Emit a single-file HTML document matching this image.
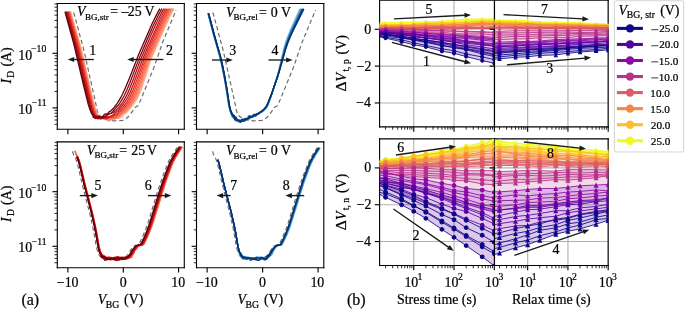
<!DOCTYPE html>
<html><head><meta charset="utf-8"><title>figure</title>
<style>
html,body{margin:0;padding:0;background:#fff;width:685px;height:310px;overflow:hidden}
.wrap{position:relative;width:685px;height:310px}
svg{display:block;position:absolute;left:0;top:0}
svg.o{font-family:"Liberation Serif",serif;fill:#000;will-change:transform}
svg.o text{stroke:#000;stroke-width:0.22px}
</style></head><body><div class="wrap">

<svg class="g" width="685" height="310" viewBox="0 0 493.2 223.2" version="1.1">
<defs>
<style type="text/css">*{stroke-linejoin: round; stroke-linecap: butt}</style>
</defs>
<g id="figure_1">
<g id="patch_1">
<path d="M 0 223.2 
L 493.2 223.2 
L 493.2 0 
L 0 0 
z
" style="fill: #ffffff"/>
</g>
<g id="axes_1">
<g id="patch_2">
<path d="M 41.25 93.09 
L 132.69 93.09 
L 132.69 2.52 
L 41.25 2.52 
z
" style="fill: #ffffff"/>
</g>
<g id="matplotlib.axis_1">
<g id="xtick_1">
<g id="line2d_1">
<defs>
<path id="m1cd49489bd" d="M 0 0 
L 0 3.5 
" style="stroke: #000000; stroke-width: 0.8"/>
</defs>
<g>
<use href="#m1cd49489bd" x="48.88" y="93.09" style="stroke: #000000; stroke-width: 0.8"/>
</g>
</g>
</g>
<g id="xtick_2">
<g id="line2d_2">
<g>
<use href="#m1cd49489bd" x="88.77" y="93.09" style="stroke: #000000; stroke-width: 0.8"/>
</g>
</g>
</g>
<g id="xtick_3">
<g id="line2d_3">
<g>
<use href="#m1cd49489bd" x="128.59" y="93.09" style="stroke: #000000; stroke-width: 0.8"/>
</g>
</g>
</g>
</g>
<g id="matplotlib.axis_2">
<g id="ytick_1">
<g id="line2d_4">
<defs>
<path id="m6b28ea1482" d="M 0 0 
L -3.5 0 
" style="stroke: #000000; stroke-width: 0.8"/>
</defs>
<g>
<use href="#m6b28ea1482" x="41.25" y="38.37" style="stroke: #000000; stroke-width: 0.8"/>
</g>
</g>
</g>
<g id="ytick_2">
<g id="line2d_5">
<g>
<use href="#m6b28ea1482" x="41.25" y="77.68" style="stroke: #000000; stroke-width: 0.8"/>
</g>
</g>
</g>
<g id="ytick_3">
<g id="line2d_6">
<defs>
<path id="m0d16899ba4" d="M 0 0 
L -2 0 
" style="stroke: #000000; stroke-width: 0.6"/>
</defs>
<g>
<use href="#m0d16899ba4" x="41.25" y="26.54" style="stroke: #000000; stroke-width: 0.6"/>
</g>
</g>
</g>
<g id="ytick_4">
<g id="line2d_7">
<g>
<use href="#m0d16899ba4" x="41.25" y="19.61" style="stroke: #000000; stroke-width: 0.6"/>
</g>
</g>
</g>
<g id="ytick_5">
<g id="line2d_8">
<g>
<use href="#m0d16899ba4" x="41.25" y="14.70" style="stroke: #000000; stroke-width: 0.6"/>
</g>
</g>
</g>
<g id="ytick_6">
<g id="line2d_9">
<g>
<use href="#m0d16899ba4" x="41.25" y="10.89" style="stroke: #000000; stroke-width: 0.6"/>
</g>
</g>
</g>
<g id="ytick_7">
<g id="line2d_10">
<g>
<use href="#m0d16899ba4" x="41.25" y="7.78" style="stroke: #000000; stroke-width: 0.6"/>
</g>
</g>
</g>
<g id="ytick_8">
<g id="line2d_11">
<g>
<use href="#m0d16899ba4" x="41.25" y="5.15" style="stroke: #000000; stroke-width: 0.6"/>
</g>
</g>
</g>
<g id="ytick_9">
<g id="line2d_12">
<g>
<use href="#m0d16899ba4" x="41.25" y="2.87" style="stroke: #000000; stroke-width: 0.6"/>
</g>
</g>
</g>
<g id="ytick_10">
<g id="line2d_13">
<g>
<use href="#m0d16899ba4" x="41.25" y="65.85" style="stroke: #000000; stroke-width: 0.6"/>
</g>
</g>
</g>
<g id="ytick_11">
<g id="line2d_14">
<g>
<use href="#m0d16899ba4" x="41.25" y="58.93" style="stroke: #000000; stroke-width: 0.6"/>
</g>
</g>
</g>
<g id="ytick_12">
<g id="line2d_15">
<g>
<use href="#m0d16899ba4" x="41.25" y="54.01" style="stroke: #000000; stroke-width: 0.6"/>
</g>
</g>
</g>
<g id="ytick_13">
<g id="line2d_16">
<g>
<use href="#m0d16899ba4" x="41.25" y="50.21" style="stroke: #000000; stroke-width: 0.6"/>
</g>
</g>
</g>
<g id="ytick_14">
<g id="line2d_17">
<g>
<use href="#m0d16899ba4" x="41.25" y="47.09" style="stroke: #000000; stroke-width: 0.6"/>
</g>
</g>
</g>
<g id="ytick_15">
<g id="line2d_18">
<g>
<use href="#m0d16899ba4" x="41.25" y="44.46" style="stroke: #000000; stroke-width: 0.6"/>
</g>
</g>
</g>
<g id="ytick_16">
<g id="line2d_19">
<g>
<use href="#m0d16899ba4" x="41.25" y="42.18" style="stroke: #000000; stroke-width: 0.6"/>
</g>
</g>
</g>
<g id="ytick_17">
<g id="line2d_20">
<g>
<use href="#m0d16899ba4" x="41.25" y="40.17" style="stroke: #000000; stroke-width: 0.6"/>
</g>
</g>
</g>
<g id="ytick_18">
<g id="line2d_21">
<g>
<use href="#m0d16899ba4" x="41.25" y="89.52" style="stroke: #000000; stroke-width: 0.6"/>
</g>
</g>
</g>
<g id="ytick_19">
<g id="line2d_22">
<g>
<use href="#m0d16899ba4" x="41.25" y="86.40" style="stroke: #000000; stroke-width: 0.6"/>
</g>
</g>
</g>
<g id="ytick_20">
<g id="line2d_23">
<g>
<use href="#m0d16899ba4" x="41.25" y="83.77" style="stroke: #000000; stroke-width: 0.6"/>
</g>
</g>
</g>
<g id="ytick_21">
<g id="line2d_24">
<g>
<use href="#m0d16899ba4" x="41.25" y="81.49" style="stroke: #000000; stroke-width: 0.6"/>
</g>
</g>
</g>
<g id="ytick_22">
<g id="line2d_25">
<g>
<use href="#m0d16899ba4" x="41.25" y="79.48" style="stroke: #000000; stroke-width: 0.6"/>
</g>
</g>
</g>
</g>
<g id="line2d_26">
<path d="M 53.06 9 
L 54.18 13.05 
L 57.64 26.01 
L 59.63 33.10 
L 61.39 40.53 
L 69.22 75.79 
L 69.89 79.48 
L 70.46 81.39 
L 70.90 82.28 
L 71.58 83.13 
L 72.58 84.02 
L 73.88 84.87 
L 75.58 85.67 
L 77.83 86.44 
L 79.37 86.75 
L 82.52 86.97 
L 85.45 86.92 
L 88.28 86.67 
L 89.26 86.26 
L 91.06 85.13 
L 92.29 84.11 
L 93.35 82.96 
L 94.57 81.24 
L 97.13 77.48 
L 97.70 77.03 
L 99.09 76.38 
L 99.53 75.76 
L 100.59 73.54 
L 101.84 70.65 
L 109.80 51.16 
L 111.27 47.50 
L 113.13 42.02 
L 117.06 30.58 
L 119.75 24.00 
L 126.79 7.27 
L 126.79 7.27 
" clip-path="url(#pe8991cb6fa)" style="fill: none; stroke-dasharray: 3.06,2.04; stroke-dashoffset: 0; stroke: #6b6b6b; stroke-width: 0.85"/>
</g>
<g id="patch_3">
<path d="M 41.25 93.09 
L 41.25 2.52 
" style="fill: none; stroke: #000000; stroke-width: 0.8; stroke-linejoin: miter; stroke-linecap: square"/>
</g>
<g id="patch_4">
<path d="M 132.69 93.09 
L 132.69 2.52 
" style="fill: none; stroke: #000000; stroke-width: 0.8; stroke-linejoin: miter; stroke-linecap: square"/>
</g>
<g id="patch_5">
<path d="M 41.25 93.09 
L 132.69 93.09 
" style="fill: none; stroke: #000000; stroke-width: 0.8; stroke-linejoin: miter; stroke-linecap: square"/>
</g>
<g id="patch_6">
<path d="M 41.25 2.52 
L 132.69 2.52 
" style="fill: none; stroke: #000000; stroke-width: 0.8; stroke-linejoin: miter; stroke-linecap: square"/>
</g>
<g id="line2d_27">
<path d="M 50.90 8.85 
L 54.89 22.79 
L 57.87 32.98 
L 59.32 39.02 
L 66.30 69.58 
L 68.22 77.14 
L 69.01 79.73 
L 69.37 80.45 
L 69.47 80.91 
L 69.76 81.47 
L 70.47 82.13 
L 70.65 82.82 
L 70.92 83.29 
L 72.61 84.37 
L 72.47 84.64 
L 74.75 85.56 
L 75.16 85.98 
L 76.89 86.23 
L 76.51 86.21 
L 77.14 85.95 
L 79.09 84.58 
L 79.50 84.58 
L 81.00 84.37 
L 81.67 84.72 
L 82.29 84.61 
L 83.60 84.05 
L 84.27 84.24 
L 84.51 84.76 
L 85.35 85.21 
L 87.34 84.35 
L 88.44 84.19 
L 88.11 83.13 
L 89.11 82.23 
L 89.98 81.99 
L 90.72 81.33 
L 91.07 80.76 
L 91.77 80.36 
L 92.07 79.74 
L 94.06 77.60 
L 95.87 75.39 
L 97.55 73.04 
L 98.88 70.82 
L 100.11 68.31 
L 101.46 64.95 
L 103.50 59.02 
L 105.18 53.85 
L 107.97 44.95 
L 109.46 41.10 
L 111.96 35.40 
L 115.24 27.78 
L 119.16 18.76 
L 122.80 11.03 
L 124.99 6.62 
L 124.99 6.62 
" clip-path="url(#pe8991cb6fa)" style="fill: none; stroke: #fcc4ad; stroke-width: 0.95; stroke-linecap: square"/>
</g>
<g id="line2d_28">
<path d="M 50.85 8.85 
L 54.84 22.79 
L 57.82 32.97 
L 59.26 39.01 
L 66.25 69.55 
L 68.35 77.85 
L 68.75 79.15 
L 69.37 80.36 
L 69.34 80.90 
L 70.38 82.65 
L 71.05 82.66 
L 70.45 83.23 
L 71.40 83.99 
L 72.51 84.43 
L 72.29 84.71 
L 73.10 84.53 
L 75.20 84.67 
L 75.30 84.89 
L 76.55 85.63 
L 76.91 85.71 
L 78.26 84.22 
L 78.43 83.79 
L 79.35 85.64 
L 79.37 86.45 
L 80.44 85.15 
L 81.26 84.47 
L 82.28 84.84 
L 82.83 84.71 
L 83.07 84.42 
L 84.13 84.79 
L 84.90 84.85 
L 86.46 83.75 
L 86.68 83.12 
L 88.36 82.52 
L 88.73 82.11 
L 89.71 81.48 
L 90.46 81.28 
L 91.65 80.27 
L 91.95 79.69 
L 93.14 78.52 
L 95.28 75.97 
L 97.43 73.00 
L 98.76 70.78 
L 99.99 68.27 
L 101.33 64.91 
L 103.38 58.99 
L 105.06 53.82 
L 107.86 44.93 
L 109.35 41.08 
L 111.85 35.38 
L 115.12 27.77 
L 119.04 18.75 
L 122.68 11.03 
L 124.87 6.62 
L 124.87 6.62 
" clip-path="url(#pe8991cb6fa)" style="fill: none; stroke: #fcbba1; stroke-width: 0.95; stroke-linecap: square"/>
</g>
<g id="line2d_29">
<path d="M 50.74 8.85 
L 54.94 23.51 
L 57.49 32.19 
L 58.96 38.22 
L 66.98 72.98 
L 68.62 79.10 
L 68.94 79.93 
L 69.03 80.63 
L 69.46 81.10 
L 69.33 81.93 
L 69.56 82.60 
L 70.29 82.74 
L 70.79 83.26 
L 71.53 83.19 
L 71.26 83.52 
L 73.40 84.60 
L 74.58 84.82 
L 74.54 85.69 
L 75.55 85.92 
L 75.73 85.16 
L 76.57 84.81 
L 77.25 84.95 
L 78.50 85.40 
L 78.34 85.83 
L 79.18 85.69 
L 80.52 84.98 
L 81.79 84.55 
L 81.75 84.31 
L 82.50 84.06 
L 83.00 84.26 
L 84.06 84.89 
L 84.58 85.44 
L 85.75 85.08 
L 85.70 84.41 
L 85.97 83.81 
L 86.80 83.94 
L 87.35 83.72 
L 87.73 83.31 
L 88.96 82.36 
L 89.44 81.65 
L 89.49 81.32 
L 90.51 80.98 
L 91.81 79.52 
L 94.19 76.89 
L 96.71 73.56 
L 98.22 71.14 
L 99.37 68.87 
L 100.76 65.55 
L 102.58 60.39 
L 105.00 53.01 
L 107.32 45.61 
L 108.78 41.75 
L 111.26 36.05 
L 114.64 28.22 
L 118.75 18.73 
L 122.40 11.02 
L 124.58 6.62 
L 124.58 6.62 
" clip-path="url(#pe8991cb6fa)" style="fill: none; stroke: #fcad90; stroke-width: 0.95; stroke-linecap: square"/>
</g>
<g id="line2d_30">
<path d="M 50.57 8.85 
L 54.75 23.49 
L 57.29 32.15 
L 58.76 38.17 
L 66.58 72.11 
L 68.31 78.84 
L 68.60 79.54 
L 69.06 80.35 
L 69.05 80.91 
L 69.33 82.01 
L 69.54 83.27 
L 70.22 83.94 
L 70.57 83.66 
L 70.70 83.14 
L 71.76 83.14 
L 72.36 84.13 
L 73.32 84.08 
L 74.94 85.12 
L 75.18 85.49 
L 76.11 84.03 
L 78.23 85.21 
L 78.30 86.19 
L 79.61 86.39 
L 80.19 85.94 
L 81.28 85.51 
L 81.59 85.92 
L 82.05 86.18 
L 83.41 85.39 
L 84.32 84.48 
L 84.81 83.78 
L 85.77 84.37 
L 86.49 83.90 
L 87.00 82.91 
L 88.02 82.59 
L 89.10 81.24 
L 89.88 81.14 
L 90.60 80.68 
L 90.88 80.10 
L 91.36 79.36 
L 92.80 77.93 
L 94.60 75.75 
L 96.28 73.42 
L 97.77 71.00 
L 98.91 68.73 
L 100.30 65.41 
L 102.13 60.26 
L 104.56 52.90 
L 106.90 45.52 
L 108.37 41.68 
L 110.84 35.99 
L 114.21 28.17 
L 118.32 18.70 
L 121.96 11.01 
L 124.15 6.62 
L 124.15 6.62 
" clip-path="url(#pe8991cb6fa)" style="fill: none; stroke: #fc9b7c; stroke-width: 0.95; stroke-linecap: square"/>
</g>
<g id="line2d_31">
<path d="M 50.34 8.85 
L 54.73 24.19 
L 57.04 32.10 
L 58.49 38.10 
L 66.31 71.96 
L 68.30 79.44 
L 68.83 80.16 
L 68.81 80.56 
L 69.09 81.35 
L 69.68 82.27 
L 69.00 82.86 
L 70.17 83.32 
L 70.81 83.95 
L 72.02 84.47 
L 71.84 85.11 
L 73.36 84.92 
L 74.19 84.57 
L 73.72 84.41 
L 74.78 84.83 
L 75.81 85.36 
L 76.64 85.58 
L 77.17 85.83 
L 78.08 86.98 
L 78.80 86.96 
L 78.95 86.03 
L 80.22 85.74 
L 80.27 86.24 
L 80.73 86.02 
L 81.36 85.27 
L 83.18 85.11 
L 83.46 85.23 
L 84.94 84.91 
L 84.20 84.58 
L 85.29 83.79 
L 86.18 82.75 
L 86.69 81.80 
L 87.27 81.55 
L 87.80 81.83 
L 88.28 81.72 
L 88.45 81.35 
L 90.09 80.38 
L 90.37 79.88 
L 92.76 77.18 
L 94.83 74.52 
L 96.42 72.14 
L 97.77 69.69 
L 98.94 67.14 
L 100.42 63.28 
L 103.37 54.74 
L 106.79 44.21 
L 108.32 40.40 
L 117.75 18.67 
L 121.39 10.99 
L 123.58 6.62 
L 123.58 6.62 
" clip-path="url(#pe8991cb6fa)" style="fill: none; stroke: #fc8767; stroke-width: 0.95; stroke-linecap: square"/>
</g>
<g id="line2d_32">
<path d="M 50.07 8.85 
L 54.58 24.64 
L 56.72 32.04 
L 58.17 38.02 
L 65.97 71.77 
L 68.01 79.31 
L 68.28 79.97 
L 68.25 80.39 
L 68.41 81.35 
L 70.48 83.51 
L 70.73 83.33 
L 71.36 83.44 
L 71.57 83.87 
L 73.20 84.78 
L 73.11 85.25 
L 74.28 85.19 
L 74.93 85.66 
L 75.48 85.73 
L 76.51 85.13 
L 76.74 84.80 
L 77.29 84.75 
L 77.88 84.20 
L 78.85 84.25 
L 80.43 84.82 
L 80.15 84.99 
L 81.51 84.70 
L 82.12 84.77 
L 82.56 85.04 
L 83.31 84.96 
L 83.37 84.66 
L 85.37 84.16 
L 85.35 83.90 
L 86.16 83.18 
L 86.44 82.60 
L 87.26 81.94 
L 87.64 81.27 
L 88.41 80.99 
L 89.23 80.17 
L 89.81 79.76 
L 90.79 78.49 
L 92.11 76.97 
L 93.85 74.72 
L 95.45 72.35 
L 96.71 70.14 
L 97.91 67.62 
L 99.43 63.80 
L 102.43 55.30 
L 106.40 43.37 
L 108.27 38.87 
L 114.88 23.55 
L 117.92 16.76 
L 121.61 9.14 
L 122.89 6.62 
L 122.89 6.62 
" clip-path="url(#pe8991cb6fa)" style="fill: none; stroke: #fb7353; stroke-width: 0.95; stroke-linecap: square"/>
</g>
<g id="line2d_33">
<path d="M 49.74 8.85 
L 54.45 25.32 
L 56.54 32.70 
L 58.14 39.41 
L 63.34 62.09 
L 66.47 75.02 
L 67.14 77.50 
L 68.09 79.85 
L 68.49 80.35 
L 68.50 81.07 
L 68.94 82.00 
L 70.47 84.76 
L 71.00 84.54 
L 72.34 84.27 
L 72.62 84.33 
L 73.73 84.43 
L 74.21 84.79 
L 74.70 84.88 
L 76.35 85.71 
L 76.47 86.15 
L 77.17 85.43 
L 79.01 84.04 
L 80.37 83.67 
L 80.11 84.33 
L 79.81 84.65 
L 82.10 84.74 
L 81.79 84.61 
L 82.91 84.46 
L 83.41 84.19 
L 83.94 83.32 
L 84.64 82.95 
L 85.72 82.76 
L 85.80 82.57 
L 86.46 81.93 
L 87.33 81.44 
L 87.39 81.03 
L 87.89 80.39 
L 89.08 79.36 
L 90.04 78.22 
L 92.14 75.71 
L 93.80 73.39 
L 95.27 70.98 
L 96.74 68.05 
L 98.12 64.75 
L 100.51 58.23 
L 102.24 53.14 
L 104.89 45.13 
L 106.39 41.33 
L 109.46 34.30 
L 113.46 24.88 
L 116.57 17.87 
L 120.11 10.50 
L 122.07 6.62 
L 122.07 6.62 
" clip-path="url(#pe8991cb6fa)" style="fill: none; stroke: #f75c41; stroke-width: 0.95; stroke-linecap: square"/>
</g>
<g id="line2d_34">
<path d="M 49.37 8.85 
L 54.62 27.22 
L 56.24 33.11 
L 57.98 40.54 
L 61.85 57.42 
L 66.16 75.25 
L 67.49 79.91 
L 67.96 80.61 
L 68.28 81.39 
L 68.37 82.61 
L 69.09 82.80 
L 69.31 83.13 
L 70.34 83.57 
L 71.64 83.86 
L 71.78 84.65 
L 72.35 85.08 
L 73.53 85.27 
L 74.00 84.83 
L 75.66 84.16 
L 75.68 83.64 
L 78.85 84.12 
L 78.75 84.00 
L 79.88 84.18 
L 80.37 84.02 
L 80.75 84.29 
L 81.48 84.14 
L 81.87 83.51 
L 82.31 83.11 
L 83.63 83.38 
L 84.01 83.20 
L 85.26 81.74 
L 85.42 81.19 
L 86.67 80.54 
L 88.18 79.02 
L 91.25 75.41 
L 92.87 73.08 
L 94.31 70.68 
L 95.77 67.75 
L 97.14 64.45 
L 99.82 57.26 
L 101.78 51.47 
L 104.00 44.96 
L 105.79 40.48 
L 114.78 19.67 
L 118.04 12.76 
L 121.14 6.62 
L 121.14 6.62 
" clip-path="url(#pe8991cb6fa)" style="fill: none; stroke: #f14130; stroke-width: 0.95; stroke-linecap: square"/>
</g>
<g id="line2d_35">
<path d="M 48.96 8.85 
L 56.59 36.45 
L 65.65 74.95 
L 66.66 78.35 
L 67.22 80.34 
L 67.60 80.75 
L 67.75 81.20 
L 67.92 82.21 
L 69.04 82.97 
L 70.12 83.45 
L 70.72 83.93 
L 71.75 85.29 
L 72.34 85.79 
L 73.68 85.17 
L 73.51 85.03 
L 73.70 85.08 
L 75.22 84.82 
L 76.26 84.79 
L 76.22 85.37 
L 76.80 85.45 
L 77.40 85.03 
L 78.86 84.70 
L 78.81 84.28 
L 80.18 83.92 
L 80.30 83.44 
L 81.53 82.79 
L 82.50 82.76 
L 83.27 82.43 
L 84.88 81.26 
L 85.60 80.15 
L 86.33 79.71 
L 88.20 77.63 
L 90.25 75.07 
L 91.83 72.74 
L 93.24 70.33 
L 94.68 67.41 
L 96.33 63.41 
L 99.44 55.08 
L 103.73 42.88 
L 106.11 37.29 
L 110.71 26.57 
L 114.06 18.90 
L 117.22 12.27 
L 120.09 6.62 
L 120.09 6.62 
" clip-path="url(#pe8991cb6fa)" style="fill: none; stroke: #de2b25; stroke-width: 0.95; stroke-linecap: square"/>
</g>
<g id="line2d_36">
<path d="M 48.50 8.85 
L 55.89 35.59 
L 58.44 46.90 
L 61.86 61.39 
L 65.29 75.35 
L 66.28 78.80 
L 66.54 79.22 
L 67.19 81.38 
L 67.74 82.45 
L 67.60 82.88 
L 68.24 82.89 
L 68.38 83.08 
L 69.78 83.82 
L 71.50 84.39 
L 71.95 85.13 
L 72.64 84.68 
L 74.12 84.56 
L 74.56 83.87 
L 75.24 83.96 
L 76.22 84.68 
L 77.91 84.50 
L 78.59 84.58 
L 78.32 84.20 
L 80.81 83.42 
L 81.18 83.40 
L 81.22 82.88 
L 82.21 82.28 
L 82.49 81.65 
L 84.28 80.09 
L 84.81 79.94 
L 89.13 74.70 
L 90.67 72.35 
L 92.39 69.29 
L 93.78 66.34 
L 95.60 61.88 
L 98.69 53.60 
L 102.16 43.86 
L 104.19 38.97 
L 114.84 14.73 
L 118.24 7.96 
L 118.94 6.62 
L 118.94 6.62 
" clip-path="url(#pe8991cb6fa)" style="fill: none; stroke: #c9181d; stroke-width: 0.95; stroke-linecap: square"/>
</g>
<g id="line2d_37">
<path d="M 48.00 8.85 
L 55.13 34.72 
L 57.24 44.01 
L 59.86 55.25 
L 64.68 74.99 
L 65.85 78.85 
L 66.33 80.16 
L 66.62 80.76 
L 66.94 81.81 
L 67.38 82.79 
L 67.83 82.91 
L 67.55 82.88 
L 67.83 83.20 
L 70.27 85.15 
L 70.31 85.57 
L 72.11 85.23 
L 72.44 84.31 
L 72.45 83.85 
L 73.21 84.50 
L 74.31 84.84 
L 74.81 84.83 
L 75.71 84.60 
L 76.43 83.74 
L 76.96 82.87 
L 78.10 82.49 
L 78.04 82.14 
L 80.05 81.58 
L 82.16 80.87 
L 82.34 80.36 
L 83.21 79.78 
L 83.53 79.43 
L 84.63 78.40 
L 86.72 75.93 
L 88.33 73.65 
L 90.16 70.63 
L 91.63 67.76 
L 93.25 64.08 
L 96.31 56.36 
L 98.76 49.51 
L 100.95 43.63 
L 103.28 38.09 
L 109.70 23.09 
L 112.49 16.93 
L 115.71 10.41 
L 117.68 6.62 
L 117.68 6.62 
" clip-path="url(#pe8991cb6fa)" style="fill: none; stroke: #b11218; stroke-width: 0.95; stroke-linecap: square"/>
</g>
<g id="line2d_38">
<path d="M 47.45 8.85 
L 54.03 32.64 
L 55.74 39.93 
L 59.22 54.99 
L 64.22 75.34 
L 65.41 79.12 
L 65.92 80.40 
L 66.15 81.48 
L 66.72 82.51 
L 67.30 82.41 
L 67.70 82.97 
L 67.95 84.62 
L 68.37 85.35 
L 69.94 84.61 
L 69.99 84.29 
L 70.88 84.55 
L 71.79 84.17 
L 72.22 84.42 
L 73.29 84.84 
L 74.07 84.95 
L 74.92 84.70 
L 74.74 84.27 
L 75.68 83.82 
L 76.52 82.93 
L 77.44 82.15 
L 77.02 82.05 
L 78.36 82.23 
L 80.51 81.00 
L 81.00 80.65 
L 82.01 79.40 
L 85.85 74.87 
L 87.63 72.13 
L 89.33 69.09 
L 91.04 65.50 
L 93.36 59.95 
L 95.80 53.68 
L 99.83 42.94 
L 103.07 35.37 
L 108.04 23.67 
L 110.81 17.53 
L 114.11 10.82 
L 116.31 6.62 
L 116.31 6.62 
" clip-path="url(#pe8991cb6fa)" style="fill: none; stroke: #900a12; stroke-width: 0.95; stroke-linecap: square"/>
</g>
<g id="line2d_39">
<path d="M 46.87 8.85 
L 52.87 30.59 
L 54.45 37.09 
L 59.93 60.49 
L 63.64 75.40 
L 64.70 78.73 
L 65.82 81.55 
L 66.08 81.66 
L 66.35 82.32 
L 67.41 84.36 
L 67.11 84.50 
L 68.14 84.28 
L 68.92 84.29 
L 69.31 84.99 
L 69.56 85.02 
L 70.70 83.97 
L 71.54 83.71 
L 73.40 84.94 
L 73.35 84.83 
L 74.51 83.02 
L 75.25 82.55 
L 75.61 82.06 
L 75.97 82.13 
L 77.07 82.20 
L 77.57 81.76 
L 78.47 80.58 
L 79.69 80.07 
L 80.12 79.50 
L 82.03 77.55 
L 83.70 75.42 
L 85.10 73.35 
L 86.88 70.35 
L 88.37 67.52 
L 90.32 63.22 
L 93.63 55.19 
L 99.77 39.50 
L 109.66 16.78 
L 112.86 10.35 
L 114.84 6.62 
L 114.84 6.62 
" clip-path="url(#pe8991cb6fa)" style="fill: none; stroke: #67000d; stroke-width: 0.95; stroke-linecap: square"/>
</g>
</g>
<g id="axes_2">
<g id="patch_7">
<path d="M 141.48 93.09 
L 233.13 93.09 
L 233.13 2.52 
L 141.48 2.52 
z
" style="fill: #ffffff"/>
</g>
<g id="matplotlib.axis_3">
<g id="xtick_4">
<g id="line2d_40">
<g>
<use href="#m1cd49489bd" x="149.13" y="93.09" style="stroke: #000000; stroke-width: 0.8"/>
</g>
</g>
</g>
<g id="xtick_5">
<g id="line2d_41">
<g>
<use href="#m1cd49489bd" x="189.11" y="93.09" style="stroke: #000000; stroke-width: 0.8"/>
</g>
</g>
</g>
<g id="xtick_6">
<g id="line2d_42">
<g>
<use href="#m1cd49489bd" x="229.02" y="93.09" style="stroke: #000000; stroke-width: 0.8"/>
</g>
</g>
</g>
</g>
<g id="matplotlib.axis_4">
<g id="ytick_23">
<g id="line2d_43">
<g>
<use href="#m6b28ea1482" x="141.48" y="38.37" style="stroke: #000000; stroke-width: 0.8"/>
</g>
</g>
</g>
<g id="ytick_24">
<g id="line2d_44">
<g>
<use href="#m6b28ea1482" x="141.48" y="77.68" style="stroke: #000000; stroke-width: 0.8"/>
</g>
</g>
</g>
<g id="ytick_25">
<g id="line2d_45">
<g>
<use href="#m0d16899ba4" x="141.48" y="26.54" style="stroke: #000000; stroke-width: 0.6"/>
</g>
</g>
</g>
<g id="ytick_26">
<g id="line2d_46">
<g>
<use href="#m0d16899ba4" x="141.48" y="19.61" style="stroke: #000000; stroke-width: 0.6"/>
</g>
</g>
</g>
<g id="ytick_27">
<g id="line2d_47">
<g>
<use href="#m0d16899ba4" x="141.48" y="14.70" style="stroke: #000000; stroke-width: 0.6"/>
</g>
</g>
</g>
<g id="ytick_28">
<g id="line2d_48">
<g>
<use href="#m0d16899ba4" x="141.48" y="10.89" style="stroke: #000000; stroke-width: 0.6"/>
</g>
</g>
</g>
<g id="ytick_29">
<g id="line2d_49">
<g>
<use href="#m0d16899ba4" x="141.48" y="7.78" style="stroke: #000000; stroke-width: 0.6"/>
</g>
</g>
</g>
<g id="ytick_30">
<g id="line2d_50">
<g>
<use href="#m0d16899ba4" x="141.48" y="5.15" style="stroke: #000000; stroke-width: 0.6"/>
</g>
</g>
</g>
<g id="ytick_31">
<g id="line2d_51">
<g>
<use href="#m0d16899ba4" x="141.48" y="2.87" style="stroke: #000000; stroke-width: 0.6"/>
</g>
</g>
</g>
<g id="ytick_32">
<g id="line2d_52">
<g>
<use href="#m0d16899ba4" x="141.48" y="65.85" style="stroke: #000000; stroke-width: 0.6"/>
</g>
</g>
</g>
<g id="ytick_33">
<g id="line2d_53">
<g>
<use href="#m0d16899ba4" x="141.48" y="58.93" style="stroke: #000000; stroke-width: 0.6"/>
</g>
</g>
</g>
<g id="ytick_34">
<g id="line2d_54">
<g>
<use href="#m0d16899ba4" x="141.48" y="54.01" style="stroke: #000000; stroke-width: 0.6"/>
</g>
</g>
</g>
<g id="ytick_35">
<g id="line2d_55">
<g>
<use href="#m0d16899ba4" x="141.48" y="50.21" style="stroke: #000000; stroke-width: 0.6"/>
</g>
</g>
</g>
<g id="ytick_36">
<g id="line2d_56">
<g>
<use href="#m0d16899ba4" x="141.48" y="47.09" style="stroke: #000000; stroke-width: 0.6"/>
</g>
</g>
</g>
<g id="ytick_37">
<g id="line2d_57">
<g>
<use href="#m0d16899ba4" x="141.48" y="44.46" style="stroke: #000000; stroke-width: 0.6"/>
</g>
</g>
</g>
<g id="ytick_38">
<g id="line2d_58">
<g>
<use href="#m0d16899ba4" x="141.48" y="42.18" style="stroke: #000000; stroke-width: 0.6"/>
</g>
</g>
</g>
<g id="ytick_39">
<g id="line2d_59">
<g>
<use href="#m0d16899ba4" x="141.48" y="40.17" style="stroke: #000000; stroke-width: 0.6"/>
</g>
</g>
</g>
<g id="ytick_40">
<g id="line2d_60">
<g>
<use href="#m0d16899ba4" x="141.48" y="89.52" style="stroke: #000000; stroke-width: 0.6"/>
</g>
</g>
</g>
<g id="ytick_41">
<g id="line2d_61">
<g>
<use href="#m0d16899ba4" x="141.48" y="86.40" style="stroke: #000000; stroke-width: 0.6"/>
</g>
</g>
</g>
<g id="ytick_42">
<g id="line2d_62">
<g>
<use href="#m0d16899ba4" x="141.48" y="83.77" style="stroke: #000000; stroke-width: 0.6"/>
</g>
</g>
</g>
<g id="ytick_43">
<g id="line2d_63">
<g>
<use href="#m0d16899ba4" x="141.48" y="81.49" style="stroke: #000000; stroke-width: 0.6"/>
</g>
</g>
</g>
<g id="ytick_44">
<g id="line2d_64">
<g>
<use href="#m0d16899ba4" x="141.48" y="79.48" style="stroke: #000000; stroke-width: 0.6"/>
</g>
</g>
</g>
</g>
<g id="line2d_65">
<path d="M 153.31 9 
L 154.43 13.05 
L 157.90 26.01 
L 159.90 33.10 
L 161.66 40.53 
L 169.51 75.79 
L 170.18 79.48 
L 170.75 81.39 
L 171.19 82.28 
L 171.88 83.13 
L 172.87 84.02 
L 174.18 84.87 
L 175.89 85.67 
L 178.14 86.44 
L 179.69 86.75 
L 182.84 86.97 
L 185.78 86.92 
L 188.61 86.67 
L 189.59 86.26 
L 191.41 85.13 
L 192.63 84.11 
L 193.70 82.96 
L 194.92 81.24 
L 197.48 77.48 
L 198.05 77.03 
L 199.45 76.38 
L 199.89 75.76 
L 200.95 73.54 
L 202.21 70.65 
L 210.19 51.16 
L 211.66 47.50 
L 213.53 42.02 
L 217.47 30.58 
L 220.16 24.00 
L 227.21 7.27 
L 227.21 7.27 
" clip-path="url(#pd95a757dce)" style="fill: none; stroke-dasharray: 3.06,2.04; stroke-dashoffset: 0; stroke: #6b6b6b; stroke-width: 0.85"/>
</g>
<g id="patch_8">
<path d="M 141.48 93.09 
L 141.48 2.52 
" style="fill: none; stroke: #000000; stroke-width: 0.8; stroke-linejoin: miter; stroke-linecap: square"/>
</g>
<g id="patch_9">
<path d="M 233.13 93.09 
L 233.13 2.52 
" style="fill: none; stroke: #000000; stroke-width: 0.8; stroke-linejoin: miter; stroke-linecap: square"/>
</g>
<g id="patch_10">
<path d="M 141.48 93.09 
L 233.13 93.09 
" style="fill: none; stroke: #000000; stroke-width: 0.8; stroke-linejoin: miter; stroke-linecap: square"/>
</g>
<g id="patch_11">
<path d="M 141.48 2.52 
L 233.13 2.52 
" style="fill: none; stroke: #000000; stroke-width: 0.8; stroke-linejoin: miter; stroke-linecap: square"/>
</g>
<g id="line2d_66">
<path d="M 149.77 10.08 
L 153.82 25.40 
L 156.06 33.27 
L 158.29 41.15 
L 159.56 46.62 
L 161.17 54.64 
L 162.74 63.47 
L 164.63 75.92 
L 165.42 79.02 
L 165.69 79.66 
L 165.79 80.42 
L 166.58 81.16 
L 166.60 81.69 
L 166.87 82.62 
L 167.60 83.55 
L 168.71 84.29 
L 169.65 85.76 
L 170.09 85.66 
L 170.92 86.25 
L 171.19 87.34 
L 172.21 87.56 
L 172.36 87.05 
L 172.81 86.70 
L 174.29 86.50 
L 174.29 86.67 
L 175.44 86.51 
L 176.34 85.95 
L 176.07 86.12 
L 177.68 86.22 
L 178.69 85.61 
L 178.68 85.04 
L 180.17 84.58 
L 179.77 83.86 
L 180.21 83.80 
L 181.41 83.96 
L 181.96 83.84 
L 183.68 83.09 
L 184.35 82.90 
L 184.85 82.55 
L 185.96 82.03 
L 186.13 81.68 
L 187.49 81.05 
L 188.22 80.82 
L 188.73 80.49 
L 191.90 77.45 
L 192.86 75.77 
L 193.62 73.87 
L 195.85 67.41 
L 199.61 55.13 
L 200.75 50.48 
L 204.31 35.23 
L 205.41 31.36 
L 206.95 26.84 
L 208.72 22.42 
L 215.61 6.84 
L 215.61 6.84 
" clip-path="url(#pd95a757dce)" style="fill: none; stroke: #a6cee4; stroke-linecap: square"/>
</g>
<g id="line2d_67">
<path d="M 149.86 10.08 
L 153.90 25.40 
L 156.14 33.27 
L 158.37 41.15 
L 159.65 46.62 
L 161.26 54.64 
L 162.82 63.47 
L 164.72 75.93 
L 165.37 78.61 
L 165.71 79.67 
L 166.14 80.08 
L 166.46 80.83 
L 166.59 81.76 
L 166.99 82.99 
L 167.06 83.91 
L 166.90 83.90 
L 167.99 84.13 
L 169.99 86.46 
L 171.42 86.96 
L 171.56 86.62 
L 172.25 86.59 
L 172.70 87.06 
L 173.50 87.08 
L 175.06 86.40 
L 175.21 86.92 
L 176.22 87.17 
L 176.58 86.87 
L 177.53 86.52 
L 178.34 85.69 
L 178.70 84.23 
L 179.56 83.50 
L 180.60 83.63 
L 180.85 83.39 
L 182.10 83.25 
L 183.71 82.33 
L 184.37 81.94 
L 184.54 82.14 
L 185.45 82.23 
L 187.00 81.57 
L 187.40 81.17 
L 189.85 79.43 
L 190.86 78.49 
L 192.06 77.07 
L 192.97 75.31 
L 194.25 71.94 
L 195.58 68.13 
L 199.66 55.13 
L 200.84 50.48 
L 204.51 35.23 
L 205.64 31.36 
L 207.22 26.84 
L 209.02 22.42 
L 216.03 6.84 
L 216.03 6.84 
" clip-path="url(#pd95a757dce)" style="fill: none; stroke: #82bbdb; stroke-linecap: square"/>
</g>
<g id="line2d_68">
<path d="M 149.94 10.08 
L 153.98 25.40 
L 156.23 33.27 
L 158.46 41.15 
L 159.73 46.62 
L 161.34 54.64 
L 162.90 63.47 
L 164.79 75.93 
L 165.75 79.83 
L 166.53 81.56 
L 166.34 82.19 
L 167.14 82.96 
L 167.01 83.55 
L 167.84 84.30 
L 168.02 85.25 
L 168.91 85.27 
L 168.78 85.01 
L 169.44 85.75 
L 170.10 86.27 
L 170.61 86.48 
L 171.31 86.25 
L 172.68 86.32 
L 173.53 86.43 
L 173.98 86.35 
L 175.60 86.73 
L 176.42 86.01 
L 176.51 85.43 
L 177.78 85.52 
L 178.63 85.27 
L 179.18 84.63 
L 180.60 84.02 
L 180.39 83.58 
L 182.28 83.67 
L 183.32 82.84 
L 184.82 82.96 
L 185.91 82.40 
L 186.64 81.63 
L 187.95 80.88 
L 189.83 79.39 
L 191.69 77.47 
L 192.32 76.45 
L 193.17 74.60 
L 195.29 68.85 
L 199.36 56.34 
L 200.62 51.71 
L 205.49 32.57 
L 206.78 28.74 
L 208.52 24.27 
L 210.19 20.60 
L 213.40 13.76 
L 216.45 6.84 
L 216.45 6.84 
" clip-path="url(#pd95a757dce)" style="fill: none; stroke: #5fa6d1; stroke-linecap: square"/>
</g>
<g id="line2d_69">
<path d="M 150.02 10.08 
L 154.06 25.40 
L 156.31 33.27 
L 158.54 41.15 
L 159.81 46.62 
L 161.42 54.64 
L 162.98 63.47 
L 164.88 75.92 
L 165.78 79.78 
L 167.22 82.45 
L 167.14 82.80 
L 167.48 82.75 
L 168.16 83.10 
L 169.14 85.82 
L 169.16 86.71 
L 170.19 87.16 
L 171.18 87.43 
L 172.06 87.07 
L 171.79 87.08 
L 173.38 87.59 
L 173.29 88.24 
L 173.67 87.86 
L 175.31 86.78 
L 175.05 86.63 
L 175.77 86.65 
L 177.15 86.40 
L 178.15 85.50 
L 178.61 85.57 
L 179.09 85.80 
L 180.11 85.34 
L 180.09 84.57 
L 181.13 84.01 
L 182.97 83.59 
L 183.84 83.61 
L 184.37 83.29 
L 184.53 82.58 
L 185.87 81.55 
L 186.68 81.50 
L 187.40 81.01 
L 187.82 80.55 
L 188.43 80.49 
L 189.01 80.06 
L 191.85 77.07 
L 192.78 75.31 
L 194.38 71.24 
L 195.73 67.41 
L 199.76 55.13 
L 201.01 50.48 
L 204.92 35.23 
L 206.11 31.36 
L 207.76 26.84 
L 209.63 22.42 
L 216.87 6.84 
L 216.87 6.84 
" clip-path="url(#pd95a757dce)" style="fill: none; stroke: #4191c6; stroke-linecap: square"/>
</g>
<g id="line2d_70">
<path d="M 150.10 10.08 
L 154.15 25.40 
L 156.39 33.27 
L 158.62 41.15 
L 159.89 46.62 
L 161.50 54.64 
L 163.07 63.47 
L 164.96 75.92 
L 165.72 79.04 
L 166.21 80.69 
L 166.86 81.20 
L 166.70 81.71 
L 167.10 83.01 
L 167.77 83.75 
L 168.30 83.99 
L 168.31 84.72 
L 168.96 85.49 
L 168.67 85.54 
L 169.36 85.68 
L 170.47 86.28 
L 171.32 87.22 
L 171.72 87.47 
L 172.43 87.49 
L 173.44 86.76 
L 174.09 86.64 
L 175.03 87.22 
L 175.99 87.15 
L 176.69 86.68 
L 177.91 86.20 
L 179.04 85.21 
L 179.16 84.39 
L 180.30 84.03 
L 179.82 84.30 
L 180.71 84.13 
L 181.53 83.86 
L 182.40 83.41 
L 183.76 82.97 
L 184.35 82.82 
L 184.76 82.41 
L 185.31 82.09 
L 186.16 81.75 
L 186.58 81.42 
L 187.17 80.72 
L 187.75 80.34 
L 188.27 80.27 
L 188.90 80.01 
L 190.50 78.56 
L 191.46 77.45 
L 192.12 76.44 
L 192.99 74.60 
L 195.19 68.85 
L 199.44 56.34 
L 200.78 51.71 
L 205.94 32.57 
L 207.29 28.74 
L 209.09 24.27 
L 210.82 20.60 
L 214.14 13.76 
L 217.29 6.84 
L 217.29 6.84 
" clip-path="url(#pd95a757dce)" style="fill: none; stroke: #2979b9; stroke-linecap: square"/>
</g>
<g id="line2d_71">
<path d="M 150.19 10.08 
L 154.23 25.40 
L 156.47 33.27 
L 158.70 41.15 
L 159.98 46.62 
L 161.59 54.64 
L 163.15 63.47 
L 165.03 75.93 
L 165.65 78.64 
L 166.08 79.78 
L 166.26 80.41 
L 166.91 81.09 
L 166.75 81.60 
L 167.27 82.22 
L 167.79 82.52 
L 167.60 82.94 
L 168.88 84.48 
L 169.10 84.49 
L 170.01 84.77 
L 170.36 85.50 
L 170.90 86.29 
L 173.33 86.93 
L 174.40 86.93 
L 175.02 86.40 
L 175.08 85.88 
L 176.80 85.36 
L 178.28 85.57 
L 177.96 85.44 
L 179.14 84.32 
L 178.80 83.66 
L 179.87 83.49 
L 180.20 83.79 
L 181.73 84.33 
L 184.44 83.16 
L 184.40 82.83 
L 184.88 82.24 
L 186.58 81.39 
L 187.87 80.73 
L 188.11 80.31 
L 190.04 78.96 
L 191.65 77.07 
L 192.59 75.31 
L 193.96 71.94 
L 195.40 68.13 
L 199.87 55.13 
L 201.19 50.48 
L 205.33 35.23 
L 206.57 31.36 
L 208.29 26.84 
L 210.23 22.42 
L 217.71 6.84 
L 217.71 6.84 
" clip-path="url(#pd95a757dce)" style="fill: none; stroke: #1460a8; stroke-linecap: square"/>
</g>
<g id="line2d_72">
<path d="M 150.27 10.08 
L 154.31 25.40 
L 156.56 33.27 
L 158.79 41.15 
L 160.06 46.62 
L 161.67 54.64 
L 163.23 63.47 
L 165.12 75.93 
L 165.85 79.10 
L 167.36 83.00 
L 167.69 83.79 
L 167.62 84.02 
L 168.33 84.45 
L 169.42 84.61 
L 169.55 84.24 
L 170.07 84.43 
L 169.94 85.31 
L 171.37 86.38 
L 172.60 87.96 
L 173.92 87.42 
L 174.05 87.20 
L 175.06 87.39 
L 175.77 87.09 
L 176.57 85.78 
L 177.21 85.41 
L 176.87 85.22 
L 178.49 85.39 
L 179.52 84.81 
L 179.75 83.85 
L 181.27 84.13 
L 180.98 84.12 
L 182.22 83.33 
L 182.58 82.42 
L 183.45 82.34 
L 184.41 82.97 
L 185.04 82.35 
L 186.30 81.39 
L 186.90 80.98 
L 188.04 80.46 
L 189.91 78.77 
L 190.31 78.56 
L 191.53 77.06 
L 192.27 75.78 
L 193.41 73.14 
L 195.61 67.41 
L 199.92 55.13 
L 201.27 50.48 
L 205.53 35.23 
L 206.80 31.36 
L 208.56 26.84 
L 210.53 22.42 
L 218.13 6.84 
L 218.13 6.84 
" clip-path="url(#pd95a757dce)" style="fill: none; stroke: #08488e; stroke-linecap: square"/>
</g>
<g id="line2d_73">
<path d="M 150.35 10.08 
L 154.39 25.40 
L 156.64 33.27 
L 158.87 41.15 
L 160.14 46.62 
L 161.75 54.64 
L 163.31 63.47 
L 165.20 75.93 
L 166.12 79.76 
L 166.44 80.60 
L 166.54 81.41 
L 167.45 82.45 
L 167.67 83.19 
L 168.61 83.17 
L 168.66 83.74 
L 169.49 84.86 
L 168.95 85.66 
L 169.46 86.14 
L 170.17 86.46 
L 171.43 86.46 
L 171.24 86.51 
L 173.02 87.54 
L 173.90 86.86 
L 174.10 86.08 
L 174.90 85.97 
L 175.86 86.42 
L 175.66 86.32 
L 177.14 86.10 
L 179.89 84.35 
L 180.33 84.15 
L 181.06 84.21 
L 181.74 84.15 
L 181.69 83.69 
L 182.76 83.01 
L 183.29 82.91 
L 184.43 83.03 
L 184.58 82.72 
L 185.15 82.03 
L 185.59 81.77 
L 186.26 81.78 
L 187.46 80.65 
L 188.56 80.05 
L 190.16 78.51 
L 191.16 77.44 
L 192.17 75.78 
L 193.03 73.87 
L 195.57 67.41 
L 199.97 55.13 
L 201.36 50.48 
L 205.73 35.23 
L 207.04 31.36 
L 208.83 26.84 
L 210.83 22.42 
L 218.55 6.84 
L 218.55 6.84 
" clip-path="url(#pd95a757dce)" style="fill: none; stroke: #08306b; stroke-linecap: square"/>
</g>
</g>
<g id="axes_3">
<g id="patch_12">
<path d="M 41.25 192.74 
L 132.69 192.74 
L 132.69 102.16 
L 41.25 102.16 
z
" style="fill: #ffffff"/>
</g>
<g id="matplotlib.axis_5">
<g id="xtick_7">
<g id="line2d_74">
<g>
<use href="#m1cd49489bd" x="48.88" y="192.74" style="stroke: #000000; stroke-width: 0.8"/>
</g>
</g>
</g>
<g id="xtick_8">
<g id="line2d_75">
<g>
<use href="#m1cd49489bd" x="88.77" y="192.74" style="stroke: #000000; stroke-width: 0.8"/>
</g>
</g>
</g>
<g id="xtick_9">
<g id="line2d_76">
<g>
<use href="#m1cd49489bd" x="128.59" y="192.74" style="stroke: #000000; stroke-width: 0.8"/>
</g>
</g>
</g>
</g>
<g id="matplotlib.axis_6">
<g id="ytick_45">
<g id="line2d_77">
<g>
<use href="#m6b28ea1482" x="41.25" y="138.02" style="stroke: #000000; stroke-width: 0.8"/>
</g>
</g>
</g>
<g id="ytick_46">
<g id="line2d_78">
<g>
<use href="#m6b28ea1482" x="41.25" y="177.33" style="stroke: #000000; stroke-width: 0.8"/>
</g>
</g>
</g>
<g id="ytick_47">
<g id="line2d_79">
<g>
<use href="#m0d16899ba4" x="41.25" y="126.18" style="stroke: #000000; stroke-width: 0.6"/>
</g>
</g>
</g>
<g id="ytick_48">
<g id="line2d_80">
<g>
<use href="#m0d16899ba4" x="41.25" y="119.26" style="stroke: #000000; stroke-width: 0.6"/>
</g>
</g>
</g>
<g id="ytick_49">
<g id="line2d_81">
<g>
<use href="#m0d16899ba4" x="41.25" y="114.35" style="stroke: #000000; stroke-width: 0.6"/>
</g>
</g>
</g>
<g id="ytick_50">
<g id="line2d_82">
<g>
<use href="#m0d16899ba4" x="41.25" y="110.54" style="stroke: #000000; stroke-width: 0.6"/>
</g>
</g>
</g>
<g id="ytick_51">
<g id="line2d_83">
<g>
<use href="#m0d16899ba4" x="41.25" y="107.43" style="stroke: #000000; stroke-width: 0.6"/>
</g>
</g>
</g>
<g id="ytick_52">
<g id="line2d_84">
<g>
<use href="#m0d16899ba4" x="41.25" y="104.80" style="stroke: #000000; stroke-width: 0.6"/>
</g>
</g>
</g>
<g id="ytick_53">
<g id="line2d_85">
<g>
<use href="#m0d16899ba4" x="41.25" y="102.52" style="stroke: #000000; stroke-width: 0.6"/>
</g>
</g>
</g>
<g id="ytick_54">
<g id="line2d_86">
<g>
<use href="#m0d16899ba4" x="41.25" y="165.50" style="stroke: #000000; stroke-width: 0.6"/>
</g>
</g>
</g>
<g id="ytick_55">
<g id="line2d_87">
<g>
<use href="#m0d16899ba4" x="41.25" y="158.57" style="stroke: #000000; stroke-width: 0.6"/>
</g>
</g>
</g>
<g id="ytick_56">
<g id="line2d_88">
<g>
<use href="#m0d16899ba4" x="41.25" y="153.66" style="stroke: #000000; stroke-width: 0.6"/>
</g>
</g>
</g>
<g id="ytick_57">
<g id="line2d_89">
<g>
<use href="#m0d16899ba4" x="41.25" y="149.85" style="stroke: #000000; stroke-width: 0.6"/>
</g>
</g>
</g>
<g id="ytick_58">
<g id="line2d_90">
<g>
<use href="#m0d16899ba4" x="41.25" y="146.74" style="stroke: #000000; stroke-width: 0.6"/>
</g>
</g>
</g>
<g id="ytick_59">
<g id="line2d_91">
<g>
<use href="#m0d16899ba4" x="41.25" y="144.11" style="stroke: #000000; stroke-width: 0.6"/>
</g>
</g>
</g>
<g id="ytick_60">
<g id="line2d_92">
<g>
<use href="#m0d16899ba4" x="41.25" y="141.83" style="stroke: #000000; stroke-width: 0.6"/>
</g>
</g>
</g>
<g id="ytick_61">
<g id="line2d_93">
<g>
<use href="#m0d16899ba4" x="41.25" y="139.82" style="stroke: #000000; stroke-width: 0.6"/>
</g>
</g>
</g>
<g id="ytick_62">
<g id="line2d_94">
<g>
<use href="#m0d16899ba4" x="41.25" y="189.17" style="stroke: #000000; stroke-width: 0.6"/>
</g>
</g>
</g>
<g id="ytick_63">
<g id="line2d_95">
<g>
<use href="#m0d16899ba4" x="41.25" y="186.05" style="stroke: #000000; stroke-width: 0.6"/>
</g>
</g>
</g>
<g id="ytick_64">
<g id="line2d_96">
<g>
<use href="#m0d16899ba4" x="41.25" y="183.42" style="stroke: #000000; stroke-width: 0.6"/>
</g>
</g>
</g>
<g id="ytick_65">
<g id="line2d_97">
<g>
<use href="#m0d16899ba4" x="41.25" y="181.14" style="stroke: #000000; stroke-width: 0.6"/>
</g>
</g>
</g>
<g id="ytick_66">
<g id="line2d_98">
<g>
<use href="#m0d16899ba4" x="41.25" y="179.13" style="stroke: #000000; stroke-width: 0.6"/>
</g>
</g>
</g>
</g>
<g id="line2d_99">
<path d="M 52.2 109.00 
L 52.65 110.54 
L 53.20 111.74 
L 54.38 113.83 
L 55.40 116.80 
L 56.38 120.38 
L 57.68 126.14 
L 59.08 132.14 
L 64.96 155.09 
L 67.02 164.45 
L 67.89 169.17 
L 69.39 177.85 
L 70.12 180.66 
L 70.78 182.45 
L 71.53 183.81 
L 72.43 184.91 
L 73.06 185.40 
L 73.73 185.65 
L 75.33 185.97 
L 76.94 186.06 
L 83.88 186.10 
L 88.11 185.93 
L 89.13 185.58 
L 90.32 184.89 
L 91.14 184.27 
L 92.03 183.25 
L 93.08 181.71 
L 94.78 178.97 
L 95.77 177.69 
L 96.58 177.08 
L 97.57 176.62 
L 98.65 176.41 
L 99.61 176.20 
L 100.11 175.75 
L 100.67 174.78 
L 104.65 165.87 
L 106.26 161.37 
L 108.08 155.51 
L 112.35 141.50 
L 115.20 132.63 
L 117.62 125.86 
L 120.87 117.41 
L 122.17 114.79 
L 124.16 111.32 
L 126.03 108.41 
L 127.51 106.2 
L 127.51 106.2 
" clip-path="url(#p8d911469cf)" style="fill: none; stroke-dasharray: 3.06,2.04; stroke-dashoffset: 0; stroke: #6b6b6b; stroke-width: 0.85"/>
</g>
<g id="patch_13">
<path d="M 41.25 192.74 
L 41.25 102.16 
" style="fill: none; stroke: #000000; stroke-width: 0.8; stroke-linejoin: miter; stroke-linecap: square"/>
</g>
<g id="patch_14">
<path d="M 132.69 192.74 
L 132.69 102.16 
" style="fill: none; stroke: #000000; stroke-width: 0.8; stroke-linejoin: miter; stroke-linecap: square"/>
</g>
<g id="patch_15">
<path d="M 41.25 192.74 
L 132.69 192.74 
" style="fill: none; stroke: #000000; stroke-width: 0.8; stroke-linejoin: miter; stroke-linecap: square"/>
</g>
<g id="patch_16">
<path d="M 41.25 102.16 
L 132.69 102.16 
" style="fill: none; stroke: #000000; stroke-width: 0.8; stroke-linejoin: miter; stroke-linecap: square"/>
</g>
<g id="line2d_100">
<path d="M 54.21 109.00 
L 54.57 110.29 
L 55.09 111.51 
L 56.19 113.35 
L 56.93 115.30 
L 58.00 118.83 
L 59.18 123.77 
L 61.10 132.14 
L 66.86 154.57 
L 69.00 164.19 
L 69.92 169.17 
L 71.41 177.91 
L 72.45 181.27 
L 72.36 181.98 
L 72.81 182.73 
L 73.19 182.82 
L 73.58 183.21 
L 74.55 184.89 
L 76.01 185.49 
L 75.24 185.65 
L 76.33 185.67 
L 78.84 185.82 
L 79.70 185.37 
L 80.23 185.25 
L 81.35 185.59 
L 81.47 186.50 
L 82.59 187.32 
L 83.69 187.59 
L 84.28 186.94 
L 85.02 186.68 
L 85.69 186.95 
L 86.81 187.09 
L 86.48 186.98 
L 88.03 187.02 
L 89.02 186.87 
L 89.68 186.47 
L 91.31 186.04 
L 91.97 185.92 
L 93.63 185.45 
L 93.81 184.66 
L 94.48 183.87 
L 94.98 183.61 
L 96.10 182.60 
L 96.69 181.71 
L 96.75 181.02 
L 97.96 179.51 
L 99.33 177.71 
L 100.40 176.96 
L 101.15 176.63 
L 103.20 176.21 
L 103.70 175.76 
L 104.39 174.51 
L 105.71 171.75 
L 107.25 168.34 
L 108.99 163.88 
L 110.59 159.09 
L 119.67 130.11 
L 123.36 120.11 
L 124.80 116.69 
L 126.02 114.32 
L 128.31 110.42 
L 131.11 106.2 
L 131.11 106.2 
" clip-path="url(#p8d911469cf)" style="fill: none; stroke: #fc8a6a; stroke-width: 0.95; stroke-linecap: square"/>
</g>
<g id="line2d_101">
<path d="M 54.15 109.00 
L 54.51 110.29 
L 55.03 111.51 
L 56.13 113.35 
L 56.87 115.30 
L 57.94 118.83 
L 59.12 123.77 
L 61.04 132.14 
L 66.80 154.57 
L 68.93 164.19 
L 69.86 169.17 
L 71.20 177.05 
L 72.13 181.30 
L 72.77 182.65 
L 72.80 183.02 
L 73.64 183.76 
L 73.67 184.52 
L 74.87 185.70 
L 75.87 186.06 
L 76.80 185.79 
L 78.10 185.97 
L 79.46 186.62 
L 79.50 187.00 
L 79.83 186.61 
L 81.77 185.75 
L 81.30 185.86 
L 82.72 186.39 
L 83.00 185.86 
L 84.19 185.56 
L 84.78 186.24 
L 85.90 186.23 
L 86.71 185.50 
L 86.74 185.76 
L 87.60 186.23 
L 88.73 185.93 
L 89.89 185.47 
L 90.55 185.90 
L 91.67 185.84 
L 92.22 185.39 
L 93.65 184.82 
L 94.09 184.50 
L 95.42 183.81 
L 95.44 183.16 
L 95.94 182.95 
L 96.67 181.92 
L 96.67 180.92 
L 97.34 179.98 
L 98.37 178.77 
L 99.17 177.66 
L 100.24 176.95 
L 101.00 176.62 
L 103.05 176.20 
L 103.55 175.75 
L 104.23 174.51 
L 105.55 171.75 
L 107.09 168.34 
L 108.83 163.88 
L 110.43 159.09 
L 119.51 130.11 
L 123.20 120.11 
L 124.64 116.69 
L 125.86 114.32 
L 128.15 110.42 
L 130.95 106.2 
L 130.95 106.2 
" clip-path="url(#p8d911469cf)" style="fill: none; stroke: #fb7a5a; stroke-width: 0.95; stroke-linecap: square"/>
</g>
<g id="line2d_102">
<path d="M 54.09 109.00 
L 54.45 110.29 
L 54.97 111.51 
L 56.07 113.35 
L 56.81 115.30 
L 57.88 118.83 
L 59.06 123.77 
L 60.98 132.14 
L 66.74 154.57 
L 68.87 164.19 
L 69.80 169.17 
L 71.13 177.07 
L 71.86 180.40 
L 72.19 181.07 
L 72.77 181.64 
L 72.64 182.31 
L 72.84 183.02 
L 73.53 183.66 
L 74.26 184.09 
L 74.37 184.72 
L 75.47 185.46 
L 75.99 185.09 
L 76.50 185.03 
L 77.23 185.46 
L 78.68 185.88 
L 78.60 186.54 
L 80.65 186.70 
L 80.81 186.14 
L 81.57 185.66 
L 82.83 185.98 
L 82.73 186.59 
L 83.43 186.95 
L 85.36 186.84 
L 86.67 186.50 
L 87.29 185.80 
L 88.10 185.27 
L 88.41 185.40 
L 88.68 185.28 
L 90.32 185.47 
L 90.96 185.79 
L 91.82 185.48 
L 92.71 184.50 
L 93.26 184.30 
L 94.14 184.69 
L 94.37 185.17 
L 95.02 185.26 
L 95.20 184.45 
L 96.19 181.47 
L 98.99 177.71 
L 100.06 176.94 
L 100.82 176.60 
L 102.88 176.20 
L 103.38 175.75 
L 104.07 174.51 
L 105.39 171.75 
L 106.93 168.34 
L 108.67 163.88 
L 110.27 159.09 
L 119.35 130.11 
L 123.03 120.11 
L 124.48 116.69 
L 125.70 114.32 
L 127.99 110.42 
L 130.78 106.2 
L 130.78 106.2 
" clip-path="url(#p8d911469cf)" style="fill: none; stroke: #fb694a; stroke-width: 0.95; stroke-linecap: square"/>
</g>
<g id="line2d_103">
<path d="M 56.01 113.35 
L 56.67 115.05 
L 57.75 118.57 
L 58.71 122.46 
L 61.26 133.43 
L 66.19 152.50 
L 68.48 162.63 
L 69.57 168.12 
L 71.26 177.84 
L 71.80 179.76 
L 71.83 180.71 
L 72.13 181.11 
L 72.52 181.82 
L 72.56 183.00 
L 73.17 183.60 
L 73.49 183.69 
L 74.01 184.39 
L 74.71 185.13 
L 75.38 185.45 
L 74.97 185.84 
L 75.92 186.56 
L 77.16 186.34 
L 77.44 185.34 
L 79.04 185.10 
L 79.57 185.56 
L 79.48 185.89 
L 80.35 186.04 
L 81.03 186.01 
L 82.15 185.40 
L 82.68 184.93 
L 83.24 185.37 
L 83.91 185.51 
L 85.51 185.16 
L 85.56 185.00 
L 86.95 185.63 
L 88.31 185.95 
L 89.85 185.36 
L 90.92 185.36 
L 91.67 186.16 
L 92.01 186.19 
L 93.33 185.33 
L 94.42 184.06 
L 94.13 183.44 
L 95.55 183.08 
L 95.84 182.64 
L 95.92 182.07 
L 96.36 181.33 
L 96.62 180.53 
L 99.25 177.34 
L 99.91 176.93 
L 101.18 176.48 
L 102.71 176.20 
L 103.06 175.94 
L 103.77 174.79 
L 105.68 170.79 
L 107.37 166.86 
L 109.03 162.37 
L 110.73 157.05 
L 116.49 138.19 
L 118.92 130.87 
L 122.49 121.11 
L 124.09 117.17 
L 125.41 114.56 
L 127.41 111.09 
L 129.73 107.52 
L 130.62 106.2 
L 130.62 106.2 
" clip-path="url(#p8d911469cf)" style="fill: none; stroke: #f6583e; stroke-width: 0.95; stroke-linecap: square"/>
</g>
<g id="line2d_104">
<path d="M 55.95 113.35 
L 56.61 115.05 
L 57.69 118.57 
L 58.65 122.46 
L 61.20 133.43 
L 66.13 152.50 
L 68.42 162.63 
L 69.51 168.12 
L 71.32 178.65 
L 71.79 179.84 
L 71.76 180.56 
L 72.25 181.09 
L 72.41 182.14 
L 72.99 183.29 
L 73.08 183.14 
L 73.31 183.43 
L 73.86 183.68 
L 74.71 183.76 
L 75.70 184.71 
L 76.30 185.92 
L 77.01 186.44 
L 77.98 186.15 
L 77.68 185.97 
L 78.73 185.31 
L 79.29 185.60 
L 80.54 186.10 
L 80.80 186.67 
L 81.74 186.53 
L 83.26 186.56 
L 83.71 186.84 
L 84.76 186.68 
L 84.92 185.98 
L 85.35 185.68 
L 87.15 185.39 
L 88.86 186.74 
L 89.65 186.70 
L 91.96 186.18 
L 92.34 185.23 
L 93.37 184.51 
L 93.45 185.26 
L 93.88 185.25 
L 94.09 184.07 
L 94.92 182.62 
L 95.66 182.34 
L 95.96 182.39 
L 96.71 181.01 
L 96.88 180.37 
L 97.48 179.57 
L 97.70 179.03 
L 98.16 178.33 
L 99.07 177.39 
L 99.74 176.95 
L 101.01 176.48 
L 102.55 176.19 
L 102.89 175.92 
L 103.61 174.79 
L 105.29 171.27 
L 106.90 167.60 
L 108.69 162.88 
L 110.17 158.32 
L 117.80 133.64 
L 120.20 126.86 
L 123.71 117.65 
L 124.86 115.26 
L 126.96 111.55 
L 128.82 108.63 
L 130.45 106.2 
L 130.45 106.2 
" clip-path="url(#p8d911469cf)" style="fill: none; stroke: #f14432; stroke-width: 0.95; stroke-linecap: square"/>
</g>
<g id="line2d_105">
<path d="M 55.89 113.35 
L 56.55 115.05 
L 57.63 118.57 
L 58.59 122.46 
L 61.14 133.43 
L 66.07 152.50 
L 68.36 162.63 
L 69.44 168.12 
L 71.12 177.83 
L 71.56 179.28 
L 71.59 179.94 
L 71.85 181.13 
L 71.75 181.97 
L 72.49 182.48 
L 73.09 182.38 
L 72.95 182.58 
L 73.53 183.61 
L 73.58 184.40 
L 74.38 184.43 
L 74.69 185.16 
L 75.57 185.67 
L 75.66 185.91 
L 76.72 186.45 
L 77.16 187.14 
L 78.47 186.56 
L 78.23 185.41 
L 80.27 185.71 
L 81.17 186.11 
L 81.16 186.37 
L 81.27 186.18 
L 83.39 185.99 
L 83.38 185.53 
L 84.03 185.85 
L 85.56 186.89 
L 86.94 186.41 
L 87.32 185.80 
L 87.94 185.54 
L 88.93 185.32 
L 89.43 185.07 
L 89.77 185.49 
L 91.04 185.93 
L 91.06 185.66 
L 92.73 185.45 
L 93.40 185.00 
L 94.15 184.33 
L 93.77 184.10 
L 94.64 183.40 
L 95.64 182.20 
L 96.13 181.68 
L 96.87 180.06 
L 98.52 177.68 
L 98.91 177.35 
L 99.57 176.94 
L 100.85 176.48 
L 102.37 176.19 
L 102.72 175.93 
L 103.43 174.79 
L 105.11 171.27 
L 106.73 167.60 
L 108.52 162.88 
L 110.00 158.32 
L 117.62 133.64 
L 120.02 126.86 
L 123.53 117.65 
L 124.68 115.26 
L 126.79 111.55 
L 128.65 108.63 
L 130.27 106.2 
L 130.27 106.2 
" clip-path="url(#p8d911469cf)" style="fill: none; stroke: #e83429; stroke-width: 0.95; stroke-linecap: square"/>
</g>
<g id="line2d_106">
<path d="M 55.83 113.35 
L 56.49 115.05 
L 57.57 118.57 
L 58.53 122.46 
L 61.08 133.43 
L 66.01 152.50 
L 68.30 162.63 
L 69.38 168.12 
L 71.29 179.30 
L 71.99 180.43 
L 71.84 181.09 
L 72.42 182.05 
L 72.58 183.76 
L 72.89 184.03 
L 73.80 184.44 
L 74.61 185.67 
L 74.98 185.36 
L 76.80 185.52 
L 77.89 185.34 
L 78.69 185.80 
L 79.15 186.60 
L 80.46 186.56 
L 81.90 185.58 
L 82.92 185.70 
L 82.39 185.49 
L 83.97 185.65 
L 84.83 186.60 
L 85.85 187.12 
L 86.01 186.76 
L 86.87 186.27 
L 88.22 186.21 
L 88.53 186.04 
L 89.42 185.93 
L 91.71 185.92 
L 91.92 185.78 
L 93.57 185.56 
L 93.25 185.24 
L 93.78 184.25 
L 93.64 183.95 
L 94.79 183.84 
L 94.88 183.36 
L 95.45 182.62 
L 95.59 181.42 
L 96.54 180.21 
L 97.09 179.61 
L 97.83 178.26 
L 98.73 177.33 
L 99.39 176.93 
L 100.66 176.49 
L 102.20 176.20 
L 102.54 175.93 
L 103.25 174.78 
L 104.94 171.27 
L 106.55 167.60 
L 108.34 162.88 
L 109.82 158.32 
L 117.44 133.64 
L 119.84 126.86 
L 123.35 117.65 
L 124.51 115.26 
L 126.61 111.55 
L 128.47 108.63 
L 130.10 106.2 
L 130.10 106.2 
" clip-path="url(#p8d911469cf)" style="fill: none; stroke: #d92523; stroke-width: 0.95; stroke-linecap: square"/>
</g>
<g id="line2d_107">
<path d="M 55.77 113.35 
L 56.43 115.05 
L 57.51 118.57 
L 58.47 122.46 
L 61.02 133.43 
L 65.95 152.50 
L 68.24 162.63 
L 69.32 168.12 
L 71.01 177.86 
L 71.42 179.95 
L 71.82 180.65 
L 71.82 181.20 
L 72.93 183.21 
L 72.49 183.49 
L 73.75 183.84 
L 73.48 184.40 
L 74.05 184.97 
L 75.00 185.59 
L 75.67 186.33 
L 75.93 186.27 
L 76.81 185.50 
L 77.00 185.53 
L 79.77 187.07 
L 79.80 186.91 
L 81.37 186.54 
L 81.90 186.91 
L 82.92 187.02 
L 82.32 186.48 
L 84.50 185.44 
L 85.35 185.66 
L 86.15 186.05 
L 86.65 186.11 
L 89.24 185.46 
L 89.56 185.55 
L 90.89 186.24 
L 91.74 185.21 
L 92.53 185.03 
L 93.15 184.65 
L 93.36 183.25 
L 93.68 182.98 
L 94.14 183.31 
L 94.85 182.79 
L 95.95 181.13 
L 96.03 180.46 
L 96.28 180.01 
L 97.16 179.04 
L 98.15 177.66 
L 99.21 176.93 
L 100.48 176.49 
L 102.01 176.20 
L 102.36 175.93 
L 103.07 174.79 
L 104.75 171.27 
L 106.36 167.60 
L 108.15 162.88 
L 109.63 158.32 
L 117.26 133.64 
L 119.66 126.86 
L 123.17 117.65 
L 124.32 115.26 
L 126.43 111.55 
L 128.28 108.63 
L 129.91 106.2 
L 129.91 106.2 
" clip-path="url(#p8d911469cf)" style="fill: none; stroke: #ca181d; stroke-width: 0.95; stroke-linecap: square"/>
</g>
<g id="line2d_108">
<path d="M 55.71 113.35 
L 56.37 115.05 
L 57.45 118.57 
L 58.41 122.46 
L 60.96 133.43 
L 65.89 152.50 
L 68.18 162.63 
L 69.26 168.12 
L 70.94 177.85 
L 71.91 181.73 
L 72.49 182.37 
L 72.56 182.79 
L 73.12 184.12 
L 73.12 185.45 
L 73.68 185.42 
L 74.87 185.03 
L 75.46 185.63 
L 75.77 186.38 
L 76.51 185.87 
L 76.71 185.89 
L 78.12 186.75 
L 79.37 186.85 
L 79.19 185.86 
L 80.84 185.54 
L 81.05 185.65 
L 81.22 186.10 
L 82.37 186.61 
L 83.09 186.74 
L 83.23 186.35 
L 84.39 186.31 
L 85.11 186.58 
L 86.27 186.52 
L 87.06 185.50 
L 87.65 185.09 
L 88.42 185.75 
L 89.18 186.68 
L 91.12 185.46 
L 91.99 185.37 
L 92.38 184.86 
L 92.99 184.58 
L 93.27 183.94 
L 94.07 183.38 
L 94.44 182.50 
L 94.81 181.93 
L 95.17 181.75 
L 95.65 181.15 
L 96.22 180.10 
L 96.77 179.47 
L 96.97 178.92 
L 97.95 177.70 
L 99.01 176.92 
L 100.29 176.48 
L 101.82 176.19 
L 102.16 175.93 
L 102.88 174.78 
L 104.21 171.99 
L 105.66 168.84 
L 107.42 164.37 
L 109.04 159.59 
L 113.08 146.34 
L 117.32 132.88 
L 119.65 126.36 
L 122.97 117.65 
L 124.13 115.26 
L 126.23 111.55 
L 128.09 108.63 
L 129.72 106.2 
L 129.72 106.2 
" clip-path="url(#p8d911469cf)" style="fill: none; stroke: #bc141a; stroke-width: 0.95; stroke-linecap: square"/>
</g>
<g id="line2d_109">
<path d="M 55.65 113.35 
L 56.31 115.05 
L 57.39 118.57 
L 58.35 122.46 
L 60.90 133.43 
L 65.83 152.50 
L 68.12 162.63 
L 69.20 168.12 
L 70.85 177.84 
L 71.09 178.57 
L 71.17 179.36 
L 71.44 179.94 
L 71.61 180.74 
L 71.50 181.34 
L 72.71 183.22 
L 72.83 183.62 
L 72.75 184.11 
L 72.99 184.70 
L 73.34 184.87 
L 75.16 186.23 
L 76.01 186.39 
L 76.35 185.89 
L 77.61 185.65 
L 77.58 185.62 
L 79.25 185.86 
L 78.71 186.08 
L 80.72 186.33 
L 82.56 185.93 
L 83.05 185.92 
L 84.23 185.19 
L 85.54 185.37 
L 88.23 186.70 
L 89.74 186.73 
L 90.33 186.17 
L 90.64 185.35 
L 91.60 184.74 
L 92.44 184.92 
L 92.48 185.19 
L 94.21 182.88 
L 94.27 182.02 
L 95.37 181.36 
L 96.48 179.55 
L 97.28 178.31 
L 98.15 177.37 
L 98.81 176.94 
L 100.08 176.48 
L 101.62 176.20 
L 101.96 175.93 
L 102.67 174.78 
L 104.36 171.27 
L 105.97 167.60 
L 107.76 162.88 
L 109.24 158.32 
L 116.86 133.64 
L 119.26 126.86 
L 122.77 117.65 
L 123.92 115.26 
L 126.03 111.55 
L 127.89 108.63 
L 129.51 106.2 
L 129.51 106.2 
" clip-path="url(#p8d911469cf)" style="fill: none; stroke: #ac1117; stroke-width: 0.95; stroke-linecap: square"/>
</g>
<g id="line2d_110">
<path d="M 55.59 113.35 
L 56.25 115.05 
L 57.33 118.57 
L 58.29 122.46 
L 60.84 133.43 
L 65.77 152.50 
L 68.06 162.63 
L 69.14 168.12 
L 70.82 177.83 
L 71.21 179.43 
L 71.24 180.01 
L 71.63 181.61 
L 72.37 182.74 
L 72.77 184.19 
L 73.46 185.24 
L 74.45 184.86 
L 74.78 184.51 
L 74.62 184.51 
L 75.27 184.79 
L 76.73 185.65 
L 76.81 186.49 
L 77.73 186.83 
L 78.33 186.39 
L 79.92 186.30 
L 80.14 186.47 
L 80.85 186.87 
L 81.56 186.53 
L 82.07 186.05 
L 84.28 184.95 
L 85.49 185.18 
L 85.72 185.63 
L 86.70 185.63 
L 87.45 185.37 
L 88.35 185.70 
L 88.68 186.33 
L 89.46 186.65 
L 90.19 186.49 
L 90.82 186.13 
L 92.01 185.74 
L 91.92 185.35 
L 92.21 184.82 
L 93.35 184.05 
L 93.23 183.87 
L 94.40 183.15 
L 94.36 182.23 
L 97.55 177.75 
L 97.94 177.38 
L 98.60 176.94 
L 99.86 176.48 
L 101.40 176.20 
L 101.74 175.94 
L 102.46 174.79 
L 104.14 171.27 
L 105.75 167.60 
L 107.54 162.88 
L 109.02 158.32 
L 116.65 133.64 
L 119.04 126.86 
L 122.55 117.65 
L 123.71 115.26 
L 125.81 111.55 
L 127.67 108.63 
L 129.30 106.2 
L 129.30 106.2 
" clip-path="url(#p8d911469cf)" style="fill: none; stroke: #980c13; stroke-width: 0.95; stroke-linecap: square"/>
</g>
<g id="line2d_111">
<path d="M 55.53 113.35 
L 56.19 115.05 
L 57.27 118.57 
L 58.23 122.46 
L 60.78 133.43 
L 65.71 152.50 
L 68.00 162.63 
L 69.08 168.12 
L 70.77 177.82 
L 71.57 181.50 
L 72.59 182.90 
L 72.69 184.31 
L 73.99 184.85 
L 73.50 185.34 
L 74.73 186.31 
L 75.54 187.40 
L 76.56 187.03 
L 77.15 185.83 
L 77.48 185.88 
L 78.30 186.75 
L 79.42 186.46 
L 80.21 185.97 
L 80.42 186.04 
L 82.76 186.12 
L 83.54 186.08 
L 84.37 185.68 
L 86.26 186.34 
L 87.03 185.82 
L 87.68 185.56 
L 88.15 185.85 
L 89.03 186.14 
L 91.10 185.63 
L 91.72 185.03 
L 92.43 184.97 
L 93.41 184.55 
L 93.29 183.72 
L 93.87 182.92 
L 94.02 182.35 
L 94.86 180.78 
L 96.07 179.33 
L 97.33 177.74 
L 97.70 177.38 
L 98.35 176.95 
L 99.63 176.48 
L 101.15 176.19 
L 101.50 175.93 
L 102.22 174.78 
L 103.90 171.27 
L 105.51 167.60 
L 107.30 162.88 
L 108.78 158.32 
L 116.40 133.64 
L 118.80 126.86 
L 122.31 117.65 
L 123.47 115.26 
L 125.57 111.55 
L 127.43 108.63 
L 129.06 106.2 
L 129.06 106.2 
" clip-path="url(#p8d911469cf)" style="fill: none; stroke: #7e0610; stroke-width: 0.95; stroke-linecap: square"/>
</g>
<g id="line2d_112">
<path d="M 55.47 113.35 
L 56.13 115.05 
L 57.21 118.57 
L 58.17 122.46 
L 60.72 133.43 
L 65.65 152.50 
L 67.94 162.63 
L 69.02 168.12 
L 70.85 178.59 
L 71.54 181.13 
L 71.96 181.64 
L 72.07 182.04 
L 72.44 182.74 
L 72.95 184.07 
L 73.63 184.56 
L 73.05 184.56 
L 74.56 185.18 
L 74.25 185.34 
L 75.77 185.28 
L 77.22 186.20 
L 77.76 186.57 
L 78.13 186.62 
L 79.58 186.14 
L 81.03 186.46 
L 81.36 186.29 
L 82.25 186.14 
L 82.47 186.27 
L 82.87 186.94 
L 84.17 187.47 
L 84.72 187.22 
L 86.03 186.75 
L 86.95 186.07 
L 87.16 186.31 
L 87.96 186.28 
L 88.38 185.87 
L 91.01 186.02 
L 91.17 185.41 
L 92.64 184.15 
L 92.54 184.09 
L 93.58 183.12 
L 93.81 182.33 
L 94.44 182.03 
L 94.62 181.35 
L 95.32 180.13 
L 96.98 177.72 
L 98.04 176.96 
L 99.31 176.48 
L 100.84 176.19 
L 101.18 175.93 
L 101.89 174.78 
L 103.80 170.79 
L 105.48 166.86 
L 107.15 162.37 
L 108.84 157.05 
L 114.60 138.19 
L 117.03 130.87 
L 120.60 121.11 
L 122.20 117.17 
L 123.52 114.56 
L 125.52 111.09 
L 127.84 107.52 
L 128.73 106.2 
L 128.73 106.2 
" clip-path="url(#p8d911469cf)" style="fill: none; stroke: #67000d; stroke-width: 0.95; stroke-linecap: square"/>
</g>
</g>
<g id="axes_4">
<g id="patch_17">
<path d="M 141.48 192.74 
L 233.13 192.74 
L 233.13 102.16 
L 141.48 102.16 
z
" style="fill: #ffffff"/>
</g>
<g id="matplotlib.axis_7">
<g id="xtick_10">
<g id="line2d_113">
<g>
<use href="#m1cd49489bd" x="149.13" y="192.74" style="stroke: #000000; stroke-width: 0.8"/>
</g>
</g>
</g>
<g id="xtick_11">
<g id="line2d_114">
<g>
<use href="#m1cd49489bd" x="189.11" y="192.74" style="stroke: #000000; stroke-width: 0.8"/>
</g>
</g>
</g>
<g id="xtick_12">
<g id="line2d_115">
<g>
<use href="#m1cd49489bd" x="229.02" y="192.74" style="stroke: #000000; stroke-width: 0.8"/>
</g>
</g>
</g>
</g>
<g id="matplotlib.axis_8">
<g id="ytick_67">
<g id="line2d_116">
<g>
<use href="#m6b28ea1482" x="141.48" y="138.02" style="stroke: #000000; stroke-width: 0.8"/>
</g>
</g>
</g>
<g id="ytick_68">
<g id="line2d_117">
<g>
<use href="#m6b28ea1482" x="141.48" y="177.33" style="stroke: #000000; stroke-width: 0.8"/>
</g>
</g>
</g>
<g id="ytick_69">
<g id="line2d_118">
<g>
<use href="#m0d16899ba4" x="141.48" y="126.18" style="stroke: #000000; stroke-width: 0.6"/>
</g>
</g>
</g>
<g id="ytick_70">
<g id="line2d_119">
<g>
<use href="#m0d16899ba4" x="141.48" y="119.26" style="stroke: #000000; stroke-width: 0.6"/>
</g>
</g>
</g>
<g id="ytick_71">
<g id="line2d_120">
<g>
<use href="#m0d16899ba4" x="141.48" y="114.35" style="stroke: #000000; stroke-width: 0.6"/>
</g>
</g>
</g>
<g id="ytick_72">
<g id="line2d_121">
<g>
<use href="#m0d16899ba4" x="141.48" y="110.54" style="stroke: #000000; stroke-width: 0.6"/>
</g>
</g>
</g>
<g id="ytick_73">
<g id="line2d_122">
<g>
<use href="#m0d16899ba4" x="141.48" y="107.43" style="stroke: #000000; stroke-width: 0.6"/>
</g>
</g>
</g>
<g id="ytick_74">
<g id="line2d_123">
<g>
<use href="#m0d16899ba4" x="141.48" y="104.80" style="stroke: #000000; stroke-width: 0.6"/>
</g>
</g>
</g>
<g id="ytick_75">
<g id="line2d_124">
<g>
<use href="#m0d16899ba4" x="141.48" y="102.52" style="stroke: #000000; stroke-width: 0.6"/>
</g>
</g>
</g>
<g id="ytick_76">
<g id="line2d_125">
<g>
<use href="#m0d16899ba4" x="141.48" y="165.50" style="stroke: #000000; stroke-width: 0.6"/>
</g>
</g>
</g>
<g id="ytick_77">
<g id="line2d_126">
<g>
<use href="#m0d16899ba4" x="141.48" y="158.57" style="stroke: #000000; stroke-width: 0.6"/>
</g>
</g>
</g>
<g id="ytick_78">
<g id="line2d_127">
<g>
<use href="#m0d16899ba4" x="141.48" y="153.66" style="stroke: #000000; stroke-width: 0.6"/>
</g>
</g>
</g>
<g id="ytick_79">
<g id="line2d_128">
<g>
<use href="#m0d16899ba4" x="141.48" y="149.85" style="stroke: #000000; stroke-width: 0.6"/>
</g>
</g>
</g>
<g id="ytick_80">
<g id="line2d_129">
<g>
<use href="#m0d16899ba4" x="141.48" y="146.74" style="stroke: #000000; stroke-width: 0.6"/>
</g>
</g>
</g>
<g id="ytick_81">
<g id="line2d_130">
<g>
<use href="#m0d16899ba4" x="141.48" y="144.11" style="stroke: #000000; stroke-width: 0.6"/>
</g>
</g>
</g>
<g id="ytick_82">
<g id="line2d_131">
<g>
<use href="#m0d16899ba4" x="141.48" y="141.83" style="stroke: #000000; stroke-width: 0.6"/>
</g>
</g>
</g>
<g id="ytick_83">
<g id="line2d_132">
<g>
<use href="#m0d16899ba4" x="141.48" y="139.82" style="stroke: #000000; stroke-width: 0.6"/>
</g>
</g>
</g>
<g id="ytick_84">
<g id="line2d_133">
<g>
<use href="#m0d16899ba4" x="141.48" y="189.17" style="stroke: #000000; stroke-width: 0.6"/>
</g>
</g>
</g>
<g id="ytick_85">
<g id="line2d_134">
<g>
<use href="#m0d16899ba4" x="141.48" y="186.05" style="stroke: #000000; stroke-width: 0.6"/>
</g>
</g>
</g>
<g id="ytick_86">
<g id="line2d_135">
<g>
<use href="#m0d16899ba4" x="141.48" y="183.42" style="stroke: #000000; stroke-width: 0.6"/>
</g>
</g>
</g>
<g id="ytick_87">
<g id="line2d_136">
<g>
<use href="#m0d16899ba4" x="141.48" y="181.14" style="stroke: #000000; stroke-width: 0.6"/>
</g>
</g>
</g>
<g id="ytick_88">
<g id="line2d_137">
<g>
<use href="#m0d16899ba4" x="141.48" y="179.13" style="stroke: #000000; stroke-width: 0.6"/>
</g>
</g>
</g>
</g>
<g id="line2d_138">
<path d="M 153.02 109.00 
L 153.47 110.54 
L 154.03 111.74 
L 155.22 113.83 
L 156.24 116.80 
L 157.22 120.38 
L 158.52 126.14 
L 159.92 132.14 
L 165.82 155.09 
L 167.89 164.45 
L 168.76 169.17 
L 170.26 177.85 
L 170.99 180.66 
L 171.65 182.45 
L 172.41 183.81 
L 173.30 184.91 
L 173.94 185.40 
L 174.61 185.65 
L 176.21 185.97 
L 177.82 186.06 
L 184.79 186.10 
L 189.02 185.93 
L 190.04 185.58 
L 191.24 184.89 
L 192.06 184.27 
L 192.95 183.25 
L 194.01 181.71 
L 195.71 178.97 
L 196.70 177.69 
L 197.51 177.08 
L 198.50 176.62 
L 199.59 176.41 
L 200.55 176.20 
L 201.05 175.75 
L 201.61 174.78 
L 205.60 165.87 
L 207.22 161.37 
L 208.96 155.77 
L 213.48 140.99 
L 216.17 132.63 
L 218.61 125.86 
L 221.86 117.41 
L 223.16 114.79 
L 225.15 111.32 
L 227.03 108.41 
L 228.51 106.2 
L 228.51 106.2 
" clip-path="url(#pe34b453fc7)" style="fill: none; stroke-dasharray: 3.06,2.04; stroke-dashoffset: 0; stroke: #6b6b6b; stroke-width: 0.85"/>
</g>
<g id="patch_18">
<path d="M 141.48 192.74 
L 141.48 102.16 
" style="fill: none; stroke: #000000; stroke-width: 0.8; stroke-linejoin: miter; stroke-linecap: square"/>
</g>
<g id="patch_19">
<path d="M 233.13 192.74 
L 233.13 102.16 
" style="fill: none; stroke: #000000; stroke-width: 0.8; stroke-linejoin: miter; stroke-linecap: square"/>
</g>
<g id="patch_20">
<path d="M 141.48 192.74 
L 233.13 192.74 
" style="fill: none; stroke: #000000; stroke-width: 0.8; stroke-linejoin: miter; stroke-linecap: square"/>
</g>
<g id="patch_21">
<path d="M 141.48 102.16 
L 233.13 102.16 
" style="fill: none; stroke: #000000; stroke-width: 0.8; stroke-linejoin: miter; stroke-linecap: square"/>
</g>
<g id="line2d_139">
<path d="M 156.99 115.54 
L 157.91 118.57 
L 159.04 123.25 
L 161.28 132.91 
L 166.61 153.53 
L 168.83 163.41 
L 169.88 168.91 
L 171.41 177.85 
L 171.95 180.49 
L 172.28 181.12 
L 172.52 181.88 
L 172.73 183.12 
L 173.11 183.81 
L 173.50 184.02 
L 173.74 184.40 
L 174.55 185.43 
L 174.52 186.50 
L 175.79 185.87 
L 175.98 185.38 
L 176.95 186.24 
L 178.47 186.34 
L 179.81 186.15 
L 179.40 186.06 
L 180.38 186.38 
L 180.76 186.97 
L 181.90 186.61 
L 182.26 185.96 
L 183.57 186.00 
L 184.35 186.64 
L 184.72 186.49 
L 185.93 186.17 
L 186.38 186.29 
L 187.23 186.32 
L 186.92 186.13 
L 188.27 186.60 
L 189.14 187.10 
L 190.50 186.87 
L 191.20 186.59 
L 191.41 186.17 
L 192.11 185.30 
L 192.52 185.01 
L 193.44 185.13 
L 193.91 184.80 
L 194.37 184.02 
L 195.34 183.19 
L 194.97 182.56 
L 196.15 182.01 
L 197.26 180.07 
L 197.98 178.98 
L 198.81 177.84 
L 199.36 177.34 
L 200.54 176.73 
L 201.88 176.41 
L 202.66 176.28 
L 203.20 175.93 
L 203.50 175.54 
L 204.16 174.23 
L 205.49 171.51 
L 207.12 167.85 
L 208.84 163.38 
L 210.34 158.83 
L 219.01 131.12 
L 222.30 122.11 
L 224.06 117.65 
L 225.22 115.26 
L 227.33 111.55 
L 229.19 108.63 
L 230.38 106.86 
L 230.38 106.86 
" clip-path="url(#pe34b453fc7)" style="fill: none; stroke: #a6cee4; stroke-linecap: square"/>
</g>
<g id="line2d_140">
<path d="M 156.99 115.54 
L 157.91 118.57 
L 159.04 123.25 
L 161.28 132.91 
L 166.43 152.76 
L 168.72 162.89 
L 169.79 168.38 
L 171.54 178.44 
L 171.71 179.24 
L 171.91 179.64 
L 172.77 182.77 
L 172.91 183.32 
L 173.81 183.54 
L 173.59 184.15 
L 173.93 184.78 
L 174.89 185.50 
L 174.94 185.95 
L 176.11 186.22 
L 176.45 185.70 
L 177.43 185.73 
L 178.93 185.39 
L 179.46 185.75 
L 180.30 186.55 
L 181.54 185.69 
L 182.50 185.41 
L 183.61 185.79 
L 183.62 186.42 
L 184.99 186.28 
L 186.15 186.49 
L 186.74 186.41 
L 187.61 185.64 
L 188.35 185.36 
L 189.38 185.71 
L 190.04 186.29 
L 190.55 185.97 
L 193.00 185.48 
L 193.77 185.15 
L 193.45 184.85 
L 194.84 183.67 
L 195.67 183.63 
L 195.96 183.04 
L 195.82 182.05 
L 196.29 181.03 
L 197.77 178.94 
L 198.62 177.91 
L 199.18 177.37 
L 200.35 176.70 
L 201.70 176.40 
L 202.48 176.28 
L 203.02 175.94 
L 203.32 175.54 
L 203.98 174.23 
L 205.30 171.51 
L 206.93 167.85 
L 208.65 163.38 
L 210.15 158.83 
L 218.82 131.12 
L 222.12 122.11 
L 223.88 117.65 
L 225.03 115.26 
L 227.14 111.55 
L 229.00 108.63 
L 230.19 106.86 
L 230.19 106.86 
" clip-path="url(#pe34b453fc7)" style="fill: none; stroke: #82bbdb; stroke-linecap: square"/>
</g>
<g id="line2d_141">
<path d="M 156.99 115.54 
L 157.91 118.57 
L 159.04 123.25 
L 161.28 132.91 
L 166.43 152.76 
L 168.72 162.89 
L 169.79 168.38 
L 171.41 177.89 
L 172.64 181.90 
L 172.61 182.53 
L 173.12 182.90 
L 173.77 183.55 
L 173.92 184.32 
L 174.30 184.67 
L 175.14 185.20 
L 176.03 186.25 
L 176.79 185.85 
L 177.94 185.57 
L 178.15 186.01 
L 179.76 186.69 
L 180.84 186.29 
L 180.76 186.05 
L 182.42 186.19 
L 182.31 186.08 
L 183.60 185.45 
L 184.00 185.43 
L 184.25 185.93 
L 185.72 186.13 
L 188.25 185.49 
L 188.46 185.67 
L 188.83 186.15 
L 189.43 186.26 
L 191.92 186.11 
L 192.21 185.55 
L 193.62 183.88 
L 193.98 183.84 
L 194.12 183.46 
L 195.06 182.97 
L 195.34 182.45 
L 196.14 182.25 
L 196.29 181.63 
L 196.93 180.31 
L 198.44 177.92 
L 199.02 177.37 
L 200.18 176.72 
L 201.51 176.42 
L 202.29 176.28 
L 202.83 175.93 
L 203.14 175.54 
L 203.79 174.23 
L 205.12 171.51 
L 206.75 167.85 
L 208.46 163.38 
L 209.97 158.83 
L 218.63 131.12 
L 221.93 122.11 
L 223.69 117.65 
L 224.85 115.26 
L 226.96 111.55 
L 228.82 108.63 
L 230.01 106.86 
L 230.01 106.86 
" clip-path="url(#pe34b453fc7)" style="fill: none; stroke: #5fa6d1; stroke-linecap: square"/>
</g>
<g id="line2d_142">
<path d="M 156.99 115.54 
L 157.91 118.57 
L 159.04 123.25 
L 161.28 132.91 
L 166.43 152.76 
L 168.72 162.89 
L 169.79 168.38 
L 171.52 178.38 
L 172.32 181.96 
L 172.62 182.20 
L 173.10 182.26 
L 173.69 182.66 
L 174.24 183.95 
L 174.03 185.51 
L 175.11 186.50 
L 175.39 185.97 
L 176.23 185.59 
L 175.87 185.02 
L 177.29 184.92 
L 178.14 185.32 
L 178.60 185.69 
L 181.58 185.74 
L 181.89 186.21 
L 183.51 186.51 
L 183.17 186.22 
L 184.98 185.09 
L 186.31 185.12 
L 186.66 185.72 
L 188.42 186.52 
L 188.61 186.05 
L 189.47 185.81 
L 189.96 186.29 
L 191.23 186.71 
L 191.43 186.12 
L 192.66 185.36 
L 193.51 183.98 
L 193.25 183.30 
L 194.73 182.78 
L 194.73 182.88 
L 195.60 182.72 
L 195.58 182.25 
L 196.12 181.38 
L 196.39 180.47 
L 197.12 179.37 
L 197.95 178.35 
L 198.25 177.89 
L 198.81 177.36 
L 200.00 176.72 
L 201.34 176.40 
L 202.11 176.27 
L 202.64 175.93 
L 202.95 175.54 
L 203.61 174.23 
L 204.93 171.51 
L 206.56 167.85 
L 208.28 163.38 
L 209.78 158.83 
L 218.45 131.12 
L 221.74 122.11 
L 223.51 117.65 
L 224.66 115.26 
L 226.77 111.55 
L 228.63 108.63 
L 229.82 106.86 
L 229.82 106.86 
" clip-path="url(#pe34b453fc7)" style="fill: none; stroke: #4191c6; stroke-linecap: square"/>
</g>
<g id="line2d_143">
<path d="M 156.99 115.54 
L 157.91 118.57 
L 159.04 123.25 
L 161.28 132.91 
L 166.43 152.76 
L 168.72 162.89 
L 169.79 168.38 
L 171.51 178.41 
L 172.30 181.64 
L 172.74 182.23 
L 172.96 182.73 
L 172.83 183.19 
L 173.78 183.48 
L 174.45 183.88 
L 174.51 185.36 
L 175.46 186.21 
L 175.66 186.04 
L 176.72 185.53 
L 178.18 186.04 
L 179.06 185.96 
L 179.83 186.77 
L 180.18 187.61 
L 181.16 187.20 
L 181.52 186.24 
L 182.34 185.98 
L 183.51 186.10 
L 183.26 186.82 
L 184.28 187.09 
L 185.53 186.71 
L 186.51 185.71 
L 187.29 185.28 
L 188.56 185.46 
L 188.61 186.06 
L 189.99 186.70 
L 190.07 186.35 
L 190.12 185.29 
L 191.96 184.96 
L 191.92 185.23 
L 193.02 184.42 
L 192.91 183.94 
L 193.68 183.90 
L 194.62 183.43 
L 194.68 182.71 
L 195.53 182.09 
L 195.14 181.81 
L 196.28 180.55 
L 196.40 180.10 
L 198.67 177.38 
L 199.81 176.71 
L 201.15 176.40 
L 201.92 176.27 
L 202.46 175.93 
L 202.77 175.53 
L 203.42 174.23 
L 204.75 171.51 
L 206.38 167.85 
L 208.09 163.38 
L 209.60 158.83 
L 218.26 131.12 
L 221.56 122.11 
L 223.32 117.65 
L 224.48 115.26 
L 226.59 111.55 
L 228.45 108.63 
L 229.64 106.86 
L 229.64 106.86 
" clip-path="url(#pe34b453fc7)" style="fill: none; stroke: #2979b9; stroke-linecap: square"/>
</g>
<g id="line2d_144">
<path d="M 156.99 115.54 
L 157.91 118.57 
L 159.04 123.25 
L 161.28 132.91 
L 166.43 152.76 
L 168.71 162.89 
L 169.79 168.38 
L 171.42 177.92 
L 171.61 178.43 
L 171.75 179.20 
L 172.23 180.27 
L 172.40 180.90 
L 172.36 181.64 
L 172.62 182.40 
L 172.56 182.65 
L 173.91 183.60 
L 173.76 184.31 
L 173.97 184.19 
L 175.27 184.77 
L 175.92 184.62 
L 176.18 185.39 
L 177.03 186.14 
L 177.80 185.95 
L 178.83 185.55 
L 179.75 185.81 
L 179.56 186.23 
L 181.42 186.65 
L 180.99 186.86 
L 182.62 186.56 
L 183.25 186.31 
L 183.01 186.69 
L 184.73 186.79 
L 185.09 186.15 
L 186.04 185.69 
L 187.37 185.36 
L 188.18 185.98 
L 189.35 185.63 
L 189.43 185.45 
L 191.13 186.14 
L 192.46 186.26 
L 192.13 185.77 
L 193.36 185.19 
L 193.62 184.34 
L 194.72 183.77 
L 194.69 183.20 
L 195.16 182.19 
L 194.90 181.49 
L 195.80 180.91 
L 196.31 179.93 
L 196.89 179.49 
L 197.00 179.08 
L 197.90 177.89 
L 198.45 177.38 
L 199.63 176.73 
L 200.96 176.41 
L 201.74 176.29 
L 202.27 175.94 
L 202.58 175.53 
L 203.24 174.23 
L 204.56 171.51 
L 206.19 167.85 
L 207.91 163.38 
L 209.41 158.83 
L 218.08 131.12 
L 221.37 122.11 
L 223.13 117.65 
L 224.29 115.26 
L 226.40 111.55 
L 228.26 108.63 
L 229.45 106.86 
L 229.45 106.86 
" clip-path="url(#pe34b453fc7)" style="fill: none; stroke: #1460a8; stroke-linecap: square"/>
</g>
<g id="line2d_145">
<path d="M 156.99 115.54 
L 157.91 118.57 
L 159.04 123.25 
L 161.28 132.91 
L 166.42 152.76 
L 168.71 162.89 
L 169.78 168.38 
L 171.41 177.85 
L 171.79 179.18 
L 171.78 179.75 
L 171.93 180.63 
L 173.32 182.82 
L 173.34 183.69 
L 173.57 184.09 
L 174.30 184.20 
L 174.87 184.99 
L 175.57 185.43 
L 175.83 184.88 
L 176.06 185.43 
L 177.00 186.61 
L 177.78 186.78 
L 178.15 185.96 
L 180.11 185.87 
L 180.13 185.98 
L 181.22 185.85 
L 181.96 186.47 
L 183.87 186.70 
L 183.11 186.00 
L 184.76 185.43 
L 184.40 185.29 
L 185.38 185.70 
L 187.03 186.04 
L 186.85 185.89 
L 188.55 185.26 
L 188.05 185.30 
L 189.12 185.77 
L 189.78 186.42 
L 190.75 186.67 
L 191.69 185.74 
L 191.96 184.55 
L 192.51 184.20 
L 192.88 184.40 
L 194.51 184.01 
L 194.17 183.14 
L 194.17 182.26 
L 194.84 181.61 
L 194.77 181.66 
L 195.66 181.40 
L 195.75 180.71 
L 197.74 177.88 
L 198.28 177.35 
L 199.44 176.72 
L 200.79 176.42 
L 201.56 176.29 
L 202.09 175.94 
L 202.40 175.54 
L 203.06 174.23 
L 204.38 171.51 
L 206.01 167.85 
L 207.72 163.38 
L 209.23 158.83 
L 217.89 131.12 
L 221.19 122.11 
L 222.95 117.65 
L 224.10 115.26 
L 226.21 111.55 
L 228.08 108.63 
L 229.26 106.86 
L 229.26 106.86 
" clip-path="url(#pe34b453fc7)" style="fill: none; stroke: #08488e; stroke-linecap: square"/>
</g>
<g id="line2d_146">
<path d="M 156.99 115.54 
L 157.91 118.57 
L 159.04 123.25 
L 161.28 132.91 
L 166.42 152.76 
L 168.71 162.89 
L 169.78 168.38 
L 171.24 177.06 
L 172.31 181.21 
L 172.28 181.67 
L 172.59 182.07 
L 173.31 182.49 
L 173.22 183.60 
L 174.11 184.75 
L 174.48 185.44 
L 175.40 185.73 
L 175.29 185.65 
L 176.21 185.62 
L 176.15 185.74 
L 176.94 185.72 
L 178.87 185.31 
L 179.29 186.00 
L 180.39 186.15 
L 181.19 185.89 
L 182.12 186.79 
L 183.49 186.11 
L 183.42 186.03 
L 184.82 187.13 
L 186.13 187.48 
L 186.89 187.33 
L 187.64 186.24 
L 188.52 185.64 
L 189.36 186.10 
L 190.45 186.55 
L 190.90 187.19 
L 192.02 186.28 
L 192.77 184.99 
L 193.18 183.79 
L 194.22 183.00 
L 194.64 182.08 
L 195.32 181.93 
L 195.63 180.64 
L 196.11 180.18 
L 196.64 178.86 
L 197.59 177.82 
L 198.11 177.36 
L 199.26 176.72 
L 200.60 176.40 
L 201.37 176.27 
L 201.91 175.94 
L 202.21 175.54 
L 202.87 174.23 
L 204.19 171.51 
L 205.82 167.85 
L 207.54 163.38 
L 209.04 158.83 
L 217.71 131.12 
L 221.00 122.11 
L 222.76 117.65 
L 223.92 115.26 
L 226.03 111.55 
L 227.89 108.63 
L 229.08 106.86 
L 229.08 106.86 
" clip-path="url(#pe34b453fc7)" style="fill: none; stroke: #08306b; stroke-linecap: square"/>
</g>
</g>
<g id="axes_5">
<g id="patch_22">
<path d="M 273.31 91.36 
L 356.04 91.36 
L 356.04 0.21 
L 273.31 0.21 
z
" style="fill: #ffffff"/>
</g>
<g id="matplotlib.axis_9">
<g id="xtick_13">
<g id="line2d_147">
<path d="M 297.90 91.36 
L 297.90 0.21 
" clip-path="url(#pfaf67ad1b8)" style="fill: none; stroke: #b0b0b0; stroke-width: 0.8; stroke-linecap: square"/>
</g>
<g id="line2d_148">
<g>
<use href="#m1cd49489bd" x="297.90" y="91.36" style="stroke: #000000; stroke-width: 0.8"/>
</g>
</g>
</g>
<g id="xtick_14">
<g id="line2d_149">
<path d="M 326.90 91.36 
L 326.90 0.21 
" clip-path="url(#pfaf67ad1b8)" style="fill: none; stroke: #b0b0b0; stroke-width: 0.8; stroke-linecap: square"/>
</g>
<g id="line2d_150">
<g>
<use href="#m1cd49489bd" x="326.90" y="91.36" style="stroke: #000000; stroke-width: 0.8"/>
</g>
</g>
</g>
<g id="xtick_15">
<g id="line2d_151">
<path d="M 355.91 91.36 
L 355.91 0.21 
" clip-path="url(#pfaf67ad1b8)" style="fill: none; stroke: #b0b0b0; stroke-width: 0.8; stroke-linecap: square"/>
</g>
<g id="line2d_152">
<g>
<use href="#m1cd49489bd" x="355.91" y="91.36" style="stroke: #000000; stroke-width: 0.8"/>
</g>
</g>
</g>
<g id="xtick_16">
<g id="line2d_153">
<defs>
<path id="mf07962e97d" d="M 0 0 
L 0 2 
" style="stroke: #000000; stroke-width: 0.6"/>
</defs>
<g>
<use href="#mf07962e97d" x="277.62" y="91.36" style="stroke: #000000; stroke-width: 0.6"/>
</g>
</g>
</g>
<g id="xtick_17">
<g id="line2d_154">
<g>
<use href="#mf07962e97d" x="282.73" y="91.36" style="stroke: #000000; stroke-width: 0.6"/>
</g>
</g>
</g>
<g id="xtick_18">
<g id="line2d_155">
<g>
<use href="#mf07962e97d" x="286.35" y="91.36" style="stroke: #000000; stroke-width: 0.6"/>
</g>
</g>
</g>
<g id="xtick_19">
<g id="line2d_156">
<g>
<use href="#mf07962e97d" x="289.16" y="91.36" style="stroke: #000000; stroke-width: 0.6"/>
</g>
</g>
</g>
<g id="xtick_20">
<g id="line2d_157">
<g>
<use href="#mf07962e97d" x="291.46" y="91.36" style="stroke: #000000; stroke-width: 0.6"/>
</g>
</g>
</g>
<g id="xtick_21">
<g id="line2d_158">
<g>
<use href="#mf07962e97d" x="293.40" y="91.36" style="stroke: #000000; stroke-width: 0.6"/>
</g>
</g>
</g>
<g id="xtick_22">
<g id="line2d_159">
<g>
<use href="#mf07962e97d" x="295.09" y="91.36" style="stroke: #000000; stroke-width: 0.6"/>
</g>
</g>
</g>
<g id="xtick_23">
<g id="line2d_160">
<g>
<use href="#mf07962e97d" x="296.57" y="91.36" style="stroke: #000000; stroke-width: 0.6"/>
</g>
</g>
</g>
<g id="xtick_24">
<g id="line2d_161">
<g>
<use href="#mf07962e97d" x="306.63" y="91.36" style="stroke: #000000; stroke-width: 0.6"/>
</g>
</g>
</g>
<g id="xtick_25">
<g id="line2d_162">
<g>
<use href="#mf07962e97d" x="311.74" y="91.36" style="stroke: #000000; stroke-width: 0.6"/>
</g>
</g>
</g>
<g id="xtick_26">
<g id="line2d_163">
<g>
<use href="#mf07962e97d" x="315.36" y="91.36" style="stroke: #000000; stroke-width: 0.6"/>
</g>
</g>
</g>
<g id="xtick_27">
<g id="line2d_164">
<g>
<use href="#mf07962e97d" x="318.17" y="91.36" style="stroke: #000000; stroke-width: 0.6"/>
</g>
</g>
</g>
<g id="xtick_28">
<g id="line2d_165">
<g>
<use href="#mf07962e97d" x="320.47" y="91.36" style="stroke: #000000; stroke-width: 0.6"/>
</g>
</g>
</g>
<g id="xtick_29">
<g id="line2d_166">
<g>
<use href="#mf07962e97d" x="322.41" y="91.36" style="stroke: #000000; stroke-width: 0.6"/>
</g>
</g>
</g>
<g id="xtick_30">
<g id="line2d_167">
<g>
<use href="#mf07962e97d" x="324.09" y="91.36" style="stroke: #000000; stroke-width: 0.6"/>
</g>
</g>
</g>
<g id="xtick_31">
<g id="line2d_168">
<g>
<use href="#mf07962e97d" x="325.58" y="91.36" style="stroke: #000000; stroke-width: 0.6"/>
</g>
</g>
</g>
<g id="xtick_32">
<g id="line2d_169">
<g>
<use href="#mf07962e97d" x="335.63" y="91.36" style="stroke: #000000; stroke-width: 0.6"/>
</g>
</g>
</g>
<g id="xtick_33">
<g id="line2d_170">
<g>
<use href="#mf07962e97d" x="340.74" y="91.36" style="stroke: #000000; stroke-width: 0.6"/>
</g>
</g>
</g>
<g id="xtick_34">
<g id="line2d_171">
<g>
<use href="#mf07962e97d" x="344.37" y="91.36" style="stroke: #000000; stroke-width: 0.6"/>
</g>
</g>
</g>
<g id="xtick_35">
<g id="line2d_172">
<g>
<use href="#mf07962e97d" x="347.18" y="91.36" style="stroke: #000000; stroke-width: 0.6"/>
</g>
</g>
</g>
<g id="xtick_36">
<g id="line2d_173">
<g>
<use href="#mf07962e97d" x="349.47" y="91.36" style="stroke: #000000; stroke-width: 0.6"/>
</g>
</g>
</g>
<g id="xtick_37">
<g id="line2d_174">
<g>
<use href="#mf07962e97d" x="351.42" y="91.36" style="stroke: #000000; stroke-width: 0.6"/>
</g>
</g>
</g>
<g id="xtick_38">
<g id="line2d_175">
<g>
<use href="#mf07962e97d" x="353.10" y="91.36" style="stroke: #000000; stroke-width: 0.6"/>
</g>
</g>
</g>
<g id="xtick_39">
<g id="line2d_176">
<g>
<use href="#mf07962e97d" x="354.58" y="91.36" style="stroke: #000000; stroke-width: 0.6"/>
</g>
</g>
</g>
</g>
<g id="matplotlib.axis_10">
<g id="ytick_89">
<g id="line2d_177">
<path d="M 273.31 21.09 
L 356.04 21.09 
" clip-path="url(#pfaf67ad1b8)" style="fill: none; stroke: #b0b0b0; stroke-width: 0.8; stroke-linecap: square"/>
</g>
<g id="line2d_178">
<g>
<use href="#m6b28ea1482" x="273.31" y="21.09" style="stroke: #000000; stroke-width: 0.8"/>
</g>
</g>
</g>
<g id="ytick_90">
<g id="line2d_179">
<path d="M 273.31 47.61 
L 356.04 47.61 
" clip-path="url(#pfaf67ad1b8)" style="fill: none; stroke: #b0b0b0; stroke-width: 0.8; stroke-linecap: square"/>
</g>
<g id="line2d_180">
<g>
<use href="#m6b28ea1482" x="273.31" y="47.61" style="stroke: #000000; stroke-width: 0.8"/>
</g>
</g>
</g>
<g id="ytick_91">
<g id="line2d_181">
<path d="M 273.31 74.13 
L 356.04 74.13 
" clip-path="url(#pfaf67ad1b8)" style="fill: none; stroke: #b0b0b0; stroke-width: 0.8; stroke-linecap: square"/>
</g>
<g id="line2d_182">
<g>
<use href="#m6b28ea1482" x="273.31" y="74.13" style="stroke: #000000; stroke-width: 0.8"/>
</g>
</g>
</g>
</g>
<g id="FillBetweenPolyCollection_1">
<defs>
<path id="mb87192df9e" d="M 268.89 -206.21 
L 268.89 -204.50 
L 277.62 -204.96 
L 289.16 -205.08 
L 297.90 -205.52 
L 306.63 -205.61 
L 318.17 -206.33 
L 326.90 -206.69 
L 335.63 -207.03 
L 347.18 -207.43 
L 355.91 -207.98 
L 355.91 -209.54 
L 355.91 -209.54 
L 347.18 -209.38 
L 335.63 -209.07 
L 326.90 -208.47 
L 318.17 -207.77 
L 306.63 -207.31 
L 297.90 -207.10 
L 289.16 -207.00 
L 277.62 -206.56 
L 268.89 -206.21 
z
"/>
</defs>
<g clip-path="url(#pfaf67ad1b8)">
<use href="#mb87192df9e" x="0" y="223.2" style="fill: #f0f921; fill-opacity: 0.3"/>
</g>
</g>
<g id="FillBetweenPolyCollection_2">
<defs>
<path id="m417dbbe789" d="M 268.89 -205.27 
L 268.89 -203.87 
L 277.62 -204.12 
L 289.16 -204.41 
L 297.90 -204.72 
L 306.63 -205.12 
L 318.17 -205.37 
L 326.90 -205.74 
L 335.63 -206.35 
L 347.18 -206.46 
L 355.91 -206.33 
L 355.91 -207.84 
L 355.91 -207.84 
L 347.18 -207.76 
L 335.63 -206.97 
L 326.90 -206.66 
L 318.17 -206.45 
L 306.63 -206.29 
L 297.90 -205.55 
L 289.16 -205.31 
L 277.62 -205.02 
L 268.89 -205.27 
z
"/>
</defs>
<g clip-path="url(#pfaf67ad1b8)">
<use href="#m417dbbe789" x="0" y="223.2" style="fill: #febd2a; fill-opacity: 0.3"/>
</g>
</g>
<g id="FillBetweenPolyCollection_3">
<defs>
<path id="ma6624d6a04" d="M 268.89 -204.46 
L 268.89 -203.41 
L 277.62 -203.23 
L 289.16 -203.86 
L 297.90 -204.17 
L 306.63 -203.64 
L 318.17 -204.31 
L 326.90 -204.57 
L 335.63 -205.01 
L 347.18 -205.16 
L 355.91 -205.38 
L 355.91 -206.18 
L 355.91 -206.18 
L 347.18 -206.37 
L 335.63 -205.59 
L 326.90 -205.34 
L 318.17 -204.81 
L 306.63 -204.86 
L 297.90 -204.90 
L 289.16 -204.21 
L 277.62 -204.44 
L 268.89 -204.46 
z
"/>
</defs>
<g clip-path="url(#pfaf67ad1b8)">
<use href="#ma6624d6a04" x="0" y="223.2" style="fill: #f48849; fill-opacity: 0.3"/>
</g>
</g>
<g id="FillBetweenPolyCollection_4">
<defs>
<path id="m960e889187" d="M 268.89 -202.80 
L 268.89 -201.98 
L 277.62 -202.49 
L 289.16 -202.38 
L 297.90 -202.51 
L 306.63 -202.42 
L 318.17 -202.29 
L 326.90 -202.49 
L 335.63 -202.84 
L 347.18 -202.84 
L 355.91 -202.72 
L 355.91 -203.97 
L 355.91 -203.97 
L 347.18 -203.39 
L 335.63 -203.89 
L 326.90 -203.50 
L 318.17 -203.67 
L 306.63 -203.50 
L 297.90 -203.10 
L 289.16 -203.58 
L 277.62 -202.88 
L 268.89 -202.80 
z
"/>
</defs>
<g clip-path="url(#pfaf67ad1b8)">
<use href="#m960e889187" x="0" y="223.2" style="fill: #db5c68; fill-opacity: 0.3"/>
</g>
</g>
<g id="FillBetweenPolyCollection_5">
<defs>
<path id="m499b45cfdd" d="M 268.89 -202.66 
L 268.89 -201.25 
L 277.62 -201.14 
L 289.16 -200.08 
L 297.90 -199.75 
L 306.63 -199.15 
L 318.17 -198.40 
L 326.90 -197.67 
L 335.63 -196.64 
L 347.18 -196.04 
L 355.91 -195.39 
L 355.91 -199.92 
L 355.91 -199.92 
L 347.18 -200.38 
L 335.63 -200.68 
L 326.90 -200.82 
L 318.17 -201.07 
L 306.63 -201.50 
L 297.90 -202.09 
L 289.16 -202.00 
L 277.62 -202.51 
L 268.89 -202.66 
z
"/>
</defs>
<g clip-path="url(#pfaf67ad1b8)">
<use href="#m499b45cfdd" x="0" y="223.2" style="fill: #b83289; fill-opacity: 0.3"/>
</g>
</g>
<g id="FillBetweenPolyCollection_6">
<defs>
<path id="m11e4902b8d" d="M 268.89 -201.45 
L 268.89 -200.37 
L 277.62 -199.46 
L 289.16 -198.42 
L 297.90 -196.81 
L 306.63 -195.86 
L 318.17 -194.82 
L 326.90 -193.50 
L 335.63 -192.90 
L 347.18 -191.24 
L 355.91 -190.18 
L 355.91 -195.17 
L 355.91 -195.17 
L 347.18 -196.27 
L 335.63 -197.16 
L 326.90 -197.61 
L 318.17 -198.24 
L 306.63 -199.24 
L 297.90 -200.01 
L 289.16 -200.59 
L 277.62 -201.18 
L 268.89 -201.45 
z
"/>
</defs>
<g clip-path="url(#pfaf67ad1b8)">
<use href="#m11e4902b8d" x="0" y="223.2" style="fill: #8f0da4; fill-opacity: 0.3"/>
</g>
</g>
<g id="FillBetweenPolyCollection_7">
<defs>
<path id="m9b04cf933c" d="M 268.89 -200.67 
L 268.89 -198.88 
L 277.62 -198.17 
L 289.16 -196.54 
L 297.90 -195.07 
L 306.63 -193.33 
L 318.17 -191.83 
L 326.90 -189.86 
L 335.63 -188.19 
L 347.18 -186.10 
L 355.91 -183.98 
L 355.91 -191.72 
L 355.91 -191.72 
L 347.18 -192.46 
L 335.63 -193.74 
L 326.90 -195.28 
L 318.17 -196.24 
L 306.63 -197.59 
L 297.90 -198.47 
L 289.16 -199.18 
L 277.62 -200.10 
L 268.89 -200.67 
z
"/>
</defs>
<g clip-path="url(#pfaf67ad1b8)">
<use href="#m9b04cf933c" x="0" y="223.2" style="fill: #7a02a8; fill-opacity: 0.22"/>
</g>
</g>
<g id="FillBetweenPolyCollection_8">
<defs>
<path id="mcee6c8f557" d="M 268.89 -199.92 
L 268.89 -197.51 
L 277.62 -195.75 
L 289.16 -193.09 
L 297.90 -190.97 
L 306.63 -189.46 
L 318.17 -186.34 
L 326.90 -184.82 
L 335.63 -182.50 
L 347.18 -179.56 
L 355.91 -177.66 
L 355.91 -186.09 
L 355.91 -186.09 
L 347.18 -187.49 
L 335.63 -189.50 
L 326.90 -191.09 
L 318.17 -192.81 
L 306.63 -194.37 
L 297.90 -195.57 
L 289.16 -197.24 
L 277.62 -198.47 
L 268.89 -199.92 
z
"/>
</defs>
<g clip-path="url(#pfaf67ad1b8)">
<use href="#mcee6c8f557" x="0" y="223.2" style="fill: #6a00a8; fill-opacity: 0.22"/>
</g>
</g>
<g id="FillBetweenPolyCollection_9">
<defs>
<path id="m14722d5c4f" d="M 268.89 -199.92 
L 268.89 -198.88 
L 277.62 -198.17 
L 289.16 -196.54 
L 297.90 -195.07 
L 306.63 -193.33 
L 318.17 -191.83 
L 326.90 -189.86 
L 335.63 -188.19 
L 347.18 -186.10 
L 355.91 -183.98 
L 355.91 -186.09 
L 355.91 -186.09 
L 347.18 -187.49 
L 335.63 -189.50 
L 326.90 -191.09 
L 318.17 -192.81 
L 306.63 -194.37 
L 297.90 -195.57 
L 289.16 -197.24 
L 277.62 -198.47 
L 268.89 -199.92 
z
"/>
</defs>
<g clip-path="url(#pfaf67ad1b8)">
<use href="#m14722d5c4f" x="0" y="223.2" style="fill: #7a02a8; fill-opacity: 0.18"/>
</g>
</g>
<g id="FillBetweenPolyCollection_10">
<defs>
<path id="m90f3c7c5ed" d="M 268.89 -200.67 
L 268.89 -200.37 
L 277.62 -199.46 
L 289.16 -198.42 
L 297.90 -196.81 
L 306.63 -195.86 
L 318.17 -194.82 
L 326.90 -193.50 
L 335.63 -192.90 
L 347.18 -191.24 
L 355.91 -190.18 
L 355.91 -191.72 
L 355.91 -191.72 
L 347.18 -192.46 
L 335.63 -193.74 
L 326.90 -195.28 
L 318.17 -196.24 
L 306.63 -197.59 
L 297.90 -198.47 
L 289.16 -199.18 
L 277.62 -200.10 
L 268.89 -200.67 
z
"/>
</defs>
<g clip-path="url(#pfaf67ad1b8)">
<use href="#m90f3c7c5ed" x="0" y="223.2" style="fill: #8f0da4; fill-opacity: 0.18"/>
</g>
</g>
<g id="FillBetweenPolyCollection_11">
<defs>
<path id="m864b78022b" d="M 268.89 -201.45 
L 268.89 -201.25 
L 277.62 -201.14 
L 289.16 -200.08 
L 297.90 -199.75 
L 306.63 -199.15 
L 318.17 -198.24 
L 326.90 -197.61 
L 335.63 -196.64 
L 347.18 -196.04 
L 355.91 -195.17 
L 355.91 -195.39 
L 355.91 -195.39 
L 347.18 -196.27 
L 335.63 -197.16 
L 326.90 -197.67 
L 318.17 -198.40 
L 306.63 -199.24 
L 297.90 -200.01 
L 289.16 -200.59 
L 277.62 -201.18 
L 268.89 -201.45 
z
"/>
</defs>
<g clip-path="url(#pfaf67ad1b8)">
<use href="#m864b78022b" x="0" y="223.2" style="fill: #b83289; fill-opacity: 0.18"/>
</g>
</g>
<g id="FillBetweenPolyCollection_12">
<defs>
<path id="m8441cb2123" d="M 268.89 -203.41 
L 268.89 -202.80 
L 277.62 -202.88 
L 289.16 -203.58 
L 297.90 -203.10 
L 306.63 -203.50 
L 318.17 -203.67 
L 326.90 -203.50 
L 335.63 -203.89 
L 347.18 -203.39 
L 355.91 -203.97 
L 355.91 -205.38 
L 355.91 -205.38 
L 347.18 -205.16 
L 335.63 -205.01 
L 326.90 -204.57 
L 318.17 -204.31 
L 306.63 -203.64 
L 297.90 -204.17 
L 289.16 -203.86 
L 277.62 -203.23 
L 268.89 -203.41 
z
"/>
</defs>
<g clip-path="url(#pfaf67ad1b8)">
<use href="#m8441cb2123" x="0" y="223.2" style="fill: #f48849; fill-opacity: 0.18"/>
</g>
</g>
<g id="FillBetweenPolyCollection_13">
<defs>
<path id="m50deb95ff1" d="M 268.89 -204.46 
L 268.89 -203.87 
L 277.62 -204.12 
L 289.16 -204.21 
L 297.90 -204.72 
L 306.63 -204.86 
L 318.17 -204.81 
L 326.90 -205.34 
L 335.63 -205.59 
L 347.18 -206.37 
L 355.91 -206.18 
L 355.91 -206.33 
L 355.91 -206.33 
L 347.18 -206.46 
L 335.63 -206.35 
L 326.90 -205.74 
L 318.17 -205.37 
L 306.63 -205.12 
L 297.90 -204.90 
L 289.16 -204.41 
L 277.62 -204.44 
L 268.89 -204.46 
z
"/>
</defs>
<g clip-path="url(#pfaf67ad1b8)">
<use href="#m50deb95ff1" x="0" y="223.2" style="fill: #febd2a; fill-opacity: 0.18"/>
</g>
</g>
<g id="FillBetweenPolyCollection_14">
<defs>
<path id="m4488d7a7bb" d="M 268.89 -205.27 
L 268.89 -204.50 
L 277.62 -204.96 
L 289.16 -205.08 
L 297.90 -205.52 
L 306.63 -205.61 
L 318.17 -206.33 
L 326.90 -206.66 
L 335.63 -206.97 
L 347.18 -207.43 
L 355.91 -207.84 
L 355.91 -207.98 
L 355.91 -207.98 
L 347.18 -207.76 
L 335.63 -207.03 
L 326.90 -206.69 
L 318.17 -206.45 
L 306.63 -206.29 
L 297.90 -205.55 
L 289.16 -205.31 
L 277.62 -205.02 
L 268.89 -205.27 
z
"/>
</defs>
<g clip-path="url(#pfaf67ad1b8)">
<use href="#m4488d7a7bb" x="0" y="223.2" style="fill: #f0f921; fill-opacity: 0.18"/>
</g>
</g>
<g id="patch_23">
<path d="M 273.31 91.36 
L 273.31 0.21 
" style="fill: none; stroke: #000000; stroke-width: 0.8; stroke-linejoin: miter; stroke-linecap: square"/>
</g>
<g id="patch_24">
<path d="M 356.04 91.36 
L 356.04 0.21 
" style="fill: none; stroke: #000000; stroke-width: 0.8; stroke-linejoin: miter; stroke-linecap: square"/>
</g>
<g id="patch_25">
<path d="M 273.31 91.36 
L 356.04 91.36 
" style="fill: none; stroke: #000000; stroke-width: 0.8; stroke-linejoin: miter; stroke-linecap: square"/>
</g>
<g id="patch_26">
<path d="M 273.31 0.21 
L 356.04 0.21 
" style="fill: none; stroke: #000000; stroke-width: 0.8; stroke-linejoin: miter; stroke-linecap: square"/>
</g>
<g id="line2d_183">
<path d="M 268.89 16.98 
L 277.62 16.63 
L 289.16 16.19 
L 297.90 16.09 
L 306.63 15.88 
L 318.17 15.42 
L 326.90 14.72 
L 335.63 14.12 
L 347.18 13.81 
L 355.91 13.65 
" clip-path="url(#pfaf67ad1b8)" style="fill: none; stroke: #f0f921; stroke-width: 1.1; stroke-linecap: square"/>
<defs>
<path id="m09f60b9ddb" d="M 0 1.3 
C 0.34 1.3 0.67 1.16 0.91 0.91 
C 1.16 0.67 1.3 0.34 1.3 0 
C 1.3 -0.34 1.16 -0.67 0.91 -0.91 
C 0.67 -1.16 0.34 -1.3 0 -1.3 
C -0.34 -1.3 -0.67 -1.16 -0.91 -0.91 
C -1.16 -0.67 -1.3 -0.34 -1.3 0 
C -1.3 0.34 -1.16 0.67 -0.91 0.91 
C -0.67 1.16 -0.34 1.3 0 1.3 
z
"/>
</defs>
<g clip-path="url(#pfaf67ad1b8)">
<use href="#m09f60b9ddb" x="268.89" y="16.98" style="fill: #f0f921"/>
<use href="#m09f60b9ddb" x="277.62" y="16.63" style="fill: #f0f921"/>
<use href="#m09f60b9ddb" x="289.16" y="16.19" style="fill: #f0f921"/>
<use href="#m09f60b9ddb" x="297.90" y="16.09" style="fill: #f0f921"/>
<use href="#m09f60b9ddb" x="306.63" y="15.88" style="fill: #f0f921"/>
<use href="#m09f60b9ddb" x="318.17" y="15.42" style="fill: #f0f921"/>
<use href="#m09f60b9ddb" x="326.90" y="14.72" style="fill: #f0f921"/>
<use href="#m09f60b9ddb" x="335.63" y="14.12" style="fill: #f0f921"/>
<use href="#m09f60b9ddb" x="347.18" y="13.81" style="fill: #f0f921"/>
<use href="#m09f60b9ddb" x="355.91" y="13.65" style="fill: #f0f921"/>
</g>
</g>
<g id="line2d_184">
<path d="M 268.89 17.59 
L 277.62 17.79 
L 289.16 17.20 
L 297.90 17.12 
L 306.63 16.67 
L 318.17 16.15 
L 326.90 15.78 
L 335.63 15.10 
L 347.18 14.62 
L 355.91 14.25 
" clip-path="url(#pfaf67ad1b8)" style="fill: none; stroke: #f0f921; stroke-width: 1.1; stroke-linecap: square"/>
<g clip-path="url(#pfaf67ad1b8)">
<use href="#m09f60b9ddb" x="268.89" y="17.59" style="fill: #f0f921"/>
<use href="#m09f60b9ddb" x="277.62" y="17.79" style="fill: #f0f921"/>
<use href="#m09f60b9ddb" x="289.16" y="17.20" style="fill: #f0f921"/>
<use href="#m09f60b9ddb" x="297.90" y="17.12" style="fill: #f0f921"/>
<use href="#m09f60b9ddb" x="306.63" y="16.67" style="fill: #f0f921"/>
<use href="#m09f60b9ddb" x="318.17" y="16.15" style="fill: #f0f921"/>
<use href="#m09f60b9ddb" x="326.90" y="15.78" style="fill: #f0f921"/>
<use href="#m09f60b9ddb" x="335.63" y="15.10" style="fill: #f0f921"/>
<use href="#m09f60b9ddb" x="347.18" y="14.62" style="fill: #f0f921"/>
<use href="#m09f60b9ddb" x="355.91" y="14.25" style="fill: #f0f921"/>
</g>
</g>
<g id="line2d_185">
<path d="M 268.89 18.69 
L 277.62 18.23 
L 289.16 18.11 
L 297.90 17.67 
L 306.63 17.58 
L 318.17 16.86 
L 326.90 16.50 
L 335.63 16.16 
L 347.18 15.76 
L 355.91 15.21 
" clip-path="url(#pfaf67ad1b8)" style="fill: none; stroke: #f0f921; stroke-width: 1.1; stroke-linecap: square"/>
<g clip-path="url(#pfaf67ad1b8)">
<use href="#m09f60b9ddb" x="268.89" y="18.69" style="fill: #f0f921"/>
<use href="#m09f60b9ddb" x="277.62" y="18.23" style="fill: #f0f921"/>
<use href="#m09f60b9ddb" x="289.16" y="18.11" style="fill: #f0f921"/>
<use href="#m09f60b9ddb" x="297.90" y="17.67" style="fill: #f0f921"/>
<use href="#m09f60b9ddb" x="306.63" y="17.58" style="fill: #f0f921"/>
<use href="#m09f60b9ddb" x="318.17" y="16.86" style="fill: #f0f921"/>
<use href="#m09f60b9ddb" x="326.90" y="16.50" style="fill: #f0f921"/>
<use href="#m09f60b9ddb" x="335.63" y="16.16" style="fill: #f0f921"/>
<use href="#m09f60b9ddb" x="347.18" y="15.76" style="fill: #f0f921"/>
<use href="#m09f60b9ddb" x="355.91" y="15.21" style="fill: #f0f921"/>
</g>
</g>
<g id="line2d_186">
<path d="M 268.89 17.92 
L 277.62 18.17 
L 289.16 17.88 
L 297.90 17.64 
L 306.63 16.90 
L 318.17 16.74 
L 326.90 16.53 
L 335.63 16.22 
L 347.18 15.43 
L 355.91 15.35 
" clip-path="url(#pfaf67ad1b8)" style="fill: none; stroke: #febd2a; stroke-width: 1.1; stroke-linecap: square"/>
<defs>
<path id="mfde521a9cc" d="M 0 1.3 
C 0.34 1.3 0.67 1.16 0.91 0.91 
C 1.16 0.67 1.3 0.34 1.3 0 
C 1.3 -0.34 1.16 -0.67 0.91 -0.91 
C 0.67 -1.16 0.34 -1.3 0 -1.3 
C -0.34 -1.3 -0.67 -1.16 -0.91 -0.91 
C -1.16 -0.67 -1.3 -0.34 -1.3 0 
C -1.3 0.34 -1.16 0.67 -0.91 0.91 
C -0.67 1.16 -0.34 1.3 0 1.3 
z
"/>
</defs>
<g clip-path="url(#pfaf67ad1b8)">
<use href="#mfde521a9cc" x="268.89" y="17.92" style="fill: #febd2a"/>
<use href="#mfde521a9cc" x="277.62" y="18.17" style="fill: #febd2a"/>
<use href="#mfde521a9cc" x="289.16" y="17.88" style="fill: #febd2a"/>
<use href="#mfde521a9cc" x="297.90" y="17.64" style="fill: #febd2a"/>
<use href="#mfde521a9cc" x="306.63" y="16.90" style="fill: #febd2a"/>
<use href="#mfde521a9cc" x="318.17" y="16.74" style="fill: #febd2a"/>
<use href="#mfde521a9cc" x="326.90" y="16.53" style="fill: #febd2a"/>
<use href="#mfde521a9cc" x="335.63" y="16.22" style="fill: #febd2a"/>
<use href="#mfde521a9cc" x="347.18" y="15.43" style="fill: #febd2a"/>
<use href="#mfde521a9cc" x="355.91" y="15.35" style="fill: #febd2a"/>
</g>
</g>
<g id="line2d_187">
<path d="M 268.89 18.83 
L 277.62 18.51 
L 289.16 18.22 
L 297.90 18.06 
L 306.63 17.71 
L 318.17 17.02 
L 326.90 17.05 
L 335.63 16.84 
L 347.18 16.46 
L 355.91 15.75 
" clip-path="url(#pfaf67ad1b8)" style="fill: none; stroke: #febd2a; stroke-width: 1.1; stroke-linecap: square"/>
<g clip-path="url(#pfaf67ad1b8)">
<use href="#mfde521a9cc" x="268.89" y="18.83" style="fill: #febd2a"/>
<use href="#mfde521a9cc" x="277.62" y="18.51" style="fill: #febd2a"/>
<use href="#mfde521a9cc" x="289.16" y="18.22" style="fill: #febd2a"/>
<use href="#mfde521a9cc" x="297.90" y="18.06" style="fill: #febd2a"/>
<use href="#mfde521a9cc" x="306.63" y="17.71" style="fill: #febd2a"/>
<use href="#mfde521a9cc" x="318.17" y="17.02" style="fill: #febd2a"/>
<use href="#mfde521a9cc" x="326.90" y="17.05" style="fill: #febd2a"/>
<use href="#mfde521a9cc" x="335.63" y="16.84" style="fill: #febd2a"/>
<use href="#mfde521a9cc" x="347.18" y="16.46" style="fill: #febd2a"/>
<use href="#mfde521a9cc" x="355.91" y="15.75" style="fill: #febd2a"/>
</g>
</g>
<g id="line2d_188">
<path d="M 268.89 19.32 
L 277.62 19.07 
L 289.16 18.78 
L 297.90 18.47 
L 306.63 18.07 
L 318.17 17.82 
L 326.90 17.45 
L 335.63 16.81 
L 347.18 16.73 
L 355.91 16.86 
" clip-path="url(#pfaf67ad1b8)" style="fill: none; stroke: #febd2a; stroke-width: 1.1; stroke-linecap: square"/>
<g clip-path="url(#pfaf67ad1b8)">
<use href="#mfde521a9cc" x="268.89" y="19.32" style="fill: #febd2a"/>
<use href="#mfde521a9cc" x="277.62" y="19.07" style="fill: #febd2a"/>
<use href="#mfde521a9cc" x="289.16" y="18.78" style="fill: #febd2a"/>
<use href="#mfde521a9cc" x="297.90" y="18.47" style="fill: #febd2a"/>
<use href="#mfde521a9cc" x="306.63" y="18.07" style="fill: #febd2a"/>
<use href="#mfde521a9cc" x="318.17" y="17.82" style="fill: #febd2a"/>
<use href="#mfde521a9cc" x="326.90" y="17.45" style="fill: #febd2a"/>
<use href="#mfde521a9cc" x="335.63" y="16.81" style="fill: #febd2a"/>
<use href="#mfde521a9cc" x="347.18" y="16.73" style="fill: #febd2a"/>
<use href="#mfde521a9cc" x="355.91" y="16.86" style="fill: #febd2a"/>
</g>
</g>
<g id="line2d_189">
<path d="M 268.89 18.73 
L 277.62 18.75 
L 289.16 18.98 
L 297.90 18.29 
L 306.63 18.33 
L 318.17 18.38 
L 326.90 17.85 
L 335.63 17.60 
L 347.18 16.82 
L 355.91 17.01 
" clip-path="url(#pfaf67ad1b8)" style="fill: none; stroke: #f48849; stroke-width: 1.1; stroke-linecap: square"/>
<defs>
<path id="m12d9535417" d="M 0 1.3 
C 0.34 1.3 0.67 1.16 0.91 0.91 
C 1.16 0.67 1.3 0.34 1.3 0 
C 1.3 -0.34 1.16 -0.67 0.91 -0.91 
C 0.67 -1.16 0.34 -1.3 0 -1.3 
C -0.34 -1.3 -0.67 -1.16 -0.91 -0.91 
C -1.16 -0.67 -1.3 -0.34 -1.3 0 
C -1.3 0.34 -1.16 0.67 -0.91 0.91 
C -0.67 1.16 -0.34 1.3 0 1.3 
z
"/>
</defs>
<g clip-path="url(#pfaf67ad1b8)">
<use href="#m12d9535417" x="268.89" y="18.73" style="fill: #f48849"/>
<use href="#m12d9535417" x="277.62" y="18.75" style="fill: #f48849"/>
<use href="#m12d9535417" x="289.16" y="18.98" style="fill: #f48849"/>
<use href="#m12d9535417" x="297.90" y="18.29" style="fill: #f48849"/>
<use href="#m12d9535417" x="306.63" y="18.33" style="fill: #f48849"/>
<use href="#m12d9535417" x="318.17" y="18.38" style="fill: #f48849"/>
<use href="#m12d9535417" x="326.90" y="17.85" style="fill: #f48849"/>
<use href="#m12d9535417" x="335.63" y="17.60" style="fill: #f48849"/>
<use href="#m12d9535417" x="347.18" y="16.82" style="fill: #f48849"/>
<use href="#m12d9535417" x="355.91" y="17.01" style="fill: #f48849"/>
</g>
</g>
<g id="line2d_190">
<path d="M 268.89 19.60 
L 277.62 19.55 
L 289.16 19.11 
L 297.90 18.74 
L 306.63 18.61 
L 318.17 18.62 
L 326.90 18.42 
L 335.63 17.93 
L 347.18 17.76 
L 355.91 17.48 
" clip-path="url(#pfaf67ad1b8)" style="fill: none; stroke: #f48849; stroke-width: 1.1; stroke-linecap: square"/>
<g clip-path="url(#pfaf67ad1b8)">
<use href="#m12d9535417" x="268.89" y="19.60" style="fill: #f48849"/>
<use href="#m12d9535417" x="277.62" y="19.55" style="fill: #f48849"/>
<use href="#m12d9535417" x="289.16" y="19.11" style="fill: #f48849"/>
<use href="#m12d9535417" x="297.90" y="18.74" style="fill: #f48849"/>
<use href="#m12d9535417" x="306.63" y="18.61" style="fill: #f48849"/>
<use href="#m12d9535417" x="318.17" y="18.62" style="fill: #f48849"/>
<use href="#m12d9535417" x="326.90" y="18.42" style="fill: #f48849"/>
<use href="#m12d9535417" x="335.63" y="17.93" style="fill: #f48849"/>
<use href="#m12d9535417" x="347.18" y="17.76" style="fill: #f48849"/>
<use href="#m12d9535417" x="355.91" y="17.48" style="fill: #f48849"/>
</g>
</g>
<g id="line2d_191">
<path d="M 268.89 19.78 
L 277.62 19.96 
L 289.16 19.33 
L 297.90 19.02 
L 306.63 19.55 
L 318.17 18.88 
L 326.90 18.62 
L 335.63 18.18 
L 347.18 18.03 
L 355.91 17.81 
" clip-path="url(#pfaf67ad1b8)" style="fill: none; stroke: #f48849; stroke-width: 1.1; stroke-linecap: square"/>
<g clip-path="url(#pfaf67ad1b8)">
<use href="#m12d9535417" x="268.89" y="19.78" style="fill: #f48849"/>
<use href="#m12d9535417" x="277.62" y="19.96" style="fill: #f48849"/>
<use href="#m12d9535417" x="289.16" y="19.33" style="fill: #f48849"/>
<use href="#m12d9535417" x="297.90" y="19.02" style="fill: #f48849"/>
<use href="#m12d9535417" x="306.63" y="19.55" style="fill: #f48849"/>
<use href="#m12d9535417" x="318.17" y="18.88" style="fill: #f48849"/>
<use href="#m12d9535417" x="326.90" y="18.62" style="fill: #f48849"/>
<use href="#m12d9535417" x="335.63" y="18.18" style="fill: #f48849"/>
<use href="#m12d9535417" x="347.18" y="18.03" style="fill: #f48849"/>
<use href="#m12d9535417" x="355.91" y="17.81" style="fill: #f48849"/>
</g>
</g>
<g id="line2d_192">
<path d="M 268.89 20.39 
L 277.62 20.31 
L 289.16 19.61 
L 297.90 20.09 
L 306.63 19.69 
L 318.17 19.52 
L 326.90 19.69 
L 335.63 19.30 
L 347.18 19.80 
L 355.91 19.22 
" clip-path="url(#pfaf67ad1b8)" style="fill: none; stroke: #db5c68; stroke-width: 1.1; stroke-linecap: square"/>
<defs>
<path id="m81fced1c84" d="M 0 1.3 
C 0.34 1.3 0.67 1.16 0.91 0.91 
C 1.16 0.67 1.3 0.34 1.3 0 
C 1.3 -0.34 1.16 -0.67 0.91 -0.91 
C 0.67 -1.16 0.34 -1.3 0 -1.3 
C -0.34 -1.3 -0.67 -1.16 -0.91 -0.91 
C -1.16 -0.67 -1.3 -0.34 -1.3 0 
C -1.3 0.34 -1.16 0.67 -0.91 0.91 
C -0.67 1.16 -0.34 1.3 0 1.3 
z
"/>
</defs>
<g clip-path="url(#pfaf67ad1b8)">
<use href="#m81fced1c84" x="268.89" y="20.39" style="fill: #db5c68"/>
<use href="#m81fced1c84" x="277.62" y="20.31" style="fill: #db5c68"/>
<use href="#m81fced1c84" x="289.16" y="19.61" style="fill: #db5c68"/>
<use href="#m81fced1c84" x="297.90" y="20.09" style="fill: #db5c68"/>
<use href="#m81fced1c84" x="306.63" y="19.69" style="fill: #db5c68"/>
<use href="#m81fced1c84" x="318.17" y="19.52" style="fill: #db5c68"/>
<use href="#m81fced1c84" x="326.90" y="19.69" style="fill: #db5c68"/>
<use href="#m81fced1c84" x="335.63" y="19.30" style="fill: #db5c68"/>
<use href="#m81fced1c84" x="347.18" y="19.80" style="fill: #db5c68"/>
<use href="#m81fced1c84" x="355.91" y="19.22" style="fill: #db5c68"/>
</g>
</g>
<g id="line2d_193">
<path d="M 268.89 20.93 
L 277.62 20.42 
L 289.16 20.59 
L 297.90 20.67 
L 306.63 20.44 
L 318.17 20.36 
L 326.90 20.01 
L 335.63 19.97 
L 347.18 19.99 
L 355.91 19.97 
" clip-path="url(#pfaf67ad1b8)" style="fill: none; stroke: #db5c68; stroke-width: 1.1; stroke-linecap: square"/>
<g clip-path="url(#pfaf67ad1b8)">
<use href="#m81fced1c84" x="268.89" y="20.93" style="fill: #db5c68"/>
<use href="#m81fced1c84" x="277.62" y="20.42" style="fill: #db5c68"/>
<use href="#m81fced1c84" x="289.16" y="20.59" style="fill: #db5c68"/>
<use href="#m81fced1c84" x="297.90" y="20.67" style="fill: #db5c68"/>
<use href="#m81fced1c84" x="306.63" y="20.44" style="fill: #db5c68"/>
<use href="#m81fced1c84" x="318.17" y="20.36" style="fill: #db5c68"/>
<use href="#m81fced1c84" x="326.90" y="20.01" style="fill: #db5c68"/>
<use href="#m81fced1c84" x="335.63" y="19.97" style="fill: #db5c68"/>
<use href="#m81fced1c84" x="347.18" y="19.99" style="fill: #db5c68"/>
<use href="#m81fced1c84" x="355.91" y="19.97" style="fill: #db5c68"/>
</g>
</g>
<g id="line2d_194">
<path d="M 268.89 21.21 
L 277.62 20.70 
L 289.16 20.81 
L 297.90 20.68 
L 306.63 20.77 
L 318.17 20.90 
L 326.90 20.70 
L 335.63 20.35 
L 347.18 20.35 
L 355.91 20.47 
" clip-path="url(#pfaf67ad1b8)" style="fill: none; stroke: #db5c68; stroke-width: 1.1; stroke-linecap: square"/>
<g clip-path="url(#pfaf67ad1b8)">
<use href="#m81fced1c84" x="268.89" y="21.21" style="fill: #db5c68"/>
<use href="#m81fced1c84" x="277.62" y="20.70" style="fill: #db5c68"/>
<use href="#m81fced1c84" x="289.16" y="20.81" style="fill: #db5c68"/>
<use href="#m81fced1c84" x="297.90" y="20.68" style="fill: #db5c68"/>
<use href="#m81fced1c84" x="306.63" y="20.77" style="fill: #db5c68"/>
<use href="#m81fced1c84" x="318.17" y="20.90" style="fill: #db5c68"/>
<use href="#m81fced1c84" x="326.90" y="20.70" style="fill: #db5c68"/>
<use href="#m81fced1c84" x="335.63" y="20.35" style="fill: #db5c68"/>
<use href="#m81fced1c84" x="347.18" y="20.35" style="fill: #db5c68"/>
<use href="#m81fced1c84" x="355.91" y="20.47" style="fill: #db5c68"/>
</g>
</g>
<g id="line2d_195">
<path d="M 268.89 20.53 
L 277.62 20.68 
L 289.16 21.19 
L 297.90 21.10 
L 306.63 21.69 
L 318.17 22.12 
L 326.90 22.41 
L 335.63 22.51 
L 347.18 22.81 
L 355.91 23.40 
" clip-path="url(#pfaf67ad1b8)" style="fill: none; stroke: #b83289; stroke-width: 0.62; stroke-linecap: square"/>
<defs>
<path id="ma9c938e10a" d="M 0 1.5 
C 0.39 1.5 0.77 1.34 1.06 1.06 
C 1.34 0.77 1.5 0.39 1.5 0 
C 1.5 -0.39 1.34 -0.77 1.06 -1.06 
C 0.77 -1.34 0.39 -1.5 0 -1.5 
C -0.39 -1.5 -0.77 -1.34 -1.06 -1.06 
C -1.34 -0.77 -1.5 -0.39 -1.5 0 
C -1.5 0.39 -1.34 0.77 -1.06 1.06 
C -0.77 1.34 -0.39 1.5 0 1.5 
z
"/>
</defs>
<g clip-path="url(#pfaf67ad1b8)">
<use href="#ma9c938e10a" x="268.89" y="20.53" style="fill: #b83289"/>
<use href="#ma9c938e10a" x="277.62" y="20.68" style="fill: #b83289"/>
<use href="#ma9c938e10a" x="289.16" y="21.19" style="fill: #b83289"/>
<use href="#ma9c938e10a" x="297.90" y="21.10" style="fill: #b83289"/>
<use href="#ma9c938e10a" x="306.63" y="21.69" style="fill: #b83289"/>
<use href="#ma9c938e10a" x="318.17" y="22.12" style="fill: #b83289"/>
<use href="#ma9c938e10a" x="326.90" y="22.41" style="fill: #b83289"/>
<use href="#ma9c938e10a" x="335.63" y="22.51" style="fill: #b83289"/>
<use href="#ma9c938e10a" x="347.18" y="22.81" style="fill: #b83289"/>
<use href="#ma9c938e10a" x="355.91" y="23.40" style="fill: #b83289"/>
</g>
</g>
<g id="line2d_196">
<path d="M 268.89 21.18 
L 277.62 20.89 
L 289.16 21.36 
L 297.90 21.73 
L 306.63 21.98 
L 318.17 22.14 
L 326.90 22.37 
L 335.63 22.91 
L 347.18 23.14 
L 355.91 23.27 
" clip-path="url(#pfaf67ad1b8)" style="fill: none; stroke: #b83289; stroke-width: 0.62; stroke-linecap: square"/>
<g clip-path="url(#pfaf67ad1b8)">
<use href="#ma9c938e10a" x="268.89" y="21.18" style="fill: #b83289"/>
<use href="#ma9c938e10a" x="277.62" y="20.89" style="fill: #b83289"/>
<use href="#ma9c938e10a" x="289.16" y="21.36" style="fill: #b83289"/>
<use href="#ma9c938e10a" x="297.90" y="21.73" style="fill: #b83289"/>
<use href="#ma9c938e10a" x="306.63" y="21.98" style="fill: #b83289"/>
<use href="#ma9c938e10a" x="318.17" y="22.14" style="fill: #b83289"/>
<use href="#ma9c938e10a" x="326.90" y="22.37" style="fill: #b83289"/>
<use href="#ma9c938e10a" x="335.63" y="22.91" style="fill: #b83289"/>
<use href="#ma9c938e10a" x="347.18" y="23.14" style="fill: #b83289"/>
<use href="#ma9c938e10a" x="355.91" y="23.27" style="fill: #b83289"/>
</g>
</g>
<g id="line2d_197">
<path d="M 268.89 21.48 
L 277.62 21.83 
L 289.16 22.08 
L 297.90 22.47 
L 306.63 22.99 
L 318.17 23.19 
L 326.90 24.26 
L 335.63 24.47 
L 347.18 24.43 
L 355.91 25.12 
" clip-path="url(#pfaf67ad1b8)" style="fill: none; stroke: #b83289; stroke-width: 0.62; stroke-linecap: square"/>
<g clip-path="url(#pfaf67ad1b8)">
<use href="#ma9c938e10a" x="268.89" y="21.48" style="fill: #b83289"/>
<use href="#ma9c938e10a" x="277.62" y="21.83" style="fill: #b83289"/>
<use href="#ma9c938e10a" x="289.16" y="22.08" style="fill: #b83289"/>
<use href="#ma9c938e10a" x="297.90" y="22.47" style="fill: #b83289"/>
<use href="#ma9c938e10a" x="306.63" y="22.99" style="fill: #b83289"/>
<use href="#ma9c938e10a" x="318.17" y="23.19" style="fill: #b83289"/>
<use href="#ma9c938e10a" x="326.90" y="24.26" style="fill: #b83289"/>
<use href="#ma9c938e10a" x="335.63" y="24.47" style="fill: #b83289"/>
<use href="#ma9c938e10a" x="347.18" y="24.43" style="fill: #b83289"/>
<use href="#ma9c938e10a" x="355.91" y="25.12" style="fill: #b83289"/>
</g>
</g>
<g id="line2d_198">
<path d="M 268.89 21.30 
L 277.62 21.88 
L 289.16 22.45 
L 297.90 23.17 
L 306.63 23.44 
L 318.17 24.29 
L 326.90 24.86 
L 335.63 25.45 
L 347.18 26.13 
L 355.91 26.82 
" clip-path="url(#pfaf67ad1b8)" style="fill: none; stroke: #b83289; stroke-width: 0.62; stroke-linecap: square"/>
<g clip-path="url(#pfaf67ad1b8)">
<use href="#ma9c938e10a" x="268.89" y="21.30" style="fill: #b83289"/>
<use href="#ma9c938e10a" x="277.62" y="21.88" style="fill: #b83289"/>
<use href="#ma9c938e10a" x="289.16" y="22.45" style="fill: #b83289"/>
<use href="#ma9c938e10a" x="297.90" y="23.17" style="fill: #b83289"/>
<use href="#ma9c938e10a" x="306.63" y="23.44" style="fill: #b83289"/>
<use href="#ma9c938e10a" x="318.17" y="24.29" style="fill: #b83289"/>
<use href="#ma9c938e10a" x="326.90" y="24.86" style="fill: #b83289"/>
<use href="#ma9c938e10a" x="335.63" y="25.45" style="fill: #b83289"/>
<use href="#ma9c938e10a" x="347.18" y="26.13" style="fill: #b83289"/>
<use href="#ma9c938e10a" x="355.91" y="26.82" style="fill: #b83289"/>
</g>
</g>
<g id="line2d_199">
<path d="M 268.89 21.94 
L 277.62 22.05 
L 289.16 23.11 
L 297.90 23.44 
L 306.63 24.04 
L 318.17 24.79 
L 326.90 25.52 
L 335.63 26.55 
L 347.18 27.15 
L 355.91 27.80 
" clip-path="url(#pfaf67ad1b8)" style="fill: none; stroke: #b83289; stroke-width: 0.62; stroke-linecap: square"/>
<g clip-path="url(#pfaf67ad1b8)">
<use href="#ma9c938e10a" x="268.89" y="21.94" style="fill: #b83289"/>
<use href="#ma9c938e10a" x="277.62" y="22.05" style="fill: #b83289"/>
<use href="#ma9c938e10a" x="289.16" y="23.11" style="fill: #b83289"/>
<use href="#ma9c938e10a" x="297.90" y="23.44" style="fill: #b83289"/>
<use href="#ma9c938e10a" x="306.63" y="24.04" style="fill: #b83289"/>
<use href="#ma9c938e10a" x="318.17" y="24.79" style="fill: #b83289"/>
<use href="#ma9c938e10a" x="326.90" y="25.52" style="fill: #b83289"/>
<use href="#ma9c938e10a" x="335.63" y="26.55" style="fill: #b83289"/>
<use href="#ma9c938e10a" x="347.18" y="27.15" style="fill: #b83289"/>
<use href="#ma9c938e10a" x="355.91" y="27.80" style="fill: #b83289"/>
</g>
</g>
<g id="line2d_200">
<path d="M 268.89 21.74 
L 277.62 22.01 
L 289.16 22.60 
L 297.90 23.18 
L 306.63 23.95 
L 318.17 24.95 
L 326.90 25.58 
L 335.63 26.03 
L 347.18 26.92 
L 355.91 28.02 
" clip-path="url(#pfaf67ad1b8)" style="fill: none; stroke: #8b0aa5; stroke-width: 0.62; stroke-linecap: square"/>
<defs>
<path id="mf1cc35d53a" d="M 0 1.5 
C 0.39 1.5 0.77 1.34 1.06 1.06 
C 1.34 0.77 1.5 0.39 1.5 0 
C 1.5 -0.39 1.34 -0.77 1.06 -1.06 
C 0.77 -1.34 0.39 -1.5 0 -1.5 
C -0.39 -1.5 -0.77 -1.34 -1.06 -1.06 
C -1.34 -0.77 -1.5 -0.39 -1.5 0 
C -1.5 0.39 -1.34 0.77 -1.06 1.06 
C -0.77 1.34 -0.39 1.5 0 1.5 
z
"/>
</defs>
<g clip-path="url(#pfaf67ad1b8)">
<use href="#mf1cc35d53a" x="268.89" y="21.74" style="fill: #8b0aa5"/>
<use href="#mf1cc35d53a" x="277.62" y="22.01" style="fill: #8b0aa5"/>
<use href="#mf1cc35d53a" x="289.16" y="22.60" style="fill: #8b0aa5"/>
<use href="#mf1cc35d53a" x="297.90" y="23.18" style="fill: #8b0aa5"/>
<use href="#mf1cc35d53a" x="306.63" y="23.95" style="fill: #8b0aa5"/>
<use href="#mf1cc35d53a" x="318.17" y="24.95" style="fill: #8b0aa5"/>
<use href="#mf1cc35d53a" x="326.90" y="25.58" style="fill: #8b0aa5"/>
<use href="#mf1cc35d53a" x="335.63" y="26.03" style="fill: #8b0aa5"/>
<use href="#mf1cc35d53a" x="347.18" y="26.92" style="fill: #8b0aa5"/>
<use href="#mf1cc35d53a" x="355.91" y="28.02" style="fill: #8b0aa5"/>
</g>
</g>
<g id="line2d_201">
<path d="M 268.89 21.77 
L 277.62 22.41 
L 289.16 23.67 
L 297.90 24.16 
L 306.63 24.89 
L 318.17 25.68 
L 326.90 26.77 
L 335.63 26.90 
L 347.18 28.05 
L 355.91 28.76 
" clip-path="url(#pfaf67ad1b8)" style="fill: none; stroke: #8b0aa5; stroke-width: 0.62; stroke-linecap: square"/>
<g clip-path="url(#pfaf67ad1b8)">
<use href="#mf1cc35d53a" x="268.89" y="21.77" style="fill: #8b0aa5"/>
<use href="#mf1cc35d53a" x="277.62" y="22.41" style="fill: #8b0aa5"/>
<use href="#mf1cc35d53a" x="289.16" y="23.67" style="fill: #8b0aa5"/>
<use href="#mf1cc35d53a" x="297.90" y="24.16" style="fill: #8b0aa5"/>
<use href="#mf1cc35d53a" x="306.63" y="24.89" style="fill: #8b0aa5"/>
<use href="#mf1cc35d53a" x="318.17" y="25.68" style="fill: #8b0aa5"/>
<use href="#mf1cc35d53a" x="326.90" y="26.77" style="fill: #8b0aa5"/>
<use href="#mf1cc35d53a" x="335.63" y="26.90" style="fill: #8b0aa5"/>
<use href="#mf1cc35d53a" x="347.18" y="28.05" style="fill: #8b0aa5"/>
<use href="#mf1cc35d53a" x="355.91" y="28.76" style="fill: #8b0aa5"/>
</g>
</g>
<g id="line2d_202">
<path d="M 268.89 22.07 
L 277.62 23.26 
L 289.16 23.72 
L 297.90 24.36 
L 306.63 25.39 
L 318.17 26.13 
L 326.90 27.16 
L 335.63 27.67 
L 347.18 28.92 
L 355.91 29.83 
" clip-path="url(#pfaf67ad1b8)" style="fill: none; stroke: #8b0aa5; stroke-width: 0.62; stroke-linecap: square"/>
<g clip-path="url(#pfaf67ad1b8)">
<use href="#mf1cc35d53a" x="268.89" y="22.07" style="fill: #8b0aa5"/>
<use href="#mf1cc35d53a" x="277.62" y="23.26" style="fill: #8b0aa5"/>
<use href="#mf1cc35d53a" x="289.16" y="23.72" style="fill: #8b0aa5"/>
<use href="#mf1cc35d53a" x="297.90" y="24.36" style="fill: #8b0aa5"/>
<use href="#mf1cc35d53a" x="306.63" y="25.39" style="fill: #8b0aa5"/>
<use href="#mf1cc35d53a" x="318.17" y="26.13" style="fill: #8b0aa5"/>
<use href="#mf1cc35d53a" x="326.90" y="27.16" style="fill: #8b0aa5"/>
<use href="#mf1cc35d53a" x="335.63" y="27.67" style="fill: #8b0aa5"/>
<use href="#mf1cc35d53a" x="347.18" y="28.92" style="fill: #8b0aa5"/>
<use href="#mf1cc35d53a" x="355.91" y="29.83" style="fill: #8b0aa5"/>
</g>
</g>
<g id="line2d_203">
<path d="M 268.89 22.39 
L 277.62 23.58 
L 289.16 24.45 
L 297.90 25.07 
L 306.63 26.04 
L 318.17 27.61 
L 326.90 28.54 
L 335.63 30.03 
L 347.18 31.32 
L 355.91 32.78 
" clip-path="url(#pfaf67ad1b8)" style="fill: none; stroke: #8b0aa5; stroke-width: 0.62; stroke-linecap: square"/>
<g clip-path="url(#pfaf67ad1b8)">
<use href="#mf1cc35d53a" x="268.89" y="22.39" style="fill: #8b0aa5"/>
<use href="#mf1cc35d53a" x="277.62" y="23.58" style="fill: #8b0aa5"/>
<use href="#mf1cc35d53a" x="289.16" y="24.45" style="fill: #8b0aa5"/>
<use href="#mf1cc35d53a" x="297.90" y="25.07" style="fill: #8b0aa5"/>
<use href="#mf1cc35d53a" x="306.63" y="26.04" style="fill: #8b0aa5"/>
<use href="#mf1cc35d53a" x="318.17" y="27.61" style="fill: #8b0aa5"/>
<use href="#mf1cc35d53a" x="326.90" y="28.54" style="fill: #8b0aa5"/>
<use href="#mf1cc35d53a" x="335.63" y="30.03" style="fill: #8b0aa5"/>
<use href="#mf1cc35d53a" x="347.18" y="31.32" style="fill: #8b0aa5"/>
<use href="#mf1cc35d53a" x="355.91" y="32.78" style="fill: #8b0aa5"/>
</g>
</g>
<g id="line2d_204">
<path d="M 268.89 22.82 
L 277.62 23.73 
L 289.16 24.77 
L 297.90 26.38 
L 306.63 27.33 
L 318.17 28.37 
L 326.90 29.69 
L 335.63 30.29 
L 347.18 31.95 
L 355.91 33.01 
" clip-path="url(#pfaf67ad1b8)" style="fill: none; stroke: #8b0aa5; stroke-width: 0.62; stroke-linecap: square"/>
<g clip-path="url(#pfaf67ad1b8)">
<use href="#mf1cc35d53a" x="268.89" y="22.82" style="fill: #8b0aa5"/>
<use href="#mf1cc35d53a" x="277.62" y="23.73" style="fill: #8b0aa5"/>
<use href="#mf1cc35d53a" x="289.16" y="24.77" style="fill: #8b0aa5"/>
<use href="#mf1cc35d53a" x="297.90" y="26.38" style="fill: #8b0aa5"/>
<use href="#mf1cc35d53a" x="306.63" y="27.33" style="fill: #8b0aa5"/>
<use href="#mf1cc35d53a" x="318.17" y="28.37" style="fill: #8b0aa5"/>
<use href="#mf1cc35d53a" x="326.90" y="29.69" style="fill: #8b0aa5"/>
<use href="#mf1cc35d53a" x="335.63" y="30.29" style="fill: #8b0aa5"/>
<use href="#mf1cc35d53a" x="347.18" y="31.95" style="fill: #8b0aa5"/>
<use href="#mf1cc35d53a" x="355.91" y="33.01" style="fill: #8b0aa5"/>
</g>
</g>
<g id="line2d_205">
<path d="M 268.89 22.52 
L 277.62 23.09 
L 289.16 24.01 
L 297.90 24.72 
L 306.63 25.60 
L 318.17 26.95 
L 326.90 27.91 
L 335.63 29.45 
L 347.18 30.73 
L 355.91 31.47 
" clip-path="url(#pfaf67ad1b8)" style="fill: none; stroke: #5302a3; stroke-width: 0.62; stroke-linecap: square"/>
<defs>
<path id="m836690668c" d="M 0 1.5 
C 0.39 1.5 0.77 1.34 1.06 1.06 
C 1.34 0.77 1.5 0.39 1.5 0 
C 1.5 -0.39 1.34 -0.77 1.06 -1.06 
C 0.77 -1.34 0.39 -1.5 0 -1.5 
C -0.39 -1.5 -0.77 -1.34 -1.06 -1.06 
C -1.34 -0.77 -1.5 -0.39 -1.5 0 
C -1.5 0.39 -1.34 0.77 -1.06 1.06 
C -0.77 1.34 -0.39 1.5 0 1.5 
z
"/>
</defs>
<g clip-path="url(#pfaf67ad1b8)">
<use href="#m836690668c" x="268.89" y="22.52" style="fill: #5302a3"/>
<use href="#m836690668c" x="277.62" y="23.09" style="fill: #5302a3"/>
<use href="#m836690668c" x="289.16" y="24.01" style="fill: #5302a3"/>
<use href="#m836690668c" x="297.90" y="24.72" style="fill: #5302a3"/>
<use href="#m836690668c" x="306.63" y="25.60" style="fill: #5302a3"/>
<use href="#m836690668c" x="318.17" y="26.95" style="fill: #5302a3"/>
<use href="#m836690668c" x="326.90" y="27.91" style="fill: #5302a3"/>
<use href="#m836690668c" x="335.63" y="29.45" style="fill: #5302a3"/>
<use href="#m836690668c" x="347.18" y="30.73" style="fill: #5302a3"/>
<use href="#m836690668c" x="355.91" y="31.47" style="fill: #5302a3"/>
</g>
</g>
<g id="line2d_206">
<path d="M 268.89 22.79 
L 277.62 23.95 
L 289.16 24.99 
L 297.90 26.21 
L 306.63 27.47 
L 318.17 28.97 
L 326.90 30.35 
L 335.63 31.05 
L 347.18 32.38 
L 355.91 33.36 
" clip-path="url(#pfaf67ad1b8)" style="fill: none; stroke: #5302a3; stroke-width: 0.62; stroke-linecap: square"/>
<g clip-path="url(#pfaf67ad1b8)">
<use href="#m836690668c" x="268.89" y="22.79" style="fill: #5302a3"/>
<use href="#m836690668c" x="277.62" y="23.95" style="fill: #5302a3"/>
<use href="#m836690668c" x="289.16" y="24.99" style="fill: #5302a3"/>
<use href="#m836690668c" x="297.90" y="26.21" style="fill: #5302a3"/>
<use href="#m836690668c" x="306.63" y="27.47" style="fill: #5302a3"/>
<use href="#m836690668c" x="318.17" y="28.97" style="fill: #5302a3"/>
<use href="#m836690668c" x="326.90" y="30.35" style="fill: #5302a3"/>
<use href="#m836690668c" x="335.63" y="31.05" style="fill: #5302a3"/>
<use href="#m836690668c" x="347.18" y="32.38" style="fill: #5302a3"/>
<use href="#m836690668c" x="355.91" y="33.36" style="fill: #5302a3"/>
</g>
</g>
<g id="line2d_207">
<path d="M 268.89 23.63 
L 277.62 23.83 
L 289.16 24.69 
L 297.90 26.18 
L 306.63 27.16 
L 318.17 28.90 
L 326.90 30.41 
L 335.63 32.25 
L 347.18 33.85 
L 355.91 35.25 
" clip-path="url(#pfaf67ad1b8)" style="fill: none; stroke: #5302a3; stroke-width: 0.62; stroke-linecap: square"/>
<g clip-path="url(#pfaf67ad1b8)">
<use href="#m836690668c" x="268.89" y="23.63" style="fill: #5302a3"/>
<use href="#m836690668c" x="277.62" y="23.83" style="fill: #5302a3"/>
<use href="#m836690668c" x="289.16" y="24.69" style="fill: #5302a3"/>
<use href="#m836690668c" x="297.90" y="26.18" style="fill: #5302a3"/>
<use href="#m836690668c" x="306.63" y="27.16" style="fill: #5302a3"/>
<use href="#m836690668c" x="318.17" y="28.90" style="fill: #5302a3"/>
<use href="#m836690668c" x="326.90" y="30.41" style="fill: #5302a3"/>
<use href="#m836690668c" x="335.63" y="32.25" style="fill: #5302a3"/>
<use href="#m836690668c" x="347.18" y="33.85" style="fill: #5302a3"/>
<use href="#m836690668c" x="355.91" y="35.25" style="fill: #5302a3"/>
</g>
</g>
<g id="line2d_208">
<path d="M 268.89 23.95 
L 277.62 24.32 
L 289.16 26.17 
L 297.90 27.56 
L 306.63 28.93 
L 318.17 30.74 
L 326.90 31.95 
L 335.63 33.31 
L 347.18 35.05 
L 355.91 36.33 
" clip-path="url(#pfaf67ad1b8)" style="fill: none; stroke: #5302a3; stroke-width: 0.62; stroke-linecap: square"/>
<g clip-path="url(#pfaf67ad1b8)">
<use href="#m836690668c" x="268.89" y="23.95" style="fill: #5302a3"/>
<use href="#m836690668c" x="277.62" y="24.32" style="fill: #5302a3"/>
<use href="#m836690668c" x="289.16" y="26.17" style="fill: #5302a3"/>
<use href="#m836690668c" x="297.90" y="27.56" style="fill: #5302a3"/>
<use href="#m836690668c" x="306.63" y="28.93" style="fill: #5302a3"/>
<use href="#m836690668c" x="318.17" y="30.74" style="fill: #5302a3"/>
<use href="#m836690668c" x="326.90" y="31.95" style="fill: #5302a3"/>
<use href="#m836690668c" x="335.63" y="33.31" style="fill: #5302a3"/>
<use href="#m836690668c" x="347.18" y="35.05" style="fill: #5302a3"/>
<use href="#m836690668c" x="355.91" y="36.33" style="fill: #5302a3"/>
</g>
</g>
<g id="line2d_209">
<path d="M 268.89 24.31 
L 277.62 25.02 
L 289.16 26.65 
L 297.90 28.12 
L 306.63 29.86 
L 318.17 31.36 
L 326.90 33.33 
L 335.63 35.00 
L 347.18 37.09 
L 355.91 39.21 
" clip-path="url(#pfaf67ad1b8)" style="fill: none; stroke: #5302a3; stroke-width: 0.62; stroke-linecap: square"/>
<g clip-path="url(#pfaf67ad1b8)">
<use href="#m836690668c" x="268.89" y="24.31" style="fill: #5302a3"/>
<use href="#m836690668c" x="277.62" y="25.02" style="fill: #5302a3"/>
<use href="#m836690668c" x="289.16" y="26.65" style="fill: #5302a3"/>
<use href="#m836690668c" x="297.90" y="28.12" style="fill: #5302a3"/>
<use href="#m836690668c" x="306.63" y="29.86" style="fill: #5302a3"/>
<use href="#m836690668c" x="318.17" y="31.36" style="fill: #5302a3"/>
<use href="#m836690668c" x="326.90" y="33.33" style="fill: #5302a3"/>
<use href="#m836690668c" x="335.63" y="35.00" style="fill: #5302a3"/>
<use href="#m836690668c" x="347.18" y="37.09" style="fill: #5302a3"/>
<use href="#m836690668c" x="355.91" y="39.21" style="fill: #5302a3"/>
</g>
</g>
<g id="line2d_210">
<path d="M 268.89 23.27 
L 277.62 24.72 
L 289.16 25.95 
L 297.90 27.62 
L 306.63 28.82 
L 318.17 30.38 
L 326.90 32.10 
L 335.63 33.69 
L 347.18 35.70 
L 355.91 37.10 
" clip-path="url(#pfaf67ad1b8)" style="fill: none; stroke: #0d0887; stroke-width: 0.62; stroke-linecap: square"/>
<defs>
<path id="m62e73f8e8c" d="M 0 1.5 
C 0.39 1.5 0.77 1.34 1.06 1.06 
C 1.34 0.77 1.5 0.39 1.5 0 
C 1.5 -0.39 1.34 -0.77 1.06 -1.06 
C 0.77 -1.34 0.39 -1.5 0 -1.5 
C -0.39 -1.5 -0.77 -1.34 -1.06 -1.06 
C -1.34 -0.77 -1.5 -0.39 -1.5 0 
C -1.5 0.39 -1.34 0.77 -1.06 1.06 
C -0.77 1.34 -0.39 1.5 0 1.5 
z
"/>
</defs>
<g clip-path="url(#pfaf67ad1b8)">
<use href="#m62e73f8e8c" x="268.89" y="23.27" style="fill: #0d0887"/>
<use href="#m62e73f8e8c" x="277.62" y="24.72" style="fill: #0d0887"/>
<use href="#m62e73f8e8c" x="289.16" y="25.95" style="fill: #0d0887"/>
<use href="#m62e73f8e8c" x="297.90" y="27.62" style="fill: #0d0887"/>
<use href="#m62e73f8e8c" x="306.63" y="28.82" style="fill: #0d0887"/>
<use href="#m62e73f8e8c" x="318.17" y="30.38" style="fill: #0d0887"/>
<use href="#m62e73f8e8c" x="326.90" y="32.10" style="fill: #0d0887"/>
<use href="#m62e73f8e8c" x="335.63" y="33.69" style="fill: #0d0887"/>
<use href="#m62e73f8e8c" x="347.18" y="35.70" style="fill: #0d0887"/>
<use href="#m62e73f8e8c" x="355.91" y="37.10" style="fill: #0d0887"/>
</g>
</g>
<g id="line2d_211">
<path d="M 268.89 23.57 
L 277.62 24.83 
L 289.16 27.08 
L 297.90 28.96 
L 306.63 30.52 
L 318.17 32.89 
L 326.90 34.22 
L 335.63 35.33 
L 347.18 37.77 
L 355.91 39.51 
" clip-path="url(#pfaf67ad1b8)" style="fill: none; stroke: #0d0887; stroke-width: 0.62; stroke-linecap: square"/>
<g clip-path="url(#pfaf67ad1b8)">
<use href="#m62e73f8e8c" x="268.89" y="23.57" style="fill: #0d0887"/>
<use href="#m62e73f8e8c" x="277.62" y="24.83" style="fill: #0d0887"/>
<use href="#m62e73f8e8c" x="289.16" y="27.08" style="fill: #0d0887"/>
<use href="#m62e73f8e8c" x="297.90" y="28.96" style="fill: #0d0887"/>
<use href="#m62e73f8e8c" x="306.63" y="30.52" style="fill: #0d0887"/>
<use href="#m62e73f8e8c" x="318.17" y="32.89" style="fill: #0d0887"/>
<use href="#m62e73f8e8c" x="326.90" y="34.22" style="fill: #0d0887"/>
<use href="#m62e73f8e8c" x="335.63" y="35.33" style="fill: #0d0887"/>
<use href="#m62e73f8e8c" x="347.18" y="37.77" style="fill: #0d0887"/>
<use href="#m62e73f8e8c" x="355.91" y="39.51" style="fill: #0d0887"/>
</g>
</g>
<g id="line2d_212">
<path d="M 268.89 24.99 
L 277.62 26.00 
L 289.16 27.45 
L 297.90 28.55 
L 306.63 29.90 
L 318.17 32.52 
L 326.90 34.28 
L 335.63 35.78 
L 347.18 38.85 
L 355.91 40.67 
" clip-path="url(#pfaf67ad1b8)" style="fill: none; stroke: #0d0887; stroke-width: 0.62; stroke-linecap: square"/>
<g clip-path="url(#pfaf67ad1b8)">
<use href="#m62e73f8e8c" x="268.89" y="24.99" style="fill: #0d0887"/>
<use href="#m62e73f8e8c" x="277.62" y="26.00" style="fill: #0d0887"/>
<use href="#m62e73f8e8c" x="289.16" y="27.45" style="fill: #0d0887"/>
<use href="#m62e73f8e8c" x="297.90" y="28.55" style="fill: #0d0887"/>
<use href="#m62e73f8e8c" x="306.63" y="29.90" style="fill: #0d0887"/>
<use href="#m62e73f8e8c" x="318.17" y="32.52" style="fill: #0d0887"/>
<use href="#m62e73f8e8c" x="326.90" y="34.28" style="fill: #0d0887"/>
<use href="#m62e73f8e8c" x="335.63" y="35.78" style="fill: #0d0887"/>
<use href="#m62e73f8e8c" x="347.18" y="38.85" style="fill: #0d0887"/>
<use href="#m62e73f8e8c" x="355.91" y="40.67" style="fill: #0d0887"/>
</g>
</g>
<g id="line2d_213">
<path d="M 268.89 25.18 
L 277.62 26.87 
L 289.16 28.74 
L 297.90 30.78 
L 306.63 32.69 
L 318.17 35.18 
L 326.90 36.50 
L 335.63 38.89 
L 347.18 40.99 
L 355.91 42.89 
" clip-path="url(#pfaf67ad1b8)" style="fill: none; stroke: #0d0887; stroke-width: 0.62; stroke-linecap: square"/>
<g clip-path="url(#pfaf67ad1b8)">
<use href="#m62e73f8e8c" x="268.89" y="25.18" style="fill: #0d0887"/>
<use href="#m62e73f8e8c" x="277.62" y="26.87" style="fill: #0d0887"/>
<use href="#m62e73f8e8c" x="289.16" y="28.74" style="fill: #0d0887"/>
<use href="#m62e73f8e8c" x="297.90" y="30.78" style="fill: #0d0887"/>
<use href="#m62e73f8e8c" x="306.63" y="32.69" style="fill: #0d0887"/>
<use href="#m62e73f8e8c" x="318.17" y="35.18" style="fill: #0d0887"/>
<use href="#m62e73f8e8c" x="326.90" y="36.50" style="fill: #0d0887"/>
<use href="#m62e73f8e8c" x="335.63" y="38.89" style="fill: #0d0887"/>
<use href="#m62e73f8e8c" x="347.18" y="40.99" style="fill: #0d0887"/>
<use href="#m62e73f8e8c" x="355.91" y="42.89" style="fill: #0d0887"/>
</g>
</g>
<g id="line2d_214">
<path d="M 268.89 25.68 
L 277.62 27.44 
L 289.16 30.10 
L 297.90 32.22 
L 306.63 33.73 
L 318.17 36.85 
L 326.90 38.37 
L 335.63 40.69 
L 347.18 43.63 
L 355.91 45.53 
" clip-path="url(#pfaf67ad1b8)" style="fill: none; stroke: #0d0887; stroke-width: 0.62; stroke-linecap: square"/>
<g clip-path="url(#pfaf67ad1b8)">
<use href="#m62e73f8e8c" x="268.89" y="25.68" style="fill: #0d0887"/>
<use href="#m62e73f8e8c" x="277.62" y="27.44" style="fill: #0d0887"/>
<use href="#m62e73f8e8c" x="289.16" y="30.10" style="fill: #0d0887"/>
<use href="#m62e73f8e8c" x="297.90" y="32.22" style="fill: #0d0887"/>
<use href="#m62e73f8e8c" x="306.63" y="33.73" style="fill: #0d0887"/>
<use href="#m62e73f8e8c" x="318.17" y="36.85" style="fill: #0d0887"/>
<use href="#m62e73f8e8c" x="326.90" y="38.37" style="fill: #0d0887"/>
<use href="#m62e73f8e8c" x="335.63" y="40.69" style="fill: #0d0887"/>
<use href="#m62e73f8e8c" x="347.18" y="43.63" style="fill: #0d0887"/>
<use href="#m62e73f8e8c" x="355.91" y="45.53" style="fill: #0d0887"/>
</g>
</g>
</g>
<g id="axes_6">
<g id="patch_27">
<path d="M 356.04 91.36 
L 437.90 91.36 
L 437.90 0.21 
L 356.04 0.21 
z
" style="fill: #ffffff"/>
</g>
<g id="matplotlib.axis_11">
<g id="xtick_40">
<g id="line2d_215">
<path d="M 379.92 91.36 
L 379.92 0.21 
" clip-path="url(#pa3b7ebcfa6)" style="fill: none; stroke: #b0b0b0; stroke-width: 0.8; stroke-linecap: square"/>
</g>
<g id="line2d_216">
<g>
<use href="#m1cd49489bd" x="379.92" y="91.36" style="stroke: #000000; stroke-width: 0.8"/>
</g>
</g>
</g>
<g id="xtick_41">
<g id="line2d_217">
<path d="M 408.91 91.36 
L 408.91 0.21 
" clip-path="url(#pa3b7ebcfa6)" style="fill: none; stroke: #b0b0b0; stroke-width: 0.8; stroke-linecap: square"/>
</g>
<g id="line2d_218">
<g>
<use href="#m1cd49489bd" x="408.91" y="91.36" style="stroke: #000000; stroke-width: 0.8"/>
</g>
</g>
</g>
<g id="xtick_42">
<g id="line2d_219">
<path d="M 437.90 91.36 
L 437.90 0.21 
" clip-path="url(#pa3b7ebcfa6)" style="fill: none; stroke: #b0b0b0; stroke-width: 0.8; stroke-linecap: square"/>
</g>
<g id="line2d_220">
<g>
<use href="#m1cd49489bd" x="437.90" y="91.36" style="stroke: #000000; stroke-width: 0.8"/>
</g>
</g>
</g>
<g id="xtick_43">
<g id="line2d_221">
<g>
<use href="#mf07962e97d" x="359.66" y="91.36" style="stroke: #000000; stroke-width: 0.6"/>
</g>
</g>
</g>
<g id="xtick_44">
<g id="line2d_222">
<g>
<use href="#mf07962e97d" x="364.76" y="91.36" style="stroke: #000000; stroke-width: 0.6"/>
</g>
</g>
</g>
<g id="xtick_45">
<g id="line2d_223">
<g>
<use href="#mf07962e97d" x="368.38" y="91.36" style="stroke: #000000; stroke-width: 0.6"/>
</g>
</g>
</g>
<g id="xtick_46">
<g id="line2d_224">
<g>
<use href="#mf07962e97d" x="371.19" y="91.36" style="stroke: #000000; stroke-width: 0.6"/>
</g>
</g>
</g>
<g id="xtick_47">
<g id="line2d_225">
<g>
<use href="#mf07962e97d" x="373.49" y="91.36" style="stroke: #000000; stroke-width: 0.6"/>
</g>
</g>
</g>
<g id="xtick_48">
<g id="line2d_226">
<g>
<use href="#mf07962e97d" x="375.43" y="91.36" style="stroke: #000000; stroke-width: 0.6"/>
</g>
</g>
</g>
<g id="xtick_49">
<g id="line2d_227">
<g>
<use href="#mf07962e97d" x="377.11" y="91.36" style="stroke: #000000; stroke-width: 0.6"/>
</g>
</g>
</g>
<g id="xtick_50">
<g id="line2d_228">
<g>
<use href="#mf07962e97d" x="378.59" y="91.36" style="stroke: #000000; stroke-width: 0.6"/>
</g>
</g>
</g>
<g id="xtick_51">
<g id="line2d_229">
<g>
<use href="#mf07962e97d" x="388.65" y="91.36" style="stroke: #000000; stroke-width: 0.6"/>
</g>
</g>
</g>
<g id="xtick_52">
<g id="line2d_230">
<g>
<use href="#mf07962e97d" x="393.75" y="91.36" style="stroke: #000000; stroke-width: 0.6"/>
</g>
</g>
</g>
<g id="xtick_53">
<g id="line2d_231">
<g>
<use href="#mf07962e97d" x="397.37" y="91.36" style="stroke: #000000; stroke-width: 0.6"/>
</g>
</g>
</g>
<g id="xtick_54">
<g id="line2d_232">
<g>
<use href="#mf07962e97d" x="400.18" y="91.36" style="stroke: #000000; stroke-width: 0.6"/>
</g>
</g>
</g>
<g id="xtick_55">
<g id="line2d_233">
<g>
<use href="#mf07962e97d" x="402.48" y="91.36" style="stroke: #000000; stroke-width: 0.6"/>
</g>
</g>
</g>
<g id="xtick_56">
<g id="line2d_234">
<g>
<use href="#mf07962e97d" x="404.42" y="91.36" style="stroke: #000000; stroke-width: 0.6"/>
</g>
</g>
</g>
<g id="xtick_57">
<g id="line2d_235">
<g>
<use href="#mf07962e97d" x="406.10" y="91.36" style="stroke: #000000; stroke-width: 0.6"/>
</g>
</g>
</g>
<g id="xtick_58">
<g id="line2d_236">
<g>
<use href="#mf07962e97d" x="407.58" y="91.36" style="stroke: #000000; stroke-width: 0.6"/>
</g>
</g>
</g>
<g id="xtick_59">
<g id="line2d_237">
<g>
<use href="#mf07962e97d" x="417.64" y="91.36" style="stroke: #000000; stroke-width: 0.6"/>
</g>
</g>
</g>
<g id="xtick_60">
<g id="line2d_238">
<g>
<use href="#mf07962e97d" x="422.74" y="91.36" style="stroke: #000000; stroke-width: 0.6"/>
</g>
</g>
</g>
<g id="xtick_61">
<g id="line2d_239">
<g>
<use href="#mf07962e97d" x="426.36" y="91.36" style="stroke: #000000; stroke-width: 0.6"/>
</g>
</g>
</g>
<g id="xtick_62">
<g id="line2d_240">
<g>
<use href="#mf07962e97d" x="429.17" y="91.36" style="stroke: #000000; stroke-width: 0.6"/>
</g>
</g>
</g>
<g id="xtick_63">
<g id="line2d_241">
<g>
<use href="#mf07962e97d" x="431.47" y="91.36" style="stroke: #000000; stroke-width: 0.6"/>
</g>
</g>
</g>
<g id="xtick_64">
<g id="line2d_242">
<g>
<use href="#mf07962e97d" x="433.41" y="91.36" style="stroke: #000000; stroke-width: 0.6"/>
</g>
</g>
</g>
<g id="xtick_65">
<g id="line2d_243">
<g>
<use href="#mf07962e97d" x="435.09" y="91.36" style="stroke: #000000; stroke-width: 0.6"/>
</g>
</g>
</g>
<g id="xtick_66">
<g id="line2d_244">
<g>
<use href="#mf07962e97d" x="436.57" y="91.36" style="stroke: #000000; stroke-width: 0.6"/>
</g>
</g>
</g>
</g>
<g id="matplotlib.axis_12">
<g id="ytick_92">
<g id="line2d_245">
<path d="M 356.04 21.09 
L 437.90 21.09 
" clip-path="url(#pa3b7ebcfa6)" style="fill: none; stroke: #b0b0b0; stroke-width: 0.8; stroke-linecap: square"/>
</g>
<g id="line2d_246">
<g>
<use href="#m6b28ea1482" x="356.04" y="21.09" style="stroke: #000000; stroke-width: 0.8"/>
</g>
</g>
</g>
<g id="ytick_93">
<g id="line2d_247">
<path d="M 356.04 47.61 
L 437.90 47.61 
" clip-path="url(#pa3b7ebcfa6)" style="fill: none; stroke: #b0b0b0; stroke-width: 0.8; stroke-linecap: square"/>
</g>
<g id="line2d_248">
<g>
<use href="#m6b28ea1482" x="356.04" y="47.61" style="stroke: #000000; stroke-width: 0.8"/>
</g>
</g>
</g>
<g id="ytick_94">
<g id="line2d_249">
<path d="M 356.04 74.13 
L 437.90 74.13 
" clip-path="url(#pa3b7ebcfa6)" style="fill: none; stroke: #b0b0b0; stroke-width: 0.8; stroke-linecap: square"/>
</g>
<g id="line2d_250">
<g>
<use href="#m6b28ea1482" x="356.04" y="74.13" style="stroke: #000000; stroke-width: 0.8"/>
</g>
</g>
</g>
</g>
<g id="FillBetweenPolyCollection_15">
<defs>
<path id="m61ba633276" d="M 350.93 -209.14 
L 350.93 -207.29 
L 359.66 -207.12 
L 371.19 -207.04 
L 379.92 -206.43 
L 388.65 -206.28 
L 400.18 -205.89 
L 408.91 -205.75 
L 417.64 -205.29 
L 429.17 -204.98 
L 437.90 -204.80 
L 437.90 -205.43 
L 437.90 -205.43 
L 429.17 -206.13 
L 417.64 -206.54 
L 408.91 -206.66 
L 400.18 -207.21 
L 388.65 -207.19 
L 379.92 -208.05 
L 371.19 -208.48 
L 359.66 -208.51 
L 350.93 -209.14 
z
"/>
</defs>
<g clip-path="url(#pa3b7ebcfa6)">
<use href="#m61ba633276" x="0" y="223.2" style="fill: #f0f921; fill-opacity: 0.3"/>
</g>
</g>
<g id="FillBetweenPolyCollection_16">
<defs>
<path id="md2181edea4" d="M 350.93 -207.52 
L 350.93 -206.42 
L 359.66 -206.44 
L 371.19 -205.87 
L 379.92 -205.56 
L 388.65 -205.46 
L 400.18 -204.87 
L 408.91 -204.79 
L 417.64 -204.82 
L 429.17 -204.53 
L 437.90 -204.53 
L 437.90 -205.10 
L 437.90 -205.10 
L 429.17 -205.20 
L 417.64 -205.81 
L 408.91 -205.86 
L 400.18 -205.91 
L 388.65 -206.33 
L 379.92 -206.60 
L 371.19 -207.00 
L 359.66 -207.58 
L 350.93 -207.52 
z
"/>
</defs>
<g clip-path="url(#pa3b7ebcfa6)">
<use href="#md2181edea4" x="0" y="223.2" style="fill: #febd2a; fill-opacity: 0.3"/>
</g>
</g>
<g id="FillBetweenPolyCollection_17">
<defs>
<path id="m2633bb0deb" d="M 350.93 -206.73 
L 350.93 -205.34 
L 359.66 -205.17 
L 371.19 -204.62 
L 379.92 -204.55 
L 388.65 -204.78 
L 400.18 -204.56 
L 408.91 -204.23 
L 417.64 -203.97 
L 429.17 -203.93 
L 437.90 -203.53 
L 437.90 -204.43 
L 437.90 -204.43 
L 429.17 -204.73 
L 417.64 -204.86 
L 408.91 -204.96 
L 400.18 -205.10 
L 388.65 -205.19 
L 379.92 -206.12 
L 371.19 -205.60 
L 359.66 -205.97 
L 350.93 -206.73 
z
"/>
</defs>
<g clip-path="url(#pa3b7ebcfa6)">
<use href="#m2633bb0deb" x="0" y="223.2" style="fill: #f48849; fill-opacity: 0.3"/>
</g>
</g>
<g id="FillBetweenPolyCollection_18">
<defs>
<path id="m2d21114d17" d="M 350.93 -203.68 
L 350.93 -203.02 
L 359.66 -203.05 
L 371.19 -202.90 
L 379.92 -202.82 
L 388.65 -202.59 
L 400.18 -202.99 
L 408.91 -202.67 
L 417.64 -202.64 
L 429.17 -202.57 
L 437.90 -202.03 
L 437.90 -203.11 
L 437.90 -203.11 
L 429.17 -203.27 
L 417.64 -203.48 
L 408.91 -203.48 
L 400.18 -203.56 
L 388.65 -203.53 
L 379.92 -203.60 
L 371.19 -203.54 
L 359.66 -203.62 
L 350.93 -203.68 
z
"/>
</defs>
<g clip-path="url(#pa3b7ebcfa6)">
<use href="#m2d21114d17" x="0" y="223.2" style="fill: #db5c68; fill-opacity: 0.3"/>
</g>
</g>
<g id="FillBetweenPolyCollection_19">
<defs>
<path id="m63394a685a" d="M 350.93 -200.73 
L 350.93 -194.56 
L 359.66 -194.67 
L 371.19 -195.19 
L 379.92 -195.19 
L 388.65 -196.02 
L 400.18 -196.02 
L 408.91 -196.09 
L 417.64 -197.07 
L 429.17 -197.33 
L 437.90 -197.56 
L 437.90 -201.42 
L 437.90 -201.42 
L 429.17 -201.31 
L 417.64 -201.26 
L 408.91 -201.19 
L 400.18 -201.07 
L 388.65 -201.07 
L 379.92 -201.15 
L 371.19 -201.15 
L 359.66 -200.70 
L 350.93 -200.73 
z
"/>
</defs>
<g clip-path="url(#pa3b7ebcfa6)">
<use href="#m63394a685a" x="0" y="223.2" style="fill: #b83289; fill-opacity: 0.3"/>
</g>
</g>
<g id="FillBetweenPolyCollection_20">
<defs>
<path id="m4e2c7def93" d="M 350.93 -192.66 
L 350.93 -188.68 
L 359.66 -189.17 
L 371.19 -190.53 
L 379.92 -190.55 
L 388.65 -191.03 
L 400.18 -191.47 
L 408.91 -191.87 
L 417.64 -192.09 
L 429.17 -193.09 
L 437.90 -193.53 
L 437.90 -195.95 
L 437.90 -195.95 
L 429.17 -195.79 
L 417.64 -195.24 
L 408.91 -194.92 
L 400.18 -194.68 
L 388.65 -193.72 
L 379.92 -193.23 
L 371.19 -193.26 
L 359.66 -192.92 
L 350.93 -192.66 
z
"/>
</defs>
<g clip-path="url(#pa3b7ebcfa6)">
<use href="#m4e2c7def93" x="0" y="223.2" style="fill: #8f0da4; fill-opacity: 0.3"/>
</g>
</g>
<g id="FillBetweenPolyCollection_21">
<defs>
<path id="m5348c1ad89" d="M 350.93 -189.14 
L 350.93 -185.23 
L 359.66 -185.38 
L 371.19 -186.32 
L 379.92 -187.65 
L 388.65 -187.62 
L 400.18 -187.91 
L 408.91 -188.71 
L 417.64 -189.62 
L 429.17 -190.14 
L 437.90 -190.65 
L 437.90 -193.52 
L 437.90 -193.52 
L 429.17 -192.82 
L 417.64 -192.66 
L 408.91 -192.04 
L 400.18 -191.68 
L 388.65 -191.06 
L 379.92 -190.82 
L 371.19 -190.00 
L 359.66 -189.70 
L 350.93 -189.14 
z
"/>
</defs>
<g clip-path="url(#pa3b7ebcfa6)">
<use href="#m5348c1ad89" x="0" y="223.2" style="fill: #7a02a8; fill-opacity: 0.22"/>
</g>
</g>
<g id="FillBetweenPolyCollection_22">
<defs>
<path id="m0db8d67db9" d="M 350.93 -185.52 
L 350.93 -180.11 
L 359.66 -180.82 
L 371.19 -181.93 
L 379.92 -182.32 
L 388.65 -183.31 
L 400.18 -183.68 
L 408.91 -184.86 
L 417.64 -185.72 
L 429.17 -186.59 
L 437.90 -187.26 
L 437.90 -190.50 
L 437.90 -190.50 
L 429.17 -190.22 
L 417.64 -189.61 
L 408.91 -188.79 
L 400.18 -188.27 
L 388.65 -187.79 
L 379.92 -187.39 
L 371.19 -186.86 
L 359.66 -185.98 
L 350.93 -185.52 
z
"/>
</defs>
<g clip-path="url(#pa3b7ebcfa6)">
<use href="#m0db8d67db9" x="0" y="223.2" style="fill: #6a00a8; fill-opacity: 0.22"/>
</g>
</g>
<g id="FillBetweenPolyCollection_23">
<defs>
<path id="meac403ff72" d="M 350.93 -185.52 
L 350.93 -185.23 
L 359.66 -185.38 
L 371.19 -186.32 
L 379.92 -187.39 
L 388.65 -187.62 
L 400.18 -187.91 
L 408.91 -188.71 
L 417.64 -189.61 
L 429.17 -190.14 
L 437.90 -190.50 
L 437.90 -190.65 
L 437.90 -190.65 
L 429.17 -190.22 
L 417.64 -189.62 
L 408.91 -188.79 
L 400.18 -188.27 
L 388.65 -187.79 
L 379.92 -187.65 
L 371.19 -186.86 
L 359.66 -185.98 
L 350.93 -185.52 
z
"/>
</defs>
<g clip-path="url(#pa3b7ebcfa6)">
<use href="#meac403ff72" x="0" y="223.2" style="fill: #7a02a8; fill-opacity: 0.18"/>
</g>
</g>
<g id="FillBetweenPolyCollection_24">
<defs>
<path id="m271afa83fe" d="M 350.93 -189.14 
L 350.93 -188.68 
L 359.66 -189.17 
L 371.19 -190.00 
L 379.92 -190.55 
L 388.65 -191.03 
L 400.18 -191.47 
L 408.91 -191.87 
L 417.64 -192.09 
L 429.17 -192.82 
L 437.90 -193.52 
L 437.90 -193.53 
L 437.90 -193.53 
L 429.17 -193.09 
L 417.64 -192.66 
L 408.91 -192.04 
L 400.18 -191.68 
L 388.65 -191.06 
L 379.92 -190.82 
L 371.19 -190.53 
L 359.66 -189.70 
L 350.93 -189.14 
z
"/>
</defs>
<g clip-path="url(#pa3b7ebcfa6)">
<use href="#m271afa83fe" x="0" y="223.2" style="fill: #8f0da4; fill-opacity: 0.18"/>
</g>
</g>
<g id="FillBetweenPolyCollection_25">
<defs>
<path id="m14a521274d" d="M 350.93 -194.56 
L 350.93 -192.66 
L 359.66 -192.92 
L 371.19 -193.26 
L 379.92 -193.23 
L 388.65 -193.72 
L 400.18 -194.68 
L 408.91 -194.92 
L 417.64 -195.24 
L 429.17 -195.79 
L 437.90 -195.95 
L 437.90 -197.56 
L 437.90 -197.56 
L 429.17 -197.33 
L 417.64 -197.07 
L 408.91 -196.09 
L 400.18 -196.02 
L 388.65 -196.02 
L 379.92 -195.19 
L 371.19 -195.19 
L 359.66 -194.67 
L 350.93 -194.56 
z
"/>
</defs>
<g clip-path="url(#pa3b7ebcfa6)">
<use href="#m14a521274d" x="0" y="223.2" style="fill: #b83289; fill-opacity: 0.18"/>
</g>
</g>
<g id="FillBetweenPolyCollection_26">
<defs>
<path id="mf3ada78530" d="M 350.93 -205.34 
L 350.93 -203.68 
L 359.66 -203.62 
L 371.19 -203.54 
L 379.92 -203.60 
L 388.65 -203.53 
L 400.18 -203.56 
L 408.91 -203.48 
L 417.64 -203.48 
L 429.17 -203.27 
L 437.90 -203.11 
L 437.90 -203.53 
L 437.90 -203.53 
L 429.17 -203.93 
L 417.64 -203.97 
L 408.91 -204.23 
L 400.18 -204.56 
L 388.65 -204.78 
L 379.92 -204.55 
L 371.19 -204.62 
L 359.66 -205.17 
L 350.93 -205.34 
z
"/>
</defs>
<g clip-path="url(#pa3b7ebcfa6)">
<use href="#mf3ada78530" x="0" y="223.2" style="fill: #f48849; fill-opacity: 0.18"/>
</g>
</g>
<g id="FillBetweenPolyCollection_27">
<defs>
<path id="me872d9d4ab" d="M 350.93 -206.73 
L 350.93 -206.42 
L 359.66 -205.97 
L 371.19 -205.60 
L 379.92 -205.56 
L 388.65 -205.19 
L 400.18 -204.87 
L 408.91 -204.79 
L 417.64 -204.82 
L 429.17 -204.53 
L 437.90 -204.43 
L 437.90 -204.53 
L 437.90 -204.53 
L 429.17 -204.73 
L 417.64 -204.86 
L 408.91 -204.96 
L 400.18 -205.10 
L 388.65 -205.46 
L 379.92 -206.12 
L 371.19 -205.87 
L 359.66 -206.44 
L 350.93 -206.73 
z
"/>
</defs>
<g clip-path="url(#pa3b7ebcfa6)">
<use href="#me872d9d4ab" x="0" y="223.2" style="fill: #febd2a; fill-opacity: 0.18"/>
</g>
</g>
<g id="FillBetweenPolyCollection_28">
<defs>
<path id="m8622b95fe1" d="M 350.93 -207.52 
L 350.93 -207.29 
L 359.66 -207.12 
L 371.19 -207.00 
L 379.92 -206.43 
L 388.65 -206.28 
L 400.18 -205.89 
L 408.91 -205.75 
L 417.64 -205.29 
L 429.17 -204.98 
L 437.90 -204.80 
L 437.90 -205.10 
L 437.90 -205.10 
L 429.17 -205.20 
L 417.64 -205.81 
L 408.91 -205.86 
L 400.18 -205.91 
L 388.65 -206.33 
L 379.92 -206.60 
L 371.19 -207.04 
L 359.66 -207.58 
L 350.93 -207.52 
z
"/>
</defs>
<g clip-path="url(#pa3b7ebcfa6)">
<use href="#m8622b95fe1" x="0" y="223.2" style="fill: #f0f921; fill-opacity: 0.18"/>
</g>
</g>
<g id="patch_28">
<path d="M 356.04 91.36 
L 356.04 0.21 
" style="fill: none; stroke: #000000; stroke-width: 0.8; stroke-linejoin: miter; stroke-linecap: square"/>
</g>
<g id="patch_29">
<path d="M 437.90 91.36 
L 437.90 0.21 
" style="fill: none; stroke: #000000; stroke-width: 0.8; stroke-linejoin: miter; stroke-linecap: square"/>
</g>
<g id="patch_30">
<path d="M 356.04 91.36 
L 437.90 91.36 
" style="fill: none; stroke: #000000; stroke-width: 0.8; stroke-linejoin: miter; stroke-linecap: square"/>
</g>
<g id="patch_31">
<path d="M 356.04 0.21 
L 437.90 0.21 
" style="fill: none; stroke: #000000; stroke-width: 0.8; stroke-linejoin: miter; stroke-linecap: square"/>
</g>
<g id="line2d_251">
<path d="M 350.93 14.05 
L 359.66 14.68 
L 371.19 14.71 
L 379.92 15.14 
L 388.65 16.00 
L 400.18 15.98 
L 408.91 16.57 
L 417.64 16.65 
L 429.17 17.06 
L 437.90 17.78 
" clip-path="url(#pa3b7ebcfa6)" style="fill: none; stroke: #f0f921; stroke-width: 1.1; stroke-linecap: square"/>
<defs>
<path id="m9a4430bc4e" d="M 0 -1.41 
L -1.41 1.41 
L 1.41 1.41 
z
"/>
</defs>
<g clip-path="url(#pa3b7ebcfa6)">
<use href="#m9a4430bc4e" x="350.93" y="14.05" style="fill: #f0f921"/>
<use href="#m9a4430bc4e" x="359.66" y="14.68" style="fill: #f0f921"/>
<use href="#m9a4430bc4e" x="371.19" y="14.71" style="fill: #f0f921"/>
<use href="#m9a4430bc4e" x="379.92" y="15.14" style="fill: #f0f921"/>
<use href="#m9a4430bc4e" x="388.65" y="16.00" style="fill: #f0f921"/>
<use href="#m9a4430bc4e" x="400.18" y="15.98" style="fill: #f0f921"/>
<use href="#m9a4430bc4e" x="408.91" y="16.57" style="fill: #f0f921"/>
<use href="#m9a4430bc4e" x="417.64" y="16.65" style="fill: #f0f921"/>
<use href="#m9a4430bc4e" x="429.17" y="17.06" style="fill: #f0f921"/>
<use href="#m9a4430bc4e" x="437.90" y="17.78" style="fill: #f0f921"/>
</g>
</g>
<g id="line2d_252">
<path d="M 350.93 14.85 
L 359.66 15.49 
L 371.19 15.42 
L 379.92 16.05 
L 388.65 16.18 
L 400.18 16.68 
L 408.91 16.53 
L 417.64 17.02 
L 429.17 17.08 
L 437.90 17.76 
" clip-path="url(#pa3b7ebcfa6)" style="fill: none; stroke: #f0f921; stroke-width: 1.1; stroke-linecap: square"/>
<g clip-path="url(#pa3b7ebcfa6)">
<use href="#m9a4430bc4e" x="350.93" y="14.85" style="fill: #f0f921"/>
<use href="#m9a4430bc4e" x="359.66" y="15.49" style="fill: #f0f921"/>
<use href="#m9a4430bc4e" x="371.19" y="15.42" style="fill: #f0f921"/>
<use href="#m9a4430bc4e" x="379.92" y="16.05" style="fill: #f0f921"/>
<use href="#m9a4430bc4e" x="388.65" y="16.18" style="fill: #f0f921"/>
<use href="#m9a4430bc4e" x="400.18" y="16.68" style="fill: #f0f921"/>
<use href="#m9a4430bc4e" x="408.91" y="16.53" style="fill: #f0f921"/>
<use href="#m9a4430bc4e" x="417.64" y="17.02" style="fill: #f0f921"/>
<use href="#m9a4430bc4e" x="429.17" y="17.08" style="fill: #f0f921"/>
<use href="#m9a4430bc4e" x="437.90" y="17.76" style="fill: #f0f921"/>
</g>
</g>
<g id="line2d_253">
<path d="M 350.93 15.90 
L 359.66 16.07 
L 371.19 16.15 
L 379.92 16.76 
L 388.65 16.91 
L 400.18 17.30 
L 408.91 17.44 
L 417.64 17.90 
L 429.17 18.21 
L 437.90 18.39 
" clip-path="url(#pa3b7ebcfa6)" style="fill: none; stroke: #f0f921; stroke-width: 1.1; stroke-linecap: square"/>
<g clip-path="url(#pa3b7ebcfa6)">
<use href="#m9a4430bc4e" x="350.93" y="15.90" style="fill: #f0f921"/>
<use href="#m9a4430bc4e" x="359.66" y="16.07" style="fill: #f0f921"/>
<use href="#m9a4430bc4e" x="371.19" y="16.15" style="fill: #f0f921"/>
<use href="#m9a4430bc4e" x="379.92" y="16.76" style="fill: #f0f921"/>
<use href="#m9a4430bc4e" x="388.65" y="16.91" style="fill: #f0f921"/>
<use href="#m9a4430bc4e" x="400.18" y="17.30" style="fill: #f0f921"/>
<use href="#m9a4430bc4e" x="408.91" y="17.44" style="fill: #f0f921"/>
<use href="#m9a4430bc4e" x="417.64" y="17.90" style="fill: #f0f921"/>
<use href="#m9a4430bc4e" x="429.17" y="18.21" style="fill: #f0f921"/>
<use href="#m9a4430bc4e" x="437.90" y="18.39" style="fill: #f0f921"/>
</g>
</g>
<g id="line2d_254">
<path d="M 350.93 15.67 
L 359.66 15.61 
L 371.19 16.19 
L 379.92 16.59 
L 388.65 16.86 
L 400.18 17.28 
L 408.91 17.33 
L 417.64 17.38 
L 429.17 17.99 
L 437.90 18.09 
" clip-path="url(#pa3b7ebcfa6)" style="fill: none; stroke: #febd2a; stroke-width: 1.1; stroke-linecap: square"/>
<defs>
<path id="m93c398f66a" d="M 0 -1.41 
L -1.41 1.41 
L 1.41 1.41 
z
"/>
</defs>
<g clip-path="url(#pa3b7ebcfa6)">
<use href="#m93c398f66a" x="350.93" y="15.67" style="fill: #febd2a"/>
<use href="#m93c398f66a" x="359.66" y="15.61" style="fill: #febd2a"/>
<use href="#m93c398f66a" x="371.19" y="16.19" style="fill: #febd2a"/>
<use href="#m93c398f66a" x="379.92" y="16.59" style="fill: #febd2a"/>
<use href="#m93c398f66a" x="388.65" y="16.86" style="fill: #febd2a"/>
<use href="#m93c398f66a" x="400.18" y="17.28" style="fill: #febd2a"/>
<use href="#m93c398f66a" x="408.91" y="17.33" style="fill: #febd2a"/>
<use href="#m93c398f66a" x="417.64" y="17.38" style="fill: #febd2a"/>
<use href="#m93c398f66a" x="429.17" y="17.99" style="fill: #febd2a"/>
<use href="#m93c398f66a" x="437.90" y="18.09" style="fill: #febd2a"/>
</g>
</g>
<g id="line2d_255">
<path d="M 350.93 16.13 
L 359.66 16.51 
L 371.19 17.02 
L 379.92 17.26 
L 388.65 17.31 
L 400.18 17.54 
L 408.91 17.97 
L 417.64 18.09 
L 429.17 18.27 
L 437.90 18.59 
" clip-path="url(#pa3b7ebcfa6)" style="fill: none; stroke: #febd2a; stroke-width: 1.1; stroke-linecap: square"/>
<g clip-path="url(#pa3b7ebcfa6)">
<use href="#m93c398f66a" x="350.93" y="16.13" style="fill: #febd2a"/>
<use href="#m93c398f66a" x="359.66" y="16.51" style="fill: #febd2a"/>
<use href="#m93c398f66a" x="371.19" y="17.02" style="fill: #febd2a"/>
<use href="#m93c398f66a" x="379.92" y="17.26" style="fill: #febd2a"/>
<use href="#m93c398f66a" x="388.65" y="17.31" style="fill: #febd2a"/>
<use href="#m93c398f66a" x="400.18" y="17.54" style="fill: #febd2a"/>
<use href="#m93c398f66a" x="408.91" y="17.97" style="fill: #febd2a"/>
<use href="#m93c398f66a" x="417.64" y="18.09" style="fill: #febd2a"/>
<use href="#m93c398f66a" x="429.17" y="18.27" style="fill: #febd2a"/>
<use href="#m93c398f66a" x="437.90" y="18.59" style="fill: #febd2a"/>
</g>
</g>
<g id="line2d_256">
<path d="M 350.93 16.77 
L 359.66 16.75 
L 371.19 17.32 
L 379.92 17.63 
L 388.65 17.73 
L 400.18 18.32 
L 408.91 18.40 
L 417.64 18.37 
L 429.17 18.66 
L 437.90 18.66 
" clip-path="url(#pa3b7ebcfa6)" style="fill: none; stroke: #febd2a; stroke-width: 1.1; stroke-linecap: square"/>
<g clip-path="url(#pa3b7ebcfa6)">
<use href="#m93c398f66a" x="350.93" y="16.77" style="fill: #febd2a"/>
<use href="#m93c398f66a" x="359.66" y="16.75" style="fill: #febd2a"/>
<use href="#m93c398f66a" x="371.19" y="17.32" style="fill: #febd2a"/>
<use href="#m93c398f66a" x="379.92" y="17.63" style="fill: #febd2a"/>
<use href="#m93c398f66a" x="388.65" y="17.73" style="fill: #febd2a"/>
<use href="#m93c398f66a" x="400.18" y="18.32" style="fill: #febd2a"/>
<use href="#m93c398f66a" x="408.91" y="18.40" style="fill: #febd2a"/>
<use href="#m93c398f66a" x="417.64" y="18.37" style="fill: #febd2a"/>
<use href="#m93c398f66a" x="429.17" y="18.66" style="fill: #febd2a"/>
<use href="#m93c398f66a" x="437.90" y="18.66" style="fill: #febd2a"/>
</g>
</g>
<g id="line2d_257">
<path d="M 350.93 16.46 
L 359.66 17.22 
L 371.19 17.59 
L 379.92 17.07 
L 388.65 18.00 
L 400.18 18.17 
L 408.91 18.23 
L 417.64 18.33 
L 429.17 18.46 
L 437.90 18.76 
" clip-path="url(#pa3b7ebcfa6)" style="fill: none; stroke: #f48849; stroke-width: 1.1; stroke-linecap: square"/>
<defs>
<path id="m35a33adb44" d="M 0 -1.41 
L -1.41 1.41 
L 1.41 1.41 
z
"/>
</defs>
<g clip-path="url(#pa3b7ebcfa6)">
<use href="#m35a33adb44" x="350.93" y="16.46" style="fill: #f48849"/>
<use href="#m35a33adb44" x="359.66" y="17.22" style="fill: #f48849"/>
<use href="#m35a33adb44" x="371.19" y="17.59" style="fill: #f48849"/>
<use href="#m35a33adb44" x="379.92" y="17.07" style="fill: #f48849"/>
<use href="#m35a33adb44" x="388.65" y="18.00" style="fill: #f48849"/>
<use href="#m35a33adb44" x="400.18" y="18.17" style="fill: #f48849"/>
<use href="#m35a33adb44" x="408.91" y="18.23" style="fill: #f48849"/>
<use href="#m35a33adb44" x="417.64" y="18.33" style="fill: #f48849"/>
<use href="#m35a33adb44" x="429.17" y="18.46" style="fill: #f48849"/>
<use href="#m35a33adb44" x="437.90" y="18.76" style="fill: #f48849"/>
</g>
</g>
<g id="line2d_258">
<path d="M 350.93 17.47 
L 359.66 17.27 
L 371.19 17.83 
L 379.92 18.25 
L 388.65 18.36 
L 400.18 18.09 
L 408.91 18.66 
L 417.64 19.16 
L 429.17 19.11 
L 437.90 19.18 
" clip-path="url(#pa3b7ebcfa6)" style="fill: none; stroke: #f48849; stroke-width: 1.1; stroke-linecap: square"/>
<g clip-path="url(#pa3b7ebcfa6)">
<use href="#m35a33adb44" x="350.93" y="17.47" style="fill: #f48849"/>
<use href="#m35a33adb44" x="359.66" y="17.27" style="fill: #f48849"/>
<use href="#m35a33adb44" x="371.19" y="17.83" style="fill: #f48849"/>
<use href="#m35a33adb44" x="379.92" y="18.25" style="fill: #f48849"/>
<use href="#m35a33adb44" x="388.65" y="18.36" style="fill: #f48849"/>
<use href="#m35a33adb44" x="400.18" y="18.09" style="fill: #f48849"/>
<use href="#m35a33adb44" x="408.91" y="18.66" style="fill: #f48849"/>
<use href="#m35a33adb44" x="417.64" y="19.16" style="fill: #f48849"/>
<use href="#m35a33adb44" x="429.17" y="19.11" style="fill: #f48849"/>
<use href="#m35a33adb44" x="437.90" y="19.18" style="fill: #f48849"/>
</g>
</g>
<g id="line2d_259">
<path d="M 350.93 17.85 
L 359.66 18.02 
L 371.19 18.57 
L 379.92 18.64 
L 388.65 18.41 
L 400.18 18.63 
L 408.91 18.96 
L 417.64 19.22 
L 429.17 19.26 
L 437.90 19.66 
" clip-path="url(#pa3b7ebcfa6)" style="fill: none; stroke: #f48849; stroke-width: 1.1; stroke-linecap: square"/>
<g clip-path="url(#pa3b7ebcfa6)">
<use href="#m35a33adb44" x="350.93" y="17.85" style="fill: #f48849"/>
<use href="#m35a33adb44" x="359.66" y="18.02" style="fill: #f48849"/>
<use href="#m35a33adb44" x="371.19" y="18.57" style="fill: #f48849"/>
<use href="#m35a33adb44" x="379.92" y="18.64" style="fill: #f48849"/>
<use href="#m35a33adb44" x="388.65" y="18.41" style="fill: #f48849"/>
<use href="#m35a33adb44" x="400.18" y="18.63" style="fill: #f48849"/>
<use href="#m35a33adb44" x="408.91" y="18.96" style="fill: #f48849"/>
<use href="#m35a33adb44" x="417.64" y="19.22" style="fill: #f48849"/>
<use href="#m35a33adb44" x="429.17" y="19.26" style="fill: #f48849"/>
<use href="#m35a33adb44" x="437.90" y="19.66" style="fill: #f48849"/>
</g>
</g>
<g id="line2d_260">
<path d="M 350.93 19.51 
L 359.66 19.57 
L 371.19 19.65 
L 379.92 19.59 
L 388.65 19.66 
L 400.18 19.63 
L 408.91 19.71 
L 417.64 19.71 
L 429.17 19.92 
L 437.90 20.23 
" clip-path="url(#pa3b7ebcfa6)" style="fill: none; stroke: #db5c68; stroke-width: 1.1; stroke-linecap: square"/>
<defs>
<path id="ma0578512ba" d="M 0 -1.41 
L -1.41 1.41 
L 1.41 1.41 
z
"/>
</defs>
<g clip-path="url(#pa3b7ebcfa6)">
<use href="#ma0578512ba" x="350.93" y="19.51" style="fill: #db5c68"/>
<use href="#ma0578512ba" x="359.66" y="19.57" style="fill: #db5c68"/>
<use href="#ma0578512ba" x="371.19" y="19.65" style="fill: #db5c68"/>
<use href="#ma0578512ba" x="379.92" y="19.59" style="fill: #db5c68"/>
<use href="#ma0578512ba" x="388.65" y="19.66" style="fill: #db5c68"/>
<use href="#ma0578512ba" x="400.18" y="19.63" style="fill: #db5c68"/>
<use href="#ma0578512ba" x="408.91" y="19.71" style="fill: #db5c68"/>
<use href="#ma0578512ba" x="417.64" y="19.71" style="fill: #db5c68"/>
<use href="#ma0578512ba" x="429.17" y="19.92" style="fill: #db5c68"/>
<use href="#ma0578512ba" x="437.90" y="20.23" style="fill: #db5c68"/>
</g>
</g>
<g id="line2d_261">
<path d="M 350.93 19.84 
L 359.66 19.72 
L 371.19 19.68 
L 379.92 20.14 
L 388.65 20.39 
L 400.18 19.89 
L 408.91 20.19 
L 417.64 20.13 
L 429.17 20.62 
L 437.90 20.08 
" clip-path="url(#pa3b7ebcfa6)" style="fill: none; stroke: #db5c68; stroke-width: 1.1; stroke-linecap: square"/>
<g clip-path="url(#pa3b7ebcfa6)">
<use href="#ma0578512ba" x="350.93" y="19.84" style="fill: #db5c68"/>
<use href="#ma0578512ba" x="359.66" y="19.72" style="fill: #db5c68"/>
<use href="#ma0578512ba" x="371.19" y="19.68" style="fill: #db5c68"/>
<use href="#ma0578512ba" x="379.92" y="20.14" style="fill: #db5c68"/>
<use href="#ma0578512ba" x="388.65" y="20.39" style="fill: #db5c68"/>
<use href="#ma0578512ba" x="400.18" y="19.89" style="fill: #db5c68"/>
<use href="#ma0578512ba" x="408.91" y="20.19" style="fill: #db5c68"/>
<use href="#ma0578512ba" x="417.64" y="20.13" style="fill: #db5c68"/>
<use href="#ma0578512ba" x="429.17" y="20.62" style="fill: #db5c68"/>
<use href="#ma0578512ba" x="437.90" y="20.08" style="fill: #db5c68"/>
</g>
</g>
<g id="line2d_262">
<path d="M 350.93 20.17 
L 359.66 20.14 
L 371.19 20.29 
L 379.92 20.37 
L 388.65 20.60 
L 400.18 20.20 
L 408.91 20.52 
L 417.64 20.55 
L 429.17 20.62 
L 437.90 21.16 
" clip-path="url(#pa3b7ebcfa6)" style="fill: none; stroke: #db5c68; stroke-width: 1.1; stroke-linecap: square"/>
<g clip-path="url(#pa3b7ebcfa6)">
<use href="#ma0578512ba" x="350.93" y="20.17" style="fill: #db5c68"/>
<use href="#ma0578512ba" x="359.66" y="20.14" style="fill: #db5c68"/>
<use href="#ma0578512ba" x="371.19" y="20.29" style="fill: #db5c68"/>
<use href="#ma0578512ba" x="379.92" y="20.37" style="fill: #db5c68"/>
<use href="#ma0578512ba" x="388.65" y="20.60" style="fill: #db5c68"/>
<use href="#ma0578512ba" x="400.18" y="20.20" style="fill: #db5c68"/>
<use href="#ma0578512ba" x="408.91" y="20.52" style="fill: #db5c68"/>
<use href="#ma0578512ba" x="417.64" y="20.55" style="fill: #db5c68"/>
<use href="#ma0578512ba" x="429.17" y="20.62" style="fill: #db5c68"/>
<use href="#ma0578512ba" x="437.90" y="21.16" style="fill: #db5c68"/>
</g>
</g>
<g id="line2d_263">
<path d="M 350.93 22.46 
L 359.66 22.49 
L 371.19 22.04 
L 379.92 22.04 
L 388.65 22.12 
L 400.18 22.12 
L 408.91 22.00 
L 417.64 21.93 
L 429.17 21.88 
L 437.90 21.77 
" clip-path="url(#pa3b7ebcfa6)" style="fill: none; stroke: #b83289; stroke-width: 0.62; stroke-linecap: square"/>
<defs>
<path id="mbf10bc3045" d="M 0 -1.62 
L -1.62 1.62 
L 1.62 1.62 
z
"/>
</defs>
<g clip-path="url(#pa3b7ebcfa6)">
<use href="#mbf10bc3045" x="350.93" y="22.46" style="fill: #b83289"/>
<use href="#mbf10bc3045" x="359.66" y="22.49" style="fill: #b83289"/>
<use href="#mbf10bc3045" x="371.19" y="22.04" style="fill: #b83289"/>
<use href="#mbf10bc3045" x="379.92" y="22.04" style="fill: #b83289"/>
<use href="#mbf10bc3045" x="388.65" y="22.12" style="fill: #b83289"/>
<use href="#mbf10bc3045" x="400.18" y="22.12" style="fill: #b83289"/>
<use href="#mbf10bc3045" x="408.91" y="22.00" style="fill: #b83289"/>
<use href="#mbf10bc3045" x="417.64" y="21.93" style="fill: #b83289"/>
<use href="#mbf10bc3045" x="429.17" y="21.88" style="fill: #b83289"/>
<use href="#mbf10bc3045" x="437.90" y="21.77" style="fill: #b83289"/>
</g>
</g>
<g id="line2d_264">
<path d="M 350.93 23.71 
L 359.66 23.64 
L 371.19 23.71 
L 379.92 23.58 
L 388.65 23.25 
L 400.18 23.21 
L 408.91 23.06 
L 417.64 23.41 
L 429.17 23.28 
L 437.90 22.54 
" clip-path="url(#pa3b7ebcfa6)" style="fill: none; stroke: #b83289; stroke-width: 0.62; stroke-linecap: square"/>
<g clip-path="url(#pa3b7ebcfa6)">
<use href="#mbf10bc3045" x="350.93" y="23.71" style="fill: #b83289"/>
<use href="#mbf10bc3045" x="359.66" y="23.64" style="fill: #b83289"/>
<use href="#mbf10bc3045" x="371.19" y="23.71" style="fill: #b83289"/>
<use href="#mbf10bc3045" x="379.92" y="23.58" style="fill: #b83289"/>
<use href="#mbf10bc3045" x="388.65" y="23.25" style="fill: #b83289"/>
<use href="#mbf10bc3045" x="400.18" y="23.21" style="fill: #b83289"/>
<use href="#mbf10bc3045" x="408.91" y="23.06" style="fill: #b83289"/>
<use href="#mbf10bc3045" x="417.64" y="23.41" style="fill: #b83289"/>
<use href="#mbf10bc3045" x="429.17" y="23.28" style="fill: #b83289"/>
<use href="#mbf10bc3045" x="437.90" y="22.54" style="fill: #b83289"/>
</g>
</g>
<g id="line2d_265">
<path d="M 350.93 25.31 
L 359.66 25.23 
L 371.19 25.02 
L 379.92 25.14 
L 388.65 24.53 
L 400.18 24.62 
L 408.91 24.24 
L 417.64 24.15 
L 429.17 23.94 
L 437.90 23.67 
" clip-path="url(#pa3b7ebcfa6)" style="fill: none; stroke: #b83289; stroke-width: 0.62; stroke-linecap: square"/>
<g clip-path="url(#pa3b7ebcfa6)">
<use href="#mbf10bc3045" x="350.93" y="25.31" style="fill: #b83289"/>
<use href="#mbf10bc3045" x="359.66" y="25.23" style="fill: #b83289"/>
<use href="#mbf10bc3045" x="371.19" y="25.02" style="fill: #b83289"/>
<use href="#mbf10bc3045" x="379.92" y="25.14" style="fill: #b83289"/>
<use href="#mbf10bc3045" x="388.65" y="24.53" style="fill: #b83289"/>
<use href="#mbf10bc3045" x="400.18" y="24.62" style="fill: #b83289"/>
<use href="#mbf10bc3045" x="408.91" y="24.24" style="fill: #b83289"/>
<use href="#mbf10bc3045" x="417.64" y="24.15" style="fill: #b83289"/>
<use href="#mbf10bc3045" x="429.17" y="23.94" style="fill: #b83289"/>
<use href="#mbf10bc3045" x="437.90" y="23.67" style="fill: #b83289"/>
</g>
</g>
<g id="line2d_266">
<path d="M 350.93 27.21 
L 359.66 26.90 
L 371.19 26.21 
L 379.92 26.38 
L 388.65 25.83 
L 400.18 25.56 
L 408.91 25.32 
L 417.64 25.05 
L 429.17 25.05 
L 437.90 24.51 
" clip-path="url(#pa3b7ebcfa6)" style="fill: none; stroke: #b83289; stroke-width: 0.62; stroke-linecap: square"/>
<g clip-path="url(#pa3b7ebcfa6)">
<use href="#mbf10bc3045" x="350.93" y="27.21" style="fill: #b83289"/>
<use href="#mbf10bc3045" x="359.66" y="26.90" style="fill: #b83289"/>
<use href="#mbf10bc3045" x="371.19" y="26.21" style="fill: #b83289"/>
<use href="#mbf10bc3045" x="379.92" y="26.38" style="fill: #b83289"/>
<use href="#mbf10bc3045" x="388.65" y="25.83" style="fill: #b83289"/>
<use href="#mbf10bc3045" x="400.18" y="25.56" style="fill: #b83289"/>
<use href="#mbf10bc3045" x="408.91" y="25.32" style="fill: #b83289"/>
<use href="#mbf10bc3045" x="417.64" y="25.05" style="fill: #b83289"/>
<use href="#mbf10bc3045" x="429.17" y="25.05" style="fill: #b83289"/>
<use href="#mbf10bc3045" x="437.90" y="24.51" style="fill: #b83289"/>
</g>
</g>
<g id="line2d_267">
<path d="M 350.93 28.63 
L 359.66 28.52 
L 371.19 28.00 
L 379.92 28.00 
L 388.65 27.17 
L 400.18 27.17 
L 408.91 27.10 
L 417.64 26.12 
L 429.17 25.86 
L 437.90 25.63 
" clip-path="url(#pa3b7ebcfa6)" style="fill: none; stroke: #b83289; stroke-width: 0.62; stroke-linecap: square"/>
<g clip-path="url(#pa3b7ebcfa6)">
<use href="#mbf10bc3045" x="350.93" y="28.63" style="fill: #b83289"/>
<use href="#mbf10bc3045" x="359.66" y="28.52" style="fill: #b83289"/>
<use href="#mbf10bc3045" x="371.19" y="28.00" style="fill: #b83289"/>
<use href="#mbf10bc3045" x="379.92" y="28.00" style="fill: #b83289"/>
<use href="#mbf10bc3045" x="388.65" y="27.17" style="fill: #b83289"/>
<use href="#mbf10bc3045" x="400.18" y="27.17" style="fill: #b83289"/>
<use href="#mbf10bc3045" x="408.91" y="27.10" style="fill: #b83289"/>
<use href="#mbf10bc3045" x="417.64" y="26.12" style="fill: #b83289"/>
<use href="#mbf10bc3045" x="429.17" y="25.86" style="fill: #b83289"/>
<use href="#mbf10bc3045" x="437.90" y="25.63" style="fill: #b83289"/>
</g>
</g>
<g id="line2d_268">
<path d="M 350.93 30.53 
L 359.66 30.27 
L 371.19 29.93 
L 379.92 29.96 
L 388.65 29.47 
L 400.18 28.51 
L 408.91 28.27 
L 417.64 27.95 
L 429.17 27.40 
L 437.90 27.24 
" clip-path="url(#pa3b7ebcfa6)" style="fill: none; stroke: #8b0aa5; stroke-width: 0.62; stroke-linecap: square"/>
<defs>
<path id="m8c522c5093" d="M 0 -1.62 
L -1.62 1.62 
L 1.62 1.62 
z
"/>
</defs>
<g clip-path="url(#pa3b7ebcfa6)">
<use href="#m8c522c5093" x="350.93" y="30.53" style="fill: #8b0aa5"/>
<use href="#m8c522c5093" x="359.66" y="30.27" style="fill: #8b0aa5"/>
<use href="#m8c522c5093" x="371.19" y="29.93" style="fill: #8b0aa5"/>
<use href="#m8c522c5093" x="379.92" y="29.96" style="fill: #8b0aa5"/>
<use href="#m8c522c5093" x="388.65" y="29.47" style="fill: #8b0aa5"/>
<use href="#m8c522c5093" x="400.18" y="28.51" style="fill: #8b0aa5"/>
<use href="#m8c522c5093" x="408.91" y="28.27" style="fill: #8b0aa5"/>
<use href="#m8c522c5093" x="417.64" y="27.95" style="fill: #8b0aa5"/>
<use href="#m8c522c5093" x="429.17" y="27.40" style="fill: #8b0aa5"/>
<use href="#m8c522c5093" x="437.90" y="27.24" style="fill: #8b0aa5"/>
</g>
</g>
<g id="line2d_269">
<path d="M 350.93 31.43 
L 359.66 31.34 
L 371.19 30.83 
L 379.92 30.34 
L 388.65 30.12 
L 400.18 29.42 
L 408.91 29.06 
L 417.64 28.68 
L 429.17 27.95 
L 437.90 28.09 
" clip-path="url(#pa3b7ebcfa6)" style="fill: none; stroke: #8b0aa5; stroke-width: 0.62; stroke-linecap: square"/>
<g clip-path="url(#pa3b7ebcfa6)">
<use href="#m8c522c5093" x="350.93" y="31.43" style="fill: #8b0aa5"/>
<use href="#m8c522c5093" x="359.66" y="31.34" style="fill: #8b0aa5"/>
<use href="#m8c522c5093" x="371.19" y="30.83" style="fill: #8b0aa5"/>
<use href="#m8c522c5093" x="379.92" y="30.34" style="fill: #8b0aa5"/>
<use href="#m8c522c5093" x="388.65" y="30.12" style="fill: #8b0aa5"/>
<use href="#m8c522c5093" x="400.18" y="29.42" style="fill: #8b0aa5"/>
<use href="#m8c522c5093" x="408.91" y="29.06" style="fill: #8b0aa5"/>
<use href="#m8c522c5093" x="417.64" y="28.68" style="fill: #8b0aa5"/>
<use href="#m8c522c5093" x="429.17" y="27.95" style="fill: #8b0aa5"/>
<use href="#m8c522c5093" x="437.90" y="28.09" style="fill: #8b0aa5"/>
</g>
</g>
<g id="line2d_270">
<path d="M 350.93 32.23 
L 359.66 31.63 
L 371.19 31.36 
L 379.92 30.92 
L 388.65 30.82 
L 400.18 29.90 
L 408.91 29.46 
L 417.64 29.34 
L 429.17 28.70 
L 437.90 28.07 
" clip-path="url(#pa3b7ebcfa6)" style="fill: none; stroke: #8b0aa5; stroke-width: 0.62; stroke-linecap: square"/>
<g clip-path="url(#pa3b7ebcfa6)">
<use href="#m8c522c5093" x="350.93" y="32.23" style="fill: #8b0aa5"/>
<use href="#m8c522c5093" x="359.66" y="31.63" style="fill: #8b0aa5"/>
<use href="#m8c522c5093" x="371.19" y="31.36" style="fill: #8b0aa5"/>
<use href="#m8c522c5093" x="379.92" y="30.92" style="fill: #8b0aa5"/>
<use href="#m8c522c5093" x="388.65" y="30.82" style="fill: #8b0aa5"/>
<use href="#m8c522c5093" x="400.18" y="29.90" style="fill: #8b0aa5"/>
<use href="#m8c522c5093" x="408.91" y="29.46" style="fill: #8b0aa5"/>
<use href="#m8c522c5093" x="417.64" y="29.34" style="fill: #8b0aa5"/>
<use href="#m8c522c5093" x="429.17" y="28.70" style="fill: #8b0aa5"/>
<use href="#m8c522c5093" x="437.90" y="28.07" style="fill: #8b0aa5"/>
</g>
</g>
<g id="line2d_271">
<path d="M 350.93 33.23 
L 359.66 32.81 
L 371.19 32.38 
L 379.92 31.88 
L 388.65 31.43 
L 400.18 31.16 
L 408.91 30.45 
L 417.64 30.16 
L 429.17 29.73 
L 437.90 29.07 
" clip-path="url(#pa3b7ebcfa6)" style="fill: none; stroke: #8b0aa5; stroke-width: 0.62; stroke-linecap: square"/>
<g clip-path="url(#pa3b7ebcfa6)">
<use href="#m8c522c5093" x="350.93" y="33.23" style="fill: #8b0aa5"/>
<use href="#m8c522c5093" x="359.66" y="32.81" style="fill: #8b0aa5"/>
<use href="#m8c522c5093" x="371.19" y="32.38" style="fill: #8b0aa5"/>
<use href="#m8c522c5093" x="379.92" y="31.88" style="fill: #8b0aa5"/>
<use href="#m8c522c5093" x="388.65" y="31.43" style="fill: #8b0aa5"/>
<use href="#m8c522c5093" x="400.18" y="31.16" style="fill: #8b0aa5"/>
<use href="#m8c522c5093" x="408.91" y="30.45" style="fill: #8b0aa5"/>
<use href="#m8c522c5093" x="417.64" y="30.16" style="fill: #8b0aa5"/>
<use href="#m8c522c5093" x="429.17" y="29.73" style="fill: #8b0aa5"/>
<use href="#m8c522c5093" x="437.90" y="29.07" style="fill: #8b0aa5"/>
</g>
</g>
<g id="line2d_272">
<path d="M 350.93 34.51 
L 359.66 34.02 
L 371.19 32.66 
L 379.92 32.64 
L 388.65 32.16 
L 400.18 31.72 
L 408.91 31.32 
L 417.64 31.10 
L 429.17 30.10 
L 437.90 29.66 
" clip-path="url(#pa3b7ebcfa6)" style="fill: none; stroke: #8b0aa5; stroke-width: 0.62; stroke-linecap: square"/>
<g clip-path="url(#pa3b7ebcfa6)">
<use href="#m8c522c5093" x="350.93" y="34.51" style="fill: #8b0aa5"/>
<use href="#m8c522c5093" x="359.66" y="34.02" style="fill: #8b0aa5"/>
<use href="#m8c522c5093" x="371.19" y="32.66" style="fill: #8b0aa5"/>
<use href="#m8c522c5093" x="379.92" y="32.64" style="fill: #8b0aa5"/>
<use href="#m8c522c5093" x="388.65" y="32.16" style="fill: #8b0aa5"/>
<use href="#m8c522c5093" x="400.18" y="31.72" style="fill: #8b0aa5"/>
<use href="#m8c522c5093" x="408.91" y="31.32" style="fill: #8b0aa5"/>
<use href="#m8c522c5093" x="417.64" y="31.10" style="fill: #8b0aa5"/>
<use href="#m8c522c5093" x="429.17" y="30.10" style="fill: #8b0aa5"/>
<use href="#m8c522c5093" x="437.90" y="29.66" style="fill: #8b0aa5"/>
</g>
</g>
<g id="line2d_273">
<path d="M 350.93 34.05 
L 359.66 33.49 
L 371.19 33.19 
L 379.92 32.37 
L 388.65 32.13 
L 400.18 31.51 
L 408.91 31.15 
L 417.64 30.53 
L 429.17 30.37 
L 437.90 29.67 
" clip-path="url(#pa3b7ebcfa6)" style="fill: none; stroke: #5302a3; stroke-width: 0.62; stroke-linecap: square"/>
<defs>
<path id="m47375b20a5" d="M 0 -1.62 
L -1.62 1.62 
L 1.62 1.62 
z
"/>
</defs>
<g clip-path="url(#pa3b7ebcfa6)">
<use href="#m47375b20a5" x="350.93" y="34.05" style="fill: #5302a3"/>
<use href="#m47375b20a5" x="359.66" y="33.49" style="fill: #5302a3"/>
<use href="#m47375b20a5" x="371.19" y="33.19" style="fill: #5302a3"/>
<use href="#m47375b20a5" x="379.92" y="32.37" style="fill: #5302a3"/>
<use href="#m47375b20a5" x="388.65" y="32.13" style="fill: #5302a3"/>
<use href="#m47375b20a5" x="400.18" y="31.51" style="fill: #5302a3"/>
<use href="#m47375b20a5" x="408.91" y="31.15" style="fill: #5302a3"/>
<use href="#m47375b20a5" x="417.64" y="30.53" style="fill: #5302a3"/>
<use href="#m47375b20a5" x="429.17" y="30.37" style="fill: #5302a3"/>
<use href="#m47375b20a5" x="437.90" y="29.67" style="fill: #5302a3"/>
</g>
</g>
<g id="line2d_274">
<path d="M 350.93 34.67 
L 359.66 34.83 
L 371.19 34.13 
L 379.92 33.85 
L 388.65 33.45 
L 400.18 32.98 
L 408.91 32.43 
L 417.64 31.89 
L 429.17 31.46 
L 437.90 30.68 
" clip-path="url(#pa3b7ebcfa6)" style="fill: none; stroke: #5302a3; stroke-width: 0.62; stroke-linecap: square"/>
<g clip-path="url(#pa3b7ebcfa6)">
<use href="#m47375b20a5" x="350.93" y="34.67" style="fill: #5302a3"/>
<use href="#m47375b20a5" x="359.66" y="34.83" style="fill: #5302a3"/>
<use href="#m47375b20a5" x="371.19" y="34.13" style="fill: #5302a3"/>
<use href="#m47375b20a5" x="379.92" y="33.85" style="fill: #5302a3"/>
<use href="#m47375b20a5" x="388.65" y="33.45" style="fill: #5302a3"/>
<use href="#m47375b20a5" x="400.18" y="32.98" style="fill: #5302a3"/>
<use href="#m47375b20a5" x="408.91" y="32.43" style="fill: #5302a3"/>
<use href="#m47375b20a5" x="417.64" y="31.89" style="fill: #5302a3"/>
<use href="#m47375b20a5" x="429.17" y="31.46" style="fill: #5302a3"/>
<use href="#m47375b20a5" x="437.90" y="30.68" style="fill: #5302a3"/>
</g>
</g>
<g id="line2d_275">
<path d="M 350.93 35.99 
L 359.66 35.64 
L 371.19 35.00 
L 379.92 34.11 
L 388.65 33.93 
L 400.18 33.53 
L 408.91 33.13 
L 417.64 33.17 
L 429.17 32.03 
L 437.90 31.92 
" clip-path="url(#pa3b7ebcfa6)" style="fill: none; stroke: #5302a3; stroke-width: 0.62; stroke-linecap: square"/>
<g clip-path="url(#pa3b7ebcfa6)">
<use href="#m47375b20a5" x="350.93" y="35.99" style="fill: #5302a3"/>
<use href="#m47375b20a5" x="359.66" y="35.64" style="fill: #5302a3"/>
<use href="#m47375b20a5" x="371.19" y="35.00" style="fill: #5302a3"/>
<use href="#m47375b20a5" x="379.92" y="34.11" style="fill: #5302a3"/>
<use href="#m47375b20a5" x="388.65" y="33.93" style="fill: #5302a3"/>
<use href="#m47375b20a5" x="400.18" y="33.53" style="fill: #5302a3"/>
<use href="#m47375b20a5" x="408.91" y="33.13" style="fill: #5302a3"/>
<use href="#m47375b20a5" x="417.64" y="33.17" style="fill: #5302a3"/>
<use href="#m47375b20a5" x="429.17" y="32.03" style="fill: #5302a3"/>
<use href="#m47375b20a5" x="437.90" y="31.92" style="fill: #5302a3"/>
</g>
</g>
<g id="line2d_276">
<path d="M 350.93 37.11 
L 359.66 36.27 
L 371.19 35.67 
L 379.92 35.09 
L 388.65 34.89 
L 400.18 34.11 
L 408.91 33.59 
L 417.64 33.57 
L 429.17 32.28 
L 437.90 32.39 
" clip-path="url(#pa3b7ebcfa6)" style="fill: none; stroke: #5302a3; stroke-width: 0.62; stroke-linecap: square"/>
<g clip-path="url(#pa3b7ebcfa6)">
<use href="#m47375b20a5" x="350.93" y="37.11" style="fill: #5302a3"/>
<use href="#m47375b20a5" x="359.66" y="36.27" style="fill: #5302a3"/>
<use href="#m47375b20a5" x="371.19" y="35.67" style="fill: #5302a3"/>
<use href="#m47375b20a5" x="379.92" y="35.09" style="fill: #5302a3"/>
<use href="#m47375b20a5" x="388.65" y="34.89" style="fill: #5302a3"/>
<use href="#m47375b20a5" x="400.18" y="34.11" style="fill: #5302a3"/>
<use href="#m47375b20a5" x="408.91" y="33.59" style="fill: #5302a3"/>
<use href="#m47375b20a5" x="417.64" y="33.57" style="fill: #5302a3"/>
<use href="#m47375b20a5" x="429.17" y="32.28" style="fill: #5302a3"/>
<use href="#m47375b20a5" x="437.90" y="32.39" style="fill: #5302a3"/>
</g>
</g>
<g id="line2d_277">
<path d="M 350.93 37.96 
L 359.66 37.81 
L 371.19 36.87 
L 379.92 35.54 
L 388.65 35.57 
L 400.18 35.28 
L 408.91 34.48 
L 417.64 33.45 
L 429.17 33.05 
L 437.90 32.54 
" clip-path="url(#pa3b7ebcfa6)" style="fill: none; stroke: #5302a3; stroke-width: 0.62; stroke-linecap: square"/>
<g clip-path="url(#pa3b7ebcfa6)">
<use href="#m47375b20a5" x="350.93" y="37.96" style="fill: #5302a3"/>
<use href="#m47375b20a5" x="359.66" y="37.81" style="fill: #5302a3"/>
<use href="#m47375b20a5" x="371.19" y="36.87" style="fill: #5302a3"/>
<use href="#m47375b20a5" x="379.92" y="35.54" style="fill: #5302a3"/>
<use href="#m47375b20a5" x="388.65" y="35.57" style="fill: #5302a3"/>
<use href="#m47375b20a5" x="400.18" y="35.28" style="fill: #5302a3"/>
<use href="#m47375b20a5" x="408.91" y="34.48" style="fill: #5302a3"/>
<use href="#m47375b20a5" x="417.64" y="33.45" style="fill: #5302a3"/>
<use href="#m47375b20a5" x="429.17" y="33.05" style="fill: #5302a3"/>
<use href="#m47375b20a5" x="437.90" y="32.54" style="fill: #5302a3"/>
</g>
</g>
<g id="line2d_278">
<path d="M 350.93 37.67 
L 359.66 37.21 
L 371.19 36.33 
L 379.92 35.80 
L 388.65 35.40 
L 400.18 34.92 
L 408.91 34.40 
L 417.64 33.58 
L 429.17 32.97 
L 437.90 32.69 
" clip-path="url(#pa3b7ebcfa6)" style="fill: none; stroke: #0d0887; stroke-width: 0.62; stroke-linecap: square"/>
<defs>
<path id="m78fc1060a5" d="M 0 -1.62 
L -1.62 1.62 
L 1.62 1.62 
z
"/>
</defs>
<g clip-path="url(#pa3b7ebcfa6)">
<use href="#m78fc1060a5" x="350.93" y="37.67" style="fill: #0d0887"/>
<use href="#m78fc1060a5" x="359.66" y="37.21" style="fill: #0d0887"/>
<use href="#m78fc1060a5" x="371.19" y="36.33" style="fill: #0d0887"/>
<use href="#m78fc1060a5" x="379.92" y="35.80" style="fill: #0d0887"/>
<use href="#m78fc1060a5" x="388.65" y="35.40" style="fill: #0d0887"/>
<use href="#m78fc1060a5" x="400.18" y="34.92" style="fill: #0d0887"/>
<use href="#m78fc1060a5" x="408.91" y="34.40" style="fill: #0d0887"/>
<use href="#m78fc1060a5" x="417.64" y="33.58" style="fill: #0d0887"/>
<use href="#m78fc1060a5" x="429.17" y="32.97" style="fill: #0d0887"/>
<use href="#m78fc1060a5" x="437.90" y="32.69" style="fill: #0d0887"/>
</g>
</g>
<g id="line2d_279">
<path d="M 350.93 38.82 
L 359.66 38.28 
L 371.19 37.26 
L 379.92 36.85 
L 388.65 36.60 
L 400.18 35.79 
L 408.91 34.71 
L 417.64 34.31 
L 429.17 33.34 
L 437.90 32.90 
" clip-path="url(#pa3b7ebcfa6)" style="fill: none; stroke: #0d0887; stroke-width: 0.62; stroke-linecap: square"/>
<g clip-path="url(#pa3b7ebcfa6)">
<use href="#m78fc1060a5" x="350.93" y="38.82" style="fill: #0d0887"/>
<use href="#m78fc1060a5" x="359.66" y="38.28" style="fill: #0d0887"/>
<use href="#m78fc1060a5" x="371.19" y="37.26" style="fill: #0d0887"/>
<use href="#m78fc1060a5" x="379.92" y="36.85" style="fill: #0d0887"/>
<use href="#m78fc1060a5" x="388.65" y="36.60" style="fill: #0d0887"/>
<use href="#m78fc1060a5" x="400.18" y="35.79" style="fill: #0d0887"/>
<use href="#m78fc1060a5" x="408.91" y="34.71" style="fill: #0d0887"/>
<use href="#m78fc1060a5" x="417.64" y="34.31" style="fill: #0d0887"/>
<use href="#m78fc1060a5" x="429.17" y="33.34" style="fill: #0d0887"/>
<use href="#m78fc1060a5" x="437.90" y="32.90" style="fill: #0d0887"/>
</g>
</g>
<g id="line2d_280">
<path d="M 350.93 40.21 
L 359.66 39.58 
L 371.19 38.75 
L 379.92 37.89 
L 388.65 37.28 
L 400.18 36.32 
L 408.91 35.56 
L 417.64 34.78 
L 429.17 34.38 
L 437.90 33.95 
" clip-path="url(#pa3b7ebcfa6)" style="fill: none; stroke: #0d0887; stroke-width: 0.62; stroke-linecap: square"/>
<g clip-path="url(#pa3b7ebcfa6)">
<use href="#m78fc1060a5" x="350.93" y="40.21" style="fill: #0d0887"/>
<use href="#m78fc1060a5" x="359.66" y="39.58" style="fill: #0d0887"/>
<use href="#m78fc1060a5" x="371.19" y="38.75" style="fill: #0d0887"/>
<use href="#m78fc1060a5" x="379.92" y="37.89" style="fill: #0d0887"/>
<use href="#m78fc1060a5" x="388.65" y="37.28" style="fill: #0d0887"/>
<use href="#m78fc1060a5" x="400.18" y="36.32" style="fill: #0d0887"/>
<use href="#m78fc1060a5" x="408.91" y="35.56" style="fill: #0d0887"/>
<use href="#m78fc1060a5" x="417.64" y="34.78" style="fill: #0d0887"/>
<use href="#m78fc1060a5" x="429.17" y="34.38" style="fill: #0d0887"/>
<use href="#m78fc1060a5" x="437.90" y="33.95" style="fill: #0d0887"/>
</g>
</g>
<g id="line2d_281">
<path d="M 350.93 41.95 
L 359.66 40.96 
L 371.19 39.81 
L 379.92 39.34 
L 388.65 38.33 
L 400.18 37.68 
L 408.91 37.19 
L 417.64 36.31 
L 429.17 35.74 
L 437.90 34.73 
" clip-path="url(#pa3b7ebcfa6)" style="fill: none; stroke: #0d0887; stroke-width: 0.62; stroke-linecap: square"/>
<g clip-path="url(#pa3b7ebcfa6)">
<use href="#m78fc1060a5" x="350.93" y="41.95" style="fill: #0d0887"/>
<use href="#m78fc1060a5" x="359.66" y="40.96" style="fill: #0d0887"/>
<use href="#m78fc1060a5" x="371.19" y="39.81" style="fill: #0d0887"/>
<use href="#m78fc1060a5" x="379.92" y="39.34" style="fill: #0d0887"/>
<use href="#m78fc1060a5" x="388.65" y="38.33" style="fill: #0d0887"/>
<use href="#m78fc1060a5" x="400.18" y="37.68" style="fill: #0d0887"/>
<use href="#m78fc1060a5" x="408.91" y="37.19" style="fill: #0d0887"/>
<use href="#m78fc1060a5" x="417.64" y="36.31" style="fill: #0d0887"/>
<use href="#m78fc1060a5" x="429.17" y="35.74" style="fill: #0d0887"/>
<use href="#m78fc1060a5" x="437.90" y="34.73" style="fill: #0d0887"/>
</g>
</g>
<g id="line2d_282">
<path d="M 350.93 43.08 
L 359.66 42.37 
L 371.19 41.26 
L 379.92 40.87 
L 388.65 39.88 
L 400.18 39.51 
L 408.91 38.33 
L 417.64 37.47 
L 429.17 36.60 
L 437.90 35.93 
" clip-path="url(#pa3b7ebcfa6)" style="fill: none; stroke: #0d0887; stroke-width: 0.62; stroke-linecap: square"/>
<g clip-path="url(#pa3b7ebcfa6)">
<use href="#m78fc1060a5" x="350.93" y="43.08" style="fill: #0d0887"/>
<use href="#m78fc1060a5" x="359.66" y="42.37" style="fill: #0d0887"/>
<use href="#m78fc1060a5" x="371.19" y="41.26" style="fill: #0d0887"/>
<use href="#m78fc1060a5" x="379.92" y="40.87" style="fill: #0d0887"/>
<use href="#m78fc1060a5" x="388.65" y="39.88" style="fill: #0d0887"/>
<use href="#m78fc1060a5" x="400.18" y="39.51" style="fill: #0d0887"/>
<use href="#m78fc1060a5" x="408.91" y="38.33" style="fill: #0d0887"/>
<use href="#m78fc1060a5" x="417.64" y="37.47" style="fill: #0d0887"/>
<use href="#m78fc1060a5" x="429.17" y="36.60" style="fill: #0d0887"/>
<use href="#m78fc1060a5" x="437.90" y="35.93" style="fill: #0d0887"/>
</g>
</g>
</g>
<g id="axes_7">
<g id="patch_32">
<path d="M 273.31 191.16 
L 356.04 191.16 
L 356.04 100.00 
L 273.31 100.00 
z
" style="fill: #ffffff"/>
</g>
<g id="matplotlib.axis_13">
<g id="xtick_67">
<g id="line2d_283">
<path d="M 297.90 191.16 
L 297.90 100.00 
" clip-path="url(#pbe7b45cf09)" style="fill: none; stroke: #b0b0b0; stroke-width: 0.8; stroke-linecap: square"/>
</g>
<g id="line2d_284">
<g>
<use href="#m1cd49489bd" x="297.90" y="191.16" style="stroke: #000000; stroke-width: 0.8"/>
</g>
</g>
</g>
<g id="xtick_68">
<g id="line2d_285">
<path d="M 326.90 191.16 
L 326.90 100.00 
" clip-path="url(#pbe7b45cf09)" style="fill: none; stroke: #b0b0b0; stroke-width: 0.8; stroke-linecap: square"/>
</g>
<g id="line2d_286">
<g>
<use href="#m1cd49489bd" x="326.90" y="191.16" style="stroke: #000000; stroke-width: 0.8"/>
</g>
</g>
</g>
<g id="xtick_69">
<g id="line2d_287">
<path d="M 355.91 191.16 
L 355.91 100.00 
" clip-path="url(#pbe7b45cf09)" style="fill: none; stroke: #b0b0b0; stroke-width: 0.8; stroke-linecap: square"/>
</g>
<g id="line2d_288">
<g>
<use href="#m1cd49489bd" x="355.91" y="191.16" style="stroke: #000000; stroke-width: 0.8"/>
</g>
</g>
</g>
<g id="xtick_70">
<g id="line2d_289">
<g>
<use href="#mf07962e97d" x="277.62" y="191.16" style="stroke: #000000; stroke-width: 0.6"/>
</g>
</g>
</g>
<g id="xtick_71">
<g id="line2d_290">
<g>
<use href="#mf07962e97d" x="282.73" y="191.16" style="stroke: #000000; stroke-width: 0.6"/>
</g>
</g>
</g>
<g id="xtick_72">
<g id="line2d_291">
<g>
<use href="#mf07962e97d" x="286.35" y="191.16" style="stroke: #000000; stroke-width: 0.6"/>
</g>
</g>
</g>
<g id="xtick_73">
<g id="line2d_292">
<g>
<use href="#mf07962e97d" x="289.16" y="191.16" style="stroke: #000000; stroke-width: 0.6"/>
</g>
</g>
</g>
<g id="xtick_74">
<g id="line2d_293">
<g>
<use href="#mf07962e97d" x="291.46" y="191.16" style="stroke: #000000; stroke-width: 0.6"/>
</g>
</g>
</g>
<g id="xtick_75">
<g id="line2d_294">
<g>
<use href="#mf07962e97d" x="293.40" y="191.16" style="stroke: #000000; stroke-width: 0.6"/>
</g>
</g>
</g>
<g id="xtick_76">
<g id="line2d_295">
<g>
<use href="#mf07962e97d" x="295.09" y="191.16" style="stroke: #000000; stroke-width: 0.6"/>
</g>
</g>
</g>
<g id="xtick_77">
<g id="line2d_296">
<g>
<use href="#mf07962e97d" x="296.57" y="191.16" style="stroke: #000000; stroke-width: 0.6"/>
</g>
</g>
</g>
<g id="xtick_78">
<g id="line2d_297">
<g>
<use href="#mf07962e97d" x="306.63" y="191.16" style="stroke: #000000; stroke-width: 0.6"/>
</g>
</g>
</g>
<g id="xtick_79">
<g id="line2d_298">
<g>
<use href="#mf07962e97d" x="311.74" y="191.16" style="stroke: #000000; stroke-width: 0.6"/>
</g>
</g>
</g>
<g id="xtick_80">
<g id="line2d_299">
<g>
<use href="#mf07962e97d" x="315.36" y="191.16" style="stroke: #000000; stroke-width: 0.6"/>
</g>
</g>
</g>
<g id="xtick_81">
<g id="line2d_300">
<g>
<use href="#mf07962e97d" x="318.17" y="191.16" style="stroke: #000000; stroke-width: 0.6"/>
</g>
</g>
</g>
<g id="xtick_82">
<g id="line2d_301">
<g>
<use href="#mf07962e97d" x="320.47" y="191.16" style="stroke: #000000; stroke-width: 0.6"/>
</g>
</g>
</g>
<g id="xtick_83">
<g id="line2d_302">
<g>
<use href="#mf07962e97d" x="322.41" y="191.16" style="stroke: #000000; stroke-width: 0.6"/>
</g>
</g>
</g>
<g id="xtick_84">
<g id="line2d_303">
<g>
<use href="#mf07962e97d" x="324.09" y="191.16" style="stroke: #000000; stroke-width: 0.6"/>
</g>
</g>
</g>
<g id="xtick_85">
<g id="line2d_304">
<g>
<use href="#mf07962e97d" x="325.58" y="191.16" style="stroke: #000000; stroke-width: 0.6"/>
</g>
</g>
</g>
<g id="xtick_86">
<g id="line2d_305">
<g>
<use href="#mf07962e97d" x="335.63" y="191.16" style="stroke: #000000; stroke-width: 0.6"/>
</g>
</g>
</g>
<g id="xtick_87">
<g id="line2d_306">
<g>
<use href="#mf07962e97d" x="340.74" y="191.16" style="stroke: #000000; stroke-width: 0.6"/>
</g>
</g>
</g>
<g id="xtick_88">
<g id="line2d_307">
<g>
<use href="#mf07962e97d" x="344.37" y="191.16" style="stroke: #000000; stroke-width: 0.6"/>
</g>
</g>
</g>
<g id="xtick_89">
<g id="line2d_308">
<g>
<use href="#mf07962e97d" x="347.18" y="191.16" style="stroke: #000000; stroke-width: 0.6"/>
</g>
</g>
</g>
<g id="xtick_90">
<g id="line2d_309">
<g>
<use href="#mf07962e97d" x="349.47" y="191.16" style="stroke: #000000; stroke-width: 0.6"/>
</g>
</g>
</g>
<g id="xtick_91">
<g id="line2d_310">
<g>
<use href="#mf07962e97d" x="351.42" y="191.16" style="stroke: #000000; stroke-width: 0.6"/>
</g>
</g>
</g>
<g id="xtick_92">
<g id="line2d_311">
<g>
<use href="#mf07962e97d" x="353.10" y="191.16" style="stroke: #000000; stroke-width: 0.6"/>
</g>
</g>
</g>
<g id="xtick_93">
<g id="line2d_312">
<g>
<use href="#mf07962e97d" x="354.58" y="191.16" style="stroke: #000000; stroke-width: 0.6"/>
</g>
</g>
</g>
</g>
<g id="matplotlib.axis_14">
<g id="ytick_95">
<g id="line2d_313">
<path d="M 273.31 120.89 
L 356.04 120.89 
" clip-path="url(#pbe7b45cf09)" style="fill: none; stroke: #b0b0b0; stroke-width: 0.8; stroke-linecap: square"/>
</g>
<g id="line2d_314">
<g>
<use href="#m6b28ea1482" x="273.31" y="120.89" style="stroke: #000000; stroke-width: 0.8"/>
</g>
</g>
</g>
<g id="ytick_96">
<g id="line2d_315">
<path d="M 273.31 147.40 
L 356.04 147.40 
" clip-path="url(#pbe7b45cf09)" style="fill: none; stroke: #b0b0b0; stroke-width: 0.8; stroke-linecap: square"/>
</g>
<g id="line2d_316">
<g>
<use href="#m6b28ea1482" x="273.31" y="147.40" style="stroke: #000000; stroke-width: 0.8"/>
</g>
</g>
</g>
<g id="ytick_97">
<g id="line2d_317">
<path d="M 273.31 173.92 
L 356.04 173.92 
" clip-path="url(#pbe7b45cf09)" style="fill: none; stroke: #b0b0b0; stroke-width: 0.8; stroke-linecap: square"/>
</g>
<g id="line2d_318">
<g>
<use href="#m6b28ea1482" x="273.31" y="173.92" style="stroke: #000000; stroke-width: 0.8"/>
</g>
</g>
</g>
</g>
<g id="FillBetweenPolyCollection_29">
<defs>
<path id="mdbc0b26b58" d="M 268.89 -107.74 
L 268.89 -106.03 
L 277.62 -106.61 
L 289.16 -107.94 
L 297.90 -109.17 
L 306.63 -110.71 
L 318.17 -112.55 
L 326.90 -112.91 
L 335.63 -114.51 
L 347.18 -116.99 
L 355.91 -117.42 
L 355.91 -122.60 
L 355.91 -122.60 
L 347.18 -120.71 
L 335.63 -117.80 
L 326.90 -116.07 
L 318.17 -115.11 
L 306.63 -112.53 
L 297.90 -111.04 
L 289.16 -109.66 
L 277.62 -108.63 
L 268.89 -107.74 
z
"/>
</defs>
<g clip-path="url(#pbe7b45cf09)">
<use href="#mdbc0b26b58" x="0" y="223.2" style="fill: #f0f921; fill-opacity: 0.3"/>
</g>
</g>
<g id="FillBetweenPolyCollection_30">
<defs>
<path id="m7750b71eae" d="M 268.89 -106.49 
L 268.89 -104.59 
L 277.62 -104.95 
L 289.16 -106.76 
L 297.90 -106.88 
L 306.63 -108.24 
L 318.17 -109.97 
L 326.90 -110.12 
L 335.63 -111.12 
L 347.18 -113.71 
L 355.91 -114.92 
L 355.91 -119.42 
L 355.91 -119.42 
L 347.18 -118.03 
L 335.63 -116.38 
L 326.90 -114.79 
L 318.17 -113.53 
L 306.63 -112.07 
L 297.90 -110.50 
L 289.16 -109.52 
L 277.62 -107.28 
L 268.89 -106.49 
z
"/>
</defs>
<g clip-path="url(#pbe7b45cf09)">
<use href="#m7750b71eae" x="0" y="223.2" style="fill: #febd2a; fill-opacity: 0.3"/>
</g>
</g>
<g id="FillBetweenPolyCollection_31">
<defs>
<path id="m124c6b6ae0" d="M 268.89 -104.61 
L 268.89 -103.25 
L 277.62 -103.70 
L 289.16 -104.45 
L 297.90 -104.71 
L 306.63 -105.40 
L 318.17 -106.19 
L 326.90 -106.57 
L 335.63 -107.32 
L 347.18 -108.31 
L 355.91 -108.90 
L 355.91 -114.92 
L 355.91 -114.92 
L 347.18 -113.59 
L 335.63 -112.00 
L 326.90 -111.03 
L 318.17 -109.88 
L 306.63 -108.71 
L 297.90 -107.82 
L 289.16 -106.94 
L 277.62 -106.24 
L 268.89 -104.61 
z
"/>
</defs>
<g clip-path="url(#pbe7b45cf09)">
<use href="#m124c6b6ae0" x="0" y="223.2" style="fill: #f48849; fill-opacity: 0.3"/>
</g>
</g>
<g id="FillBetweenPolyCollection_32">
<defs>
<path id="mef45ac6936" d="M 268.89 -103.81 
L 268.89 -102.74 
L 277.62 -101.58 
L 289.16 -103.05 
L 297.90 -102.56 
L 306.63 -102.91 
L 318.17 -102.94 
L 326.90 -103.42 
L 335.63 -103.15 
L 347.18 -103.62 
L 355.91 -104.21 
L 355.91 -108.73 
L 355.91 -108.73 
L 347.18 -108.65 
L 335.63 -107.12 
L 326.90 -106.66 
L 318.17 -106.36 
L 306.63 -105.03 
L 297.90 -105.48 
L 289.16 -104.64 
L 277.62 -103.78 
L 268.89 -103.81 
z
"/>
</defs>
<g clip-path="url(#pbe7b45cf09)">
<use href="#mef45ac6936" x="0" y="223.2" style="fill: #db5c68; fill-opacity: 0.3"/>
</g>
</g>
<g id="FillBetweenPolyCollection_33">
<defs>
<path id="mb853ca1be8" d="M 268.89 -102.53 
L 268.89 -98.57 
L 277.62 -97.63 
L 289.16 -96.84 
L 297.90 -96.15 
L 306.63 -95.45 
L 318.17 -94.78 
L 326.90 -93.34 
L 335.63 -93.01 
L 347.18 -90.77 
L 355.91 -90.09 
L 355.91 -100.49 
L 355.91 -100.49 
L 347.18 -100.25 
L 335.63 -100.30 
L 326.90 -100.90 
L 318.17 -101.15 
L 306.63 -102.06 
L 297.90 -102.29 
L 289.16 -101.86 
L 277.62 -101.76 
L 268.89 -102.53 
z
"/>
</defs>
<g clip-path="url(#pbe7b45cf09)">
<use href="#mb853ca1be8" x="0" y="223.2" style="fill: #b83289; fill-opacity: 0.3"/>
</g>
</g>
<g id="FillBetweenPolyCollection_34">
<defs>
<path id="m61e726600a" d="M 268.89 -100.13 
L 268.89 -93.26 
L 277.62 -91.18 
L 289.16 -88.15 
L 297.90 -86.86 
L 306.63 -84.03 
L 318.17 -80.98 
L 326.90 -78.52 
L 335.63 -76.26 
L 347.18 -72.80 
L 355.91 -70.45 
L 355.91 -84.63 
L 355.91 -84.63 
L 347.18 -86.36 
L 335.63 -87.55 
L 326.90 -89.65 
L 318.17 -91.20 
L 306.63 -93.61 
L 297.90 -94.58 
L 289.16 -96.21 
L 277.62 -99.15 
L 268.89 -100.13 
z
"/>
</defs>
<g clip-path="url(#pbe7b45cf09)">
<use href="#m61e726600a" x="0" y="223.2" style="fill: #8f0da4; fill-opacity: 0.3"/>
</g>
</g>
<g id="FillBetweenPolyCollection_35">
<defs>
<path id="m0c2ca037c0" d="M 268.89 -95.98 
L 268.89 -92.26 
L 277.62 -88.19 
L 289.16 -83.20 
L 297.90 -80.33 
L 306.63 -76.99 
L 318.17 -72.44 
L 326.90 -69.44 
L 335.63 -65.56 
L 347.18 -61.14 
L 355.91 -56.89 
L 355.91 -72.08 
L 355.91 -72.08 
L 347.18 -74.30 
L 335.63 -77.48 
L 326.90 -80.58 
L 318.17 -82.68 
L 306.63 -86.33 
L 297.90 -88.52 
L 289.16 -91.23 
L 277.62 -94.24 
L 268.89 -95.98 
z
"/>
</defs>
<g clip-path="url(#pbe7b45cf09)">
<use href="#m0c2ca037c0" x="0" y="223.2" style="fill: #7a02a8; fill-opacity: 0.22"/>
</g>
</g>
<g id="FillBetweenPolyCollection_36">
<defs>
<path id="m465b52d114" d="M 268.89 -93.07 
L 268.89 -85.39 
L 277.62 -81.10 
L 289.16 -75.70 
L 297.90 -71.04 
L 306.63 -65.96 
L 318.17 -58.04 
L 326.90 -52.27 
L 335.63 -46.34 
L 347.18 -38.34 
L 355.91 -31.68 
L 355.91 -54.60 
L 355.91 -54.60 
L 347.18 -58.81 
L 335.63 -64.53 
L 326.90 -68.97 
L 318.17 -73.25 
L 306.63 -78.12 
L 297.90 -82.46 
L 289.16 -85.91 
L 277.62 -89.54 
L 268.89 -93.07 
z
"/>
</defs>
<g clip-path="url(#pbe7b45cf09)">
<use href="#m465b52d114" x="0" y="223.2" style="fill: #6a00a8; fill-opacity: 0.22"/>
</g>
</g>
<g id="FillBetweenPolyCollection_37">
<defs>
<path id="m2f884db7c5" d="M 268.89 -93.07 
L 268.89 -92.26 
L 277.62 -88.19 
L 289.16 -83.20 
L 297.90 -80.33 
L 306.63 -76.99 
L 318.17 -72.44 
L 326.90 -68.97 
L 335.63 -64.53 
L 347.18 -58.81 
L 355.91 -54.60 
L 355.91 -56.89 
L 355.91 -56.89 
L 347.18 -61.14 
L 335.63 -65.56 
L 326.90 -69.44 
L 318.17 -73.25 
L 306.63 -78.12 
L 297.90 -82.46 
L 289.16 -85.91 
L 277.62 -89.54 
L 268.89 -93.07 
z
"/>
</defs>
<g clip-path="url(#pbe7b45cf09)">
<use href="#m2f884db7c5" x="0" y="223.2" style="fill: #7a02a8; fill-opacity: 0.18"/>
</g>
</g>
<g id="FillBetweenPolyCollection_38">
<defs>
<path id="mfd9cf5f65e" d="M 268.89 -95.98 
L 268.89 -93.26 
L 277.62 -91.18 
L 289.16 -88.15 
L 297.90 -86.86 
L 306.63 -84.03 
L 318.17 -80.98 
L 326.90 -78.52 
L 335.63 -76.26 
L 347.18 -72.80 
L 355.91 -70.45 
L 355.91 -72.08 
L 355.91 -72.08 
L 347.18 -74.30 
L 335.63 -77.48 
L 326.90 -80.58 
L 318.17 -82.68 
L 306.63 -86.33 
L 297.90 -88.52 
L 289.16 -91.23 
L 277.62 -94.24 
L 268.89 -95.98 
z
"/>
</defs>
<g clip-path="url(#pbe7b45cf09)">
<use href="#mfd9cf5f65e" x="0" y="223.2" style="fill: #8f0da4; fill-opacity: 0.18"/>
</g>
</g>
<g id="FillBetweenPolyCollection_39">
<defs>
<path id="m0ef43f4704" d="M 268.89 -100.13 
L 268.89 -98.57 
L 277.62 -97.63 
L 289.16 -96.21 
L 297.90 -94.58 
L 306.63 -93.61 
L 318.17 -91.20 
L 326.90 -89.65 
L 335.63 -87.55 
L 347.18 -86.36 
L 355.91 -84.63 
L 355.91 -90.09 
L 355.91 -90.09 
L 347.18 -90.77 
L 335.63 -93.01 
L 326.90 -93.34 
L 318.17 -94.78 
L 306.63 -95.45 
L 297.90 -96.15 
L 289.16 -96.84 
L 277.62 -99.15 
L 268.89 -100.13 
z
"/>
</defs>
<g clip-path="url(#pbe7b45cf09)">
<use href="#m0ef43f4704" x="0" y="223.2" style="fill: #b83289; fill-opacity: 0.18"/>
</g>
</g>
<g id="FillBetweenPolyCollection_40">
<defs>
<path id="m67e046e526" d="M 268.89 -103.81 
L 268.89 -103.25 
L 277.62 -103.70 
L 289.16 -104.45 
L 297.90 -104.71 
L 306.63 -105.03 
L 318.17 -106.19 
L 326.90 -106.57 
L 335.63 -107.12 
L 347.18 -108.31 
L 355.91 -108.73 
L 355.91 -108.90 
L 355.91 -108.90 
L 347.18 -108.65 
L 335.63 -107.32 
L 326.90 -106.66 
L 318.17 -106.36 
L 306.63 -105.40 
L 297.90 -105.48 
L 289.16 -104.64 
L 277.62 -103.78 
L 268.89 -103.81 
z
"/>
</defs>
<g clip-path="url(#pbe7b45cf09)">
<use href="#m67e046e526" x="0" y="223.2" style="fill: #f48849; fill-opacity: 0.18"/>
</g>
</g>
<g id="FillBetweenPolyCollection_41">
<defs>
<path id="m15ab73b9d7" d="M 268.89 -104.61 
L 268.89 -104.59 
L 277.62 -104.95 
L 289.16 -106.76 
L 297.90 -106.88 
L 306.63 -108.24 
L 318.17 -109.88 
L 326.90 -110.12 
L 335.63 -111.12 
L 347.18 -113.59 
L 355.91 -114.92 
L 355.91 -114.92 
L 355.91 -114.92 
L 347.18 -113.71 
L 335.63 -112.00 
L 326.90 -111.03 
L 318.17 -109.97 
L 306.63 -108.71 
L 297.90 -107.82 
L 289.16 -106.94 
L 277.62 -106.24 
L 268.89 -104.61 
z
"/>
</defs>
<g clip-path="url(#pbe7b45cf09)">
<use href="#m15ab73b9d7" x="0" y="223.2" style="fill: #febd2a; fill-opacity: 0.18"/>
</g>
</g>
<g id="FillBetweenPolyCollection_42">
<defs>
<path id="mc8a21ea8cf" d="M 268.89 -106.49 
L 268.89 -106.03 
L 277.62 -106.61 
L 289.16 -107.94 
L 297.90 -109.17 
L 306.63 -110.71 
L 318.17 -112.55 
L 326.90 -112.91 
L 335.63 -114.51 
L 347.18 -116.99 
L 355.91 -117.42 
L 355.91 -119.42 
L 355.91 -119.42 
L 347.18 -118.03 
L 335.63 -116.38 
L 326.90 -114.79 
L 318.17 -113.53 
L 306.63 -112.07 
L 297.90 -110.50 
L 289.16 -109.52 
L 277.62 -107.28 
L 268.89 -106.49 
z
"/>
</defs>
<g clip-path="url(#pbe7b45cf09)">
<use href="#mc8a21ea8cf" x="0" y="223.2" style="fill: #f0f921; fill-opacity: 0.18"/>
</g>
</g>
<g id="patch_33">
<path d="M 273.31 191.16 
L 273.31 100.00 
" style="fill: none; stroke: #000000; stroke-width: 0.8; stroke-linejoin: miter; stroke-linecap: square"/>
</g>
<g id="patch_34">
<path d="M 356.04 191.16 
L 356.04 100.00 
" style="fill: none; stroke: #000000; stroke-width: 0.8; stroke-linejoin: miter; stroke-linecap: square"/>
</g>
<g id="patch_35">
<path d="M 273.31 191.16 
L 356.04 191.16 
" style="fill: none; stroke: #000000; stroke-width: 0.8; stroke-linejoin: miter; stroke-linecap: square"/>
</g>
<g id="patch_36">
<path d="M 273.31 100.00 
L 356.04 100.00 
" style="fill: none; stroke: #000000; stroke-width: 0.8; stroke-linejoin: miter; stroke-linecap: square"/>
</g>
<g id="line2d_319">
<path d="M 268.89 115.45 
L 277.62 114.88 
L 289.16 113.53 
L 297.90 112.49 
L 306.63 110.66 
L 318.17 108.08 
L 326.90 107.12 
L 335.63 105.39 
L 347.18 102.48 
L 355.91 100.59 
" clip-path="url(#pbe7b45cf09)" style="fill: none; stroke: #f0f921; stroke-width: 0.62; stroke-linecap: square"/>
<defs>
<path id="mb7cf2c74ab" d="M 0 1.75 
C 0.46 1.75 0.90 1.56 1.23 1.23 
C 1.56 0.90 1.75 0.46 1.75 0 
C 1.75 -0.46 1.56 -0.90 1.23 -1.23 
C 0.90 -1.56 0.46 -1.75 0 -1.75 
C -0.46 -1.75 -0.90 -1.56 -1.23 -1.23 
C -1.56 -0.90 -1.75 -0.46 -1.75 0 
C -1.75 0.46 -1.56 0.90 -1.23 1.23 
C -0.90 1.56 -0.46 1.75 0 1.75 
z
"/>
</defs>
<g clip-path="url(#pbe7b45cf09)">
<use href="#mb7cf2c74ab" x="268.89" y="115.45" style="fill: #f0f921"/>
<use href="#mb7cf2c74ab" x="277.62" y="114.88" style="fill: #f0f921"/>
<use href="#mb7cf2c74ab" x="289.16" y="113.53" style="fill: #f0f921"/>
<use href="#mb7cf2c74ab" x="297.90" y="112.49" style="fill: #f0f921"/>
<use href="#mb7cf2c74ab" x="306.63" y="110.66" style="fill: #f0f921"/>
<use href="#mb7cf2c74ab" x="318.17" y="108.08" style="fill: #f0f921"/>
<use href="#mb7cf2c74ab" x="326.90" y="107.12" style="fill: #f0f921"/>
<use href="#mb7cf2c74ab" x="335.63" y="105.39" style="fill: #f0f921"/>
<use href="#mb7cf2c74ab" x="347.18" y="102.48" style="fill: #f0f921"/>
<use href="#mb7cf2c74ab" x="355.91" y="100.59" style="fill: #f0f921"/>
</g>
</g>
<g id="line2d_320">
<path d="M 268.89 115.96 
L 277.62 114.56 
L 289.16 113.86 
L 297.90 112.15 
L 306.63 111.29 
L 318.17 109.07 
L 326.90 107.74 
L 335.63 105.51 
L 347.18 103.78 
L 355.91 101.51 
" clip-path="url(#pbe7b45cf09)" style="fill: none; stroke: #f0f921; stroke-width: 0.62; stroke-linecap: square"/>
<g clip-path="url(#pbe7b45cf09)">
<use href="#mb7cf2c74ab" x="268.89" y="115.96" style="fill: #f0f921"/>
<use href="#mb7cf2c74ab" x="277.62" y="114.56" style="fill: #f0f921"/>
<use href="#mb7cf2c74ab" x="289.16" y="113.86" style="fill: #f0f921"/>
<use href="#mb7cf2c74ab" x="297.90" y="112.15" style="fill: #f0f921"/>
<use href="#mb7cf2c74ab" x="306.63" y="111.29" style="fill: #f0f921"/>
<use href="#mb7cf2c74ab" x="318.17" y="109.07" style="fill: #f0f921"/>
<use href="#mb7cf2c74ab" x="326.90" y="107.74" style="fill: #f0f921"/>
<use href="#mb7cf2c74ab" x="335.63" y="105.51" style="fill: #f0f921"/>
<use href="#mb7cf2c74ab" x="347.18" y="103.78" style="fill: #f0f921"/>
<use href="#mb7cf2c74ab" x="355.91" y="101.51" style="fill: #f0f921"/>
</g>
</g>
<g id="line2d_321">
<path d="M 268.89 117.16 
L 277.62 115.37 
L 289.16 113.79 
L 297.90 112.45 
L 306.63 111.74 
L 318.17 109.42 
L 326.90 108.12 
L 335.63 106.51 
L 347.18 103.68 
L 355.91 102.80 
" clip-path="url(#pbe7b45cf09)" style="fill: none; stroke: #f0f921; stroke-width: 0.62; stroke-linecap: square"/>
<g clip-path="url(#pbe7b45cf09)">
<use href="#mb7cf2c74ab" x="268.89" y="117.16" style="fill: #f0f921"/>
<use href="#mb7cf2c74ab" x="277.62" y="115.37" style="fill: #f0f921"/>
<use href="#mb7cf2c74ab" x="289.16" y="113.79" style="fill: #f0f921"/>
<use href="#mb7cf2c74ab" x="297.90" y="112.45" style="fill: #f0f921"/>
<use href="#mb7cf2c74ab" x="306.63" y="111.74" style="fill: #f0f921"/>
<use href="#mb7cf2c74ab" x="318.17" y="109.42" style="fill: #f0f921"/>
<use href="#mb7cf2c74ab" x="326.90" y="108.12" style="fill: #f0f921"/>
<use href="#mb7cf2c74ab" x="335.63" y="106.51" style="fill: #f0f921"/>
<use href="#mb7cf2c74ab" x="347.18" y="103.68" style="fill: #f0f921"/>
<use href="#mb7cf2c74ab" x="355.91" y="102.80" style="fill: #f0f921"/>
</g>
</g>
<g id="line2d_322">
<path d="M 268.89 116.47 
L 277.62 115.52 
L 289.16 114.35 
L 297.90 113.24 
L 306.63 112.48 
L 318.17 110.13 
L 326.90 108.13 
L 335.63 107.73 
L 347.18 104.62 
L 355.91 103.22 
" clip-path="url(#pbe7b45cf09)" style="fill: none; stroke: #f0f921; stroke-width: 0.62; stroke-linecap: square"/>
<g clip-path="url(#pbe7b45cf09)">
<use href="#mb7cf2c74ab" x="268.89" y="116.47" style="fill: #f0f921"/>
<use href="#mb7cf2c74ab" x="277.62" y="115.52" style="fill: #f0f921"/>
<use href="#mb7cf2c74ab" x="289.16" y="114.35" style="fill: #f0f921"/>
<use href="#mb7cf2c74ab" x="297.90" y="113.24" style="fill: #f0f921"/>
<use href="#mb7cf2c74ab" x="306.63" y="112.48" style="fill: #f0f921"/>
<use href="#mb7cf2c74ab" x="318.17" y="110.13" style="fill: #f0f921"/>
<use href="#mb7cf2c74ab" x="326.90" y="108.13" style="fill: #f0f921"/>
<use href="#mb7cf2c74ab" x="335.63" y="107.73" style="fill: #f0f921"/>
<use href="#mb7cf2c74ab" x="347.18" y="104.62" style="fill: #f0f921"/>
<use href="#mb7cf2c74ab" x="355.91" y="103.22" style="fill: #f0f921"/>
</g>
</g>
<g id="line2d_323">
<path d="M 268.89 116.55 
L 277.62 116.27 
L 289.16 114.32 
L 297.90 112.88 
L 306.63 111.89 
L 318.17 109.77 
L 326.90 108.68 
L 335.63 106.99 
L 347.18 104.79 
L 355.91 104.18 
" clip-path="url(#pbe7b45cf09)" style="fill: none; stroke: #f0f921; stroke-width: 0.62; stroke-linecap: square"/>
<g clip-path="url(#pbe7b45cf09)">
<use href="#mb7cf2c74ab" x="268.89" y="116.55" style="fill: #f0f921"/>
<use href="#mb7cf2c74ab" x="277.62" y="116.27" style="fill: #f0f921"/>
<use href="#mb7cf2c74ab" x="289.16" y="114.32" style="fill: #f0f921"/>
<use href="#mb7cf2c74ab" x="297.90" y="112.88" style="fill: #f0f921"/>
<use href="#mb7cf2c74ab" x="306.63" y="111.89" style="fill: #f0f921"/>
<use href="#mb7cf2c74ab" x="318.17" y="109.77" style="fill: #f0f921"/>
<use href="#mb7cf2c74ab" x="326.90" y="108.68" style="fill: #f0f921"/>
<use href="#mb7cf2c74ab" x="335.63" y="106.99" style="fill: #f0f921"/>
<use href="#mb7cf2c74ab" x="347.18" y="104.79" style="fill: #f0f921"/>
<use href="#mb7cf2c74ab" x="355.91" y="104.18" style="fill: #f0f921"/>
</g>
</g>
<g id="line2d_324">
<path d="M 268.89 116.84 
L 277.62 116.58 
L 289.16 115.25 
L 297.90 114.02 
L 306.63 112.41 
L 318.17 110.64 
L 326.90 110.28 
L 335.63 108.68 
L 347.18 106.20 
L 355.91 105.77 
" clip-path="url(#pbe7b45cf09)" style="fill: none; stroke: #f0f921; stroke-width: 0.62; stroke-linecap: square"/>
<g clip-path="url(#pbe7b45cf09)">
<use href="#mb7cf2c74ab" x="268.89" y="116.84" style="fill: #f0f921"/>
<use href="#mb7cf2c74ab" x="277.62" y="116.58" style="fill: #f0f921"/>
<use href="#mb7cf2c74ab" x="289.16" y="115.25" style="fill: #f0f921"/>
<use href="#mb7cf2c74ab" x="297.90" y="114.02" style="fill: #f0f921"/>
<use href="#mb7cf2c74ab" x="306.63" y="112.41" style="fill: #f0f921"/>
<use href="#mb7cf2c74ab" x="318.17" y="110.64" style="fill: #f0f921"/>
<use href="#mb7cf2c74ab" x="326.90" y="110.28" style="fill: #f0f921"/>
<use href="#mb7cf2c74ab" x="335.63" y="108.68" style="fill: #f0f921"/>
<use href="#mb7cf2c74ab" x="347.18" y="106.20" style="fill: #f0f921"/>
<use href="#mb7cf2c74ab" x="355.91" y="105.77" style="fill: #f0f921"/>
</g>
</g>
<g id="line2d_325">
<path d="M 268.89 116.70 
L 277.62 115.91 
L 289.16 113.67 
L 297.90 112.69 
L 306.63 111.61 
L 318.17 109.66 
L 326.90 108.40 
L 335.63 106.81 
L 347.18 105.16 
L 355.91 103.77 
" clip-path="url(#pbe7b45cf09)" style="fill: none; stroke: #febd2a; stroke-width: 0.62; stroke-linecap: square"/>
<defs>
<path id="m8b01abc9aa" d="M 0 1.75 
C 0.46 1.75 0.90 1.56 1.23 1.23 
C 1.56 0.90 1.75 0.46 1.75 0 
C 1.75 -0.46 1.56 -0.90 1.23 -1.23 
C 0.90 -1.56 0.46 -1.75 0 -1.75 
C -0.46 -1.75 -0.90 -1.56 -1.23 -1.23 
C -1.56 -0.90 -1.75 -0.46 -1.75 0 
C -1.75 0.46 -1.56 0.90 -1.23 1.23 
C -0.90 1.56 -0.46 1.75 0 1.75 
z
"/>
</defs>
<g clip-path="url(#pbe7b45cf09)">
<use href="#m8b01abc9aa" x="268.89" y="116.70" style="fill: #febd2a"/>
<use href="#m8b01abc9aa" x="277.62" y="115.91" style="fill: #febd2a"/>
<use href="#m8b01abc9aa" x="289.16" y="113.67" style="fill: #febd2a"/>
<use href="#m8b01abc9aa" x="297.90" y="112.69" style="fill: #febd2a"/>
<use href="#m8b01abc9aa" x="306.63" y="111.61" style="fill: #febd2a"/>
<use href="#m8b01abc9aa" x="318.17" y="109.66" style="fill: #febd2a"/>
<use href="#m8b01abc9aa" x="326.90" y="108.40" style="fill: #febd2a"/>
<use href="#m8b01abc9aa" x="335.63" y="106.81" style="fill: #febd2a"/>
<use href="#m8b01abc9aa" x="347.18" y="105.16" style="fill: #febd2a"/>
<use href="#m8b01abc9aa" x="355.91" y="103.77" style="fill: #febd2a"/>
</g>
</g>
<g id="line2d_326">
<path d="M 268.89 116.90 
L 277.62 116.46 
L 289.16 114.81 
L 297.90 112.90 
L 306.63 111.12 
L 318.17 110.47 
L 326.90 108.62 
L 335.63 107.44 
L 347.18 106.11 
L 355.91 103.77 
" clip-path="url(#pbe7b45cf09)" style="fill: none; stroke: #febd2a; stroke-width: 0.62; stroke-linecap: square"/>
<g clip-path="url(#pbe7b45cf09)">
<use href="#m8b01abc9aa" x="268.89" y="116.90" style="fill: #febd2a"/>
<use href="#m8b01abc9aa" x="277.62" y="116.46" style="fill: #febd2a"/>
<use href="#m8b01abc9aa" x="289.16" y="114.81" style="fill: #febd2a"/>
<use href="#m8b01abc9aa" x="297.90" y="112.90" style="fill: #febd2a"/>
<use href="#m8b01abc9aa" x="306.63" y="111.12" style="fill: #febd2a"/>
<use href="#m8b01abc9aa" x="318.17" y="110.47" style="fill: #febd2a"/>
<use href="#m8b01abc9aa" x="326.90" y="108.62" style="fill: #febd2a"/>
<use href="#m8b01abc9aa" x="335.63" y="107.44" style="fill: #febd2a"/>
<use href="#m8b01abc9aa" x="347.18" y="106.11" style="fill: #febd2a"/>
<use href="#m8b01abc9aa" x="355.91" y="103.77" style="fill: #febd2a"/>
</g>
</g>
<g id="line2d_327">
<path d="M 268.89 117.64 
L 277.62 116.36 
L 289.16 115.63 
L 297.90 114.40 
L 306.63 113.61 
L 318.17 112.00 
L 326.90 109.66 
L 335.63 109.03 
L 347.18 106.84 
L 355.91 105.51 
" clip-path="url(#pbe7b45cf09)" style="fill: none; stroke: #febd2a; stroke-width: 0.62; stroke-linecap: square"/>
<g clip-path="url(#pbe7b45cf09)">
<use href="#m8b01abc9aa" x="268.89" y="117.64" style="fill: #febd2a"/>
<use href="#m8b01abc9aa" x="277.62" y="116.36" style="fill: #febd2a"/>
<use href="#m8b01abc9aa" x="289.16" y="115.63" style="fill: #febd2a"/>
<use href="#m8b01abc9aa" x="297.90" y="114.40" style="fill: #febd2a"/>
<use href="#m8b01abc9aa" x="306.63" y="113.61" style="fill: #febd2a"/>
<use href="#m8b01abc9aa" x="318.17" y="112.00" style="fill: #febd2a"/>
<use href="#m8b01abc9aa" x="326.90" y="109.66" style="fill: #febd2a"/>
<use href="#m8b01abc9aa" x="335.63" y="109.03" style="fill: #febd2a"/>
<use href="#m8b01abc9aa" x="347.18" y="106.84" style="fill: #febd2a"/>
<use href="#m8b01abc9aa" x="355.91" y="105.51" style="fill: #febd2a"/>
</g>
</g>
<g id="line2d_328">
<path d="M 268.89 117.25 
L 277.62 117.00 
L 289.16 116.05 
L 297.90 115.02 
L 306.63 113.47 
L 318.17 112.08 
L 326.90 110.90 
L 335.63 109.90 
L 347.18 108.32 
L 355.91 105.89 
" clip-path="url(#pbe7b45cf09)" style="fill: none; stroke: #febd2a; stroke-width: 0.62; stroke-linecap: square"/>
<g clip-path="url(#pbe7b45cf09)">
<use href="#m8b01abc9aa" x="268.89" y="117.25" style="fill: #febd2a"/>
<use href="#m8b01abc9aa" x="277.62" y="117.00" style="fill: #febd2a"/>
<use href="#m8b01abc9aa" x="289.16" y="116.05" style="fill: #febd2a"/>
<use href="#m8b01abc9aa" x="297.90" y="115.02" style="fill: #febd2a"/>
<use href="#m8b01abc9aa" x="306.63" y="113.47" style="fill: #febd2a"/>
<use href="#m8b01abc9aa" x="318.17" y="112.08" style="fill: #febd2a"/>
<use href="#m8b01abc9aa" x="326.90" y="110.90" style="fill: #febd2a"/>
<use href="#m8b01abc9aa" x="335.63" y="109.90" style="fill: #febd2a"/>
<use href="#m8b01abc9aa" x="347.18" y="108.32" style="fill: #febd2a"/>
<use href="#m8b01abc9aa" x="355.91" y="105.89" style="fill: #febd2a"/>
</g>
</g>
<g id="line2d_329">
<path d="M 268.89 118.11 
L 277.62 116.91 
L 289.16 115.45 
L 297.90 114.35 
L 306.63 113.83 
L 318.17 111.65 
L 326.90 111.70 
L 335.63 109.81 
L 347.18 108.57 
L 355.91 107.37 
" clip-path="url(#pbe7b45cf09)" style="fill: none; stroke: #febd2a; stroke-width: 0.62; stroke-linecap: square"/>
<g clip-path="url(#pbe7b45cf09)">
<use href="#m8b01abc9aa" x="268.89" y="118.11" style="fill: #febd2a"/>
<use href="#m8b01abc9aa" x="277.62" y="116.91" style="fill: #febd2a"/>
<use href="#m8b01abc9aa" x="289.16" y="115.45" style="fill: #febd2a"/>
<use href="#m8b01abc9aa" x="297.90" y="114.35" style="fill: #febd2a"/>
<use href="#m8b01abc9aa" x="306.63" y="113.83" style="fill: #febd2a"/>
<use href="#m8b01abc9aa" x="318.17" y="111.65" style="fill: #febd2a"/>
<use href="#m8b01abc9aa" x="326.90" y="111.70" style="fill: #febd2a"/>
<use href="#m8b01abc9aa" x="335.63" y="109.81" style="fill: #febd2a"/>
<use href="#m8b01abc9aa" x="347.18" y="108.57" style="fill: #febd2a"/>
<use href="#m8b01abc9aa" x="355.91" y="107.37" style="fill: #febd2a"/>
</g>
</g>
<g id="line2d_330">
<path d="M 268.89 118.60 
L 277.62 118.24 
L 289.16 116.43 
L 297.90 116.31 
L 306.63 114.95 
L 318.17 113.22 
L 326.90 113.07 
L 335.63 112.07 
L 347.18 109.48 
L 355.91 108.27 
" clip-path="url(#pbe7b45cf09)" style="fill: none; stroke: #febd2a; stroke-width: 0.62; stroke-linecap: square"/>
<g clip-path="url(#pbe7b45cf09)">
<use href="#m8b01abc9aa" x="268.89" y="118.60" style="fill: #febd2a"/>
<use href="#m8b01abc9aa" x="277.62" y="118.24" style="fill: #febd2a"/>
<use href="#m8b01abc9aa" x="289.16" y="116.43" style="fill: #febd2a"/>
<use href="#m8b01abc9aa" x="297.90" y="116.31" style="fill: #febd2a"/>
<use href="#m8b01abc9aa" x="306.63" y="114.95" style="fill: #febd2a"/>
<use href="#m8b01abc9aa" x="318.17" y="113.22" style="fill: #febd2a"/>
<use href="#m8b01abc9aa" x="326.90" y="113.07" style="fill: #febd2a"/>
<use href="#m8b01abc9aa" x="335.63" y="112.07" style="fill: #febd2a"/>
<use href="#m8b01abc9aa" x="347.18" y="109.48" style="fill: #febd2a"/>
<use href="#m8b01abc9aa" x="355.91" y="108.27" style="fill: #febd2a"/>
</g>
</g>
<g id="line2d_331">
<path d="M 268.89 118.96 
L 277.62 116.95 
L 289.16 116.25 
L 297.90 115.37 
L 306.63 114.48 
L 318.17 113.31 
L 326.90 112.16 
L 335.63 111.19 
L 347.18 109.60 
L 355.91 108.27 
" clip-path="url(#pbe7b45cf09)" style="fill: none; stroke: #f48849; stroke-width: 0.62; stroke-linecap: square"/>
<defs>
<path id="m2824ba32ff" d="M 0 1.75 
C 0.46 1.75 0.90 1.56 1.23 1.23 
C 1.56 0.90 1.75 0.46 1.75 0 
C 1.75 -0.46 1.56 -0.90 1.23 -1.23 
C 0.90 -1.56 0.46 -1.75 0 -1.75 
C -0.46 -1.75 -0.90 -1.56 -1.23 -1.23 
C -1.56 -0.90 -1.75 -0.46 -1.75 0 
C -1.75 0.46 -1.56 0.90 -1.23 1.23 
C -0.90 1.56 -0.46 1.75 0 1.75 
z
"/>
</defs>
<g clip-path="url(#pbe7b45cf09)">
<use href="#m2824ba32ff" x="268.89" y="118.96" style="fill: #f48849"/>
<use href="#m2824ba32ff" x="277.62" y="116.95" style="fill: #f48849"/>
<use href="#m2824ba32ff" x="289.16" y="116.25" style="fill: #f48849"/>
<use href="#m2824ba32ff" x="297.90" y="115.37" style="fill: #f48849"/>
<use href="#m2824ba32ff" x="306.63" y="114.48" style="fill: #f48849"/>
<use href="#m2824ba32ff" x="318.17" y="113.31" style="fill: #f48849"/>
<use href="#m2824ba32ff" x="326.90" y="112.16" style="fill: #f48849"/>
<use href="#m2824ba32ff" x="335.63" y="111.19" style="fill: #f48849"/>
<use href="#m2824ba32ff" x="347.18" y="109.60" style="fill: #f48849"/>
<use href="#m2824ba32ff" x="355.91" y="108.27" style="fill: #f48849"/>
</g>
</g>
<g id="line2d_332">
<path d="M 268.89 118.58 
L 277.62 118.15 
L 289.16 117.28 
L 297.90 115.60 
L 306.63 115.21 
L 318.17 114.22 
L 326.90 113.48 
L 335.63 112.86 
L 347.18 111.20 
L 355.91 109.86 
" clip-path="url(#pbe7b45cf09)" style="fill: none; stroke: #f48849; stroke-width: 0.62; stroke-linecap: square"/>
<g clip-path="url(#pbe7b45cf09)">
<use href="#m2824ba32ff" x="268.89" y="118.58" style="fill: #f48849"/>
<use href="#m2824ba32ff" x="277.62" y="118.15" style="fill: #f48849"/>
<use href="#m2824ba32ff" x="289.16" y="117.28" style="fill: #f48849"/>
<use href="#m2824ba32ff" x="297.90" y="115.60" style="fill: #f48849"/>
<use href="#m2824ba32ff" x="306.63" y="115.21" style="fill: #f48849"/>
<use href="#m2824ba32ff" x="318.17" y="114.22" style="fill: #f48849"/>
<use href="#m2824ba32ff" x="326.90" y="113.48" style="fill: #f48849"/>
<use href="#m2824ba32ff" x="335.63" y="112.86" style="fill: #f48849"/>
<use href="#m2824ba32ff" x="347.18" y="111.20" style="fill: #f48849"/>
<use href="#m2824ba32ff" x="355.91" y="109.86" style="fill: #f48849"/>
</g>
</g>
<g id="line2d_333">
<path d="M 268.89 119.03 
L 277.62 118.22 
L 289.16 117.97 
L 297.90 116.62 
L 306.63 116.02 
L 318.17 114.17 
L 326.90 113.92 
L 335.63 112.46 
L 347.18 110.84 
L 355.91 110.61 
" clip-path="url(#pbe7b45cf09)" style="fill: none; stroke: #f48849; stroke-width: 0.62; stroke-linecap: square"/>
<g clip-path="url(#pbe7b45cf09)">
<use href="#m2824ba32ff" x="268.89" y="119.03" style="fill: #f48849"/>
<use href="#m2824ba32ff" x="277.62" y="118.22" style="fill: #f48849"/>
<use href="#m2824ba32ff" x="289.16" y="117.97" style="fill: #f48849"/>
<use href="#m2824ba32ff" x="297.90" y="116.62" style="fill: #f48849"/>
<use href="#m2824ba32ff" x="306.63" y="116.02" style="fill: #f48849"/>
<use href="#m2824ba32ff" x="318.17" y="114.17" style="fill: #f48849"/>
<use href="#m2824ba32ff" x="326.90" y="113.92" style="fill: #f48849"/>
<use href="#m2824ba32ff" x="335.63" y="112.46" style="fill: #f48849"/>
<use href="#m2824ba32ff" x="347.18" y="110.84" style="fill: #f48849"/>
<use href="#m2824ba32ff" x="355.91" y="110.61" style="fill: #f48849"/>
</g>
</g>
<g id="line2d_334">
<path d="M 268.89 119.19 
L 277.62 119.00 
L 289.16 117.62 
L 297.90 116.28 
L 306.63 116.42 
L 318.17 115.35 
L 326.90 114.86 
L 335.63 113.47 
L 347.18 112.96 
L 355.91 112.02 
" clip-path="url(#pbe7b45cf09)" style="fill: none; stroke: #f48849; stroke-width: 0.62; stroke-linecap: square"/>
<g clip-path="url(#pbe7b45cf09)">
<use href="#m2824ba32ff" x="268.89" y="119.19" style="fill: #f48849"/>
<use href="#m2824ba32ff" x="277.62" y="119.00" style="fill: #f48849"/>
<use href="#m2824ba32ff" x="289.16" y="117.62" style="fill: #f48849"/>
<use href="#m2824ba32ff" x="297.90" y="116.28" style="fill: #f48849"/>
<use href="#m2824ba32ff" x="306.63" y="116.42" style="fill: #f48849"/>
<use href="#m2824ba32ff" x="318.17" y="115.35" style="fill: #f48849"/>
<use href="#m2824ba32ff" x="326.90" y="114.86" style="fill: #f48849"/>
<use href="#m2824ba32ff" x="335.63" y="113.47" style="fill: #f48849"/>
<use href="#m2824ba32ff" x="347.18" y="112.96" style="fill: #f48849"/>
<use href="#m2824ba32ff" x="355.91" y="112.02" style="fill: #f48849"/>
</g>
</g>
<g id="line2d_335">
<path d="M 268.89 118.96 
L 277.62 118.34 
L 289.16 118.24 
L 297.90 117.59 
L 306.63 116.46 
L 318.17 116.53 
L 326.90 116.06 
L 335.63 115.73 
L 347.18 114.32 
L 355.91 113.09 
" clip-path="url(#pbe7b45cf09)" style="fill: none; stroke: #f48849; stroke-width: 0.62; stroke-linecap: square"/>
<g clip-path="url(#pbe7b45cf09)">
<use href="#m2824ba32ff" x="268.89" y="118.96" style="fill: #f48849"/>
<use href="#m2824ba32ff" x="277.62" y="118.34" style="fill: #f48849"/>
<use href="#m2824ba32ff" x="289.16" y="118.24" style="fill: #f48849"/>
<use href="#m2824ba32ff" x="297.90" y="117.59" style="fill: #f48849"/>
<use href="#m2824ba32ff" x="306.63" y="116.46" style="fill: #f48849"/>
<use href="#m2824ba32ff" x="318.17" y="116.53" style="fill: #f48849"/>
<use href="#m2824ba32ff" x="326.90" y="116.06" style="fill: #f48849"/>
<use href="#m2824ba32ff" x="335.63" y="115.73" style="fill: #f48849"/>
<use href="#m2824ba32ff" x="347.18" y="114.32" style="fill: #f48849"/>
<use href="#m2824ba32ff" x="355.91" y="113.09" style="fill: #f48849"/>
</g>
</g>
<g id="line2d_336">
<path d="M 268.89 119.94 
L 277.62 119.49 
L 289.16 118.74 
L 297.90 118.48 
L 306.63 117.79 
L 318.17 117.00 
L 326.90 116.62 
L 335.63 115.87 
L 347.18 114.88 
L 355.91 114.29 
" clip-path="url(#pbe7b45cf09)" style="fill: none; stroke: #f48849; stroke-width: 0.62; stroke-linecap: square"/>
<g clip-path="url(#pbe7b45cf09)">
<use href="#m2824ba32ff" x="268.89" y="119.94" style="fill: #f48849"/>
<use href="#m2824ba32ff" x="277.62" y="119.49" style="fill: #f48849"/>
<use href="#m2824ba32ff" x="289.16" y="118.74" style="fill: #f48849"/>
<use href="#m2824ba32ff" x="297.90" y="118.48" style="fill: #f48849"/>
<use href="#m2824ba32ff" x="306.63" y="117.79" style="fill: #f48849"/>
<use href="#m2824ba32ff" x="318.17" y="117.00" style="fill: #f48849"/>
<use href="#m2824ba32ff" x="326.90" y="116.62" style="fill: #f48849"/>
<use href="#m2824ba32ff" x="335.63" y="115.87" style="fill: #f48849"/>
<use href="#m2824ba32ff" x="347.18" y="114.88" style="fill: #f48849"/>
<use href="#m2824ba32ff" x="355.91" y="114.29" style="fill: #f48849"/>
</g>
</g>
<g id="line2d_337">
<path d="M 268.89 119.79 
L 277.62 119.54 
L 289.16 118.55 
L 297.90 117.71 
L 306.63 118.16 
L 318.17 116.83 
L 326.90 116.53 
L 335.63 116.07 
L 347.18 114.54 
L 355.91 114.46 
" clip-path="url(#pbe7b45cf09)" style="fill: none; stroke: #db5c68; stroke-width: 0.62; stroke-linecap: square"/>
<defs>
<path id="mb042315a66" d="M 0 1.75 
C 0.46 1.75 0.90 1.56 1.23 1.23 
C 1.56 0.90 1.75 0.46 1.75 0 
C 1.75 -0.46 1.56 -0.90 1.23 -1.23 
C 0.90 -1.56 0.46 -1.75 0 -1.75 
C -0.46 -1.75 -0.90 -1.56 -1.23 -1.23 
C -1.56 -0.90 -1.75 -0.46 -1.75 0 
C -1.75 0.46 -1.56 0.90 -1.23 1.23 
C -0.90 1.56 -0.46 1.75 0 1.75 
z
"/>
</defs>
<g clip-path="url(#pbe7b45cf09)">
<use href="#mb042315a66" x="268.89" y="119.79" style="fill: #db5c68"/>
<use href="#mb042315a66" x="277.62" y="119.54" style="fill: #db5c68"/>
<use href="#mb042315a66" x="289.16" y="118.55" style="fill: #db5c68"/>
<use href="#mb042315a66" x="297.90" y="117.71" style="fill: #db5c68"/>
<use href="#mb042315a66" x="306.63" y="118.16" style="fill: #db5c68"/>
<use href="#mb042315a66" x="318.17" y="116.83" style="fill: #db5c68"/>
<use href="#mb042315a66" x="326.90" y="116.53" style="fill: #db5c68"/>
<use href="#mb042315a66" x="335.63" y="116.07" style="fill: #db5c68"/>
<use href="#mb042315a66" x="347.18" y="114.54" style="fill: #db5c68"/>
<use href="#mb042315a66" x="355.91" y="114.46" style="fill: #db5c68"/>
</g>
</g>
<g id="line2d_338">
<path d="M 268.89 119.38 
L 277.62 119.41 
L 289.16 119.32 
L 297.90 118.47 
L 306.63 118.42 
L 318.17 117.61 
L 326.90 117.46 
L 335.63 117.44 
L 347.18 116.46 
L 355.91 115.93 
" clip-path="url(#pbe7b45cf09)" style="fill: none; stroke: #db5c68; stroke-width: 0.62; stroke-linecap: square"/>
<g clip-path="url(#pbe7b45cf09)">
<use href="#mb042315a66" x="268.89" y="119.38" style="fill: #db5c68"/>
<use href="#mb042315a66" x="277.62" y="119.41" style="fill: #db5c68"/>
<use href="#mb042315a66" x="289.16" y="119.32" style="fill: #db5c68"/>
<use href="#mb042315a66" x="297.90" y="118.47" style="fill: #db5c68"/>
<use href="#mb042315a66" x="306.63" y="118.42" style="fill: #db5c68"/>
<use href="#mb042315a66" x="318.17" y="117.61" style="fill: #db5c68"/>
<use href="#mb042315a66" x="326.90" y="117.46" style="fill: #db5c68"/>
<use href="#mb042315a66" x="335.63" y="117.44" style="fill: #db5c68"/>
<use href="#mb042315a66" x="347.18" y="116.46" style="fill: #db5c68"/>
<use href="#mb042315a66" x="355.91" y="115.93" style="fill: #db5c68"/>
</g>
</g>
<g id="line2d_339">
<path d="M 268.89 119.81 
L 277.62 120.30 
L 289.16 119.10 
L 297.90 119.53 
L 306.63 119.52 
L 318.17 118.40 
L 326.90 117.60 
L 335.63 118.28 
L 347.18 117.61 
L 355.91 117.08 
" clip-path="url(#pbe7b45cf09)" style="fill: none; stroke: #db5c68; stroke-width: 0.62; stroke-linecap: square"/>
<g clip-path="url(#pbe7b45cf09)">
<use href="#mb042315a66" x="268.89" y="119.81" style="fill: #db5c68"/>
<use href="#mb042315a66" x="277.62" y="120.30" style="fill: #db5c68"/>
<use href="#mb042315a66" x="289.16" y="119.10" style="fill: #db5c68"/>
<use href="#mb042315a66" x="297.90" y="119.53" style="fill: #db5c68"/>
<use href="#mb042315a66" x="306.63" y="119.52" style="fill: #db5c68"/>
<use href="#mb042315a66" x="318.17" y="118.40" style="fill: #db5c68"/>
<use href="#mb042315a66" x="326.90" y="117.60" style="fill: #db5c68"/>
<use href="#mb042315a66" x="335.63" y="118.28" style="fill: #db5c68"/>
<use href="#mb042315a66" x="347.18" y="117.61" style="fill: #db5c68"/>
<use href="#mb042315a66" x="355.91" y="117.08" style="fill: #db5c68"/>
</g>
</g>
<g id="line2d_340">
<path d="M 268.89 120.45 
L 277.62 120.19 
L 289.16 119.36 
L 297.90 119.61 
L 306.63 118.82 
L 318.17 118.93 
L 326.90 118.68 
L 335.63 118.57 
L 347.18 116.60 
L 355.91 117.09 
" clip-path="url(#pbe7b45cf09)" style="fill: none; stroke: #db5c68; stroke-width: 0.62; stroke-linecap: square"/>
<g clip-path="url(#pbe7b45cf09)">
<use href="#mb042315a66" x="268.89" y="120.45" style="fill: #db5c68"/>
<use href="#mb042315a66" x="277.62" y="120.19" style="fill: #db5c68"/>
<use href="#mb042315a66" x="289.16" y="119.36" style="fill: #db5c68"/>
<use href="#mb042315a66" x="297.90" y="119.61" style="fill: #db5c68"/>
<use href="#mb042315a66" x="306.63" y="118.82" style="fill: #db5c68"/>
<use href="#mb042315a66" x="318.17" y="118.93" style="fill: #db5c68"/>
<use href="#mb042315a66" x="326.90" y="118.68" style="fill: #db5c68"/>
<use href="#mb042315a66" x="335.63" y="118.57" style="fill: #db5c68"/>
<use href="#mb042315a66" x="347.18" y="116.60" style="fill: #db5c68"/>
<use href="#mb042315a66" x="355.91" y="117.09" style="fill: #db5c68"/>
</g>
</g>
<g id="line2d_341">
<path d="M 268.89 120.27 
L 277.62 120.18 
L 289.16 119.25 
L 297.90 120.25 
L 306.63 120.28 
L 318.17 119.83 
L 326.90 119.77 
L 335.63 118.76 
L 347.18 118.47 
L 355.91 118.98 
" clip-path="url(#pbe7b45cf09)" style="fill: none; stroke: #db5c68; stroke-width: 0.62; stroke-linecap: square"/>
<g clip-path="url(#pbe7b45cf09)">
<use href="#mb042315a66" x="268.89" y="120.27" style="fill: #db5c68"/>
<use href="#mb042315a66" x="277.62" y="120.18" style="fill: #db5c68"/>
<use href="#mb042315a66" x="289.16" y="119.25" style="fill: #db5c68"/>
<use href="#mb042315a66" x="297.90" y="120.25" style="fill: #db5c68"/>
<use href="#mb042315a66" x="306.63" y="120.28" style="fill: #db5c68"/>
<use href="#mb042315a66" x="318.17" y="119.83" style="fill: #db5c68"/>
<use href="#mb042315a66" x="326.90" y="119.77" style="fill: #db5c68"/>
<use href="#mb042315a66" x="335.63" y="118.76" style="fill: #db5c68"/>
<use href="#mb042315a66" x="347.18" y="118.47" style="fill: #db5c68"/>
<use href="#mb042315a66" x="355.91" y="118.98" style="fill: #db5c68"/>
</g>
</g>
<g id="line2d_342">
<path d="M 268.89 120.03 
L 277.62 121.61 
L 289.16 120.14 
L 297.90 120.63 
L 306.63 119.63 
L 318.17 120.25 
L 326.90 119.75 
L 335.63 120.04 
L 347.18 119.57 
L 355.91 118.42 
" clip-path="url(#pbe7b45cf09)" style="fill: none; stroke: #db5c68; stroke-width: 0.62; stroke-linecap: square"/>
<g clip-path="url(#pbe7b45cf09)">
<use href="#mb042315a66" x="268.89" y="120.03" style="fill: #db5c68"/>
<use href="#mb042315a66" x="277.62" y="121.61" style="fill: #db5c68"/>
<use href="#mb042315a66" x="289.16" y="120.14" style="fill: #db5c68"/>
<use href="#mb042315a66" x="297.90" y="120.63" style="fill: #db5c68"/>
<use href="#mb042315a66" x="306.63" y="119.63" style="fill: #db5c68"/>
<use href="#mb042315a66" x="318.17" y="120.25" style="fill: #db5c68"/>
<use href="#mb042315a66" x="326.90" y="119.75" style="fill: #db5c68"/>
<use href="#mb042315a66" x="335.63" y="120.04" style="fill: #db5c68"/>
<use href="#mb042315a66" x="347.18" y="119.57" style="fill: #db5c68"/>
<use href="#mb042315a66" x="355.91" y="118.42" style="fill: #db5c68"/>
</g>
</g>
<g id="line2d_343">
<path d="M 268.89 120.66 
L 277.62 121.43 
L 289.16 121.33 
L 297.90 120.90 
L 306.63 121.13 
L 318.17 122.04 
L 326.90 122.29 
L 335.63 122.89 
L 347.18 122.94 
L 355.91 122.70 
" clip-path="url(#pbe7b45cf09)" style="fill: none; stroke: #b83289; stroke-width: 0.62; stroke-linecap: square"/>
<defs>
<path id="m151bce7233" d="M 0 1.7 
C 0.45 1.7 0.88 1.52 1.20 1.20 
C 1.52 0.88 1.7 0.45 1.7 0 
C 1.7 -0.45 1.52 -0.88 1.20 -1.20 
C 0.88 -1.52 0.45 -1.7 0 -1.7 
C -0.45 -1.7 -0.88 -1.52 -1.20 -1.20 
C -1.52 -0.88 -1.7 -0.45 -1.7 0 
C -1.7 0.45 -1.52 0.88 -1.20 1.20 
C -0.88 1.52 -0.45 1.7 0 1.7 
z
"/>
</defs>
<g clip-path="url(#pbe7b45cf09)">
<use href="#m151bce7233" x="268.89" y="120.66" style="fill: #b83289"/>
<use href="#m151bce7233" x="277.62" y="121.43" style="fill: #b83289"/>
<use href="#m151bce7233" x="289.16" y="121.33" style="fill: #b83289"/>
<use href="#m151bce7233" x="297.90" y="120.90" style="fill: #b83289"/>
<use href="#m151bce7233" x="306.63" y="121.13" style="fill: #b83289"/>
<use href="#m151bce7233" x="318.17" y="122.04" style="fill: #b83289"/>
<use href="#m151bce7233" x="326.90" y="122.29" style="fill: #b83289"/>
<use href="#m151bce7233" x="335.63" y="122.89" style="fill: #b83289"/>
<use href="#m151bce7233" x="347.18" y="122.94" style="fill: #b83289"/>
<use href="#m151bce7233" x="355.91" y="122.70" style="fill: #b83289"/>
</g>
</g>
<g id="line2d_344">
<path d="M 268.89 121.72 
L 277.62 122.65 
L 289.16 122.69 
L 297.90 122.71 
L 306.63 123.14 
L 318.17 123.48 
L 326.90 124.17 
L 335.63 124.89 
L 347.18 125.24 
L 355.91 126.26 
" clip-path="url(#pbe7b45cf09)" style="fill: none; stroke: #b83289; stroke-width: 0.62; stroke-linecap: square"/>
<g clip-path="url(#pbe7b45cf09)">
<use href="#m151bce7233" x="268.89" y="121.72" style="fill: #b83289"/>
<use href="#m151bce7233" x="277.62" y="122.65" style="fill: #b83289"/>
<use href="#m151bce7233" x="289.16" y="122.69" style="fill: #b83289"/>
<use href="#m151bce7233" x="297.90" y="122.71" style="fill: #b83289"/>
<use href="#m151bce7233" x="306.63" y="123.14" style="fill: #b83289"/>
<use href="#m151bce7233" x="318.17" y="123.48" style="fill: #b83289"/>
<use href="#m151bce7233" x="326.90" y="124.17" style="fill: #b83289"/>
<use href="#m151bce7233" x="335.63" y="124.89" style="fill: #b83289"/>
<use href="#m151bce7233" x="347.18" y="125.24" style="fill: #b83289"/>
<use href="#m151bce7233" x="355.91" y="126.26" style="fill: #b83289"/>
</g>
</g>
<g id="line2d_345">
<path d="M 268.89 123.13 
L 277.62 123.28 
L 289.16 124.48 
L 297.90 124.30 
L 306.63 124.76 
L 318.17 125.37 
L 326.90 126.32 
L 335.63 125.96 
L 347.18 126.01 
L 355.91 126.63 
" clip-path="url(#pbe7b45cf09)" style="fill: none; stroke: #b83289; stroke-width: 0.62; stroke-linecap: square"/>
<g clip-path="url(#pbe7b45cf09)">
<use href="#m151bce7233" x="268.89" y="123.13" style="fill: #b83289"/>
<use href="#m151bce7233" x="277.62" y="123.28" style="fill: #b83289"/>
<use href="#m151bce7233" x="289.16" y="124.48" style="fill: #b83289"/>
<use href="#m151bce7233" x="297.90" y="124.30" style="fill: #b83289"/>
<use href="#m151bce7233" x="306.63" y="124.76" style="fill: #b83289"/>
<use href="#m151bce7233" x="318.17" y="125.37" style="fill: #b83289"/>
<use href="#m151bce7233" x="326.90" y="126.32" style="fill: #b83289"/>
<use href="#m151bce7233" x="335.63" y="125.96" style="fill: #b83289"/>
<use href="#m151bce7233" x="347.18" y="126.01" style="fill: #b83289"/>
<use href="#m151bce7233" x="355.91" y="126.63" style="fill: #b83289"/>
</g>
</g>
<g id="line2d_346">
<path d="M 268.89 123.54 
L 277.62 125.56 
L 289.16 125.34 
L 297.90 125.72 
L 306.63 126.32 
L 318.17 126.78 
L 326.90 127.66 
L 335.63 128.65 
L 347.18 129.53 
L 355.91 130.01 
" clip-path="url(#pbe7b45cf09)" style="fill: none; stroke: #b83289; stroke-width: 0.62; stroke-linecap: square"/>
<g clip-path="url(#pbe7b45cf09)">
<use href="#m151bce7233" x="268.89" y="123.54" style="fill: #b83289"/>
<use href="#m151bce7233" x="277.62" y="125.56" style="fill: #b83289"/>
<use href="#m151bce7233" x="289.16" y="125.34" style="fill: #b83289"/>
<use href="#m151bce7233" x="297.90" y="125.72" style="fill: #b83289"/>
<use href="#m151bce7233" x="306.63" y="126.32" style="fill: #b83289"/>
<use href="#m151bce7233" x="318.17" y="126.78" style="fill: #b83289"/>
<use href="#m151bce7233" x="326.90" y="127.66" style="fill: #b83289"/>
<use href="#m151bce7233" x="335.63" y="128.65" style="fill: #b83289"/>
<use href="#m151bce7233" x="347.18" y="129.53" style="fill: #b83289"/>
<use href="#m151bce7233" x="355.91" y="130.01" style="fill: #b83289"/>
</g>
</g>
<g id="line2d_347">
<path d="M 268.89 124.62 
L 277.62 124.75 
L 289.16 126.35 
L 297.90 127.04 
L 306.63 127.74 
L 318.17 128.41 
L 326.90 129.85 
L 335.63 130.18 
L 347.18 132.42 
L 355.91 133.10 
" clip-path="url(#pbe7b45cf09)" style="fill: none; stroke: #b83289; stroke-width: 0.62; stroke-linecap: square"/>
<g clip-path="url(#pbe7b45cf09)">
<use href="#m151bce7233" x="268.89" y="124.62" style="fill: #b83289"/>
<use href="#m151bce7233" x="277.62" y="124.75" style="fill: #b83289"/>
<use href="#m151bce7233" x="289.16" y="126.35" style="fill: #b83289"/>
<use href="#m151bce7233" x="297.90" y="127.04" style="fill: #b83289"/>
<use href="#m151bce7233" x="306.63" y="127.74" style="fill: #b83289"/>
<use href="#m151bce7233" x="318.17" y="128.41" style="fill: #b83289"/>
<use href="#m151bce7233" x="326.90" y="129.85" style="fill: #b83289"/>
<use href="#m151bce7233" x="335.63" y="130.18" style="fill: #b83289"/>
<use href="#m151bce7233" x="347.18" y="132.42" style="fill: #b83289"/>
<use href="#m151bce7233" x="355.91" y="133.10" style="fill: #b83289"/>
</g>
</g>
<g id="line2d_348">
<path d="M 268.89 123.06 
L 277.62 124.04 
L 289.16 126.98 
L 297.90 128.61 
L 306.63 129.58 
L 318.17 131.99 
L 326.90 133.54 
L 335.63 135.64 
L 347.18 136.83 
L 355.91 138.56 
" clip-path="url(#pbe7b45cf09)" style="fill: none; stroke: #8b0aa5; stroke-width: 0.62; stroke-linecap: square"/>
<defs>
<path id="m3beeb8caa1" d="M 0 1.7 
C 0.45 1.7 0.88 1.52 1.20 1.20 
C 1.52 0.88 1.7 0.45 1.7 0 
C 1.7 -0.45 1.52 -0.88 1.20 -1.20 
C 0.88 -1.52 0.45 -1.7 0 -1.7 
C -0.45 -1.7 -0.88 -1.52 -1.20 -1.20 
C -1.52 -0.88 -1.7 -0.45 -1.7 0 
C -1.7 0.45 -1.52 0.88 -1.20 1.20 
C -0.88 1.52 -0.45 1.7 0 1.7 
z
"/>
</defs>
<g clip-path="url(#pbe7b45cf09)">
<use href="#m3beeb8caa1" x="268.89" y="123.06" style="fill: #8b0aa5"/>
<use href="#m3beeb8caa1" x="277.62" y="124.04" style="fill: #8b0aa5"/>
<use href="#m3beeb8caa1" x="289.16" y="126.98" style="fill: #8b0aa5"/>
<use href="#m3beeb8caa1" x="297.90" y="128.61" style="fill: #8b0aa5"/>
<use href="#m3beeb8caa1" x="306.63" y="129.58" style="fill: #8b0aa5"/>
<use href="#m3beeb8caa1" x="318.17" y="131.99" style="fill: #8b0aa5"/>
<use href="#m3beeb8caa1" x="326.90" y="133.54" style="fill: #8b0aa5"/>
<use href="#m3beeb8caa1" x="335.63" y="135.64" style="fill: #8b0aa5"/>
<use href="#m3beeb8caa1" x="347.18" y="136.83" style="fill: #8b0aa5"/>
<use href="#m3beeb8caa1" x="355.91" y="138.56" style="fill: #8b0aa5"/>
</g>
</g>
<g id="line2d_349">
<path d="M 268.89 125.82 
L 277.62 126.47 
L 289.16 129.06 
L 297.90 130.55 
L 306.63 132.20 
L 318.17 134.92 
L 326.90 137.22 
L 335.63 138.17 
L 347.18 140.95 
L 355.91 142.56 
" clip-path="url(#pbe7b45cf09)" style="fill: none; stroke: #8b0aa5; stroke-width: 0.62; stroke-linecap: square"/>
<g clip-path="url(#pbe7b45cf09)">
<use href="#m3beeb8caa1" x="268.89" y="125.82" style="fill: #8b0aa5"/>
<use href="#m3beeb8caa1" x="277.62" y="126.47" style="fill: #8b0aa5"/>
<use href="#m3beeb8caa1" x="289.16" y="129.06" style="fill: #8b0aa5"/>
<use href="#m3beeb8caa1" x="297.90" y="130.55" style="fill: #8b0aa5"/>
<use href="#m3beeb8caa1" x="306.63" y="132.20" style="fill: #8b0aa5"/>
<use href="#m3beeb8caa1" x="318.17" y="134.92" style="fill: #8b0aa5"/>
<use href="#m3beeb8caa1" x="326.90" y="137.22" style="fill: #8b0aa5"/>
<use href="#m3beeb8caa1" x="335.63" y="138.17" style="fill: #8b0aa5"/>
<use href="#m3beeb8caa1" x="347.18" y="140.95" style="fill: #8b0aa5"/>
<use href="#m3beeb8caa1" x="355.91" y="142.56" style="fill: #8b0aa5"/>
</g>
</g>
<g id="line2d_350">
<path d="M 268.89 128.22 
L 277.62 128.09 
L 289.16 130.23 
L 297.90 131.51 
L 306.63 132.90 
L 318.17 136.10 
L 326.90 138.73 
L 335.63 140.33 
L 347.18 143.12 
L 355.91 144.91 
" clip-path="url(#pbe7b45cf09)" style="fill: none; stroke: #8b0aa5; stroke-width: 0.62; stroke-linecap: square"/>
<g clip-path="url(#pbe7b45cf09)">
<use href="#m3beeb8caa1" x="268.89" y="128.22" style="fill: #8b0aa5"/>
<use href="#m3beeb8caa1" x="277.62" y="128.09" style="fill: #8b0aa5"/>
<use href="#m3beeb8caa1" x="289.16" y="130.23" style="fill: #8b0aa5"/>
<use href="#m3beeb8caa1" x="297.90" y="131.51" style="fill: #8b0aa5"/>
<use href="#m3beeb8caa1" x="306.63" y="132.90" style="fill: #8b0aa5"/>
<use href="#m3beeb8caa1" x="318.17" y="136.10" style="fill: #8b0aa5"/>
<use href="#m3beeb8caa1" x="326.90" y="138.73" style="fill: #8b0aa5"/>
<use href="#m3beeb8caa1" x="335.63" y="140.33" style="fill: #8b0aa5"/>
<use href="#m3beeb8caa1" x="347.18" y="143.12" style="fill: #8b0aa5"/>
<use href="#m3beeb8caa1" x="355.91" y="144.91" style="fill: #8b0aa5"/>
</g>
</g>
<g id="line2d_351">
<path d="M 268.89 129.16 
L 277.62 131.03 
L 289.16 131.93 
L 297.90 133.80 
L 306.63 135.82 
L 318.17 138.54 
L 326.90 141.01 
L 335.63 143.44 
L 347.18 147.20 
L 355.91 149.16 
" clip-path="url(#pbe7b45cf09)" style="fill: none; stroke: #8b0aa5; stroke-width: 0.62; stroke-linecap: square"/>
<g clip-path="url(#pbe7b45cf09)">
<use href="#m3beeb8caa1" x="268.89" y="129.16" style="fill: #8b0aa5"/>
<use href="#m3beeb8caa1" x="277.62" y="131.03" style="fill: #8b0aa5"/>
<use href="#m3beeb8caa1" x="289.16" y="131.93" style="fill: #8b0aa5"/>
<use href="#m3beeb8caa1" x="297.90" y="133.80" style="fill: #8b0aa5"/>
<use href="#m3beeb8caa1" x="306.63" y="135.82" style="fill: #8b0aa5"/>
<use href="#m3beeb8caa1" x="318.17" y="138.54" style="fill: #8b0aa5"/>
<use href="#m3beeb8caa1" x="326.90" y="141.01" style="fill: #8b0aa5"/>
<use href="#m3beeb8caa1" x="335.63" y="143.44" style="fill: #8b0aa5"/>
<use href="#m3beeb8caa1" x="347.18" y="147.20" style="fill: #8b0aa5"/>
<use href="#m3beeb8caa1" x="355.91" y="149.16" style="fill: #8b0aa5"/>
</g>
</g>
<g id="line2d_352">
<path d="M 268.89 129.93 
L 277.62 132.01 
L 289.16 135.04 
L 297.90 136.33 
L 306.63 139.16 
L 318.17 142.21 
L 326.90 144.67 
L 335.63 146.93 
L 347.18 150.39 
L 355.91 152.74 
" clip-path="url(#pbe7b45cf09)" style="fill: none; stroke: #8b0aa5; stroke-width: 0.62; stroke-linecap: square"/>
<g clip-path="url(#pbe7b45cf09)">
<use href="#m3beeb8caa1" x="268.89" y="129.93" style="fill: #8b0aa5"/>
<use href="#m3beeb8caa1" x="277.62" y="132.01" style="fill: #8b0aa5"/>
<use href="#m3beeb8caa1" x="289.16" y="135.04" style="fill: #8b0aa5"/>
<use href="#m3beeb8caa1" x="297.90" y="136.33" style="fill: #8b0aa5"/>
<use href="#m3beeb8caa1" x="306.63" y="139.16" style="fill: #8b0aa5"/>
<use href="#m3beeb8caa1" x="318.17" y="142.21" style="fill: #8b0aa5"/>
<use href="#m3beeb8caa1" x="326.90" y="144.67" style="fill: #8b0aa5"/>
<use href="#m3beeb8caa1" x="335.63" y="146.93" style="fill: #8b0aa5"/>
<use href="#m3beeb8caa1" x="347.18" y="150.39" style="fill: #8b0aa5"/>
<use href="#m3beeb8caa1" x="355.91" y="152.74" style="fill: #8b0aa5"/>
</g>
</g>
<g id="line2d_353">
<path d="M 268.89 127.21 
L 277.62 128.95 
L 289.16 131.96 
L 297.90 134.67 
L 306.63 136.86 
L 318.17 140.51 
L 326.90 142.61 
L 335.63 145.71 
L 347.18 148.89 
L 355.91 151.11 
" clip-path="url(#pbe7b45cf09)" style="fill: none; stroke: #5302a3; stroke-width: 0.62; stroke-linecap: square"/>
<defs>
<path id="m33e56838c6" d="M 0 1.7 
C 0.45 1.7 0.88 1.52 1.20 1.20 
C 1.52 0.88 1.7 0.45 1.7 0 
C 1.7 -0.45 1.52 -0.88 1.20 -1.20 
C 0.88 -1.52 0.45 -1.7 0 -1.7 
C -0.45 -1.7 -0.88 -1.52 -1.20 -1.20 
C -1.52 -0.88 -1.7 -0.45 -1.7 0 
C -1.7 0.45 -1.52 0.88 -1.20 1.20 
C -0.88 1.52 -0.45 1.7 0 1.7 
z
"/>
</defs>
<g clip-path="url(#pbe7b45cf09)">
<use href="#m33e56838c6" x="268.89" y="127.21" style="fill: #5302a3"/>
<use href="#m33e56838c6" x="277.62" y="128.95" style="fill: #5302a3"/>
<use href="#m33e56838c6" x="289.16" y="131.96" style="fill: #5302a3"/>
<use href="#m33e56838c6" x="297.90" y="134.67" style="fill: #5302a3"/>
<use href="#m33e56838c6" x="306.63" y="136.86" style="fill: #5302a3"/>
<use href="#m33e56838c6" x="318.17" y="140.51" style="fill: #5302a3"/>
<use href="#m33e56838c6" x="326.90" y="142.61" style="fill: #5302a3"/>
<use href="#m33e56838c6" x="335.63" y="145.71" style="fill: #5302a3"/>
<use href="#m33e56838c6" x="347.18" y="148.89" style="fill: #5302a3"/>
<use href="#m33e56838c6" x="355.91" y="151.11" style="fill: #5302a3"/>
</g>
</g>
<g id="line2d_354">
<path d="M 268.89 128.44 
L 277.62 130.67 
L 289.16 132.91 
L 297.90 136.40 
L 306.63 139.10 
L 318.17 143.08 
L 326.90 146.75 
L 335.63 150.15 
L 347.18 154.61 
L 355.91 158.86 
" clip-path="url(#pbe7b45cf09)" style="fill: none; stroke: #5302a3; stroke-width: 0.62; stroke-linecap: square"/>
<g clip-path="url(#pbe7b45cf09)">
<use href="#m33e56838c6" x="268.89" y="128.44" style="fill: #5302a3"/>
<use href="#m33e56838c6" x="277.62" y="130.67" style="fill: #5302a3"/>
<use href="#m33e56838c6" x="289.16" y="132.91" style="fill: #5302a3"/>
<use href="#m33e56838c6" x="297.90" y="136.40" style="fill: #5302a3"/>
<use href="#m33e56838c6" x="306.63" y="139.10" style="fill: #5302a3"/>
<use href="#m33e56838c6" x="318.17" y="143.08" style="fill: #5302a3"/>
<use href="#m33e56838c6" x="326.90" y="146.75" style="fill: #5302a3"/>
<use href="#m33e56838c6" x="335.63" y="150.15" style="fill: #5302a3"/>
<use href="#m33e56838c6" x="347.18" y="154.61" style="fill: #5302a3"/>
<use href="#m33e56838c6" x="355.91" y="158.86" style="fill: #5302a3"/>
</g>
</g>
<g id="line2d_355">
<path d="M 268.89 130.33 
L 277.62 131.90 
L 289.16 134.60 
L 297.90 136.32 
L 306.63 138.39 
L 318.17 142.26 
L 326.90 145.61 
L 335.63 149.19 
L 347.18 153.14 
L 355.91 157.22 
" clip-path="url(#pbe7b45cf09)" style="fill: none; stroke: #5302a3; stroke-width: 0.62; stroke-linecap: square"/>
<g clip-path="url(#pbe7b45cf09)">
<use href="#m33e56838c6" x="268.89" y="130.33" style="fill: #5302a3"/>
<use href="#m33e56838c6" x="277.62" y="131.90" style="fill: #5302a3"/>
<use href="#m33e56838c6" x="289.16" y="134.60" style="fill: #5302a3"/>
<use href="#m33e56838c6" x="297.90" y="136.32" style="fill: #5302a3"/>
<use href="#m33e56838c6" x="306.63" y="138.39" style="fill: #5302a3"/>
<use href="#m33e56838c6" x="318.17" y="142.26" style="fill: #5302a3"/>
<use href="#m33e56838c6" x="326.90" y="145.61" style="fill: #5302a3"/>
<use href="#m33e56838c6" x="335.63" y="149.19" style="fill: #5302a3"/>
<use href="#m33e56838c6" x="347.18" y="153.14" style="fill: #5302a3"/>
<use href="#m33e56838c6" x="355.91" y="157.22" style="fill: #5302a3"/>
</g>
</g>
<g id="line2d_356">
<path d="M 268.89 130.22 
L 277.62 133.23 
L 289.16 136.27 
L 297.90 139.82 
L 306.63 142.28 
L 318.17 147.02 
L 326.90 150.05 
L 335.63 152.25 
L 347.18 157.30 
L 355.91 161.15 
" clip-path="url(#pbe7b45cf09)" style="fill: none; stroke: #5302a3; stroke-width: 0.62; stroke-linecap: square"/>
<g clip-path="url(#pbe7b45cf09)">
<use href="#m33e56838c6" x="268.89" y="130.22" style="fill: #5302a3"/>
<use href="#m33e56838c6" x="277.62" y="133.23" style="fill: #5302a3"/>
<use href="#m33e56838c6" x="289.16" y="136.27" style="fill: #5302a3"/>
<use href="#m33e56838c6" x="297.90" y="139.82" style="fill: #5302a3"/>
<use href="#m33e56838c6" x="306.63" y="142.28" style="fill: #5302a3"/>
<use href="#m33e56838c6" x="318.17" y="147.02" style="fill: #5302a3"/>
<use href="#m33e56838c6" x="326.90" y="150.05" style="fill: #5302a3"/>
<use href="#m33e56838c6" x="335.63" y="152.25" style="fill: #5302a3"/>
<use href="#m33e56838c6" x="347.18" y="157.30" style="fill: #5302a3"/>
<use href="#m33e56838c6" x="355.91" y="161.15" style="fill: #5302a3"/>
</g>
</g>
<g id="line2d_357">
<path d="M 268.89 130.93 
L 277.62 135.00 
L 289.16 139.99 
L 297.90 142.86 
L 306.63 146.20 
L 318.17 150.75 
L 326.90 153.75 
L 335.63 157.63 
L 347.18 162.05 
L 355.91 166.30 
" clip-path="url(#pbe7b45cf09)" style="fill: none; stroke: #5302a3; stroke-width: 0.62; stroke-linecap: square"/>
<g clip-path="url(#pbe7b45cf09)">
<use href="#m33e56838c6" x="268.89" y="130.93" style="fill: #5302a3"/>
<use href="#m33e56838c6" x="277.62" y="135.00" style="fill: #5302a3"/>
<use href="#m33e56838c6" x="289.16" y="139.99" style="fill: #5302a3"/>
<use href="#m33e56838c6" x="297.90" y="142.86" style="fill: #5302a3"/>
<use href="#m33e56838c6" x="306.63" y="146.20" style="fill: #5302a3"/>
<use href="#m33e56838c6" x="318.17" y="150.75" style="fill: #5302a3"/>
<use href="#m33e56838c6" x="326.90" y="153.75" style="fill: #5302a3"/>
<use href="#m33e56838c6" x="335.63" y="157.63" style="fill: #5302a3"/>
<use href="#m33e56838c6" x="347.18" y="162.05" style="fill: #5302a3"/>
<use href="#m33e56838c6" x="355.91" y="166.30" style="fill: #5302a3"/>
</g>
</g>
<g id="line2d_358">
<path d="M 268.89 130.12 
L 277.62 133.65 
L 289.16 137.28 
L 297.90 140.73 
L 306.63 145.07 
L 318.17 149.94 
L 326.90 154.22 
L 335.63 158.66 
L 347.18 164.38 
L 355.91 168.59 
" clip-path="url(#pbe7b45cf09)" style="fill: none; stroke: #0d0887; stroke-width: 0.62; stroke-linecap: square"/>
<defs>
<path id="m10411a2002" d="M 0 1.7 
C 0.45 1.7 0.88 1.52 1.20 1.20 
C 1.52 0.88 1.7 0.45 1.7 0 
C 1.7 -0.45 1.52 -0.88 1.20 -1.20 
C 0.88 -1.52 0.45 -1.7 0 -1.7 
C -0.45 -1.7 -0.88 -1.52 -1.20 -1.20 
C -1.52 -0.88 -1.7 -0.45 -1.7 0 
C -1.7 0.45 -1.52 0.88 -1.20 1.20 
C -0.88 1.52 -0.45 1.7 0 1.7 
z
"/>
</defs>
<g clip-path="url(#pbe7b45cf09)">
<use href="#m10411a2002" x="268.89" y="130.12" style="fill: #0d0887"/>
<use href="#m10411a2002" x="277.62" y="133.65" style="fill: #0d0887"/>
<use href="#m10411a2002" x="289.16" y="137.28" style="fill: #0d0887"/>
<use href="#m10411a2002" x="297.90" y="140.73" style="fill: #0d0887"/>
<use href="#m10411a2002" x="306.63" y="145.07" style="fill: #0d0887"/>
<use href="#m10411a2002" x="318.17" y="149.94" style="fill: #0d0887"/>
<use href="#m10411a2002" x="326.90" y="154.22" style="fill: #0d0887"/>
<use href="#m10411a2002" x="335.63" y="158.66" style="fill: #0d0887"/>
<use href="#m10411a2002" x="347.18" y="164.38" style="fill: #0d0887"/>
<use href="#m10411a2002" x="355.91" y="168.59" style="fill: #0d0887"/>
</g>
</g>
<g id="line2d_359">
<path d="M 268.89 132.18 
L 277.62 135.19 
L 289.16 140.45 
L 297.90 144.28 
L 306.63 148.40 
L 318.17 154.41 
L 326.90 158.19 
L 335.63 163.94 
L 347.18 169.35 
L 355.91 174.43 
" clip-path="url(#pbe7b45cf09)" style="fill: none; stroke: #0d0887; stroke-width: 0.62; stroke-linecap: square"/>
<g clip-path="url(#pbe7b45cf09)">
<use href="#m10411a2002" x="268.89" y="132.18" style="fill: #0d0887"/>
<use href="#m10411a2002" x="277.62" y="135.19" style="fill: #0d0887"/>
<use href="#m10411a2002" x="289.16" y="140.45" style="fill: #0d0887"/>
<use href="#m10411a2002" x="297.90" y="144.28" style="fill: #0d0887"/>
<use href="#m10411a2002" x="306.63" y="148.40" style="fill: #0d0887"/>
<use href="#m10411a2002" x="318.17" y="154.41" style="fill: #0d0887"/>
<use href="#m10411a2002" x="326.90" y="158.19" style="fill: #0d0887"/>
<use href="#m10411a2002" x="335.63" y="163.94" style="fill: #0d0887"/>
<use href="#m10411a2002" x="347.18" y="169.35" style="fill: #0d0887"/>
<use href="#m10411a2002" x="355.91" y="174.43" style="fill: #0d0887"/>
</g>
</g>
<g id="line2d_360">
<path d="M 268.89 134.43 
L 277.62 138.18 
L 289.16 143.14 
L 297.90 147.86 
L 306.63 152.85 
L 318.17 159.96 
L 326.90 165.01 
L 335.63 170.28 
L 347.18 177.75 
L 355.91 182.82 
" clip-path="url(#pbe7b45cf09)" style="fill: none; stroke: #0d0887; stroke-width: 0.62; stroke-linecap: square"/>
<g clip-path="url(#pbe7b45cf09)">
<use href="#m10411a2002" x="268.89" y="134.43" style="fill: #0d0887"/>
<use href="#m10411a2002" x="277.62" y="138.18" style="fill: #0d0887"/>
<use href="#m10411a2002" x="289.16" y="143.14" style="fill: #0d0887"/>
<use href="#m10411a2002" x="297.90" y="147.86" style="fill: #0d0887"/>
<use href="#m10411a2002" x="306.63" y="152.85" style="fill: #0d0887"/>
<use href="#m10411a2002" x="318.17" y="159.96" style="fill: #0d0887"/>
<use href="#m10411a2002" x="326.90" y="165.01" style="fill: #0d0887"/>
<use href="#m10411a2002" x="335.63" y="170.28" style="fill: #0d0887"/>
<use href="#m10411a2002" x="347.18" y="177.75" style="fill: #0d0887"/>
<use href="#m10411a2002" x="355.91" y="182.82" style="fill: #0d0887"/>
</g>
</g>
<g id="line2d_361">
<path d="M 268.89 137.43 
L 277.62 139.56 
L 289.16 144.14 
L 297.90 148.41 
L 306.63 152.30 
L 318.17 159.05 
L 326.90 164.03 
L 335.63 169.46 
L 347.18 175.93 
L 355.91 181.25 
" clip-path="url(#pbe7b45cf09)" style="fill: none; stroke: #0d0887; stroke-width: 0.62; stroke-linecap: square"/>
<g clip-path="url(#pbe7b45cf09)">
<use href="#m10411a2002" x="268.89" y="137.43" style="fill: #0d0887"/>
<use href="#m10411a2002" x="277.62" y="139.56" style="fill: #0d0887"/>
<use href="#m10411a2002" x="289.16" y="144.14" style="fill: #0d0887"/>
<use href="#m10411a2002" x="297.90" y="148.41" style="fill: #0d0887"/>
<use href="#m10411a2002" x="306.63" y="152.30" style="fill: #0d0887"/>
<use href="#m10411a2002" x="318.17" y="159.05" style="fill: #0d0887"/>
<use href="#m10411a2002" x="326.90" y="164.03" style="fill: #0d0887"/>
<use href="#m10411a2002" x="335.63" y="169.46" style="fill: #0d0887"/>
<use href="#m10411a2002" x="347.18" y="175.93" style="fill: #0d0887"/>
<use href="#m10411a2002" x="355.91" y="181.25" style="fill: #0d0887"/>
</g>
</g>
<g id="line2d_362">
<path d="M 268.89 137.80 
L 277.62 142.09 
L 289.16 147.49 
L 297.90 152.15 
L 306.63 157.23 
L 318.17 165.15 
L 326.90 170.92 
L 335.63 176.85 
L 347.18 184.85 
L 355.91 191.51 
" clip-path="url(#pbe7b45cf09)" style="fill: none; stroke: #0d0887; stroke-width: 0.62; stroke-linecap: square"/>
<g clip-path="url(#pbe7b45cf09)">
<use href="#m10411a2002" x="268.89" y="137.80" style="fill: #0d0887"/>
<use href="#m10411a2002" x="277.62" y="142.09" style="fill: #0d0887"/>
<use href="#m10411a2002" x="289.16" y="147.49" style="fill: #0d0887"/>
<use href="#m10411a2002" x="297.90" y="152.15" style="fill: #0d0887"/>
<use href="#m10411a2002" x="306.63" y="157.23" style="fill: #0d0887"/>
<use href="#m10411a2002" x="318.17" y="165.15" style="fill: #0d0887"/>
<use href="#m10411a2002" x="326.90" y="170.92" style="fill: #0d0887"/>
<use href="#m10411a2002" x="335.63" y="176.85" style="fill: #0d0887"/>
<use href="#m10411a2002" x="347.18" y="184.85" style="fill: #0d0887"/>
<use href="#m10411a2002" x="355.91" y="191.51" style="fill: #0d0887"/>
</g>
</g>
</g>
<g id="axes_8">
<g id="patch_37">
<path d="M 356.04 191.16 
L 437.90 191.16 
L 437.90 100.00 
L 356.04 100.00 
z
" style="fill: #ffffff"/>
</g>
<g id="matplotlib.axis_15">
<g id="xtick_94">
<g id="line2d_363">
<path d="M 379.92 191.16 
L 379.92 100.00 
" clip-path="url(#p800a5759c8)" style="fill: none; stroke: #b0b0b0; stroke-width: 0.8; stroke-linecap: square"/>
</g>
<g id="line2d_364">
<g>
<use href="#m1cd49489bd" x="379.92" y="191.16" style="stroke: #000000; stroke-width: 0.8"/>
</g>
</g>
</g>
<g id="xtick_95">
<g id="line2d_365">
<path d="M 408.91 191.16 
L 408.91 100.00 
" clip-path="url(#p800a5759c8)" style="fill: none; stroke: #b0b0b0; stroke-width: 0.8; stroke-linecap: square"/>
</g>
<g id="line2d_366">
<g>
<use href="#m1cd49489bd" x="408.91" y="191.16" style="stroke: #000000; stroke-width: 0.8"/>
</g>
</g>
</g>
<g id="xtick_96">
<g id="line2d_367">
<path d="M 437.90 191.16 
L 437.90 100.00 
" clip-path="url(#p800a5759c8)" style="fill: none; stroke: #b0b0b0; stroke-width: 0.8; stroke-linecap: square"/>
</g>
<g id="line2d_368">
<g>
<use href="#m1cd49489bd" x="437.90" y="191.16" style="stroke: #000000; stroke-width: 0.8"/>
</g>
</g>
</g>
<g id="xtick_97">
<g id="line2d_369">
<g>
<use href="#mf07962e97d" x="359.66" y="191.16" style="stroke: #000000; stroke-width: 0.6"/>
</g>
</g>
</g>
<g id="xtick_98">
<g id="line2d_370">
<g>
<use href="#mf07962e97d" x="364.76" y="191.16" style="stroke: #000000; stroke-width: 0.6"/>
</g>
</g>
</g>
<g id="xtick_99">
<g id="line2d_371">
<g>
<use href="#mf07962e97d" x="368.38" y="191.16" style="stroke: #000000; stroke-width: 0.6"/>
</g>
</g>
</g>
<g id="xtick_100">
<g id="line2d_372">
<g>
<use href="#mf07962e97d" x="371.19" y="191.16" style="stroke: #000000; stroke-width: 0.6"/>
</g>
</g>
</g>
<g id="xtick_101">
<g id="line2d_373">
<g>
<use href="#mf07962e97d" x="373.49" y="191.16" style="stroke: #000000; stroke-width: 0.6"/>
</g>
</g>
</g>
<g id="xtick_102">
<g id="line2d_374">
<g>
<use href="#mf07962e97d" x="375.43" y="191.16" style="stroke: #000000; stroke-width: 0.6"/>
</g>
</g>
</g>
<g id="xtick_103">
<g id="line2d_375">
<g>
<use href="#mf07962e97d" x="377.11" y="191.16" style="stroke: #000000; stroke-width: 0.6"/>
</g>
</g>
</g>
<g id="xtick_104">
<g id="line2d_376">
<g>
<use href="#mf07962e97d" x="378.59" y="191.16" style="stroke: #000000; stroke-width: 0.6"/>
</g>
</g>
</g>
<g id="xtick_105">
<g id="line2d_377">
<g>
<use href="#mf07962e97d" x="388.65" y="191.16" style="stroke: #000000; stroke-width: 0.6"/>
</g>
</g>
</g>
<g id="xtick_106">
<g id="line2d_378">
<g>
<use href="#mf07962e97d" x="393.75" y="191.16" style="stroke: #000000; stroke-width: 0.6"/>
</g>
</g>
</g>
<g id="xtick_107">
<g id="line2d_379">
<g>
<use href="#mf07962e97d" x="397.37" y="191.16" style="stroke: #000000; stroke-width: 0.6"/>
</g>
</g>
</g>
<g id="xtick_108">
<g id="line2d_380">
<g>
<use href="#mf07962e97d" x="400.18" y="191.16" style="stroke: #000000; stroke-width: 0.6"/>
</g>
</g>
</g>
<g id="xtick_109">
<g id="line2d_381">
<g>
<use href="#mf07962e97d" x="402.48" y="191.16" style="stroke: #000000; stroke-width: 0.6"/>
</g>
</g>
</g>
<g id="xtick_110">
<g id="line2d_382">
<g>
<use href="#mf07962e97d" x="404.42" y="191.16" style="stroke: #000000; stroke-width: 0.6"/>
</g>
</g>
</g>
<g id="xtick_111">
<g id="line2d_383">
<g>
<use href="#mf07962e97d" x="406.10" y="191.16" style="stroke: #000000; stroke-width: 0.6"/>
</g>
</g>
</g>
<g id="xtick_112">
<g id="line2d_384">
<g>
<use href="#mf07962e97d" x="407.58" y="191.16" style="stroke: #000000; stroke-width: 0.6"/>
</g>
</g>
</g>
<g id="xtick_113">
<g id="line2d_385">
<g>
<use href="#mf07962e97d" x="417.64" y="191.16" style="stroke: #000000; stroke-width: 0.6"/>
</g>
</g>
</g>
<g id="xtick_114">
<g id="line2d_386">
<g>
<use href="#mf07962e97d" x="422.74" y="191.16" style="stroke: #000000; stroke-width: 0.6"/>
</g>
</g>
</g>
<g id="xtick_115">
<g id="line2d_387">
<g>
<use href="#mf07962e97d" x="426.36" y="191.16" style="stroke: #000000; stroke-width: 0.6"/>
</g>
</g>
</g>
<g id="xtick_116">
<g id="line2d_388">
<g>
<use href="#mf07962e97d" x="429.17" y="191.16" style="stroke: #000000; stroke-width: 0.6"/>
</g>
</g>
</g>
<g id="xtick_117">
<g id="line2d_389">
<g>
<use href="#mf07962e97d" x="431.47" y="191.16" style="stroke: #000000; stroke-width: 0.6"/>
</g>
</g>
</g>
<g id="xtick_118">
<g id="line2d_390">
<g>
<use href="#mf07962e97d" x="433.41" y="191.16" style="stroke: #000000; stroke-width: 0.6"/>
</g>
</g>
</g>
<g id="xtick_119">
<g id="line2d_391">
<g>
<use href="#mf07962e97d" x="435.09" y="191.16" style="stroke: #000000; stroke-width: 0.6"/>
</g>
</g>
</g>
<g id="xtick_120">
<g id="line2d_392">
<g>
<use href="#mf07962e97d" x="436.57" y="191.16" style="stroke: #000000; stroke-width: 0.6"/>
</g>
</g>
</g>
</g>
<g id="matplotlib.axis_16">
<g id="ytick_98">
<g id="line2d_393">
<path d="M 356.04 120.89 
L 437.90 120.89 
" clip-path="url(#p800a5759c8)" style="fill: none; stroke: #b0b0b0; stroke-width: 0.8; stroke-linecap: square"/>
</g>
<g id="line2d_394">
<g>
<use href="#m6b28ea1482" x="356.04" y="120.89" style="stroke: #000000; stroke-width: 0.8"/>
</g>
</g>
</g>
<g id="ytick_99">
<g id="line2d_395">
<path d="M 356.04 147.40 
L 437.90 147.40 
" clip-path="url(#p800a5759c8)" style="fill: none; stroke: #b0b0b0; stroke-width: 0.8; stroke-linecap: square"/>
</g>
<g id="line2d_396">
<g>
<use href="#m6b28ea1482" x="356.04" y="147.40" style="stroke: #000000; stroke-width: 0.8"/>
</g>
</g>
</g>
<g id="ytick_100">
<g id="line2d_397">
<path d="M 356.04 173.92 
L 437.90 173.92 
" clip-path="url(#p800a5759c8)" style="fill: none; stroke: #b0b0b0; stroke-width: 0.8; stroke-linecap: square"/>
</g>
<g id="line2d_398">
<g>
<use href="#m6b28ea1482" x="356.04" y="173.92" style="stroke: #000000; stroke-width: 0.8"/>
</g>
</g>
</g>
</g>
<g id="FillBetweenPolyCollection_43">
<defs>
<path id="m1976b1a85c" d="M 350.93 -123.07 
L 350.93 -118.54 
L 359.66 -117.55 
L 371.19 -116.85 
L 379.92 -116.16 
L 388.65 -115.38 
L 400.18 -114.34 
L 408.91 -113.88 
L 417.64 -113.09 
L 429.17 -112.32 
L 437.90 -111.27 
L 437.90 -114.19 
L 437.90 -114.19 
L 429.17 -115.11 
L 417.64 -116.01 
L 408.91 -116.53 
L 400.18 -118.07 
L 388.65 -118.42 
L 379.92 -119.24 
L 371.19 -120.21 
L 359.66 -121.80 
L 350.93 -123.07 
z
"/>
</defs>
<g clip-path="url(#p800a5759c8)">
<use href="#m1976b1a85c" x="0" y="223.2" style="fill: #f0f921; fill-opacity: 0.3"/>
</g>
</g>
<g id="FillBetweenPolyCollection_44">
<defs>
<path id="m7d5a4f9a9c" d="M 350.93 -118.39 
L 350.93 -114.98 
L 359.66 -114.21 
L 371.19 -113.43 
L 379.92 -112.36 
L 388.65 -112.09 
L 400.18 -111.35 
L 408.91 -111.31 
L 417.64 -110.39 
L 429.17 -109.50 
L 437.90 -109.54 
L 437.90 -111.99 
L 437.90 -111.99 
L 429.17 -112.59 
L 417.64 -114.11 
L 408.91 -114.63 
L 400.18 -115.55 
L 388.65 -116.38 
L 379.92 -116.51 
L 371.19 -117.44 
L 359.66 -117.61 
L 350.93 -118.39 
z
"/>
</defs>
<g clip-path="url(#p800a5759c8)">
<use href="#m7d5a4f9a9c" x="0" y="223.2" style="fill: #febd2a; fill-opacity: 0.3"/>
</g>
</g>
<g id="FillBetweenPolyCollection_45">
<defs>
<path id="m9f8d2e15ec" d="M 350.93 -114.94 
L 350.93 -108.31 
L 359.66 -108.66 
L 371.19 -107.51 
L 379.92 -108.23 
L 388.65 -107.72 
L 400.18 -106.87 
L 408.91 -106.86 
L 417.64 -106.64 
L 429.17 -106.50 
L 437.90 -106.07 
L 437.90 -108.15 
L 437.90 -108.15 
L 429.17 -109.43 
L 417.64 -110.64 
L 408.91 -111.34 
L 400.18 -111.07 
L 388.65 -111.67 
L 379.92 -113.19 
L 371.19 -112.92 
L 359.66 -114.26 
L 350.93 -114.94 
z
"/>
</defs>
<g clip-path="url(#p800a5759c8)">
<use href="#m9f8d2e15ec" x="0" y="223.2" style="fill: #f48849; fill-opacity: 0.3"/>
</g>
</g>
<g id="FillBetweenPolyCollection_46">
<defs>
<path id="m20076fcd4b" d="M 350.93 -108.25 
L 350.93 -103.84 
L 359.66 -103.90 
L 371.19 -104.03 
L 379.92 -103.72 
L 388.65 -103.01 
L 400.18 -104.01 
L 408.91 -103.57 
L 417.64 -102.62 
L 429.17 -103.78 
L 437.90 -103.04 
L 437.90 -106.62 
L 437.90 -106.62 
L 429.17 -106.30 
L 417.64 -106.58 
L 408.91 -106.38 
L 400.18 -107.01 
L 388.65 -107.32 
L 379.92 -107.59 
L 371.19 -107.70 
L 359.66 -107.52 
L 350.93 -108.25 
z
"/>
</defs>
<g clip-path="url(#p800a5759c8)">
<use href="#m20076fcd4b" x="0" y="223.2" style="fill: #db5c68; fill-opacity: 0.3"/>
</g>
</g>
<g id="FillBetweenPolyCollection_47">
<defs>
<path id="m2e357c1d1f" d="M 350.93 -100.68 
L 350.93 -90.88 
L 359.66 -91.02 
L 371.19 -91.52 
L 379.92 -92.23 
L 388.65 -92.82 
L 400.18 -93.88 
L 408.91 -93.49 
L 417.64 -94.23 
L 429.17 -95.17 
L 437.90 -96.46 
L 437.90 -100.79 
L 437.90 -100.79 
L 429.17 -101.09 
L 417.64 -100.98 
L 408.91 -101.12 
L 400.18 -100.02 
L 388.65 -100.27 
L 379.92 -100.59 
L 371.19 -100.03 
L 359.66 -99.72 
L 350.93 -100.68 
z
"/>
</defs>
<g clip-path="url(#p800a5759c8)">
<use href="#m2e357c1d1f" x="0" y="223.2" style="fill: #b83289; fill-opacity: 0.3"/>
</g>
</g>
<g id="FillBetweenPolyCollection_48">
<defs>
<path id="mcf219a7fe8" d="M 350.93 -85.31 
L 350.93 -71.55 
L 359.66 -71.98 
L 371.19 -72.98 
L 379.92 -73.83 
L 388.65 -73.96 
L 400.18 -75.66 
L 408.91 -76.54 
L 417.64 -77.65 
L 429.17 -78.27 
L 437.90 -80.42 
L 437.90 -90.42 
L 437.90 -90.42 
L 429.17 -89.92 
L 417.64 -89.43 
L 408.91 -88.41 
L 400.18 -87.48 
L 388.65 -87.43 
L 379.92 -86.76 
L 371.19 -85.85 
L 359.66 -85.04 
L 350.93 -85.31 
z
"/>
</defs>
<g clip-path="url(#p800a5759c8)">
<use href="#mcf219a7fe8" x="0" y="223.2" style="fill: #8f0da4; fill-opacity: 0.3"/>
</g>
</g>
<g id="FillBetweenPolyCollection_49">
<defs>
<path id="me6f867f639" d="M 350.93 -70.85 
L 350.93 -57.17 
L 359.66 -58.48 
L 371.19 -60.53 
L 379.92 -60.86 
L 388.65 -63.32 
L 400.18 -64.58 
L 408.91 -65.95 
L 417.64 -68.49 
L 429.17 -70.11 
L 437.90 -71.29 
L 437.90 -80.57 
L 437.90 -80.57 
L 429.17 -79.42 
L 417.64 -78.75 
L 408.91 -77.75 
L 400.18 -76.62 
L 388.65 -75.06 
L 379.92 -75.17 
L 371.19 -73.49 
L 359.66 -71.91 
L 350.93 -70.85 
z
"/>
</defs>
<g clip-path="url(#p800a5759c8)">
<use href="#me6f867f639" x="0" y="223.2" style="fill: #7a02a8; fill-opacity: 0.22"/>
</g>
</g>
<g id="FillBetweenPolyCollection_50">
<defs>
<path id="m17db7fdc2e" d="M 350.93 -54.14 
L 350.93 -38.42 
L 359.66 -41.00 
L 371.19 -44.83 
L 379.92 -47.04 
L 388.65 -50.26 
L 400.18 -54.62 
L 408.91 -56.68 
L 417.64 -58.35 
L 429.17 -61.83 
L 437.90 -64.56 
L 437.90 -72.16 
L 437.90 -72.16 
L 429.17 -71.01 
L 417.64 -68.94 
L 408.91 -66.56 
L 400.18 -65.40 
L 388.65 -62.00 
L 379.92 -60.47 
L 371.19 -58.59 
L 359.66 -55.57 
L 350.93 -54.14 
z
"/>
</defs>
<g clip-path="url(#p800a5759c8)">
<use href="#m17db7fdc2e" x="0" y="223.2" style="fill: #6a00a8; fill-opacity: 0.22"/>
</g>
</g>
<g id="FillBetweenPolyCollection_51">
<defs>
<path id="m6ffb7fb57f" d="M 350.93 -57.17 
L 350.93 -54.14 
L 359.66 -55.57 
L 371.19 -58.59 
L 379.92 -60.47 
L 388.65 -62.00 
L 400.18 -64.58 
L 408.91 -65.95 
L 417.64 -68.49 
L 429.17 -70.11 
L 437.90 -71.29 
L 437.90 -72.16 
L 437.90 -72.16 
L 429.17 -71.01 
L 417.64 -68.94 
L 408.91 -66.56 
L 400.18 -65.40 
L 388.65 -63.32 
L 379.92 -60.86 
L 371.19 -60.53 
L 359.66 -58.48 
L 350.93 -57.17 
z
"/>
</defs>
<g clip-path="url(#p800a5759c8)">
<use href="#m6ffb7fb57f" x="0" y="223.2" style="fill: #7a02a8; fill-opacity: 0.18"/>
</g>
</g>
<g id="FillBetweenPolyCollection_52">
<defs>
<path id="ma152738f2b" d="M 350.93 -71.55 
L 350.93 -70.85 
L 359.66 -71.91 
L 371.19 -72.98 
L 379.92 -73.83 
L 388.65 -73.96 
L 400.18 -75.66 
L 408.91 -76.54 
L 417.64 -77.65 
L 429.17 -78.27 
L 437.90 -80.42 
L 437.90 -80.57 
L 437.90 -80.57 
L 429.17 -79.42 
L 417.64 -78.75 
L 408.91 -77.75 
L 400.18 -76.62 
L 388.65 -75.06 
L 379.92 -75.17 
L 371.19 -73.49 
L 359.66 -71.98 
L 350.93 -71.55 
z
"/>
</defs>
<g clip-path="url(#p800a5759c8)">
<use href="#ma152738f2b" x="0" y="223.2" style="fill: #8f0da4; fill-opacity: 0.18"/>
</g>
</g>
<g id="FillBetweenPolyCollection_53">
<defs>
<path id="m1c732e07bf" d="M 350.93 -90.88 
L 350.93 -85.31 
L 359.66 -85.04 
L 371.19 -85.85 
L 379.92 -86.76 
L 388.65 -87.43 
L 400.18 -87.48 
L 408.91 -88.41 
L 417.64 -89.43 
L 429.17 -89.92 
L 437.90 -90.42 
L 437.90 -96.46 
L 437.90 -96.46 
L 429.17 -95.17 
L 417.64 -94.23 
L 408.91 -93.49 
L 400.18 -93.88 
L 388.65 -92.82 
L 379.92 -92.23 
L 371.19 -91.52 
L 359.66 -91.02 
L 350.93 -90.88 
z
"/>
</defs>
<g clip-path="url(#p800a5759c8)">
<use href="#m1c732e07bf" x="0" y="223.2" style="fill: #b83289; fill-opacity: 0.18"/>
</g>
</g>
<g id="FillBetweenPolyCollection_54">
<defs>
<path id="mcdb47f2a85" d="M 350.93 -108.31 
L 350.93 -108.25 
L 359.66 -107.52 
L 371.19 -107.51 
L 379.92 -107.59 
L 388.65 -107.32 
L 400.18 -106.87 
L 408.91 -106.38 
L 417.64 -106.58 
L 429.17 -106.30 
L 437.90 -106.07 
L 437.90 -106.62 
L 437.90 -106.62 
L 429.17 -106.50 
L 417.64 -106.64 
L 408.91 -106.86 
L 400.18 -107.01 
L 388.65 -107.72 
L 379.92 -108.23 
L 371.19 -107.70 
L 359.66 -108.66 
L 350.93 -108.31 
z
"/>
</defs>
<g clip-path="url(#p800a5759c8)">
<use href="#mcdb47f2a85" x="0" y="223.2" style="fill: #f48849; fill-opacity: 0.18"/>
</g>
</g>
<g id="FillBetweenPolyCollection_55">
<defs>
<path id="mf316054a58" d="M 350.93 -114.98 
L 350.93 -114.94 
L 359.66 -114.21 
L 371.19 -112.92 
L 379.92 -112.36 
L 388.65 -111.67 
L 400.18 -111.07 
L 408.91 -111.31 
L 417.64 -110.39 
L 429.17 -109.43 
L 437.90 -108.15 
L 437.90 -109.54 
L 437.90 -109.54 
L 429.17 -109.50 
L 417.64 -110.64 
L 408.91 -111.34 
L 400.18 -111.35 
L 388.65 -112.09 
L 379.92 -113.19 
L 371.19 -113.43 
L 359.66 -114.26 
L 350.93 -114.98 
z
"/>
</defs>
<g clip-path="url(#p800a5759c8)">
<use href="#mf316054a58" x="0" y="223.2" style="fill: #febd2a; fill-opacity: 0.18"/>
</g>
</g>
<g id="FillBetweenPolyCollection_56">
<defs>
<path id="md39428f77b" d="M 350.93 -118.54 
L 350.93 -118.39 
L 359.66 -117.55 
L 371.19 -116.85 
L 379.92 -116.16 
L 388.65 -115.38 
L 400.18 -114.34 
L 408.91 -113.88 
L 417.64 -113.09 
L 429.17 -112.32 
L 437.90 -111.27 
L 437.90 -111.99 
L 437.90 -111.99 
L 429.17 -112.59 
L 417.64 -114.11 
L 408.91 -114.63 
L 400.18 -115.55 
L 388.65 -116.38 
L 379.92 -116.51 
L 371.19 -117.44 
L 359.66 -117.61 
L 350.93 -118.54 
z
"/>
</defs>
<g clip-path="url(#p800a5759c8)">
<use href="#md39428f77b" x="0" y="223.2" style="fill: #f0f921; fill-opacity: 0.18"/>
</g>
</g>
<g id="patch_38">
<path d="M 356.04 191.16 
L 356.04 100.00 
" style="fill: none; stroke: #000000; stroke-width: 0.8; stroke-linejoin: miter; stroke-linecap: square"/>
</g>
<g id="patch_39">
<path d="M 437.90 191.16 
L 437.90 100.00 
" style="fill: none; stroke: #000000; stroke-width: 0.8; stroke-linejoin: miter; stroke-linecap: square"/>
</g>
<g id="patch_40">
<path d="M 356.04 191.16 
L 437.90 191.16 
" style="fill: none; stroke: #000000; stroke-width: 0.8; stroke-linejoin: miter; stroke-linecap: square"/>
</g>
<g id="patch_41">
<path d="M 356.04 100.00 
L 437.90 100.00 
" style="fill: none; stroke: #000000; stroke-width: 0.8; stroke-linejoin: miter; stroke-linecap: square"/>
</g>
<g id="line2d_399">
<path d="M 350.93 100.12 
L 359.66 101.39 
L 371.19 103.12 
L 379.92 104.00 
L 388.65 104.77 
L 400.18 105.12 
L 408.91 106.66 
L 417.64 107.37 
L 429.17 108.08 
L 437.90 109.00 
" clip-path="url(#p800a5759c8)" style="fill: none; stroke: #f0f921; stroke-width: 0.62; stroke-linecap: square"/>
<defs>
<path id="mc24aa8afec" d="M 0 -1.9 
L -1.9 1.9 
L 1.9 1.9 
z
"/>
</defs>
<g clip-path="url(#p800a5759c8)">
<use href="#mc24aa8afec" x="350.93" y="100.12" style="fill: #f0f921"/>
<use href="#mc24aa8afec" x="359.66" y="101.39" style="fill: #f0f921"/>
<use href="#mc24aa8afec" x="371.19" y="103.12" style="fill: #f0f921"/>
<use href="#mc24aa8afec" x="379.92" y="104.00" style="fill: #f0f921"/>
<use href="#mc24aa8afec" x="388.65" y="104.77" style="fill: #f0f921"/>
<use href="#mc24aa8afec" x="400.18" y="105.12" style="fill: #f0f921"/>
<use href="#mc24aa8afec" x="408.91" y="106.66" style="fill: #f0f921"/>
<use href="#mc24aa8afec" x="417.64" y="107.37" style="fill: #f0f921"/>
<use href="#mc24aa8afec" x="429.17" y="108.08" style="fill: #f0f921"/>
<use href="#mc24aa8afec" x="437.90" y="109.00" style="fill: #f0f921"/>
</g>
</g>
<g id="line2d_400">
<path d="M 350.93 101.72 
L 359.66 102.63 
L 371.19 102.98 
L 379.92 103.95 
L 388.65 105.00 
L 400.18 105.76 
L 408.91 106.95 
L 417.64 107.18 
L 429.17 108.65 
L 437.90 109.21 
" clip-path="url(#p800a5759c8)" style="fill: none; stroke: #f0f921; stroke-width: 0.62; stroke-linecap: square"/>
<g clip-path="url(#p800a5759c8)">
<use href="#mc24aa8afec" x="350.93" y="101.72" style="fill: #f0f921"/>
<use href="#mc24aa8afec" x="359.66" y="102.63" style="fill: #f0f921"/>
<use href="#mc24aa8afec" x="371.19" y="102.98" style="fill: #f0f921"/>
<use href="#mc24aa8afec" x="379.92" y="103.95" style="fill: #f0f921"/>
<use href="#mc24aa8afec" x="388.65" y="105.00" style="fill: #f0f921"/>
<use href="#mc24aa8afec" x="400.18" y="105.76" style="fill: #f0f921"/>
<use href="#mc24aa8afec" x="408.91" y="106.95" style="fill: #f0f921"/>
<use href="#mc24aa8afec" x="417.64" y="107.18" style="fill: #f0f921"/>
<use href="#mc24aa8afec" x="429.17" y="108.65" style="fill: #f0f921"/>
<use href="#mc24aa8afec" x="437.90" y="109.21" style="fill: #f0f921"/>
</g>
</g>
<g id="line2d_401">
<path d="M 350.93 102.94 
L 359.66 104.06 
L 371.19 104.63 
L 379.92 105.64 
L 388.65 105.95 
L 400.18 106.05 
L 408.91 107.94 
L 417.64 108.51 
L 429.17 109.03 
L 437.90 109.54 
" clip-path="url(#p800a5759c8)" style="fill: none; stroke: #f0f921; stroke-width: 0.62; stroke-linecap: square"/>
<g clip-path="url(#p800a5759c8)">
<use href="#mc24aa8afec" x="350.93" y="102.94" style="fill: #f0f921"/>
<use href="#mc24aa8afec" x="359.66" y="104.06" style="fill: #f0f921"/>
<use href="#mc24aa8afec" x="371.19" y="104.63" style="fill: #f0f921"/>
<use href="#mc24aa8afec" x="379.92" y="105.64" style="fill: #f0f921"/>
<use href="#mc24aa8afec" x="388.65" y="105.95" style="fill: #f0f921"/>
<use href="#mc24aa8afec" x="400.18" y="106.05" style="fill: #f0f921"/>
<use href="#mc24aa8afec" x="408.91" y="107.94" style="fill: #f0f921"/>
<use href="#mc24aa8afec" x="417.64" y="108.51" style="fill: #f0f921"/>
<use href="#mc24aa8afec" x="429.17" y="109.03" style="fill: #f0f921"/>
<use href="#mc24aa8afec" x="437.90" y="109.54" style="fill: #f0f921"/>
</g>
</g>
<g id="line2d_402">
<path d="M 350.93 103.16 
L 359.66 103.84 
L 371.19 105.28 
L 379.92 105.58 
L 388.65 106.24 
L 400.18 107.64 
L 408.91 107.86 
L 417.64 109.06 
L 429.17 109.35 
L 437.90 110.43 
" clip-path="url(#p800a5759c8)" style="fill: none; stroke: #f0f921; stroke-width: 0.62; stroke-linecap: square"/>
<g clip-path="url(#p800a5759c8)">
<use href="#mc24aa8afec" x="350.93" y="103.16" style="fill: #f0f921"/>
<use href="#mc24aa8afec" x="359.66" y="103.84" style="fill: #f0f921"/>
<use href="#mc24aa8afec" x="371.19" y="105.28" style="fill: #f0f921"/>
<use href="#mc24aa8afec" x="379.92" y="105.58" style="fill: #f0f921"/>
<use href="#mc24aa8afec" x="388.65" y="106.24" style="fill: #f0f921"/>
<use href="#mc24aa8afec" x="400.18" y="107.64" style="fill: #f0f921"/>
<use href="#mc24aa8afec" x="408.91" y="107.86" style="fill: #f0f921"/>
<use href="#mc24aa8afec" x="417.64" y="109.06" style="fill: #f0f921"/>
<use href="#mc24aa8afec" x="429.17" y="109.35" style="fill: #f0f921"/>
<use href="#mc24aa8afec" x="437.90" y="110.43" style="fill: #f0f921"/>
</g>
</g>
<g id="line2d_403">
<path d="M 350.93 104.31 
L 359.66 105.64 
L 371.19 106.07 
L 379.92 106.14 
L 388.65 107.81 
L 400.18 107.56 
L 408.91 109.31 
L 417.64 109.05 
L 429.17 110.67 
L 437.90 110.78 
" clip-path="url(#p800a5759c8)" style="fill: none; stroke: #f0f921; stroke-width: 0.62; stroke-linecap: square"/>
<g clip-path="url(#p800a5759c8)">
<use href="#mc24aa8afec" x="350.93" y="104.31" style="fill: #f0f921"/>
<use href="#mc24aa8afec" x="359.66" y="105.64" style="fill: #f0f921"/>
<use href="#mc24aa8afec" x="371.19" y="106.07" style="fill: #f0f921"/>
<use href="#mc24aa8afec" x="379.92" y="106.14" style="fill: #f0f921"/>
<use href="#mc24aa8afec" x="388.65" y="107.81" style="fill: #f0f921"/>
<use href="#mc24aa8afec" x="400.18" y="107.56" style="fill: #f0f921"/>
<use href="#mc24aa8afec" x="408.91" y="109.31" style="fill: #f0f921"/>
<use href="#mc24aa8afec" x="417.64" y="109.05" style="fill: #f0f921"/>
<use href="#mc24aa8afec" x="429.17" y="110.67" style="fill: #f0f921"/>
<use href="#mc24aa8afec" x="437.90" y="110.78" style="fill: #f0f921"/>
</g>
</g>
<g id="line2d_404">
<path d="M 350.93 104.65 
L 359.66 105.06 
L 371.19 106.34 
L 379.92 107.03 
L 388.65 107.63 
L 400.18 108.85 
L 408.91 108.73 
L 417.64 110.10 
L 429.17 110.87 
L 437.90 111.92 
" clip-path="url(#p800a5759c8)" style="fill: none; stroke: #f0f921; stroke-width: 0.62; stroke-linecap: square"/>
<g clip-path="url(#p800a5759c8)">
<use href="#mc24aa8afec" x="350.93" y="104.65" style="fill: #f0f921"/>
<use href="#mc24aa8afec" x="359.66" y="105.06" style="fill: #f0f921"/>
<use href="#mc24aa8afec" x="371.19" y="106.34" style="fill: #f0f921"/>
<use href="#mc24aa8afec" x="379.92" y="107.03" style="fill: #f0f921"/>
<use href="#mc24aa8afec" x="388.65" y="107.63" style="fill: #f0f921"/>
<use href="#mc24aa8afec" x="400.18" y="108.85" style="fill: #f0f921"/>
<use href="#mc24aa8afec" x="408.91" y="108.73" style="fill: #f0f921"/>
<use href="#mc24aa8afec" x="417.64" y="110.10" style="fill: #f0f921"/>
<use href="#mc24aa8afec" x="429.17" y="110.87" style="fill: #f0f921"/>
<use href="#mc24aa8afec" x="437.90" y="111.92" style="fill: #f0f921"/>
</g>
</g>
<g id="line2d_405">
<path d="M 350.93 104.80 
L 359.66 105.58 
L 371.19 105.75 
L 379.92 106.68 
L 388.65 107.60 
L 400.18 107.64 
L 408.91 108.56 
L 417.64 109.08 
L 429.17 110.60 
L 437.90 111.20 
" clip-path="url(#p800a5759c8)" style="fill: none; stroke: #febd2a; stroke-width: 0.62; stroke-linecap: square"/>
<defs>
<path id="m099f7347d7" d="M 0 -1.9 
L -1.9 1.9 
L 1.9 1.9 
z
"/>
</defs>
<g clip-path="url(#p800a5759c8)">
<use href="#m099f7347d7" x="350.93" y="104.80" style="fill: #febd2a"/>
<use href="#m099f7347d7" x="359.66" y="105.58" style="fill: #febd2a"/>
<use href="#m099f7347d7" x="371.19" y="105.75" style="fill: #febd2a"/>
<use href="#m099f7347d7" x="379.92" y="106.68" style="fill: #febd2a"/>
<use href="#m099f7347d7" x="388.65" y="107.60" style="fill: #febd2a"/>
<use href="#m099f7347d7" x="400.18" y="107.64" style="fill: #febd2a"/>
<use href="#m099f7347d7" x="408.91" y="108.56" style="fill: #febd2a"/>
<use href="#m099f7347d7" x="417.64" y="109.08" style="fill: #febd2a"/>
<use href="#m099f7347d7" x="429.17" y="110.60" style="fill: #febd2a"/>
<use href="#m099f7347d7" x="437.90" y="111.20" style="fill: #febd2a"/>
</g>
</g>
<g id="line2d_406">
<path d="M 350.93 105.20 
L 359.66 106.08 
L 371.19 106.29 
L 379.92 106.88 
L 388.65 106.81 
L 400.18 109.01 
L 408.91 108.75 
L 417.64 109.80 
L 429.17 110.66 
L 437.90 111.92 
" clip-path="url(#p800a5759c8)" style="fill: none; stroke: #febd2a; stroke-width: 0.62; stroke-linecap: square"/>
<g clip-path="url(#p800a5759c8)">
<use href="#m099f7347d7" x="350.93" y="105.20" style="fill: #febd2a"/>
<use href="#m099f7347d7" x="359.66" y="106.08" style="fill: #febd2a"/>
<use href="#m099f7347d7" x="371.19" y="106.29" style="fill: #febd2a"/>
<use href="#m099f7347d7" x="379.92" y="106.88" style="fill: #febd2a"/>
<use href="#m099f7347d7" x="388.65" y="106.81" style="fill: #febd2a"/>
<use href="#m099f7347d7" x="400.18" y="109.01" style="fill: #febd2a"/>
<use href="#m099f7347d7" x="408.91" y="108.75" style="fill: #febd2a"/>
<use href="#m099f7347d7" x="417.64" y="109.80" style="fill: #febd2a"/>
<use href="#m099f7347d7" x="429.17" y="110.66" style="fill: #febd2a"/>
<use href="#m099f7347d7" x="437.90" y="111.92" style="fill: #febd2a"/>
</g>
</g>
<g id="line2d_407">
<path d="M 350.93 105.79 
L 359.66 106.53 
L 371.19 107.72 
L 379.92 107.81 
L 388.65 108.90 
L 400.18 110.57 
L 408.91 110.55 
L 417.64 111.63 
L 429.17 112.89 
L 437.90 112.36 
" clip-path="url(#p800a5759c8)" style="fill: none; stroke: #febd2a; stroke-width: 0.62; stroke-linecap: square"/>
<g clip-path="url(#p800a5759c8)">
<use href="#m099f7347d7" x="350.93" y="105.79" style="fill: #febd2a"/>
<use href="#m099f7347d7" x="359.66" y="106.53" style="fill: #febd2a"/>
<use href="#m099f7347d7" x="371.19" y="107.72" style="fill: #febd2a"/>
<use href="#m099f7347d7" x="379.92" y="107.81" style="fill: #febd2a"/>
<use href="#m099f7347d7" x="388.65" y="108.90" style="fill: #febd2a"/>
<use href="#m099f7347d7" x="400.18" y="110.57" style="fill: #febd2a"/>
<use href="#m099f7347d7" x="408.91" y="110.55" style="fill: #febd2a"/>
<use href="#m099f7347d7" x="417.64" y="111.63" style="fill: #febd2a"/>
<use href="#m099f7347d7" x="429.17" y="112.89" style="fill: #febd2a"/>
<use href="#m099f7347d7" x="437.90" y="112.36" style="fill: #febd2a"/>
</g>
</g>
<g id="line2d_408">
<path d="M 350.93 107.27 
L 359.66 107.74 
L 371.19 107.67 
L 379.92 108.68 
L 388.65 109.38 
L 400.18 110.30 
L 408.91 110.95 
L 417.64 111.33 
L 429.17 112.36 
L 437.90 113.20 
" clip-path="url(#p800a5759c8)" style="fill: none; stroke: #febd2a; stroke-width: 0.62; stroke-linecap: square"/>
<g clip-path="url(#p800a5759c8)">
<use href="#m099f7347d7" x="350.93" y="107.27" style="fill: #febd2a"/>
<use href="#m099f7347d7" x="359.66" y="107.74" style="fill: #febd2a"/>
<use href="#m099f7347d7" x="371.19" y="107.67" style="fill: #febd2a"/>
<use href="#m099f7347d7" x="379.92" y="108.68" style="fill: #febd2a"/>
<use href="#m099f7347d7" x="388.65" y="109.38" style="fill: #febd2a"/>
<use href="#m099f7347d7" x="400.18" y="110.30" style="fill: #febd2a"/>
<use href="#m099f7347d7" x="408.91" y="110.95" style="fill: #febd2a"/>
<use href="#m099f7347d7" x="417.64" y="111.33" style="fill: #febd2a"/>
<use href="#m099f7347d7" x="429.17" y="112.36" style="fill: #febd2a"/>
<use href="#m099f7347d7" x="437.90" y="113.20" style="fill: #febd2a"/>
</g>
</g>
<g id="line2d_409">
<path d="M 350.93 107.97 
L 359.66 107.72 
L 371.19 109.29 
L 379.92 109.38 
L 388.65 109.89 
L 400.18 111.19 
L 408.91 110.57 
L 417.64 111.29 
L 429.17 112.87 
L 437.90 113.01 
" clip-path="url(#p800a5759c8)" style="fill: none; stroke: #febd2a; stroke-width: 0.62; stroke-linecap: square"/>
<g clip-path="url(#p800a5759c8)">
<use href="#m099f7347d7" x="350.93" y="107.97" style="fill: #febd2a"/>
<use href="#m099f7347d7" x="359.66" y="107.72" style="fill: #febd2a"/>
<use href="#m099f7347d7" x="371.19" y="109.29" style="fill: #febd2a"/>
<use href="#m099f7347d7" x="379.92" y="109.38" style="fill: #febd2a"/>
<use href="#m099f7347d7" x="388.65" y="109.89" style="fill: #febd2a"/>
<use href="#m099f7347d7" x="400.18" y="111.19" style="fill: #febd2a"/>
<use href="#m099f7347d7" x="408.91" y="110.57" style="fill: #febd2a"/>
<use href="#m099f7347d7" x="417.64" y="111.29" style="fill: #febd2a"/>
<use href="#m099f7347d7" x="429.17" y="112.87" style="fill: #febd2a"/>
<use href="#m099f7347d7" x="437.90" y="113.01" style="fill: #febd2a"/>
</g>
</g>
<g id="line2d_410">
<path d="M 350.93 108.21 
L 359.66 108.98 
L 371.19 109.76 
L 379.92 110.83 
L 388.65 111.10 
L 400.18 111.84 
L 408.91 111.88 
L 417.64 112.80 
L 429.17 113.69 
L 437.90 113.65 
" clip-path="url(#p800a5759c8)" style="fill: none; stroke: #febd2a; stroke-width: 0.62; stroke-linecap: square"/>
<g clip-path="url(#p800a5759c8)">
<use href="#m099f7347d7" x="350.93" y="108.21" style="fill: #febd2a"/>
<use href="#m099f7347d7" x="359.66" y="108.98" style="fill: #febd2a"/>
<use href="#m099f7347d7" x="371.19" y="109.76" style="fill: #febd2a"/>
<use href="#m099f7347d7" x="379.92" y="110.83" style="fill: #febd2a"/>
<use href="#m099f7347d7" x="388.65" y="111.10" style="fill: #febd2a"/>
<use href="#m099f7347d7" x="400.18" y="111.84" style="fill: #febd2a"/>
<use href="#m099f7347d7" x="408.91" y="111.88" style="fill: #febd2a"/>
<use href="#m099f7347d7" x="417.64" y="112.80" style="fill: #febd2a"/>
<use href="#m099f7347d7" x="429.17" y="113.69" style="fill: #febd2a"/>
<use href="#m099f7347d7" x="437.90" y="113.65" style="fill: #febd2a"/>
</g>
</g>
<g id="line2d_411">
<path d="M 350.93 108.25 
L 359.66 108.93 
L 371.19 110.27 
L 379.92 110.00 
L 388.65 111.52 
L 400.18 112.12 
L 408.91 111.85 
L 417.64 112.55 
L 429.17 113.76 
L 437.90 115.04 
" clip-path="url(#p800a5759c8)" style="fill: none; stroke: #f48849; stroke-width: 0.62; stroke-linecap: square"/>
<defs>
<path id="mda4402b651" d="M 0 -1.9 
L -1.9 1.9 
L 1.9 1.9 
z
"/>
</defs>
<g clip-path="url(#p800a5759c8)">
<use href="#mda4402b651" x="350.93" y="108.25" style="fill: #f48849"/>
<use href="#mda4402b651" x="359.66" y="108.93" style="fill: #f48849"/>
<use href="#mda4402b651" x="371.19" y="110.27" style="fill: #f48849"/>
<use href="#mda4402b651" x="379.92" y="110.00" style="fill: #f48849"/>
<use href="#mda4402b651" x="388.65" y="111.52" style="fill: #f48849"/>
<use href="#mda4402b651" x="400.18" y="112.12" style="fill: #f48849"/>
<use href="#mda4402b651" x="408.91" y="111.85" style="fill: #f48849"/>
<use href="#mda4402b651" x="417.64" y="112.55" style="fill: #f48849"/>
<use href="#mda4402b651" x="429.17" y="113.76" style="fill: #f48849"/>
<use href="#mda4402b651" x="437.90" y="115.04" style="fill: #f48849"/>
</g>
</g>
<g id="line2d_412">
<path d="M 350.93 109.20 
L 359.66 109.25 
L 371.19 110.94 
L 379.92 111.88 
L 388.65 112.55 
L 400.18 112.76 
L 408.91 113.28 
L 417.64 114.13 
L 429.17 114.22 
L 437.90 115.17 
" clip-path="url(#p800a5759c8)" style="fill: none; stroke: #f48849; stroke-width: 0.62; stroke-linecap: square"/>
<g clip-path="url(#p800a5759c8)">
<use href="#mda4402b651" x="350.93" y="109.20" style="fill: #f48849"/>
<use href="#mda4402b651" x="359.66" y="109.25" style="fill: #f48849"/>
<use href="#mda4402b651" x="371.19" y="110.94" style="fill: #f48849"/>
<use href="#mda4402b651" x="379.92" y="111.88" style="fill: #f48849"/>
<use href="#mda4402b651" x="388.65" y="112.55" style="fill: #f48849"/>
<use href="#mda4402b651" x="400.18" y="112.76" style="fill: #f48849"/>
<use href="#mda4402b651" x="408.91" y="113.28" style="fill: #f48849"/>
<use href="#mda4402b651" x="417.64" y="114.13" style="fill: #f48849"/>
<use href="#mda4402b651" x="429.17" y="114.22" style="fill: #f48849"/>
<use href="#mda4402b651" x="437.90" y="115.17" style="fill: #f48849"/>
</g>
</g>
<g id="line2d_413">
<path d="M 350.93 110.49 
L 359.66 111.53 
L 371.19 111.69 
L 379.92 112.41 
L 388.65 112.97 
L 400.18 113.58 
L 408.91 114.44 
L 417.64 114.99 
L 429.17 114.74 
L 437.90 115.63 
" clip-path="url(#p800a5759c8)" style="fill: none; stroke: #f48849; stroke-width: 0.62; stroke-linecap: square"/>
<g clip-path="url(#p800a5759c8)">
<use href="#mda4402b651" x="350.93" y="110.49" style="fill: #f48849"/>
<use href="#mda4402b651" x="359.66" y="111.53" style="fill: #f48849"/>
<use href="#mda4402b651" x="371.19" y="111.69" style="fill: #f48849"/>
<use href="#mda4402b651" x="379.92" y="112.41" style="fill: #f48849"/>
<use href="#mda4402b651" x="388.65" y="112.97" style="fill: #f48849"/>
<use href="#mda4402b651" x="400.18" y="113.58" style="fill: #f48849"/>
<use href="#mda4402b651" x="408.91" y="114.44" style="fill: #f48849"/>
<use href="#mda4402b651" x="417.64" y="114.99" style="fill: #f48849"/>
<use href="#mda4402b651" x="429.17" y="114.74" style="fill: #f48849"/>
<use href="#mda4402b651" x="437.90" y="115.63" style="fill: #f48849"/>
</g>
</g>
<g id="line2d_414">
<path d="M 350.93 112.73 
L 359.66 112.84 
L 371.19 113.09 
L 379.92 113.40 
L 388.65 114.09 
L 400.18 114.01 
L 408.91 114.69 
L 417.64 115.60 
L 429.17 115.93 
L 437.90 115.57 
" clip-path="url(#p800a5759c8)" style="fill: none; stroke: #f48849; stroke-width: 0.62; stroke-linecap: square"/>
<g clip-path="url(#p800a5759c8)">
<use href="#mda4402b651" x="350.93" y="112.73" style="fill: #f48849"/>
<use href="#mda4402b651" x="359.66" y="112.84" style="fill: #f48849"/>
<use href="#mda4402b651" x="371.19" y="113.09" style="fill: #f48849"/>
<use href="#mda4402b651" x="379.92" y="113.40" style="fill: #f48849"/>
<use href="#mda4402b651" x="388.65" y="114.09" style="fill: #f48849"/>
<use href="#mda4402b651" x="400.18" y="114.01" style="fill: #f48849"/>
<use href="#mda4402b651" x="408.91" y="114.69" style="fill: #f48849"/>
<use href="#mda4402b651" x="417.64" y="115.60" style="fill: #f48849"/>
<use href="#mda4402b651" x="429.17" y="115.93" style="fill: #f48849"/>
<use href="#mda4402b651" x="437.90" y="115.57" style="fill: #f48849"/>
</g>
</g>
<g id="line2d_415">
<path d="M 350.93 112.94 
L 359.66 113.49 
L 371.19 113.53 
L 379.92 114.50 
L 388.65 114.77 
L 400.18 115.51 
L 408.91 114.37 
L 417.64 115.77 
L 429.17 115.51 
L 437.90 116.73 
" clip-path="url(#p800a5759c8)" style="fill: none; stroke: #f48849; stroke-width: 0.62; stroke-linecap: square"/>
<g clip-path="url(#p800a5759c8)">
<use href="#mda4402b651" x="350.93" y="112.94" style="fill: #f48849"/>
<use href="#mda4402b651" x="359.66" y="113.49" style="fill: #f48849"/>
<use href="#mda4402b651" x="371.19" y="113.53" style="fill: #f48849"/>
<use href="#mda4402b651" x="379.92" y="114.50" style="fill: #f48849"/>
<use href="#mda4402b651" x="388.65" y="114.77" style="fill: #f48849"/>
<use href="#mda4402b651" x="400.18" y="115.51" style="fill: #f48849"/>
<use href="#mda4402b651" x="408.91" y="114.37" style="fill: #f48849"/>
<use href="#mda4402b651" x="417.64" y="115.77" style="fill: #f48849"/>
<use href="#mda4402b651" x="429.17" y="115.51" style="fill: #f48849"/>
<use href="#mda4402b651" x="437.90" y="116.73" style="fill: #f48849"/>
</g>
</g>
<g id="line2d_416">
<path d="M 350.93 114.88 
L 359.66 114.53 
L 371.19 115.68 
L 379.92 114.96 
L 388.65 115.47 
L 400.18 116.32 
L 408.91 116.33 
L 417.64 116.55 
L 429.17 116.69 
L 437.90 117.12 
" clip-path="url(#p800a5759c8)" style="fill: none; stroke: #f48849; stroke-width: 0.62; stroke-linecap: square"/>
<g clip-path="url(#p800a5759c8)">
<use href="#mda4402b651" x="350.93" y="114.88" style="fill: #f48849"/>
<use href="#mda4402b651" x="359.66" y="114.53" style="fill: #f48849"/>
<use href="#mda4402b651" x="371.19" y="115.68" style="fill: #f48849"/>
<use href="#mda4402b651" x="379.92" y="114.96" style="fill: #f48849"/>
<use href="#mda4402b651" x="388.65" y="115.47" style="fill: #f48849"/>
<use href="#mda4402b651" x="400.18" y="116.32" style="fill: #f48849"/>
<use href="#mda4402b651" x="408.91" y="116.33" style="fill: #f48849"/>
<use href="#mda4402b651" x="417.64" y="116.55" style="fill: #f48849"/>
<use href="#mda4402b651" x="429.17" y="116.69" style="fill: #f48849"/>
<use href="#mda4402b651" x="437.90" y="117.12" style="fill: #f48849"/>
</g>
</g>
<g id="line2d_417">
<path d="M 350.93 114.94 
L 359.66 115.67 
L 371.19 115.49 
L 379.92 115.60 
L 388.65 115.87 
L 400.18 116.18 
L 408.91 116.81 
L 417.64 116.61 
L 429.17 116.89 
L 437.90 116.57 
" clip-path="url(#p800a5759c8)" style="fill: none; stroke: #db5c68; stroke-width: 0.62; stroke-linecap: square"/>
<defs>
<path id="m3ba8d5e0ac" d="M 0 -1.9 
L -1.9 1.9 
L 1.9 1.9 
z
"/>
</defs>
<g clip-path="url(#p800a5759c8)">
<use href="#m3ba8d5e0ac" x="350.93" y="114.94" style="fill: #db5c68"/>
<use href="#m3ba8d5e0ac" x="359.66" y="115.67" style="fill: #db5c68"/>
<use href="#m3ba8d5e0ac" x="371.19" y="115.49" style="fill: #db5c68"/>
<use href="#m3ba8d5e0ac" x="379.92" y="115.60" style="fill: #db5c68"/>
<use href="#m3ba8d5e0ac" x="388.65" y="115.87" style="fill: #db5c68"/>
<use href="#m3ba8d5e0ac" x="400.18" y="116.18" style="fill: #db5c68"/>
<use href="#m3ba8d5e0ac" x="408.91" y="116.81" style="fill: #db5c68"/>
<use href="#m3ba8d5e0ac" x="417.64" y="116.61" style="fill: #db5c68"/>
<use href="#m3ba8d5e0ac" x="429.17" y="116.89" style="fill: #db5c68"/>
<use href="#m3ba8d5e0ac" x="437.90" y="116.57" style="fill: #db5c68"/>
</g>
</g>
<g id="line2d_418">
<path d="M 350.93 115.90 
L 359.66 115.87 
L 371.19 116.42 
L 379.92 116.70 
L 388.65 116.65 
L 400.18 117.33 
L 408.91 116.89 
L 417.64 117.39 
L 429.17 117.53 
L 437.90 117.91 
" clip-path="url(#p800a5759c8)" style="fill: none; stroke: #db5c68; stroke-width: 0.62; stroke-linecap: square"/>
<g clip-path="url(#p800a5759c8)">
<use href="#m3ba8d5e0ac" x="350.93" y="115.90" style="fill: #db5c68"/>
<use href="#m3ba8d5e0ac" x="359.66" y="115.87" style="fill: #db5c68"/>
<use href="#m3ba8d5e0ac" x="371.19" y="116.42" style="fill: #db5c68"/>
<use href="#m3ba8d5e0ac" x="379.92" y="116.70" style="fill: #db5c68"/>
<use href="#m3ba8d5e0ac" x="388.65" y="116.65" style="fill: #db5c68"/>
<use href="#m3ba8d5e0ac" x="400.18" y="117.33" style="fill: #db5c68"/>
<use href="#m3ba8d5e0ac" x="408.91" y="116.89" style="fill: #db5c68"/>
<use href="#m3ba8d5e0ac" x="417.64" y="117.39" style="fill: #db5c68"/>
<use href="#m3ba8d5e0ac" x="429.17" y="117.53" style="fill: #db5c68"/>
<use href="#m3ba8d5e0ac" x="437.90" y="117.91" style="fill: #db5c68"/>
</g>
</g>
<g id="line2d_419">
<path d="M 350.93 116.78 
L 359.66 116.99 
L 371.19 116.80 
L 379.92 117.00 
L 388.65 117.66 
L 400.18 117.24 
L 408.91 117.93 
L 417.64 117.76 
L 429.17 117.80 
L 437.90 118.64 
" clip-path="url(#p800a5759c8)" style="fill: none; stroke: #db5c68; stroke-width: 0.62; stroke-linecap: square"/>
<g clip-path="url(#p800a5759c8)">
<use href="#m3ba8d5e0ac" x="350.93" y="116.78" style="fill: #db5c68"/>
<use href="#m3ba8d5e0ac" x="359.66" y="116.99" style="fill: #db5c68"/>
<use href="#m3ba8d5e0ac" x="371.19" y="116.80" style="fill: #db5c68"/>
<use href="#m3ba8d5e0ac" x="379.92" y="117.00" style="fill: #db5c68"/>
<use href="#m3ba8d5e0ac" x="388.65" y="117.66" style="fill: #db5c68"/>
<use href="#m3ba8d5e0ac" x="400.18" y="117.24" style="fill: #db5c68"/>
<use href="#m3ba8d5e0ac" x="408.91" y="117.93" style="fill: #db5c68"/>
<use href="#m3ba8d5e0ac" x="417.64" y="117.76" style="fill: #db5c68"/>
<use href="#m3ba8d5e0ac" x="429.17" y="117.80" style="fill: #db5c68"/>
<use href="#m3ba8d5e0ac" x="437.90" y="118.64" style="fill: #db5c68"/>
</g>
</g>
<g id="line2d_420">
<path d="M 350.93 117.65 
L 359.66 117.87 
L 371.19 118.00 
L 379.92 118.34 
L 388.65 118.15 
L 400.18 118.38 
L 408.91 118.21 
L 417.64 118.81 
L 429.17 118.34 
L 437.90 118.46 
" clip-path="url(#p800a5759c8)" style="fill: none; stroke: #db5c68; stroke-width: 0.62; stroke-linecap: square"/>
<g clip-path="url(#p800a5759c8)">
<use href="#m3ba8d5e0ac" x="350.93" y="117.65" style="fill: #db5c68"/>
<use href="#m3ba8d5e0ac" x="359.66" y="117.87" style="fill: #db5c68"/>
<use href="#m3ba8d5e0ac" x="371.19" y="118.00" style="fill: #db5c68"/>
<use href="#m3ba8d5e0ac" x="379.92" y="118.34" style="fill: #db5c68"/>
<use href="#m3ba8d5e0ac" x="388.65" y="118.15" style="fill: #db5c68"/>
<use href="#m3ba8d5e0ac" x="400.18" y="118.38" style="fill: #db5c68"/>
<use href="#m3ba8d5e0ac" x="408.91" y="118.21" style="fill: #db5c68"/>
<use href="#m3ba8d5e0ac" x="417.64" y="118.81" style="fill: #db5c68"/>
<use href="#m3ba8d5e0ac" x="429.17" y="118.34" style="fill: #db5c68"/>
<use href="#m3ba8d5e0ac" x="437.90" y="118.46" style="fill: #db5c68"/>
</g>
</g>
<g id="line2d_421">
<path d="M 350.93 118.38 
L 359.66 119.29 
L 371.19 118.49 
L 379.92 118.62 
L 388.65 118.64 
L 400.18 118.66 
L 408.91 119.11 
L 417.64 119.00 
L 429.17 118.70 
L 437.90 118.83 
" clip-path="url(#p800a5759c8)" style="fill: none; stroke: #db5c68; stroke-width: 0.62; stroke-linecap: square"/>
<g clip-path="url(#p800a5759c8)">
<use href="#m3ba8d5e0ac" x="350.93" y="118.38" style="fill: #db5c68"/>
<use href="#m3ba8d5e0ac" x="359.66" y="119.29" style="fill: #db5c68"/>
<use href="#m3ba8d5e0ac" x="371.19" y="118.49" style="fill: #db5c68"/>
<use href="#m3ba8d5e0ac" x="379.92" y="118.62" style="fill: #db5c68"/>
<use href="#m3ba8d5e0ac" x="388.65" y="118.64" style="fill: #db5c68"/>
<use href="#m3ba8d5e0ac" x="400.18" y="118.66" style="fill: #db5c68"/>
<use href="#m3ba8d5e0ac" x="408.91" y="119.11" style="fill: #db5c68"/>
<use href="#m3ba8d5e0ac" x="417.64" y="119.00" style="fill: #db5c68"/>
<use href="#m3ba8d5e0ac" x="429.17" y="118.70" style="fill: #db5c68"/>
<use href="#m3ba8d5e0ac" x="437.90" y="118.83" style="fill: #db5c68"/>
</g>
</g>
<g id="line2d_422">
<path d="M 350.93 119.35 
L 359.66 119.09 
L 371.19 119.16 
L 379.92 119.47 
L 388.65 120.18 
L 400.18 119.18 
L 408.91 119.62 
L 417.64 120.57 
L 429.17 119.41 
L 437.90 120.15 
" clip-path="url(#p800a5759c8)" style="fill: none; stroke: #db5c68; stroke-width: 0.62; stroke-linecap: square"/>
<g clip-path="url(#p800a5759c8)">
<use href="#m3ba8d5e0ac" x="350.93" y="119.35" style="fill: #db5c68"/>
<use href="#m3ba8d5e0ac" x="359.66" y="119.09" style="fill: #db5c68"/>
<use href="#m3ba8d5e0ac" x="371.19" y="119.16" style="fill: #db5c68"/>
<use href="#m3ba8d5e0ac" x="379.92" y="119.47" style="fill: #db5c68"/>
<use href="#m3ba8d5e0ac" x="388.65" y="120.18" style="fill: #db5c68"/>
<use href="#m3ba8d5e0ac" x="400.18" y="119.18" style="fill: #db5c68"/>
<use href="#m3ba8d5e0ac" x="408.91" y="119.62" style="fill: #db5c68"/>
<use href="#m3ba8d5e0ac" x="417.64" y="120.57" style="fill: #db5c68"/>
<use href="#m3ba8d5e0ac" x="429.17" y="119.41" style="fill: #db5c68"/>
<use href="#m3ba8d5e0ac" x="437.90" y="120.15" style="fill: #db5c68"/>
</g>
</g>
<g id="line2d_423">
<path d="M 350.93 122.51 
L 359.66 123.47 
L 371.19 123.16 
L 379.92 122.60 
L 388.65 122.92 
L 400.18 123.17 
L 408.91 122.07 
L 417.64 122.21 
L 429.17 122.10 
L 437.90 122.40 
" clip-path="url(#p800a5759c8)" style="fill: none; stroke: #b83289; stroke-width: 0.62; stroke-linecap: square"/>
<defs>
<path id="mb4cf4f5bef" d="M 0 -1.84 
L -1.84 1.84 
L 1.84 1.84 
z
"/>
</defs>
<g clip-path="url(#p800a5759c8)">
<use href="#mb4cf4f5bef" x="350.93" y="122.51" style="fill: #b83289"/>
<use href="#mb4cf4f5bef" x="359.66" y="123.47" style="fill: #b83289"/>
<use href="#mb4cf4f5bef" x="371.19" y="123.16" style="fill: #b83289"/>
<use href="#mb4cf4f5bef" x="379.92" y="122.60" style="fill: #b83289"/>
<use href="#mb4cf4f5bef" x="388.65" y="122.92" style="fill: #b83289"/>
<use href="#mb4cf4f5bef" x="400.18" y="123.17" style="fill: #b83289"/>
<use href="#mb4cf4f5bef" x="408.91" y="122.07" style="fill: #b83289"/>
<use href="#mb4cf4f5bef" x="417.64" y="122.21" style="fill: #b83289"/>
<use href="#mb4cf4f5bef" x="429.17" y="122.10" style="fill: #b83289"/>
<use href="#mb4cf4f5bef" x="437.90" y="122.40" style="fill: #b83289"/>
</g>
</g>
<g id="line2d_424">
<path d="M 350.93 124.92 
L 359.66 125.56 
L 371.19 125.33 
L 379.92 124.77 
L 388.65 124.99 
L 400.18 124.26 
L 408.91 124.30 
L 417.64 124.64 
L 429.17 124.07 
L 437.90 124.11 
" clip-path="url(#p800a5759c8)" style="fill: none; stroke: #b83289; stroke-width: 0.62; stroke-linecap: square"/>
<g clip-path="url(#p800a5759c8)">
<use href="#mb4cf4f5bef" x="350.93" y="124.92" style="fill: #b83289"/>
<use href="#mb4cf4f5bef" x="359.66" y="125.56" style="fill: #b83289"/>
<use href="#mb4cf4f5bef" x="371.19" y="125.33" style="fill: #b83289"/>
<use href="#mb4cf4f5bef" x="379.92" y="124.77" style="fill: #b83289"/>
<use href="#mb4cf4f5bef" x="388.65" y="124.99" style="fill: #b83289"/>
<use href="#mb4cf4f5bef" x="400.18" y="124.26" style="fill: #b83289"/>
<use href="#mb4cf4f5bef" x="408.91" y="124.30" style="fill: #b83289"/>
<use href="#mb4cf4f5bef" x="417.64" y="124.64" style="fill: #b83289"/>
<use href="#mb4cf4f5bef" x="429.17" y="124.07" style="fill: #b83289"/>
<use href="#mb4cf4f5bef" x="437.90" y="124.11" style="fill: #b83289"/>
</g>
</g>
<g id="line2d_425">
<path d="M 350.93 127.90 
L 359.66 127.03 
L 371.19 126.34 
L 379.92 126.20 
L 388.65 126.72 
L 400.18 126.32 
L 408.91 125.54 
L 417.64 125.93 
L 429.17 125.91 
L 437.90 125.20 
" clip-path="url(#p800a5759c8)" style="fill: none; stroke: #b83289; stroke-width: 0.62; stroke-linecap: square"/>
<g clip-path="url(#p800a5759c8)">
<use href="#mb4cf4f5bef" x="350.93" y="127.90" style="fill: #b83289"/>
<use href="#mb4cf4f5bef" x="359.66" y="127.03" style="fill: #b83289"/>
<use href="#mb4cf4f5bef" x="371.19" y="126.34" style="fill: #b83289"/>
<use href="#mb4cf4f5bef" x="379.92" y="126.20" style="fill: #b83289"/>
<use href="#mb4cf4f5bef" x="388.65" y="126.72" style="fill: #b83289"/>
<use href="#mb4cf4f5bef" x="400.18" y="126.32" style="fill: #b83289"/>
<use href="#mb4cf4f5bef" x="408.91" y="125.54" style="fill: #b83289"/>
<use href="#mb4cf4f5bef" x="417.64" y="125.93" style="fill: #b83289"/>
<use href="#mb4cf4f5bef" x="429.17" y="125.91" style="fill: #b83289"/>
<use href="#mb4cf4f5bef" x="437.90" y="125.20" style="fill: #b83289"/>
</g>
</g>
<g id="line2d_426">
<path d="M 350.93 130.88 
L 359.66 130.41 
L 371.19 129.05 
L 379.92 129.23 
L 388.65 128.60 
L 400.18 127.95 
L 408.91 127.40 
L 417.64 127.40 
L 429.17 126.56 
L 437.90 126.73 
" clip-path="url(#p800a5759c8)" style="fill: none; stroke: #b83289; stroke-width: 0.62; stroke-linecap: square"/>
<g clip-path="url(#p800a5759c8)">
<use href="#mb4cf4f5bef" x="350.93" y="130.88" style="fill: #b83289"/>
<use href="#mb4cf4f5bef" x="359.66" y="130.41" style="fill: #b83289"/>
<use href="#mb4cf4f5bef" x="371.19" y="129.05" style="fill: #b83289"/>
<use href="#mb4cf4f5bef" x="379.92" y="129.23" style="fill: #b83289"/>
<use href="#mb4cf4f5bef" x="388.65" y="128.60" style="fill: #b83289"/>
<use href="#mb4cf4f5bef" x="400.18" y="127.95" style="fill: #b83289"/>
<use href="#mb4cf4f5bef" x="408.91" y="127.40" style="fill: #b83289"/>
<use href="#mb4cf4f5bef" x="417.64" y="127.40" style="fill: #b83289"/>
<use href="#mb4cf4f5bef" x="429.17" y="126.56" style="fill: #b83289"/>
<use href="#mb4cf4f5bef" x="437.90" y="126.73" style="fill: #b83289"/>
</g>
</g>
<g id="line2d_427">
<path d="M 350.93 132.31 
L 359.66 132.17 
L 371.19 131.67 
L 379.92 130.96 
L 388.65 130.37 
L 400.18 129.31 
L 408.91 129.70 
L 417.64 128.96 
L 429.17 128.02 
L 437.90 126.35 
" clip-path="url(#p800a5759c8)" style="fill: none; stroke: #b83289; stroke-width: 0.62; stroke-linecap: square"/>
<g clip-path="url(#p800a5759c8)">
<use href="#mb4cf4f5bef" x="350.93" y="132.31" style="fill: #b83289"/>
<use href="#mb4cf4f5bef" x="359.66" y="132.17" style="fill: #b83289"/>
<use href="#mb4cf4f5bef" x="371.19" y="131.67" style="fill: #b83289"/>
<use href="#mb4cf4f5bef" x="379.92" y="130.96" style="fill: #b83289"/>
<use href="#mb4cf4f5bef" x="388.65" y="130.37" style="fill: #b83289"/>
<use href="#mb4cf4f5bef" x="400.18" y="129.31" style="fill: #b83289"/>
<use href="#mb4cf4f5bef" x="408.91" y="129.70" style="fill: #b83289"/>
<use href="#mb4cf4f5bef" x="417.64" y="128.96" style="fill: #b83289"/>
<use href="#mb4cf4f5bef" x="429.17" y="128.02" style="fill: #b83289"/>
<use href="#mb4cf4f5bef" x="437.90" y="126.35" style="fill: #b83289"/>
</g>
</g>
<g id="line2d_428">
<path d="M 350.93 137.88 
L 359.66 138.15 
L 371.19 137.34 
L 379.92 136.43 
L 388.65 135.76 
L 400.18 135.71 
L 408.91 134.78 
L 417.64 133.76 
L 429.17 133.27 
L 437.90 132.77 
" clip-path="url(#p800a5759c8)" style="fill: none; stroke: #8b0aa5; stroke-width: 0.62; stroke-linecap: square"/>
<defs>
<path id="md1e2b90bd5" d="M 0 -1.84 
L -1.84 1.84 
L 1.84 1.84 
z
"/>
</defs>
<g clip-path="url(#p800a5759c8)">
<use href="#md1e2b90bd5" x="350.93" y="137.88" style="fill: #8b0aa5"/>
<use href="#md1e2b90bd5" x="359.66" y="138.15" style="fill: #8b0aa5"/>
<use href="#md1e2b90bd5" x="371.19" y="137.34" style="fill: #8b0aa5"/>
<use href="#md1e2b90bd5" x="379.92" y="136.43" style="fill: #8b0aa5"/>
<use href="#md1e2b90bd5" x="388.65" y="135.76" style="fill: #8b0aa5"/>
<use href="#md1e2b90bd5" x="400.18" y="135.71" style="fill: #8b0aa5"/>
<use href="#md1e2b90bd5" x="408.91" y="134.78" style="fill: #8b0aa5"/>
<use href="#md1e2b90bd5" x="417.64" y="133.76" style="fill: #8b0aa5"/>
<use href="#md1e2b90bd5" x="429.17" y="133.27" style="fill: #8b0aa5"/>
<use href="#md1e2b90bd5" x="437.90" y="132.77" style="fill: #8b0aa5"/>
</g>
</g>
<g id="line2d_429">
<path d="M 350.93 141.86 
L 359.66 141.64 
L 371.19 140.23 
L 379.92 141.10 
L 388.65 140.08 
L 400.18 139.33 
L 408.91 138.32 
L 417.64 137.81 
L 429.17 136.78 
L 437.90 137.41 
" clip-path="url(#p800a5759c8)" style="fill: none; stroke: #8b0aa5; stroke-width: 0.62; stroke-linecap: square"/>
<g clip-path="url(#p800a5759c8)">
<use href="#md1e2b90bd5" x="350.93" y="141.86" style="fill: #8b0aa5"/>
<use href="#md1e2b90bd5" x="359.66" y="141.64" style="fill: #8b0aa5"/>
<use href="#md1e2b90bd5" x="371.19" y="140.23" style="fill: #8b0aa5"/>
<use href="#md1e2b90bd5" x="379.92" y="141.10" style="fill: #8b0aa5"/>
<use href="#md1e2b90bd5" x="388.65" y="140.08" style="fill: #8b0aa5"/>
<use href="#md1e2b90bd5" x="400.18" y="139.33" style="fill: #8b0aa5"/>
<use href="#md1e2b90bd5" x="408.91" y="138.32" style="fill: #8b0aa5"/>
<use href="#md1e2b90bd5" x="417.64" y="137.81" style="fill: #8b0aa5"/>
<use href="#md1e2b90bd5" x="429.17" y="136.78" style="fill: #8b0aa5"/>
<use href="#md1e2b90bd5" x="437.90" y="137.41" style="fill: #8b0aa5"/>
</g>
</g>
<g id="line2d_430">
<path d="M 350.93 145.70 
L 359.66 144.54 
L 371.19 144.21 
L 379.92 144.00 
L 388.65 142.65 
L 400.18 142.22 
L 408.91 141.21 
L 417.64 140.15 
L 429.17 139.29 
L 437.90 138.13 
" clip-path="url(#p800a5759c8)" style="fill: none; stroke: #8b0aa5; stroke-width: 0.62; stroke-linecap: square"/>
<g clip-path="url(#p800a5759c8)">
<use href="#md1e2b90bd5" x="350.93" y="145.70" style="fill: #8b0aa5"/>
<use href="#md1e2b90bd5" x="359.66" y="144.54" style="fill: #8b0aa5"/>
<use href="#md1e2b90bd5" x="371.19" y="144.21" style="fill: #8b0aa5"/>
<use href="#md1e2b90bd5" x="379.92" y="144.00" style="fill: #8b0aa5"/>
<use href="#md1e2b90bd5" x="388.65" y="142.65" style="fill: #8b0aa5"/>
<use href="#md1e2b90bd5" x="400.18" y="142.22" style="fill: #8b0aa5"/>
<use href="#md1e2b90bd5" x="408.91" y="141.21" style="fill: #8b0aa5"/>
<use href="#md1e2b90bd5" x="417.64" y="140.15" style="fill: #8b0aa5"/>
<use href="#md1e2b90bd5" x="429.17" y="139.29" style="fill: #8b0aa5"/>
<use href="#md1e2b90bd5" x="437.90" y="138.13" style="fill: #8b0aa5"/>
</g>
</g>
<g id="line2d_431">
<path d="M 350.93 149.22 
L 359.66 148.43 
L 371.19 147.42 
L 379.92 145.92 
L 388.65 145.52 
L 400.18 144.95 
L 408.91 143.06 
L 417.64 142.56 
L 429.17 141.28 
L 437.90 140.56 
" clip-path="url(#p800a5759c8)" style="fill: none; stroke: #8b0aa5; stroke-width: 0.62; stroke-linecap: square"/>
<g clip-path="url(#p800a5759c8)">
<use href="#md1e2b90bd5" x="350.93" y="149.22" style="fill: #8b0aa5"/>
<use href="#md1e2b90bd5" x="359.66" y="148.43" style="fill: #8b0aa5"/>
<use href="#md1e2b90bd5" x="371.19" y="147.42" style="fill: #8b0aa5"/>
<use href="#md1e2b90bd5" x="379.92" y="145.92" style="fill: #8b0aa5"/>
<use href="#md1e2b90bd5" x="388.65" y="145.52" style="fill: #8b0aa5"/>
<use href="#md1e2b90bd5" x="400.18" y="144.95" style="fill: #8b0aa5"/>
<use href="#md1e2b90bd5" x="408.91" y="143.06" style="fill: #8b0aa5"/>
<use href="#md1e2b90bd5" x="417.64" y="142.56" style="fill: #8b0aa5"/>
<use href="#md1e2b90bd5" x="429.17" y="141.28" style="fill: #8b0aa5"/>
<use href="#md1e2b90bd5" x="437.90" y="140.56" style="fill: #8b0aa5"/>
</g>
</g>
<g id="line2d_432">
<path d="M 350.93 151.64 
L 359.66 151.21 
L 371.19 150.21 
L 379.92 149.36 
L 388.65 149.23 
L 400.18 147.53 
L 408.91 146.65 
L 417.64 145.54 
L 429.17 144.92 
L 437.90 142.77 
" clip-path="url(#p800a5759c8)" style="fill: none; stroke: #8b0aa5; stroke-width: 0.62; stroke-linecap: square"/>
<g clip-path="url(#p800a5759c8)">
<use href="#md1e2b90bd5" x="350.93" y="151.64" style="fill: #8b0aa5"/>
<use href="#md1e2b90bd5" x="359.66" y="151.21" style="fill: #8b0aa5"/>
<use href="#md1e2b90bd5" x="371.19" y="150.21" style="fill: #8b0aa5"/>
<use href="#md1e2b90bd5" x="379.92" y="149.36" style="fill: #8b0aa5"/>
<use href="#md1e2b90bd5" x="388.65" y="149.23" style="fill: #8b0aa5"/>
<use href="#md1e2b90bd5" x="400.18" y="147.53" style="fill: #8b0aa5"/>
<use href="#md1e2b90bd5" x="408.91" y="146.65" style="fill: #8b0aa5"/>
<use href="#md1e2b90bd5" x="417.64" y="145.54" style="fill: #8b0aa5"/>
<use href="#md1e2b90bd5" x="429.17" y="144.92" style="fill: #8b0aa5"/>
<use href="#md1e2b90bd5" x="437.90" y="142.77" style="fill: #8b0aa5"/>
</g>
</g>
<g id="line2d_433">
<path d="M 350.93 152.34 
L 359.66 151.28 
L 371.19 149.70 
L 379.92 148.02 
L 388.65 148.13 
L 400.18 146.57 
L 408.91 145.44 
L 417.64 144.44 
L 429.17 143.77 
L 437.90 142.62 
" clip-path="url(#p800a5759c8)" style="fill: none; stroke: #5302a3; stroke-width: 0.62; stroke-linecap: square"/>
<defs>
<path id="m6e7320b15d" d="M 0 -1.84 
L -1.84 1.84 
L 1.84 1.84 
z
"/>
</defs>
<g clip-path="url(#p800a5759c8)">
<use href="#m6e7320b15d" x="350.93" y="152.34" style="fill: #5302a3"/>
<use href="#m6e7320b15d" x="359.66" y="151.28" style="fill: #5302a3"/>
<use href="#m6e7320b15d" x="371.19" y="149.70" style="fill: #5302a3"/>
<use href="#m6e7320b15d" x="379.92" y="148.02" style="fill: #5302a3"/>
<use href="#m6e7320b15d" x="388.65" y="148.13" style="fill: #5302a3"/>
<use href="#m6e7320b15d" x="400.18" y="146.57" style="fill: #5302a3"/>
<use href="#m6e7320b15d" x="408.91" y="145.44" style="fill: #5302a3"/>
<use href="#m6e7320b15d" x="417.64" y="144.44" style="fill: #5302a3"/>
<use href="#m6e7320b15d" x="429.17" y="143.77" style="fill: #5302a3"/>
<use href="#m6e7320b15d" x="437.90" y="142.62" style="fill: #5302a3"/>
</g>
</g>
<g id="line2d_434">
<path d="M 350.93 156.36 
L 359.66 155.15 
L 371.19 152.66 
L 379.92 151.04 
L 388.65 150.59 
L 400.18 148.82 
L 408.91 147.37 
L 417.64 147.01 
L 429.17 145.15 
L 437.90 144.63 
" clip-path="url(#p800a5759c8)" style="fill: none; stroke: #5302a3; stroke-width: 0.62; stroke-linecap: square"/>
<g clip-path="url(#p800a5759c8)">
<use href="#m6e7320b15d" x="350.93" y="156.36" style="fill: #5302a3"/>
<use href="#m6e7320b15d" x="359.66" y="155.15" style="fill: #5302a3"/>
<use href="#m6e7320b15d" x="371.19" y="152.66" style="fill: #5302a3"/>
<use href="#m6e7320b15d" x="379.92" y="151.04" style="fill: #5302a3"/>
<use href="#m6e7320b15d" x="388.65" y="150.59" style="fill: #5302a3"/>
<use href="#m6e7320b15d" x="400.18" y="148.82" style="fill: #5302a3"/>
<use href="#m6e7320b15d" x="408.91" y="147.37" style="fill: #5302a3"/>
<use href="#m6e7320b15d" x="417.64" y="147.01" style="fill: #5302a3"/>
<use href="#m6e7320b15d" x="429.17" y="145.15" style="fill: #5302a3"/>
<use href="#m6e7320b15d" x="437.90" y="144.63" style="fill: #5302a3"/>
</g>
</g>
<g id="line2d_435">
<path d="M 350.93 158.58 
L 359.66 158.10 
L 371.19 155.93 
L 379.92 154.97 
L 388.65 153.80 
L 400.18 151.71 
L 408.91 151.73 
L 417.64 149.68 
L 429.17 148.68 
L 437.90 147.02 
" clip-path="url(#p800a5759c8)" style="fill: none; stroke: #5302a3; stroke-width: 0.62; stroke-linecap: square"/>
<g clip-path="url(#p800a5759c8)">
<use href="#m6e7320b15d" x="350.93" y="158.58" style="fill: #5302a3"/>
<use href="#m6e7320b15d" x="359.66" y="158.10" style="fill: #5302a3"/>
<use href="#m6e7320b15d" x="371.19" y="155.93" style="fill: #5302a3"/>
<use href="#m6e7320b15d" x="379.92" y="154.97" style="fill: #5302a3"/>
<use href="#m6e7320b15d" x="388.65" y="153.80" style="fill: #5302a3"/>
<use href="#m6e7320b15d" x="400.18" y="151.71" style="fill: #5302a3"/>
<use href="#m6e7320b15d" x="408.91" y="151.73" style="fill: #5302a3"/>
<use href="#m6e7320b15d" x="417.64" y="149.68" style="fill: #5302a3"/>
<use href="#m6e7320b15d" x="429.17" y="148.68" style="fill: #5302a3"/>
<use href="#m6e7320b15d" x="437.90" y="147.02" style="fill: #5302a3"/>
</g>
</g>
<g id="line2d_436">
<path d="M 350.93 162.74 
L 359.66 161.03 
L 371.19 159.32 
L 379.92 157.75 
L 388.65 156.79 
L 400.18 155.66 
L 408.91 153.14 
L 417.64 151.91 
L 429.17 150.42 
L 437.90 149.17 
" clip-path="url(#p800a5759c8)" style="fill: none; stroke: #5302a3; stroke-width: 0.62; stroke-linecap: square"/>
<g clip-path="url(#p800a5759c8)">
<use href="#m6e7320b15d" x="350.93" y="162.74" style="fill: #5302a3"/>
<use href="#m6e7320b15d" x="359.66" y="161.03" style="fill: #5302a3"/>
<use href="#m6e7320b15d" x="371.19" y="159.32" style="fill: #5302a3"/>
<use href="#m6e7320b15d" x="379.92" y="157.75" style="fill: #5302a3"/>
<use href="#m6e7320b15d" x="388.65" y="156.79" style="fill: #5302a3"/>
<use href="#m6e7320b15d" x="400.18" y="155.66" style="fill: #5302a3"/>
<use href="#m6e7320b15d" x="408.91" y="153.14" style="fill: #5302a3"/>
<use href="#m6e7320b15d" x="417.64" y="151.91" style="fill: #5302a3"/>
<use href="#m6e7320b15d" x="429.17" y="150.42" style="fill: #5302a3"/>
<use href="#m6e7320b15d" x="437.90" y="149.17" style="fill: #5302a3"/>
</g>
</g>
<g id="line2d_437">
<path d="M 350.93 166.02 
L 359.66 164.71 
L 371.19 162.66 
L 379.92 162.33 
L 388.65 159.87 
L 400.18 158.61 
L 408.91 157.24 
L 417.64 154.70 
L 429.17 153.08 
L 437.90 151.90 
" clip-path="url(#p800a5759c8)" style="fill: none; stroke: #5302a3; stroke-width: 0.62; stroke-linecap: square"/>
<g clip-path="url(#p800a5759c8)">
<use href="#m6e7320b15d" x="350.93" y="166.02" style="fill: #5302a3"/>
<use href="#m6e7320b15d" x="359.66" y="164.71" style="fill: #5302a3"/>
<use href="#m6e7320b15d" x="371.19" y="162.66" style="fill: #5302a3"/>
<use href="#m6e7320b15d" x="379.92" y="162.33" style="fill: #5302a3"/>
<use href="#m6e7320b15d" x="388.65" y="159.87" style="fill: #5302a3"/>
<use href="#m6e7320b15d" x="400.18" y="158.61" style="fill: #5302a3"/>
<use href="#m6e7320b15d" x="408.91" y="157.24" style="fill: #5302a3"/>
<use href="#m6e7320b15d" x="417.64" y="154.70" style="fill: #5302a3"/>
<use href="#m6e7320b15d" x="429.17" y="153.08" style="fill: #5302a3"/>
<use href="#m6e7320b15d" x="437.90" y="151.90" style="fill: #5302a3"/>
</g>
</g>
<g id="line2d_438">
<path d="M 350.93 169.05 
L 359.66 167.62 
L 371.19 164.60 
L 379.92 162.72 
L 388.65 161.19 
L 400.18 157.79 
L 408.91 156.63 
L 417.64 154.25 
L 429.17 152.18 
L 437.90 151.03 
" clip-path="url(#p800a5759c8)" style="fill: none; stroke: #0d0887; stroke-width: 0.62; stroke-linecap: square"/>
<defs>
<path id="m4573d41d4c" d="M 0 -1.84 
L -1.84 1.84 
L 1.84 1.84 
z
"/>
</defs>
<g clip-path="url(#p800a5759c8)">
<use href="#m4573d41d4c" x="350.93" y="169.05" style="fill: #0d0887"/>
<use href="#m4573d41d4c" x="359.66" y="167.62" style="fill: #0d0887"/>
<use href="#m4573d41d4c" x="371.19" y="164.60" style="fill: #0d0887"/>
<use href="#m4573d41d4c" x="379.92" y="162.72" style="fill: #0d0887"/>
<use href="#m4573d41d4c" x="388.65" y="161.19" style="fill: #0d0887"/>
<use href="#m4573d41d4c" x="400.18" y="157.79" style="fill: #0d0887"/>
<use href="#m4573d41d4c" x="408.91" y="156.63" style="fill: #0d0887"/>
<use href="#m4573d41d4c" x="417.64" y="154.25" style="fill: #0d0887"/>
<use href="#m4573d41d4c" x="429.17" y="152.18" style="fill: #0d0887"/>
<use href="#m4573d41d4c" x="437.90" y="151.03" style="fill: #0d0887"/>
</g>
</g>
<g id="line2d_439">
<path d="M 350.93 173.18 
L 359.66 170.92 
L 371.19 168.07 
L 379.92 166.52 
L 388.65 163.76 
L 400.18 161.77 
L 408.91 158.66 
L 417.64 157.02 
L 429.17 154.28 
L 437.90 152.03 
" clip-path="url(#p800a5759c8)" style="fill: none; stroke: #0d0887; stroke-width: 0.62; stroke-linecap: square"/>
<g clip-path="url(#p800a5759c8)">
<use href="#m4573d41d4c" x="350.93" y="173.18" style="fill: #0d0887"/>
<use href="#m4573d41d4c" x="359.66" y="170.92" style="fill: #0d0887"/>
<use href="#m4573d41d4c" x="371.19" y="168.07" style="fill: #0d0887"/>
<use href="#m4573d41d4c" x="379.92" y="166.52" style="fill: #0d0887"/>
<use href="#m4573d41d4c" x="388.65" y="163.76" style="fill: #0d0887"/>
<use href="#m4573d41d4c" x="400.18" y="161.77" style="fill: #0d0887"/>
<use href="#m4573d41d4c" x="408.91" y="158.66" style="fill: #0d0887"/>
<use href="#m4573d41d4c" x="417.64" y="157.02" style="fill: #0d0887"/>
<use href="#m4573d41d4c" x="429.17" y="154.28" style="fill: #0d0887"/>
<use href="#m4573d41d4c" x="437.90" y="152.03" style="fill: #0d0887"/>
</g>
</g>
<g id="line2d_440">
<path d="M 350.93 177.98 
L 359.66 175.01 
L 371.19 171.91 
L 379.92 169.14 
L 388.65 165.87 
L 400.18 164.02 
L 408.91 161.20 
L 417.64 159.90 
L 429.17 156.48 
L 437.90 154.68 
" clip-path="url(#p800a5759c8)" style="fill: none; stroke: #0d0887; stroke-width: 0.62; stroke-linecap: square"/>
<g clip-path="url(#p800a5759c8)">
<use href="#m4573d41d4c" x="350.93" y="177.98" style="fill: #0d0887"/>
<use href="#m4573d41d4c" x="359.66" y="175.01" style="fill: #0d0887"/>
<use href="#m4573d41d4c" x="371.19" y="171.91" style="fill: #0d0887"/>
<use href="#m4573d41d4c" x="379.92" y="169.14" style="fill: #0d0887"/>
<use href="#m4573d41d4c" x="388.65" y="165.87" style="fill: #0d0887"/>
<use href="#m4573d41d4c" x="400.18" y="164.02" style="fill: #0d0887"/>
<use href="#m4573d41d4c" x="408.91" y="161.20" style="fill: #0d0887"/>
<use href="#m4573d41d4c" x="417.64" y="159.90" style="fill: #0d0887"/>
<use href="#m4573d41d4c" x="429.17" y="156.48" style="fill: #0d0887"/>
<use href="#m4573d41d4c" x="437.90" y="154.68" style="fill: #0d0887"/>
</g>
</g>
<g id="line2d_441">
<path d="M 350.93 180.07 
L 359.66 178.15 
L 371.19 174.84 
L 379.92 172.82 
L 388.65 169.76 
L 400.18 166.90 
L 408.91 164.07 
L 417.64 162.02 
L 429.17 158.16 
L 437.90 157.26 
" clip-path="url(#p800a5759c8)" style="fill: none; stroke: #0d0887; stroke-width: 0.62; stroke-linecap: square"/>
<g clip-path="url(#p800a5759c8)">
<use href="#m4573d41d4c" x="350.93" y="180.07" style="fill: #0d0887"/>
<use href="#m4573d41d4c" x="359.66" y="178.15" style="fill: #0d0887"/>
<use href="#m4573d41d4c" x="371.19" y="174.84" style="fill: #0d0887"/>
<use href="#m4573d41d4c" x="379.92" y="172.82" style="fill: #0d0887"/>
<use href="#m4573d41d4c" x="388.65" y="169.76" style="fill: #0d0887"/>
<use href="#m4573d41d4c" x="400.18" y="166.90" style="fill: #0d0887"/>
<use href="#m4573d41d4c" x="408.91" y="164.07" style="fill: #0d0887"/>
<use href="#m4573d41d4c" x="417.64" y="162.02" style="fill: #0d0887"/>
<use href="#m4573d41d4c" x="429.17" y="158.16" style="fill: #0d0887"/>
<use href="#m4573d41d4c" x="437.90" y="157.26" style="fill: #0d0887"/>
</g>
</g>
<g id="line2d_442">
<path d="M 350.93 184.77 
L 359.66 182.19 
L 371.19 178.36 
L 379.92 176.15 
L 388.65 172.93 
L 400.18 168.57 
L 408.91 166.51 
L 417.64 164.84 
L 429.17 161.36 
L 437.90 158.63 
" clip-path="url(#p800a5759c8)" style="fill: none; stroke: #0d0887; stroke-width: 0.62; stroke-linecap: square"/>
<g clip-path="url(#p800a5759c8)">
<use href="#m4573d41d4c" x="350.93" y="184.77" style="fill: #0d0887"/>
<use href="#m4573d41d4c" x="359.66" y="182.19" style="fill: #0d0887"/>
<use href="#m4573d41d4c" x="371.19" y="178.36" style="fill: #0d0887"/>
<use href="#m4573d41d4c" x="379.92" y="176.15" style="fill: #0d0887"/>
<use href="#m4573d41d4c" x="388.65" y="172.93" style="fill: #0d0887"/>
<use href="#m4573d41d4c" x="400.18" y="168.57" style="fill: #0d0887"/>
<use href="#m4573d41d4c" x="408.91" y="166.51" style="fill: #0d0887"/>
<use href="#m4573d41d4c" x="417.64" y="164.84" style="fill: #0d0887"/>
<use href="#m4573d41d4c" x="429.17" y="161.36" style="fill: #0d0887"/>
<use href="#m4573d41d4c" x="437.90" y="158.63" style="fill: #0d0887"/>
</g>
</g>
</g>
<g id="patch_42">
<path d="M 444.34 109.44 
L 490.21 109.44 
Q 492.19 109.44 492.19 108.54 
L 492.19 1.46 
Q 492.19 0.57 490.21 0.57 
L 444.34 0.57 
Q 442.36 0.57 442.36 1.46 
L 442.36 108.54 
Q 442.36 109.44 444.34 109.44 
z
" style="fill: #ffffff; opacity: 0.8; stroke: #cccccc; stroke-width: 0.8; stroke-linejoin: miter"/>
</g>
<g id="line2d_443">
<path d="M 444.16 20.44 
L 462.88 20.44 
" style="fill: none; stroke: #0d0887; stroke-width: 2.2"/>
</g>
<g id="line2d_444">
<path d="M 444.16 32.00 
L 462.88 32.00 
" style="fill: none; stroke: #5302a3; stroke-width: 2.2"/>
</g>
<g id="line2d_445">
<path d="M 444.16 43.56 
L 462.88 43.56 
" style="fill: none; stroke: #8b0aa5; stroke-width: 2.2"/>
</g>
<g id="line2d_446">
<path d="M 444.16 55.11 
L 462.88 55.11 
" style="fill: none; stroke: #b83289; stroke-width: 2.2"/>
</g>
<g id="line2d_447">
<path d="M 444.16 66.67 
L 462.88 66.67 
" style="fill: none; stroke: #db5c68; stroke-width: 2.2"/>
</g>
<g id="line2d_448">
<path d="M 444.16 78.22 
L 462.88 78.22 
" style="fill: none; stroke: #f48849; stroke-width: 2.2"/>
</g>
<g id="line2d_449">
<path d="M 444.16 89.78 
L 462.88 89.78 
" style="fill: none; stroke: #febd2a; stroke-width: 2.2"/>
</g>
<g id="line2d_450">
<path d="M 444.16 101.34 
L 462.88 101.34 
" style="fill: none; stroke: #f0f921; stroke-width: 2.2"/>
</g>
<g id="line2d_451">
<defs>
<path id="m3a4857f80b" d="M 0 3 
C 0.79 3 1.55 2.68 2.12 2.12 
C 2.68 1.55 3 0.79 3 0 
C 3 -0.79 2.68 -1.55 2.12 -2.12 
C 1.55 -2.68 0.79 -3 0 -3 
C -0.79 -3 -1.55 -2.68 -2.12 -2.12 
C -2.68 -1.55 -3 -0.79 -3 0 
C -3 0.79 -2.68 1.55 -2.12 2.12 
C -1.55 2.68 -0.79 3 0 3 
z
"/>
</defs>
<g>
<use href="#m3a4857f80b" x="453.6" y="20.44" style="fill: #0d0887"/>
</g>
</g>
<g id="line2d_452">
<defs>
<path id="m6e8e168a52" d="M 0 3 
C 0.79 3 1.55 2.68 2.12 2.12 
C 2.68 1.55 3 0.79 3 0 
C 3 -0.79 2.68 -1.55 2.12 -2.12 
C 1.55 -2.68 0.79 -3 0 -3 
C -0.79 -3 -1.55 -2.68 -2.12 -2.12 
C -2.68 -1.55 -3 -0.79 -3 0 
C -3 0.79 -2.68 1.55 -2.12 2.12 
C -1.55 2.68 -0.79 3 0 3 
z
"/>
</defs>
<g>
<use href="#m6e8e168a52" x="453.6" y="32.00" style="fill: #5302a3"/>
</g>
</g>
<g id="line2d_453">
<defs>
<path id="mbbd4b45883" d="M 0 3 
C 0.79 3 1.55 2.68 2.12 2.12 
C 2.68 1.55 3 0.79 3 0 
C 3 -0.79 2.68 -1.55 2.12 -2.12 
C 1.55 -2.68 0.79 -3 0 -3 
C -0.79 -3 -1.55 -2.68 -2.12 -2.12 
C -2.68 -1.55 -3 -0.79 -3 0 
C -3 0.79 -2.68 1.55 -2.12 2.12 
C -1.55 2.68 -0.79 3 0 3 
z
"/>
</defs>
<g>
<use href="#mbbd4b45883" x="453.6" y="43.56" style="fill: #8b0aa5"/>
</g>
</g>
<g id="line2d_454">
<defs>
<path id="mb283d067fe" d="M 0 3 
C 0.79 3 1.55 2.68 2.12 2.12 
C 2.68 1.55 3 0.79 3 0 
C 3 -0.79 2.68 -1.55 2.12 -2.12 
C 1.55 -2.68 0.79 -3 0 -3 
C -0.79 -3 -1.55 -2.68 -2.12 -2.12 
C -2.68 -1.55 -3 -0.79 -3 0 
C -3 0.79 -2.68 1.55 -2.12 2.12 
C -1.55 2.68 -0.79 3 0 3 
z
"/>
</defs>
<g>
<use href="#mb283d067fe" x="453.6" y="55.11" style="fill: #b83289"/>
</g>
</g>
<g id="line2d_455">
<defs>
<path id="mcd330cf3b2" d="M 0 3 
C 0.79 3 1.55 2.68 2.12 2.12 
C 2.68 1.55 3 0.79 3 0 
C 3 -0.79 2.68 -1.55 2.12 -2.12 
C 1.55 -2.68 0.79 -3 0 -3 
C -0.79 -3 -1.55 -2.68 -2.12 -2.12 
C -2.68 -1.55 -3 -0.79 -3 0 
C -3 0.79 -2.68 1.55 -2.12 2.12 
C -1.55 2.68 -0.79 3 0 3 
z
"/>
</defs>
<g>
<use href="#mcd330cf3b2" x="453.6" y="66.67" style="fill: #db5c68"/>
</g>
</g>
<g id="line2d_456">
<defs>
<path id="m78f48e9906" d="M 0 3 
C 0.79 3 1.55 2.68 2.12 2.12 
C 2.68 1.55 3 0.79 3 0 
C 3 -0.79 2.68 -1.55 2.12 -2.12 
C 1.55 -2.68 0.79 -3 0 -3 
C -0.79 -3 -1.55 -2.68 -2.12 -2.12 
C -2.68 -1.55 -3 -0.79 -3 0 
C -3 0.79 -2.68 1.55 -2.12 2.12 
C -1.55 2.68 -0.79 3 0 3 
z
"/>
</defs>
<g>
<use href="#m78f48e9906" x="453.6" y="78.22" style="fill: #f48849"/>
</g>
</g>
<g id="line2d_457">
<defs>
<path id="m06d00b92e1" d="M 0 3 
C 0.79 3 1.55 2.68 2.12 2.12 
C 2.68 1.55 3 0.79 3 0 
C 3 -0.79 2.68 -1.55 2.12 -2.12 
C 1.55 -2.68 0.79 -3 0 -3 
C -0.79 -3 -1.55 -2.68 -2.12 -2.12 
C -2.68 -1.55 -3 -0.79 -3 0 
C -3 0.79 -2.68 1.55 -2.12 2.12 
C -1.55 2.68 -0.79 3 0 3 
z
"/>
</defs>
<g>
<use href="#m06d00b92e1" x="453.6" y="89.78" style="fill: #febd2a"/>
</g>
</g>
<g id="line2d_458">
<defs>
<path id="mdd36e7a3ca" d="M 0 3 
C 0.79 3 1.55 2.68 2.12 2.12 
C 2.68 1.55 3 0.79 3 0 
C 3 -0.79 2.68 -1.55 2.12 -2.12 
C 1.55 -2.68 0.79 -3 0 -3 
C -0.79 -3 -1.55 -2.68 -2.12 -2.12 
C -2.68 -1.55 -3 -0.79 -3 0 
C -3 0.79 -2.68 1.55 -2.12 2.12 
C -1.55 2.68 -0.79 3 0 3 
z
"/>
</defs>
<g>
<use href="#mdd36e7a3ca" x="453.6" y="101.34" style="fill: #f0f921"/>
</g>
</g>
</g>
<defs>
<clipPath id="pe8991cb6fa">
<rect x="41.25" y="2.52" width="91.44" height="90.57"/>
</clipPath>
<clipPath id="pd95a757dce">
<rect x="141.48" y="2.52" width="91.65" height="90.57"/>
</clipPath>
<clipPath id="p8d911469cf">
<rect x="41.25" y="102.16" width="91.44" height="90.57"/>
</clipPath>
<clipPath id="pe34b453fc7">
<rect x="141.48" y="102.16" width="91.65" height="90.57"/>
</clipPath>
<clipPath id="pfaf67ad1b8">
<rect x="273.31" y="0.21" width="82.72" height="91.15"/>
</clipPath>
<clipPath id="pa3b7ebcfa6">
<rect x="356.04" y="0.21" width="81.86" height="91.15"/>
</clipPath>
<clipPath id="pbe7b45cf09">
<rect x="273.31" y="100.00" width="82.72" height="91.15"/>
</clipPath>
<clipPath id="p800a5759c8">
<rect x="356.04" y="100.00" width="81.86" height="91.15"/>
</clipPath>
</defs>
</svg>

<svg class="o" width="685" height="310" viewBox="0 0 685 310"><text x="77.00" y="16.20" font-size="13.90" font-style="italic">V</text>
<text x="85.00" y="19.80" font-size="9.00">BG,str</text>
<text x="110.30" y="16.20" font-size="13.90">=</text>
<text x="121.60" y="16.20" font-size="13.90">–</text>
<text x="127.70" y="16.20" font-size="13.90">25</text>
<text x="144.40" y="16.20" font-size="13.90">V</text>
<text x="225.90" y="16.60" font-size="13.90" font-style="italic">V</text>
<text x="233.60" y="20.20" font-size="9.00">BG,rel</text>
<text x="259.10" y="16.60" font-size="13.90">=</text>
<text x="270.80" y="16.60" font-size="13.90">0</text>
<text x="281.00" y="16.60" font-size="13.90">V</text>
<text x="86.70" y="154.60" font-size="13.90" font-style="italic">V</text>
<text x="94.60" y="158.20" font-size="9.00">BG,str</text>
<text x="119.20" y="154.60" font-size="13.90">=</text>
<text x="131.20" y="154.60" font-size="13.90">25</text>
<text x="147.10" y="154.60" font-size="13.90">V</text>
<text x="225.90" y="155.00" font-size="13.90" font-style="italic">V</text>
<text x="233.60" y="158.60" font-size="9.00">BG,rel</text>
<text x="259.10" y="155.00" font-size="13.90">=</text>
<text x="270.80" y="155.00" font-size="13.90">0</text>
<text x="281.00" y="155.00" font-size="13.90">V</text>
<line x1="93.80" y1="59.50" x2="73.70" y2="59.50" stroke="#1a1a1a" stroke-width="1.35"/>
<polygon points="67.70,59.50 74.20,56.90 74.20,62.10" fill="#1a1a1a"/>
<text x="89.30" y="54.70" font-size="13.90">1</text>
<line x1="163.40" y1="59.50" x2="133.20" y2="59.50" stroke="#1a1a1a" stroke-width="1.35"/>
<polygon points="127.20,59.50 133.70,56.90 133.70,62.10" fill="#1a1a1a"/>
<text x="165.90" y="54.70" font-size="13.90">2</text>
<line x1="212.00" y1="60.00" x2="226.80" y2="60.00" stroke="#1a1a1a" stroke-width="1.35"/>
<polygon points="232.80,60.00 226.30,62.60 226.30,57.40" fill="#1a1a1a"/>
<text x="229.30" y="54.90" font-size="13.90">3</text>
<line x1="268.50" y1="60.00" x2="286.60" y2="60.00" stroke="#1a1a1a" stroke-width="1.35"/>
<polygon points="292.60,60.00 286.10,62.60 286.10,57.40" fill="#1a1a1a"/>
<text x="271.60" y="54.90" font-size="13.90">4</text>
<line x1="79.80" y1="195.60" x2="91.90" y2="195.60" stroke="#1a1a1a" stroke-width="1.35"/>
<polygon points="97.90,195.60 91.40,198.20 91.40,193.00" fill="#1a1a1a"/>
<text x="94.40" y="190.40" font-size="13.90">5</text>
<line x1="148.00" y1="195.60" x2="165.30" y2="195.60" stroke="#1a1a1a" stroke-width="1.35"/>
<polygon points="171.30,195.60 164.80,198.20 164.80,193.00" fill="#1a1a1a"/>
<text x="144.70" y="190.40" font-size="13.90">6</text>
<line x1="230.60" y1="195.60" x2="222.60" y2="195.60" stroke="#1a1a1a" stroke-width="1.35"/>
<polygon points="216.60,195.60 223.10,193.00 223.10,198.20" fill="#1a1a1a"/>
<text x="230.30" y="190.40" font-size="13.90">7</text>
<line x1="304.20" y1="195.60" x2="291.40" y2="195.60" stroke="#1a1a1a" stroke-width="1.35"/>
<polygon points="285.40,195.60 291.90,193.00 291.90,198.20" fill="#1a1a1a"/>
<text x="282.70" y="190.40" font-size="13.90">8</text>
<line x1="394.00" y1="18.90" x2="465.01" y2="15.21" stroke="#1a1a1a" stroke-width="1.35"/>
<polygon points="471.00,14.90 464.64,17.83 464.37,12.64" fill="#1a1a1a"/>
<text x="425.60" y="13.70" font-size="13.90">5</text>
<line x1="391.90" y1="42.30" x2="465.20" y2="61.76" stroke="#1a1a1a" stroke-width="1.35"/>
<polygon points="471.00,63.30 464.05,64.15 465.38,59.12" fill="#1a1a1a"/>
<text x="423.00" y="65.90" font-size="13.90">1</text>
<line x1="503.50" y1="14.70" x2="582.91" y2="18.88" stroke="#1a1a1a" stroke-width="1.35"/>
<polygon points="588.90,19.20 582.27,21.45 582.55,16.26" fill="#1a1a1a"/>
<text x="541.10" y="14.00" font-size="13.90">7</text>
<line x1="506.90" y1="64.80" x2="585.02" y2="58.11" stroke="#1a1a1a" stroke-width="1.35"/>
<polygon points="591.00,57.60 584.75,60.74 584.30,55.56" fill="#1a1a1a"/>
<text x="546.30" y="73.00" font-size="13.90">3</text>
<line x1="396.00" y1="155.00" x2="450.06" y2="147.25" stroke="#1a1a1a" stroke-width="1.35"/>
<polygon points="456.00,146.40 449.93,149.90 449.20,144.75" fill="#1a1a1a"/>
<text x="397.30" y="151.60" font-size="13.90">6</text>
<line x1="393.40" y1="209.00" x2="448.77" y2="247.38" stroke="#1a1a1a" stroke-width="1.35"/>
<polygon points="453.70,250.80 446.88,249.23 449.84,244.96" fill="#1a1a1a"/>
<text x="412.40" y="240.20" font-size="13.90">2</text>
<line x1="523.90" y1="142.00" x2="580.04" y2="148.15" stroke="#1a1a1a" stroke-width="1.35"/>
<polygon points="586.00,148.80 579.26,150.68 579.82,145.51" fill="#1a1a1a"/>
<text x="547.10" y="158.30" font-size="13.90">8</text>
<line x1="514.40" y1="255.30" x2="583.62" y2="231.73" stroke="#1a1a1a" stroke-width="1.35"/>
<polygon points="589.30,229.80 583.98,234.36 582.31,229.43" fill="#1a1a1a"/>
<text x="552.50" y="254.20" font-size="13.90">4</text>
<text x="18.20" y="59.60" font-size="13.90">10</text>
<text x="31.10" y="52.30" font-size="9.70">−10</text>
<text x="18.20" y="113.50" font-size="13.90">10</text>
<text x="31.80" y="106.30" font-size="9.70">−11</text>
<text x="18.20" y="198.00" font-size="13.90">10</text>
<text x="31.10" y="190.70" font-size="9.70">−10</text>
<text x="18.20" y="251.90" font-size="13.90">10</text>
<text x="31.80" y="244.70" font-size="9.70">−11</text>
<text x="56.85" y="287.20" font-size="13.90">−10</text>
<text x="119.85" y="287.20" font-size="13.90">0</text>
<text x="171.20" y="287.20" font-size="13.90">10</text>
<text x="196.05" y="287.20" font-size="13.90">−10</text>
<text x="259.05" y="287.20" font-size="13.90">0</text>
<text x="310.40" y="287.20" font-size="13.90">10</text>
<text x="97.70" y="304.40" font-size="13.90" font-style="italic">V</text>
<text x="105.70" y="307.90" font-size="9.70">BG</text>
<text x="124.00" y="304.40" font-size="13.90">(V)</text>
<text x="237.60" y="304.40" font-size="13.90" font-style="italic">V</text>
<text x="245.60" y="307.90" font-size="9.70">BG</text>
<text x="263.90" y="304.40" font-size="13.90">(V)</text>
<text x="21.40" y="305.30" font-size="16.00">(a)</text>
<text x="347.00" y="305.30" font-size="16.00">(b)</text>
<text x="364.20" y="33.70" font-size="13.90">0</text>
<text x="356.60" y="70.50" font-size="13.90">−2</text>
<text x="356.10" y="106.80" font-size="13.90">−4</text>
<text x="364.20" y="172.30" font-size="13.90">0</text>
<text x="356.60" y="209.20" font-size="13.90">−2</text>
<text x="356.10" y="246.00" font-size="13.90">−4</text>
<text x="404.40" y="286.80" font-size="13.90">10</text>
<text x="417.40" y="279.60" font-size="9.70">1</text>
<text x="444.50" y="286.80" font-size="13.90">10</text>
<text x="457.90" y="279.60" font-size="9.70">2</text>
<text x="485.10" y="286.80" font-size="13.90">10</text>
<text x="498.40" y="279.60" font-size="9.70">3</text>
<text x="518.80" y="286.80" font-size="13.90">10</text>
<text x="531.80" y="279.60" font-size="9.70">1</text>
<text x="558.70" y="286.80" font-size="13.90">10</text>
<text x="572.10" y="279.60" font-size="9.70">2</text>
<text x="598.80" y="286.80" font-size="13.90">10</text>
<text x="612.10" y="279.60" font-size="9.70">3</text>
<text x="397.00" y="304.30" font-size="13.90">Stress time (s)</text>
<text x="512.05" y="304.40" font-size="13.90">Relax time (s)</text>
<g transform="translate(10.60 83.60) rotate(-90)"><text x="0.10" y="0.00" font-size="13.90" font-style="italic">I</text><text x="5.90" y="3.60" font-size="9.70">D</text><text x="17.00" y="0.00" font-size="13.90">(A)</text></g>
<g transform="translate(10.60 222.00) rotate(-90)"><text x="0.10" y="0.00" font-size="13.90" font-style="italic">I</text><text x="5.90" y="3.60" font-size="9.70">D</text><text x="17.00" y="0.00" font-size="13.90">(A)</text></g>
<g transform="translate(345.60 92.00) rotate(-90)"><text x="0.40" y="0.00" font-size="15.50">Δ</text><text x="10.60" y="0.00" font-size="13.90" font-style="italic">V</text><text x="20.40" y="3.60" font-size="9.70">t,</text><text x="27.90" y="3.60" font-size="9.70">p</text><text x="37.50" y="0.00" font-size="13.90">(V)</text></g>
<g transform="translate(345.60 230.60) rotate(-90)"><text x="0.40" y="0.00" font-size="15.50">Δ</text><text x="10.60" y="0.00" font-size="13.90" font-style="italic">V</text><text x="20.40" y="3.60" font-size="9.70">t,</text><text x="27.80" y="3.60" font-size="9.70">n</text><text x="37.50" y="0.00" font-size="13.90">(V)</text></g>
<text x="618.60" y="14.90" font-size="13.90" font-style="italic">V</text>
<text x="626.70" y="18.30" font-size="9.70">BG,</text>
<text x="645.20" y="18.30" font-size="9.70">str</text>
<text x="660.20" y="14.90" font-size="13.90">(V)</text>
<rect x="651.3" y="29.40" width="7.0" height="0.75"/>
<text x="659.20" y="32.40" font-size="11.20">25.0</text>
<rect x="651.3" y="45.45" width="7.0" height="0.75"/>
<text x="659.20" y="48.45" font-size="11.20">20.0</text>
<rect x="651.3" y="61.50" width="7.0" height="0.75"/>
<text x="658.70" y="64.50" font-size="11.20">15.0</text>
<rect x="651.3" y="77.55" width="7.0" height="0.75"/>
<text x="658.70" y="80.55" font-size="11.20">10.0</text>
<text x="650.30" y="96.60" font-size="11.20">10.0</text>
<text x="650.30" y="112.65" font-size="11.20">15.0</text>
<text x="650.80" y="128.70" font-size="11.20">20.0</text>
<text x="650.80" y="144.75" font-size="11.20">25.0</text></svg>
</div></body></html>
